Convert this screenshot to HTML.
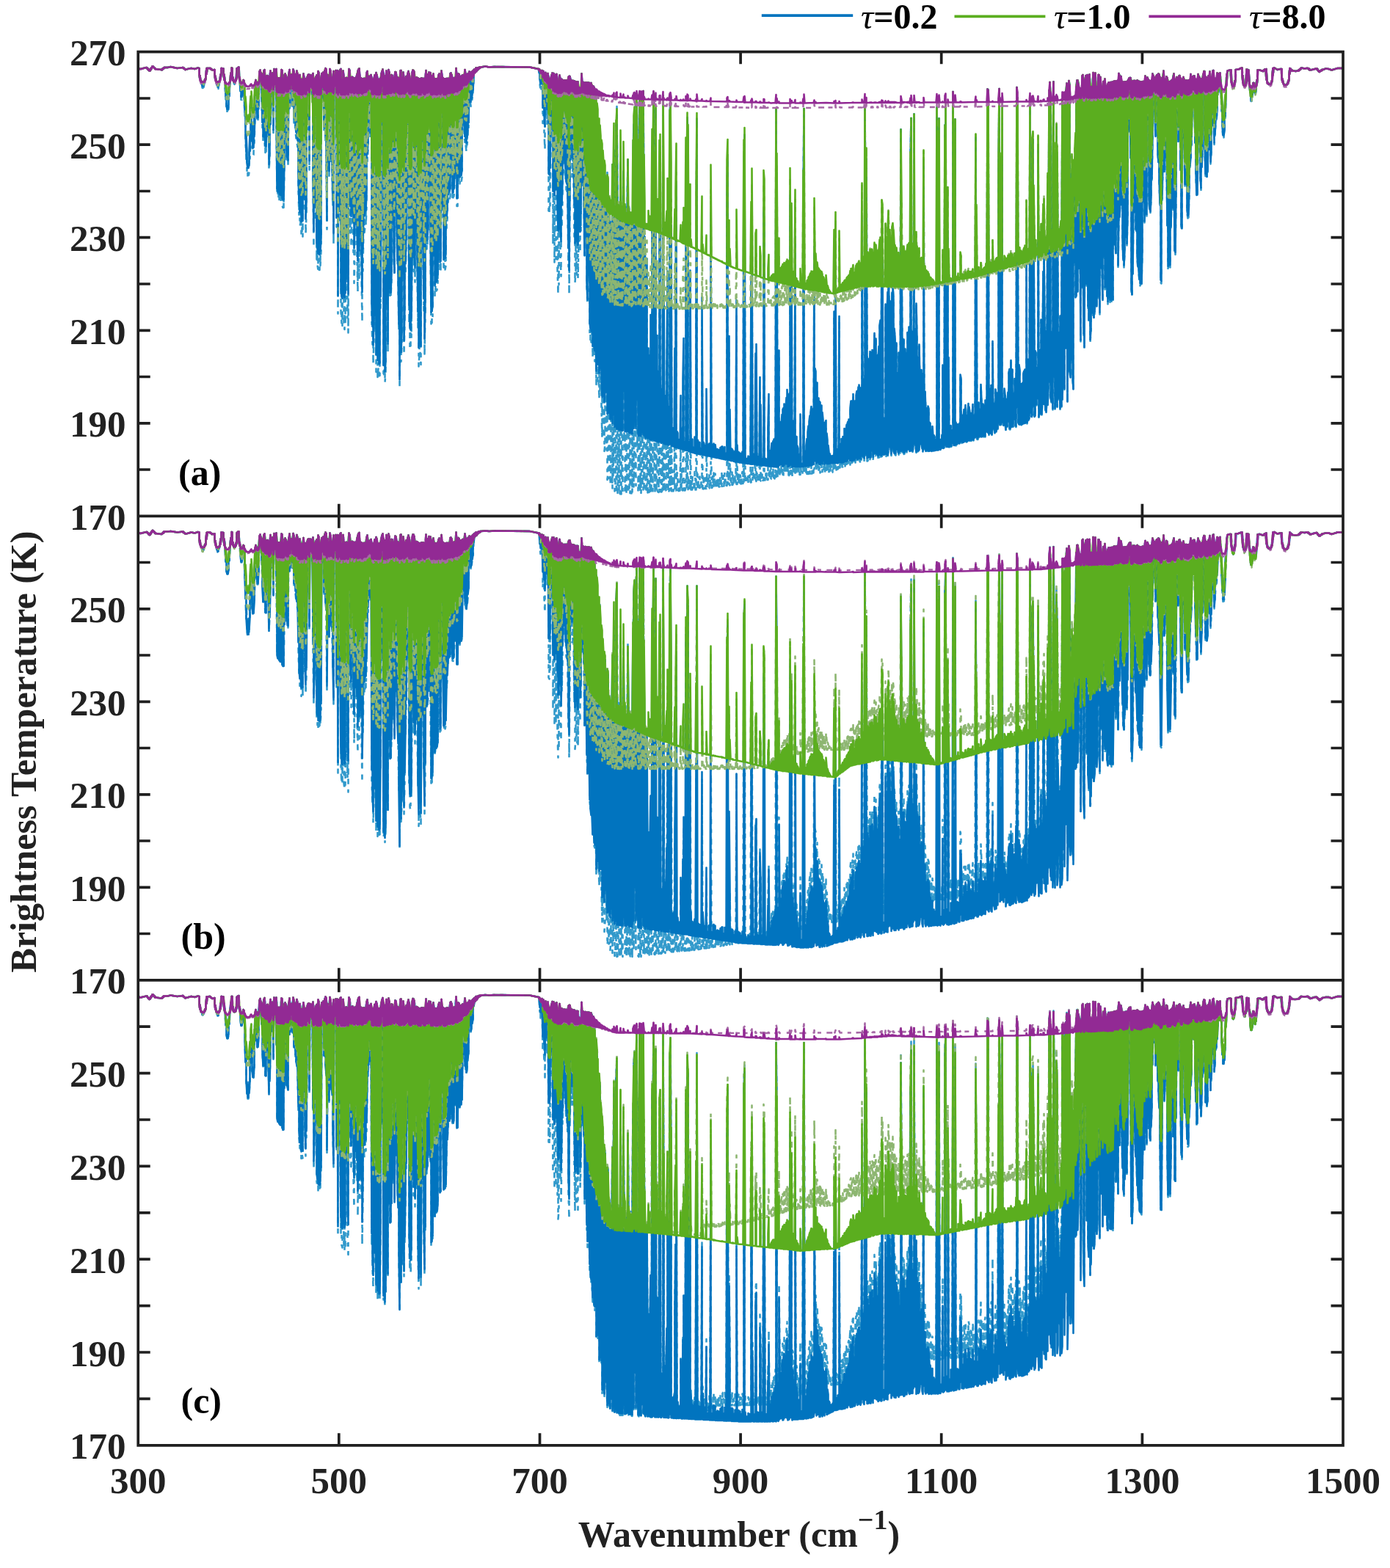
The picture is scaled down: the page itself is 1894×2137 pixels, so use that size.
<!DOCTYPE html><html><head><meta charset="utf-8"><title>Brightness temperature spectra</title><style>html,body{margin:0;padding:0;background:#fff;}svg{display:block}</style></head><body>
<svg xmlns="http://www.w3.org/2000/svg" width="1894" height="2137" viewBox="0 0 1894 2137">
<rect width="1894" height="2137" fill="#fff"/>
<clipPath id="c0"><rect x="188.2" y="70.7" width="1641.8" height="632.6"/></clipPath>
<clipPath id="c1"><rect x="188.2" y="703.3" width="1641.8" height="632.5"/></clipPath>
<clipPath id="c2"><rect x="188.2" y="1335.8" width="1641.8" height="634.0"/></clipPath>
<g clip-path="url(#c0)" fill="none" stroke-linejoin="round" stroke-linecap="butt">
<path d="M188.5 93.5l3 .5l8-2l1 .5v1l1 1v-1l1 1v1l1 1v-1l1-.5v1.5l1-1.5v-1.5l1-1.5v1.5l1-2v-1h1v1l1 .5v-.5l1 1v.5l1 1v-.5l1 .5l7 1l1-.5v1l1-1v-1l1-.5v.5l1-.5v-1h5l4-1l9 2l8-1v.5l1 1v-1l2 2.5v-.5h1l7-1.5l5 1l4-1.5l2 .5v9.5l1 6v-5.5l2 12v-4.5l1 5v4l1 .5l1-6v5l1-5.5v-3.5l1-2.5v2.5l1-2.5v-5.5l1-9v8l1-8h3l1 .5v-.5l2 2v-.5l1 1l3-.5v8l1 6v-5.5l2 14.5v-7l1 10h1v-4l1-6.5v6l2-15v6l1-7v-7.5l3 .5v6.5l1 9v-7.5l1 8v7.5l1 18.5v-17.5l1 18.5v12.5l1 5v-4.5l1-.5v5l1-6v-13l1-18.5v17.5l1-25.5l1-9v8.5l1-10v-5.5l1 .5v12l1 5v-4.5l1 4.5v3l1 2v-1.5l1-3v3.5l1-4l1-16.5v12.5l1-13l1-1l1 12.5v-13l2 35v-16l1 17v8.5h1l1-21v15l1-21l1 1v17.5l1 30.5v-29l1 31v29.5l1 27.5v-26l1 27.5v16.5l1 6.5v-6h1v6l1-7v-16.5l1-26.5v25l1-26.5v-29.5l1-14v24.5l1 30.5v-28.5l1 38.5l1-.5l1-51v35l1-37v-37.5l1-11.5l1 40.5v-36.5l1 54h1v-16l1-36.5v35l1-52l1-2v10.5l1 3.5v-10.5l1 1.5v32.5l1 41v-71.5h1v92l1-98l1-1.5v98.5l1 14.5v-104h1v104.5l1-38.5v-66.5l1-.5v43l1 41v-82.5l1 1v127l1-19v-108.5l1-8.5v77l1-31v-40l1-2.5v12l1 4.5v-17l1 4v77.5l1-87l1 2.5v18.5l1-2v-14.5l1-4.5v67l1 104v-159l1 .5v163h1v-163h1v166l1 2v-168l1-.5v169.5l1-180.5l1 1v184l1 3v-176h1v176l1-59v-121.5l1-2l1 82.5v-80.5l1 3.5v114l1 3v-116.5l1-.5v121.5l1-126.5l1-6v53l1-3.5v-41l1-1.5v13.5l1-1.5v-12.5l1 2.5v41l1-33v-17.5l1 3v70l1-66.5l1 4.5v73l1 10v-83l1-9v97.5l1 6.5v-100.5l1 7v147.5l1 39.5v-186.5l1-5.5v206.5l1-4.5v-196h1v214.5l1-5.5v-209h1v214.5l1-222l1 6.5v131.5l1 51.5v-182.5l1 .5v211l1-26.5v-185l1-2.5v71.5l1-47.5v-26.5l1-1l1 130v-126l1-3.5v16.5l1-3v-12.5h1v15l1 20v-35.5l1-2.5v157.5l1 78v-227l1-.5v192.5l1-68v-125.5l1-2.5v126.5l1 122.5v-251l1 6v252.5l1 7v-271l1 2.5v268l1 .5v-260h1v254l1-20v-235.5l1-6.5v35l1-16.5v-18l1-2l1 80.5v-78.5l1-4.5l1 97v-100l1 1.5v109.5l1 108.5v-205.5l1-5v80l1 47.5v-123.5l1 .5v134.5l1-147l1 3v126l1 .5v-118h1v125.5l1 51.5v-176l1-9.5v235l1-229.5h1v14.5l1-1v-20l1 7.5v206l1-147v-66.5l1 12v319.5l1-330.5l1 .5v145.5l1 61v-209l1-1v329.5l1 17v-332h1v335.5l1-172.5v-175l1 8.5v335.5l1 8.5v-341l1-1v336.5l1-127v-210.5h1v236.5l1 91v-326.5l1-.5v347l1-359.5l1 2v127.5l1 94v-212l1 .5v229.5l1-45.5v-185h1v151l1 88v-237.5h1v279.5l1-44.5v-235l1-.5v193.5l1 24v-217.5l1-5v251l1 46v-301l1-2.5v212l1 72.5v-285.5l1 13v243.5l1-65v-179l1 1v267l1 64v-330.5h1v262l1-66.5v-196h1v210l1-9v-201h1v201l1-27v-181.5l1-2.5v123l1-16.5v-98.5l1-1v63.5l1-.5v-63h1v84l1-33.5v-52.5l1 5.5v330l1 32v-361.5h1v388l1-34v-354l1-5.5v328.5l1 19.5v-346.5l1-5v408l1-122v-283l1 6v406l1-12v-394h1v408.5l1-1.5v-407l1-1.5v313.5l1-148.5v-170.5l1-4v15.5l1 12.5v-30.5l1 6.5v413.5l1-5.5v-403l1-2.5v418l1-14.5v-399l1-11.5v144l1 184v-323l1 3.5v375.5l1-385.5l1 4v281.5l1 26.5v-300h1v298.5l1-26v-277.5l1 1v147l1 57v-201l1 .5v243.5l1 26.5v-270l1-8.5v195l1-25v-169.5l1 7v204.5l1 49.5v-254l1 .5v279.5l1 65.5v-344.5l1 1v422.5l1-433.5l1-.5v397l1-24.5v-361l1-2.5v279.5l1-76.5v-209.5l1 9v375l1-48v-327.5l1-.5v267.5l1-42v-228h1v138.5l1 26v-168l1-3.5v151l1 191.5v-339l1 7v366l1 3.5v-369.5h1v353.5l1-114v-247.5l1-4v88l1 186.5v-274l1 2v212l1 75.5v-279l1-.5v225l1-38v-187.5l1 .5v258.5l1 82v-340l1 1v392l1-16.5v-375.5h1v371.5l1 18v-390l1-.5v221.5l1-7.5v-213.5h1v247l1 69.5v-316.5l1 .5v375l1-60.5v-314.5l1-11.5l1 243.5v-233.5l1-4.5v232l1-15v-212l1-8v95l1 62v-151l1-5.5v226l1 116.5v-338.5l1 5v332l1-8.5v-324.5l1-6.5v129.5l1 129.5v-252.5l1 .5v295.5l1-11v-284.5h1v289l1-1.5v-287.5l1-.5v280l1-119.5v-165l1-2l1 270.5v-265l1 1v262.5l1-273l1 8.5v125l1 66.5v-190.5l1 1.5v261.5l1-5v-256.5h1v260l1-5.5v-254.5l1-.5v204l1-13v-191h1v169l1-8.5v-160.5l1 .5v164l1-4v-167l1-1l1 129v-126.5l1 5v165.5l1 1v-166.5l1-.5v161l1-19.5v-142l1-.5v139.5l1-152l1 12v176h1v-175.5l1-5v88l1 61.5v-149l1 3.5v146l1-10.5v-135.5l1-.5v144.5l1-7v-138.5l1-.5v71.5l1-9v-63l1 .5v75.5l1 17.5v-100.5l1 7v95.5l1 9v-105l1-.5v96.5l1-12v-84.5l1-1v75.5l1-78l1 1.5v37.5l1 8.5v-46l1-1v42l1-6v-36.5l1-1v30l1-18.5v-12.5l1-1v4.5l1-.5v-4l1-2v5l1-1v-3.5l1-.5v3l1-1v-2l1-.5v1.5l1-.5v-1.5h1v.5l1-.5l6-1l5 1l7-.5l48 .5l12 2.5l1 5.5v-5.5l1 1v19l1 8.5v-26.5l1 1v24.5l1-25.5l1 1.5v70.5l1-14.5v-56.5l1 4v81l1 21v-103l1-1l1 57v-52.5l1-.5v66l1-69l1 7.5v183.5l1 1.5v-184.5l1-.5v173l1-83v-90.5l1-4.5v39.5l1 37.5v-80l1 1v232.5l1-143.5v-89.5l1 9.5v248l1-102v-147.5l1-6.5v251.5l1-252l1 7v258l1 34v-289l1-.5v277.5l1-285.5l1 5.5v236.5l1 32v-267.5l1-1v202.5l1-39.5v-161.5h1v125.5l1-14v-111.5h1v125.5l1 10v-135.5h1v153l1 2.5v-155.5h1v174.5l1 79.5v-258.5l1-1v297l1-126v-171l1 5v98.5l1 9.5v-107.5l1 .5v132.5l1-2v-130.5h1v128l1 84.5v-212l1 .5v274l1-14.5v-259h1v259l1 4.5v-263.5h1v268l1-48.5v-208.5l1 21v177l1 24.5v-173.5l1-47v190l1-214l1 15v137l1-64.5v-76l1 .5v155l1 81v-231l1-5v211l1-25v-186h1v276l1 26v-255l1-47v261.5l1 9v-270h1v340l1 10v-331l1-19v353.5l1-1v-349.5l1 1.5v370l1-32v-338l1 1.5v371l1 2.5v-354l1 67v239.5l1 79v-376l1 17v342.5l1 12v-327l1 98.5v218l1 35.5v-320.5l1-45.5v358.5l1-27v-250l1 48.5v245.5l1 43v-280l1-65v343.5l1-44.5v-291.5l1 101v254.5l1-9.5v-345l1-4v278.5l1 78.5v-270l1-108.5v419l1-10.5v-404l1 141.5v271l1-.5v-384.5l1 132v261.5l1-12.5v-166.5l1-141.5v286.5l1 39v-433.5l1 33.5v385.5l1-101v-326.5l1 54v392l1-4v-336.5l1-165v495.5l1 13v-527.5l1 136v391l1-27.5v-369.5l1 2v396.5h1v-135l1-293.5v395l1 33.5v-272l1-124.5v392.5l1 3.5v-307l1-119.5v360l1 2v-321l1 88v297.5l1-6.5v-364.5l1 16v354.5l1-26v-360l1-63.5v447.5l1 1v-393l1 6.5v388l1-1v-309.5l1-76.5v349.5l1 37v-384.5l1-1.5v386l1-215v-226.5l1-50v482.5l1-60v-439.5l1 126v324l1 48v-514.5l1-18.5v448.5l1 38v-325l1 128v252.5l1 1.5v-468.5l1-77.5v508l1 36.5v-261.5l1-280.5v543l1-46.5v-488l1 259.5v259l1 11.5v-543.5l1 186.5v357.5l1 .5v-312.5l1 62v254l1-3.5v-262l1-16.5v277.5l1 4v-123.5l1-18v138.5l1 2.5v-122l1-9v131l1 .5v-195l1 75.5v119.5h1v-444l1 63v379l1-140v-403l1 186v358l1 .5l1-517v506.5l1 10.5v-60l1-104.5v162l1 2l1-110v110.5l1-1.5v-405.5l1-21.5v314l1 114v-83l1 22v61l1-2l1-535.5v529.5l1 8v-272.5l1 267l1 5.5v-71.5l1-4v73.5l1 1.5v-121.5l1-145v189l1 77.5v-59l1 27.5v31l1-5v-497.5l1-29.5v523l1 8.5v-336.5l1 337l1-4v-24l1 19.5v8.5l1-3.5l1-147.5v151l1-1v-236.5l1-167v404h1v-25l1 2.5v21.5l1 1v-6l1-7.5v13.5l1-.5l1-80.5v76.5l1 4v-31.5l1 12v19l1 .5v-107.5l1-60.5v161l1 7l1-13.5v13.5l1-3.5v-426.5l1 108.5v321l1-.5v-501.5l1 31.5v469.5l1 1v-14.5l1 6v8.5l1-.5v-272l1 272h1v-8l1-12v20h1v-6.5l1-2v8.5h1v-24.5l1 11v13.5h1v-247.5l1-253v500h1v-21l1 2.5v18.5h1v-16l1-1.5v17.5h1v-6l1-4v9.5l1-4v-230l1 233.5l1 .5v-19.5l1 2.5v16.5h1v-14.5l1 8.5v6h1v-99l1 98.5h1v-9l1-8v17h1v-18.5h1v18l1-.5v-359l1 359.5l1-.5v-9l1-10v19l1-.5v-19.5l1 10.5v9.5l1-.5v-18.5l1 7v11.5h1v-10l1-3.5v13h1v-11.5l1-.5v12h1l1-16v15.5l1-.5v-16l1-1.5v18l1-.5v-18l1 8.5v9.5h1v-9l1-9.5v17.5l1 .5v-9.5l1 5v4l1 .5v-386l1-57.5v440l1 3l1-180.5v179l1 1.5v-73.5l1 72.5l1 .5v-17l1-.5v17.5l1-.5v-15.5l1 10v5.5h1v-10.5l1-5v15h1l1-233v233h1v-24.5l1 24.5l1-.5v-14.5l1 14.5h1v-13.5l1 7v6.5l1-.5v-10.5l1-5.5v16h1l1-441.5v441l1-.5v-470l1 470.5h1v-3l1-4v6.5h1l1-11v11l1-.5v-8.5l1-1.5v10h1l1-268v268l1-20.5v-345.5l1 365l1 .5v-15l1 5v9.5h1l1-158.5v155l1 3v-171l1 171h1v-7l1-5v12h1l1-125v122.5l1 2v-85.5l1 85l1-.5v-9l1 3.5v6l1-1v-363.5l1 24v340h1v-6l1-4.5v10.5l1-.5v-9l1 3.5v5.5h1v-54l1-48v100l1 1.5v-20.5l1-2v22.5l1-.5v-22.5l1-10v32.5l1-.5v-30l1-6v36l1-1.5v-37l1 6v32.5l1-5.5l1-499.5v504.5l1-9v-403.5l1 411l1 1v-51l1-113v162l1-2v-54.5l1-5.5v60.5l1-.5v-54l1-16v70l1 2v-79.5l1-2v81l1-2v-84.5l1 2v81l1-.5v-75l1-16.5v92l1-1.5v-102.5l1 17.5v90l1-.5v-87l1-14.5v100.5l1-2v-376.5l1 377l1-4v-275.5l1 282.5l1-1v-63.5l1 11v52l1 .5l1-320.5v320h1v-41l1-1v42h1v-29l1 3v25.5l1-1.5v-15.5l1 6v11h1v-73l1 73h1l1-4.5v4.5l1-.5v-371.5l1-127v498.5l1-1.5v-17l1-3v21l1 .5v-29.5l1-8.5v37.5h1v-47l1-8.5v55.5l1-.5v-61l1-8v69h1v-74l1-7.5v81.5h1v-77.5l1-.5v74l1 3l1-303.5v298.5l1-9v-119.5l1 4v124l1 4v-91l1-21.5v108l1 3v-84.5l1-4.5v89.5l1 2.5v-87.5l1 1.5v86l1-2v-76l1-4v79.5l1 2.5v-72l1 10.5v55.5l1 1.5v-53l1 7.5v50l1-4.5v-53.5l1-2.5v51.5l1 9v-42.5l1 9.5v33l1-.5v-25.5l1 9.5v16.5l1-1v-13.5l1 4v10.5l1-.5v-10l1 10l1-.5v-11.5l1 1v9.5l1-3.5v-208l1 210h1v-261l1 260.5l1-1v-10l1-9.5v19.5l1-1.5l1-202.5v199l1 3v-19l1-7.5v20.5l1 5v-32.5l1 3v29.5l1-.5v-35l1 2v33l1-1.5v-45l1 1.5v44.5l1-6v-35l1-10v50h1v-51.5l1-3v51.5l1-1.5v-53.5l1 3.5v51l1 2.5v-73l1-9.5v82.5l1-2v-53.5l1-27v82l1-.5v-91l1 27.5v59l1 4.5v-64.5l1-17.5v80l1-3v-84.5l1-6v89.5l1 4.5v-78.5l1-21v90l1 8v-101l1 9v91l1 2v-98l1 4.5v90l1-6v-319l1 207.5v113.5l1 4v-106.5l1 12.5v96l1-42v-443.5l1 176v304l1-37v-369l1 281.5v129.5l1-.5v-136.5l1 7v128.5l1-4.5v-107.5l1-33v145.5h1v-123l1-22v135l1-7v-130.5l1 8.5v138.5l1-8.5v-106.5l1-55.5v164.5l1-5v-114l1-38v157.5l1 .5v-117.5l1-18v136l1 2.5v-131.5l1-19v149l1-.5v-177.5l1-7v179l1 7v-123l1-157.5v279.5l1-4.5v-266.5l1 267l1 3.5l1-51v49.5l1-8v-197l1 37v168.5l1-17.5v-168.5l1-36.5v223l1-7v-256.5l1 57v196l1-3v-197.5l1 29v174l1 6.5v-184.5l1-36.5v213.5l1-5.5v-219.5l1 21.5v208l1 2v-171l1 11.5v159l1 1v-137.5l1-13.5v143l1 2.5v-105l1 1.5v107l1 1.5v-138l1 52v76l1 7.5l1-441v429.5l1 11v-278l1 145v132.5l1-1v-151.5h1v155l1-.5v-127l1-14.5v133.5l1 5.5v-129l1-4.5v134l1-8v-154.5l1 6.5v151.5l1 3v-168.5l1 21v149.5l1-3v-395l1-58v455l1-4v-116.5l1-42.5v163l1-6l1-454.5v443.5l1 7.5v-157l1 30.5v128.5l1 8.5v-202.5l1 49v144l1 8v-127.5l1 7v121l1-1.5v-144l1 59.5v77.5l1-7.5v-91.5l1-3v98.5l1 9v-102.5l1 31.5v75l1-11v-388l1 388l1 7v-78.5l1 28.5v53.5l1-9.5v-50l1 7.5v50.5l1-12.5v-47.5l1 3v58.5l1-5v-34.5l1 1.5v37.5l1-3v-26l1 4v25.5l1-1v-33l1 13.5v19.5h1v-21l1 2v17.5l1 1.5v-13l1-2v14.5l1-.5v-468l1 150.5v318h1v-434l1-19.5v438.5l1 13.5v-14l1 2.5v12.5l1-3.5l1-17v17.5h1v-113l1 113.5l1-1l1-440.5v435l1 2v-467.5l1 469.5l1 1l1-295.5v294.5l1 1v-122.5l1 121.5l1-2.5v-13.5l1-12.5v28l1-.5v-21l1 .5v15l1 1.5v-479.5l1 483.5l1-.5l1-445.5v431.5l1 13.5v-31l1 17.5v13l1-3v-25l1 1v17.5l1 8v-21l1-7v28l1-9.5v-84.5l1 5v76l1 11.5v-37l1 13v24h1v-31.5l1-13v44l1-2v-29l1-19v47l1 2v-35.5l1 1v34.5l1-4.5v-33l1-14v51l1-6v-40.5l1 9v36.5l1-5v-32l1 1v36l1-.5v-28.5l1-19.5v44l1 4v-30.5l1-3v24.5l1 6.5l1-410.5v408.5l1-3.5v-226l1 232.5h1v-23.5l1-25.5v46h1v-37.5l1 7.5v20.5l1 9.5v-71l1 25v47l1-1v-22.5l1-22v34l1 10v-39.5l1-2.5v40l1 2v-48.5l1 5.5v30.5l1 6.5l1-468v452l1 18v-469l1 470.5l1-9v-53.5l1 39.5v19.5l1 2.5v-66l1 46v21l1-7.5v-119.5l1 116.5l1 3v-29l1-6v40l1-7.5v-51.5l1 8.5v50l1-14.5v-39l1 11.5v37l1-39.5v-281l1-143.5v447l1 12.5v-346.5l1 343l1 2v-149.5l1-289v410.5l1 25.5v-20l1-12v37l1-13v-37.5l1 8.5v35.5l1 12.5v-34l1-8.5v31l1 6v-31.5l1-15v30l1 9.5v-65.5l1-5.5v81l1 .5v-37l1-56.5v84l1 7.5l1-79v77l1 1v-45.5l1 7.5v28.5l1-4v-52l1 15.5v48.5l1 1l1-463v381.5l1 55.5v-423l1 444.5l1 2.5v-82l1 7v73l1 1.5v-48.5l1-7v55l1 1v-47.5l1-10v53l1 3.5v-69l1-3.5v68.5l1 3v-73.5l1 26v46l1-19v-205.5l1 225.5l1-6v-42l1-39v82.5l1-1.5l1-432v415l1 9.5v-258l1 263l1-3v-368l1-8v364.5l1-2v-224.5l1 148v93.5l1-2v-88.5l1 2.5v62l1 9v-42.5l1-8v42l1-1.5v-345.5l1 372l1-4.5v-86l1-.5v53l1 34v-128.5l1 38.5v90.5l1-21v-71l1-103v157l1 24.5v-211.5l1 97v104.5l1 17.5v-102l1-5.5v111.5l1-21.5v-77l1-170v258l1-20.5v-133l1-276.5v398.5l1-15.5v-394l1 20v411.5l1 5v-95h1v73l1 32v-270.5l1-176.5v401l1 1.5v-304l1 348.5l1-30.5v-109l1-251v310.5l1 76.5v-342.5l1 183.5v149l1-35.5v-54.5l1-1v62.5l1 41.5v-127l1 2.5v114.5l1 6.5v-153.5l1-264.5v409.5l1-41.5v-362.5l1 366l1 23v-391l1 41v251l1 43.5v-350.5l1-11.5v175l1 260.5v-174l1-249v380.5l1-27.5v-369l1 6v388.5l1 11v-133.5l1-78.5v110l1 77.5v-258.5l1 62.5v221l1 15.5v-246l1-9v81.5l1-5v-106l1-44.5v204l1-1.5v-287l1-8.5v177.5l1 112v-289.5l1 4.5v253l1-131.5v-115.5h1v187l1 158.5v-343.5l1 29.5v242l1-158v-132l1-1.5v191.5l1 163.5v-338.5h1v357l1-226v-141.5l1-5v158.5l1 128v-262l1-25.5v114l1 204v-317l1 14.5v321l1-337l1 16.5v348l1-14v-333.5l1-.5v272.5l1 39v-306.5l1-24v263.5l1 73v-317.5l1-12v322l1-20v-308.5l1 18.5v297.5l1 4.5v-301.5l1 77.5v212l1-306h1v232.5l1 94v-312l1-11.5v91l1 171v-248.5l1 23v224l1 46.5v-294.5l1-6.5v149l1 91.5v-236l1-8v287l1-1.5v-274.5l1 .5v194l1 94v-290l1-2.5v300l1-25.5v-276.5h1v283.5l1 16v-299.5l1-.5v293l1 7v-300h1v297l1 2.5v-300l1-.5v225l1-16v-209.5h1v220l1 17v-237h1v200.5l1-36v-165l1 1v253l1-72v-192l1 3v194.5l1-24v-163.5l1-6v82l1 95v-170l1 .5v217.5l1 28.5v-245.5h1v252.5l1-20.5v-232.5h1v209.5l1 4.5v-214h1v223l1-39.5v-184.5l1-2v71.5l1-73.5l1-.5l1 110.5v-110.5l1 4.5v284.5l1 10v-293.5l1-1v265.5l1-99v-167h1v166.5l1 14.5v-181l1 .5v202.5l1 4v-206l1-1.5v243l1 13.5v-256l1 1v260l1 12.5v-272.5l1 .5v278l1-2v-276l1 .5v277.5l1-46.5v-231.5l1-.5v165.5l1-1.5v-164l1 .5v192l1-25v-175l1 3v137.5l1 50.5v-185l1-4l1 66v-63.5l1 1.5v164.5l1 13.5v-177h1v179.5l1-19v-161l1-1v136.5l1-59.5v-85.5l1 2.5v17.5l1-2.5v-13l1 1.5v49.5l1 31v-80.5l1-3v29l1 2v-32.5l1 1.5v105.5l1 13.5v-122l1 1v143.5l1 34.5v-174.5l1 5.5v274.5l1 1.5v-278l1-2.5v167l1-51v-117l1-8.5l1 139v-127h1v106.5l1-22v-85l1-3.5v102l1 103v-203.5l1 5.5v254.5l1-4.5v-250h1v251l1 2v-253.5l1-.5v201l1-48v-154l1-.5v137.5l1 39.5v-181l1-4.5v90l1 154.5v-234h1v236l1-86.5v-152.5l1-3v19l1 30v-47l1 2v85l1-63v-27.5l1-.5l1 131v-127.5l1 3.5v198.5l1 6v-204.5l1-2.5v82l1-36.5v-48l1 3.5v84l1 61v-143.5h1v138l1 5.5v-144l1 .5v180l1 7.5v-187.5l1-.5v187l1-38.5v-149h1v119l1-11.5v-115.5l1 7v90.5l1-54v-40l1 2v30.5l1 11v-44.5h1v33.5l1 59v-88h1v130l1 31v-160.5h1v160l1-85.5v-82l1 3.5v31.5l1 62v-92.5l1 2v137.5l1 14v-150.5l1-1v123l1-26v-98l1-5.5v16l1-1.5v-18.5l1 .5v100l1 42.5v-132l1-3v104.5l1 35v-136.5h1v128.5l1-54v-79l1 .5v101.5l1-108l1 9v117l1-16v-102l1-.5v65l1 3v-76.5l1-.5v59l1 42v-90h1v78l1-19.5v-58.5h1v56l1-10.5v-53l1 1v29.5l1-6v-18.5l1-5.5v16.5l1-2v-15l1 13l1 39.5v-28l1 29.5v21.5l1 12.5v-11.5l1 6.5v5l1-6v-19.5l1-28.5v27.5l1-29v-17l1-13.5v13.5l1-18.5l4-1l1 15v-15l1 20l1 3.5v-3l1 3v1.5l1-2v-3l1-5.5v5l1-6v-14l4-.5l5-2v9l1 11.5v-10l1 13l1 1v-1h1v1l1-1l1-21.5v18l1-17.5h1l1 15.5v-15l2 34.5v-13.5l1 14v7.5h1l1-21v15l1-19h1l1 14.5v-10.5l1 7.5v4l1-4.5v-8l1-7v6.5l1-7.5v-12.5h3l4 1.5l1-1v1l1-1v-.5l1-1v1l1-1l1 14v-14.5l1 18l1 2v-1.5l1 1.5v1h1h2l1-4.5v3l1-3.5v-7l1-10v9.5l1-9.5l1-.5l4 2.5l4-1h2v13l1 5v-4.5l1 4.5v2l1 1.5v-1l1 1.5h1h1l1-1.5v1l1-1v-1.5l1-3.5v3l1-3.5v-7.5l1-8.5v7.5l1-7l2 3v-1l1 1l4 .5l3-.5l1-1v1l1-1v-.5l1-1v1l1-1v-1l1-.5l4 1l3-.5h2v.5l1 1v-1l1 1v1h1l8-2l1 1v-1l1 1v1l1 1.5v-1l1 1v1l1-.5v-.5l2-.5v-1l1-.5v.5l1-.5l4-1.5l4 .5l4 1.5l8-2.5h7" stroke="#3199CB" stroke-width="2.6" stroke-dasharray="7 7 5 8 8 6 6 9"/>
<path d="M188.5 93.5l3 .5l8-2l1 .5v1l1 1v-1l1 1v1l1 1v-1l1-.5v1.5l1-1.5v-1.5l1-1.5v1.5l1-2v-1h1v1l1 .5v-.5l1 1v.5l1 1v-.5l1 .5l7 1l1-.5v1l1-1v-1l1-.5v.5l1-.5v-1h5l4-1l9 2l8-1v.5l1 1v-1l2 2.5v-.5h1l7-1.5l5 1l4-1.5l2 .5v9.5l1 6v-5.5l1 7.5l1 2.5v-2.5l1 3v3.5l1 .5l1-5.5v4.5l1-6.5l1-2.5v2.5l1-2.5v-5.5l1-9v8l1-8h3l1 .5v-.5l2 2v-.5l1 1l3-.5v8l1 6v-5.5l1 7.5l1 5v-5l1 5v2.5h1v-4l1-4v4l1-4l1-9v6l1-7v-7.5l3 .5v6.5l1 9v-7.5l1 8l1 22v-15.5l1 16.5v11.5l1 5v-4.5l1-.5v5l1-5.5v-12.5l1-17v16.5l1-22l1-9v8.5l1-10v-5.5l1 .5v12l1 5v-4.5l1 6l1 1.5v-1.5l1-1v1.5l1-2l1-16.5v12.5l1-13l1-1l1 12.5v-13l2 32v-13l1 14v7.5h1l1-19v14l1-18l1 1v14.5l1 28v-26.5l1 28.5v26.5l1 25.5v-24l1 25v15l1 6.5v-5.5h1v5.5l1-6.5v-15l1-24.5v23l1-24.5v-27l1-12.5v22.5l1 28v-26l1 35l1-.5l1-46.5v31.5l1-33.5v-34.5l1-9l1 35.5v-33l1 49h1v-14.5l1-33.5v32l1-47l1-2v10.5l1 3.5v-10.5l1 1.5v29l1 37.5v-64.5h1v83.5l1-89.5l1-1.5v90.5l1 13.5v-95h1v95.5l1-35v-61l1-.5v39l1 39v-76.5l1 1v118.5l1-17.5v-101.5l1-8.5v72.5l1-29v-37.5l1-2.5v12l1 4.5v-17l1 4v73.5l1-83l1 2.5v18.5l1-2v-14.5l1-4.5v64l1 99v-151l1 .5v155h1v-155h1v157.5l1 1.5v-159l1-.5v160l1-171l1 1v174l1 2.5v-165.5h1v165l1-55.5v-114l1-2l1 77v-75l1 3.5v106l1 3v-108.5l1-.5v112.5l1-117.5l1-6v49.5l1-3.5v-37.5l1-1.5v13.5l1-1.5v-12.5l1 2.5v37l1-29v-17.5l1 3v64l1-60.5l1 4.5v66l1 9v-75l1-9v89l1 6v-91.5l1 7v133.5l1 36v-169l1-5.5v187.5l1-4.5v-177h1v194l1-5.5v-188.5h1v193l1-200.5l1 6.5v118l1 46.5v-164l1 .5v190l1-23.5v-167l1-2.5v64l1-43v-23.5l1-1l1 117.5v-113.5l1-3.5v16.5l1-3v-12.5h1v15l1 16v-31.5l1-2.5v143.5l1 71.5v-206.5l1-.5v175l1-62v-114l1-2.5v115l1 112.5v-229.5l1 6v231l1 6.5v-249l1 2.5v246.5l1 1v-239h1v234l1-18v-217.5l1-6.5v32l1-14.5v-17l1-2l1 74.5v-72.5l1-4.5l1 91v-94l1 1.5v103l1 102.5v-193l1-5v75l1 45v-116l1 .5v126.5l1-139l1 3v119h1v-110.5h1v118l1 48.5v-165.5l1-9.5v221.5l1-216h1v14.5l1-1v-20l1 7.5v193l1-138.5v-62l1 12v295.5l1-306.5l1 .5v132.5l1 55v-190l1-1v297.5l1 13.5v-296.5h1v298l1-154.5v-155.5l1 8.5v295l1 5.5v-297.5l1-1v292.5l1-112.5v-181h1v202l1 76v-277l1-.5v294l1-306.5l1 2v106.5l1 78v-175l1 .5v189l1-39v-151h1v123l1 74.5v-196h1v232l1-36v-196l1-.5v161.5l1 21.5v-183l1-5v213l1 41.5v-258.5l1-2.5v182.5l1 64.5v-248l1 13v210.5l1-55.5v-155.5l1 1v234l1 57v-290.5h1v231.5l1-58v-174h1v187l1-7.5v-179.5h1v180l1-24v-163.5l1-2.5v112l1-15v-89l1-1v57.5l1-.5v-57h1v77l1-31v-48l1 5.5v306.5l1 31v-337h1v362l1-31v-331l1-5.5v308l1 19v-325.5l1-5v384.5l1-114.5v-267l1 6v383l1-10v-373h1v388l1-1.5v-386.5l1-1.5v298l1-141v-162.5l1-4v15.5l1 11v-29l1 6.5v397l1-5v-387l1-2.5v403l1-13.5v-385l1-11.5v139l1 178.5v-312.5l1 3.5v363.5l1-373.5l1 4v274l1 26v-292h1v291.5l1-25.5v-271l1 1v143.5l1 56.5v-197l1 .5v239l1 26v-265l1-8.5v192l1-24v-167.5l1 7v202l1 47.5v-249.5l1 .5v273l1 62.5v-335l1 1v410l1-421l1-.5v384l1-25v-347.5l1-2.5v268l1-74.5v-200l1 9v357.5l1-47v-311l1-.5v253l1-40v-215.5h1v129.5l1 24.5v-157.5l1-3.5v141l1 178v-315.5l1 7v339.5l1 2.5v-342h1v326l1-105.5v-228.5l1-4v81.5l1 173.5v-254.5l1 2v196.5l1 71v-259l1-.5v208.5l1-35v-174l1 .5v241l1 77v-317.5l1 1v366.5l1-15.5v-351h1v347.5l1 17.5v-365.5l1-.5v207.5l1-6.5v-200.5h1v232.5l1 66v-298.5l1 .5v354l1-57v-297l1-11.5l1 231.5v-221.5l1-4.5v220l1-14v-201l1-8v90l1 59v-143l1-5.5v215l1 111.5v-322.5l1 5v316l1-7.5v-309.5l1-6.5v123.5l1 124v-241l1 .5v282l1-10v-272h1v276.5l1-1.5v-275l1-.5v267.5l1-114.5v-157.5l1-2l1 257v-251.5l1 1v249l1-259.5l1 8.5v118l1 62.5v-179.5l1 1.5v246.5l1-5v-241.5h1v244.5l1-6v-238.5l1-.5v191l1-12.5v-178.5h1v158l1-8v-150l1 .5v153l1-3.5v-156.5l1-1l1 121v-118.5l1 5v155l1 .5v-155.5l1-.5v151l1-18.5v-133l1-.5v130.5l1-143l1 12v165.5l1-.5v-164.5l1-5v82.5l1 58v-140l1 3.5v137l1-9.5v-127.5l1-.5v134.5l1-6.5v-129l1-.5v65.5l1-9v-57l1 .5v68.5l1 15v-91l1 7v85.5l1 7.5v-93.5l1-.5v86l1-11.5v-74.5l1-1v66.5l1-69l1 1.5v32.5l1 7.5v-40l1-1v36.5l1-5.5v-31.5l1-1v26l1-16.5v-10.5l1-1v4.5l1-.5v-4l1-2v5l1-1v-3.5l1-.5v3l1-1v-2l1-.5v1.5l1-.5v-1.5h1v.5l1-.5l6-1l5 1l7-.5l48 .5l12 2.5l1 4v-4l1 1v13l1 6.5v-18.5l1 1v17l1-18l1 1.5v49.5l1-10.5v-39.5l1 4v56l1 15.5v-72.5l1-1l1 40.5v-36l1-.5v46l1-49l1 7.5v129l1 1.5v-130l1-.5v121.5l1-60v-62l1-4.5v27l1 25.5v-55.5l1 1v160l1-102v-58.5l1 9.5v157l1-67v-91.5l1-6.5v156.5l1-157l1 7v176.5l1 30v-203.5l1-.5v202l1-210l1 5.5v191.5l1 29.5v-220l1-1v171.5l1-31.5v-138.5h1v108l1-11.5v-96.5h1v110.5l1 10v-120.5h1v138l1 3.5v-141.5h1v159.5l1 68.5v-232.5l1-1v264.5l1-115.5v-149l1 5v82.5l1 5.5v-87.5l1 .5v105l1-4.5v-100.5h1v99l1 70v-168.5l1 .5v220.5l1-11v-209h1v211.5l1 6.5v-218h1v222.5l1-39v-176l1 18v152l1 27v-154l1-39.5v169.5l1-191.5l1 15v133l1-60.5v-76l1 .5v153l1 82.5v-230.5l1-5v210l1-25v-185h1v272.5l1 23.5v-245l1-51v254l1 8.5v-262h1v326.5l1 8v-315.5l1-19v338.5l1-1v-334.5l1 1.5v354.5l1-30.5v-324l1 1.5v356.5l1 2.5v-341l1 64.5v230.5l1 73.5v-359.5l1 16v323l1 11.5v-309.5l1 91.5v203l1 27v-294l1-42.5v329.5l1-29.5v-212l1 28v219.5l1 34v-247.5l1-59.5v305.5l1-44.5v-234l1 65.5v220.5l1-13v-295.5l1 21v213l1 61.5v-229l1-67v325.5l1-8v-312.5l1 92.5v227l1 .5v-292.5l1 80.5v220l1-10.5v-140l1-118.5v241.5l1 33v-353l1 45v296.5l1-84.5v-276.5l1 76.5v301l1-2.5v-285l1-126.5v406.5l1 10.5v-436.5l1 136v300l1-23.5v-282l1 1.5v305l1 .5v-114.5l1-248.5v335l1 28.5v-230.5l1-75v302.5l1 3.5v-260.5l1-93v297.5l1 2v-241.5l1 43.5v253l1-5v-290l1 1v294.5l1-22v-276.5l1-72.5v370l1 1v-306l1 6v301.5l1-.5v-264.5l1-35v269l1 31.5v-298.5l1-1.5v300.5l1-184v-190l1-47.5v414.5l1-51.5v-377.5l1 139v248l1 42v-433l1-22v382.5l1 33v-250l1 80.5v217.5l1 1.5v-404l1-63.5v435.5l1 31.5v-226l1-238.5v465.5l1-39v-422l1 224v224.5l1 10v-468l1 159v310l1 1v-271.5l1 54v220.5l1-2.5v-228l1-14v241.5l1 3.5v-107.5l1-15.5v121l1 2v-105.5l1-8v114.5l1 .5v-170l1 65.5v105h1v-388l1 55v332l1-122.5v-351l1 161.5v313.5l1 1l1-453.5v444.5l1 9.5v-53l1-91.5v143l1 2l1-96.5v97l1-1v-357l1-19v276.5l1 101.5v-73.5l1 20v53.5l1-1.5l1-472v467l1 7.5v-241l1 236.5l1 5.5v-63.5l1-3v65l1 1.5v-107.5l1-128.5v168l1 69v-52.5l1 25v27.5l1-4v-443l1-24.5v464.5l1 7.5v-300l1 301l1-3.5v-21.5l1 25.5l1-2.5l1-131.5v135l1-.5v-212l1-149v362h1v-22l1 2v20l1 1v-5.5l1-6.5v12h1l1-72v68.5l1 4.5v-28.5l1 11v17.5l1 .5v-96.5l1-55v146l1 6l1-11.5v12l1-2v-386l1 98.5v289.5l1 .5v-454l1 28.5v425.5l1 1v-13l1 5.5v7.5l1 .5v-247l1 247.5l1 .5v-7.5l1-10.5v18l1 .5v-6l1-1.5v7.5l1 .5v-22l1 10.5v12h1v-225.5l1-231v457h1v-19l1 2.5v16.5l1 .5v-15l1-1v16l1 .5v-5.5l1-3.5v8.5l1-3v-211l1 214.5l1 .5v-17.5l1 2.5v15l1 .5v-13.5l1 8.5v5l1 .5v-91l1 91l1 .5v-8.5l1-7.5v16h1v-17l1 .5v17h1v-332l1 332.5h1v-8.5l1-8.5v17.5h1v-18.5l1 10.5v8l1 .5v-17.5l1 7v10.5l1 .5v-9.5l1-2.5v12h1v-10.5l1-.5v11.5h1l1-14.5v15l1-.5v-14.5l1-1.5v17h1v-17l1 8v9l1 .5v-8.5l1-8.5v16.5l1 1v-9l1 4.5v4l1 .5v-361.5l1-54v413l1 3l1-169v168l1 1.5v-69.5l1 69l1 1v-16.5l1 .5v16h1v-14.5l1 10v5l1 .5v-10l1-4.5v14.5l1 .5l1-220.5v220.5h1v-23l1 23l1 .5v-14l1 14.5h1v-13l1 7v6h1v-9.5l1-5.5v15.5h1l1-419v419h1v-447.5l1 448h1v-2.5l1-4v6.5l1 .5l1-10.5v10.5h1v-8.5l1-1v9.5l1 .5l1-256v256l1-19.5v-330l1 349.5h1v-14l1 5v9l1 .5l1-151.5v148l1 3.5v-164l1 164.5h1v-6.5l1-5v11.5h1l1-119.5v117.5l1 2.5v-82.5l1 82.5h1v-9l1 3.5v6l1-1v-350l1 23.5v327.5h1v-5.5l1-4v10h1v-9l1 4v5h1v-52l1-46v97l1 1.5v-20l1-1.5v21.5h1v-21.5l1-10v31.5h1v-29l1-5.5v35l1-1.5v-36l1 6.5v31l1-4.5l1-484v489l1-8.5v-392.5l1 400l1 1v-49.5l1-109.5v157l1-1.5v-53l1-5v58.5l1-.5v-52l1-16v68.5l1 2v-77.5l1-2v79l1-1.5v-83l1 2.5v79l1-.5v-73l1-16.5v90.5l1-1.5v-100l1 17v88l1-.5v-84.5l1-14.5v98.5l1-2v-367.5l1 368l1-4v-269l1 276l1-.5v-62.5l1 11v51l1 .5l1-313.5v313.5h1v-40.5l1-.5v41h1v-28.5l1 3.5v25l1-1.5v-15.5l1 6.5v10.5h1v-71.5l1 71.5h1l1-4.5v4.5h1v-364.5l1-123.5v487.5l1-1v-17l1-3v20.5l1 .5v-29l1-8.5v37h1v-46l1-8.5v54.5l1-1v-59.5l1-8v67.5l1 .5v-72.5l1-8v80h1v-75.5l1-1v72.5l1 3l1-297v292l1-9v-117l1 4v121l1 4.5v-89.5l1-20.5v105l1 3.5v-83l1-4.5v87.5l1 2.5v-85.5l1 1.5v84.5l1-2.5v-74.5l1-3.5v77.5l1 2v-70l1 10v54.5l1 1.5v-52l1 7.5v49l1-4.5v-52.5l1-2.5v50.5l1 8.5v-41.5l1 9.5v32l1-.5v-24.5l1 9v16l1-1v-13l1 3.5v10h1v-10l1 10h1v-10.5l1 .5v9.5l1-3v-203.5l1 206.5h1v-256l1 256h1v-10l1-9v19l1-1l1-199v196.5l1 2.5v-18l1-7v20l1 5.5v-32.5l1 3v29.5l1-.5v-35l1 2.5v32.5l1-1.5v-44.5l1 1.5v44l1-5.5v-34.5l1-10.5v49.5h1v-51l1-3v51l1-1v-53l1 3.5v50.5l1 2.5v-72l1-9.5v81.5l1-2v-52.5l1-27.5v82l1-1v-90l1 27.5v58.5l1 4v-63.5l1-17.5v79l1-2.5v-84l1-5.5v88.5l1 4.5v-77.5l1-21v89l1 8v-100l1 9v90l1 2v-97l1 4.5v89.5l1-6v-316.5l1 206v112.5l1 4v-106l1 13v95l1-41.5v-439.5l1 174.5v301l1-36.5v-366l1 279v128.5h1v-135.5l1 6.5v128l1-4.5v-107l1-32.5v144.5h1v-122l1-21.5v134l1-7v-130l1 9v137l1-8.5v-105.5l1-55v163.5l1-5v-113l1-38v156.5l1 .5v-117l1-17.5v135l1 2.5v-131l1-18.5v148l1-.5v-176l1-7v177.5l1 7v-122l1-156.5v278l1-4.5v-265l1 265.5l1 3.5l1-50.5v49l1-7.5v-196.5l1 37v167.5l1-17.5v-167.5l1-36v222l1-7.5v-255l1 57v194.5l1-2.5v-196.5l1 28.5v173.5l1 6.5v-184l1-36v212l1-5v-218.5l1 21.5v207l1 2v-170l1 11.5v158l1 1v-136.5l1-14v142.5l1 2.5v-104.5l1 1.5v106.5l1 1.5v-137l1 51.5v76l1 7l1-438.5v427l1 11v-276.5l1 144.5v132l1-1v-151h1v154.5l1-.5v-126.5l1-14.5v133l1 5.5v-128.5l1-4.5v133.5l1-8v-153.5l1 6v151l1 3v-167.5l1 20.5v149l1-3v-393l1-58v453.5l1-4v-116.5l1-42v162.5l1-6l1-453v441.5l1 7.5v-156.5l1 31v127.5l1 9v-202l1 48.5v143.5l1 8.5v-127l1 6.5v121l1-1.5v-143.5l1 59v77l1-7v-91l1-3.5v98.5l1 9v-102.5l1 31.5v75l1-11v-387l1 387l1 7v-78l1 28.5v53l1-9.5v-49.5l1 7v50.5l1-12.5v-47.5l1 3.5v58l1-5v-34.5l1 1.5v37.5l1-2.5v-26.5l1 4.5v25l1-1v-33l1 14v19l1 .5v-21.5l1 2v17.5l1 1.5v-13l1-2v14.5h1v-467l1 150v317h1v-432.5l1-19.5v437l1 14v-14l1 2.5v12l1-3.5l1-17v18h1v-113l1 113.5l1-1l1-439.5v434l1 1.5v-466l1 468l1 1l1-294.5v293.5l1 1v-122l1 121.5l1-3v-13l1-12.5v27.5h1v-21.5l1 1v15l1 1.5v-478.5l1 482h1l1-444.5v430l1 13.5v-30.5l1 17.5v12.5l1-3v-24.5l1 1v17.5l1 8v-21.5l1-6.5v28l1-9.5v-84.5l1 5v76l1 11v-37l1 13v24l1 .5v-32l1-13v44.5l1-2v-29l1-19.5v47l1 2.5v-35.5l1 1v34.5l1-4.5v-33.5l1-13.5v50.5l1-5.5v-40.5l1 9v36.5l1-5v-32l1 1v35.5h1v-28.5l1-20v44.5l1 4v-30.5l1-3.5v24.5l1 6.5l1-409.5v407.5l1-3v-225.5l1 231.5h1v-23l1-26v46h1v-37l1 7.5v20.5l1 9.5v-71l1 24.5v47l1-1v-22.5l1-21.5v34l1 9.5v-39.5l1-2v39.5l1 2.5v-49l1 6v30.5l1 6.5l1-467v450.5l1 18v-467.5l1 469l1-9v-53l1 39.5v19l1 3v-66l1 46v21l1-8v-119l1 116l1 3v-28.5l1-6v40l1-8v-51l1 8.5v49.5l1-14v-39l1 11.5v37l1-40v-280l1-143v445.5l1 12.5v-345.5l1 342.5l1 1.5v-149l1-288v409.5l1 25.5v-20l1-12.5v37l1-12.5v-38l1 9v35l1 12.5v-33.5l1-8.5v31l1 6v-32l1-14.5v29.5l1 10v-66l1-5v80.5l1 .5v-36.5l1-56.5v84l1 7l1-78.5v77l1 1v-45.5l1 7.5v28l1-4v-51.5l1 15.5v48l1 1l1-461.5v380.5l1 55.5v-422l1 443.5l1 2v-81.5l1 7v73l1 1v-48l1-7v54.5l1 1v-47l1-10v53l1 3v-69l1-3v68l1 3.5v-73.5l1 26v46l1-19v-205l1 224.5l1-6v-41.5l1-39v82.5l1-1.5l1-430v413l1 9v-257l1 262.5l1-3v-367.5l1-8v363.5l1-1.5v-224l1 147.5v93l1-1.5v-88.5l1 2.5v61.5l1 9v-42.5l1-7.5v42l1-2v-344l1 371l1-5v-85.5l1-.5v53l1 33.5v-128l1 38.5v90.5l1-21.5v-70.5l1-102.5v156.5l1 24.5v-211.5l1 97v104.5l1 17.5v-102l1-5.5v111l1-21v-77l1-169.5v257.5l1-20.5v-133l1-275.5v397.5l1-16v-392.5l1 20v410.5l1 4.5v-94.5h1v72.5l1 32v-269.5l1-176v399.5l1 2v-303.5l1 348l1-31v-108.5l1-249v308.5l1 76.5v-341.5l1 182.5v148.5l1-35.5v-54l1-1v62.5l1 41v-126l1 2v114.5l1 6.5v-153.5l1-263.5v408l1-41v-361.5l1 365l1 22.5v-389.5l1 41v250l1 43.5v-349.5l1-11.5v174.5l1 259.5v-173l1-247.5v378.5l1-27.5v-368l1 6v387.5l1 11v-133.5l1-78v109.5l1 77.5v-258l1 62.5v220.5l1 15.5v-245.5l1-9.5v82l1-5.5v-105.5l1-44.5v203.5l1-2v-285.5l1-8.5v176.5l1 111.5v-288l1 4.5v252l1-131.5v-114.5h1v186l1 157.5v-341.5l1 29.5v240l1-157v-131l1-1.5v190l1 162.5v-336h1v354.5l1-225v-140l1-5v157l1 127v-259.5l1-25.5v113l1 202v-314l1 14.5v318.5l1-334.5l1 16.5v345l1-14v-330.5l1-.5v270l1 38.5v-303.5l1-24v261l1 73v-315l1-12v319l1-19.5v-306l1 18.5v294.5l1 5v-299l1 77v209.5l1-303h1v230.5l1 93v-309l1-11.5v90l1 169.5v-246l1 23v221.5l1 46v-291.5l1-6.5v147.5l1 90.5v-233.5l1-8v284l1-1.5v-271.5l1 .5v191.5l1 93.5v-287l1-2.5v296.5l1-25v-273.5h1v280.5l1 16v-296.5l1-.5v289.5l1 7.5v-297h1v294l1 2v-296.5l1-.5v222.5l1-16v-207h1v218l1 16.5v-234.5h1v198l1-35v-163.5l1 1v250.5l1-71.5v-190l1 3v192.5l1-24v-161.5l1-6v81.5l1 93.5v-168l1 .5v215l1 28v-242.5h1v249.5l1-20v-230h1v207.5l1 4v-211.5h1v220.5l1-39v-182.5l1-2v70.5l1-72.5l1-.5l1 109.5v-109.5l1 4.5v281.5l1 9.5v-290l1-1v263l1-98.5v-165h1v165l1 14v-179l1 .5v200.5l1 4v-204l1-1.5v240l1 14v-253.5l1 1v257l1 12.5v-269.5l1 .5v275l1-2v-273l1 .5v274.5l1-46v-229l1-.5v163.5l1-1.5v-162l1 .5v190l1-25v-173l1 3v136l1 49.5v-182.5l1-4l1 65v-62.5l1 1.5v162.5l1 13.5v-175h1v177.5l1-19v-159l1-1v134.5l1-58.5v-84.5l1 2.5v17.5l1-2.5v-13l1 1.5v49l1 30.5v-79.5l1-3v28.5l1 2v-32l1 1.5v104.5l1 13v-120.5l1 1v142l1 34v-172.5l1 5.5v271l1 1.5v-274.5l1-2.5v165l1-50.5v-115.5l1-8.5l1 137.5v-125.5h1v105.5l1-22.5v-83.5l1-3.5v100.5l1 102.5v-201.5l1 5.5v251.5l1-4.5v-247h1v248l1 2v-250.5l1-.5v198l1-47v-152l1-.5v136l1 38.5v-178.5l1-4.5v89l1 152.5v-231h1v233l1-85.5v-150.5l1-3v18.5l1 30v-46.5l1 2v84l1-62.5v-27l1-.5l1 129v-125.5l1 3.5v195.5l1 6v-201.5l1-2.5v80.5l1-36v-47l1 3.5v82.5l1 60v-141h1v135.5l1 5.5v-141.5l1 .5v177l1 7v-184l1-.5v183.5l1-37.5v-146.5h1v116.5l1-11v-113.5l1 7v89l1-52.5v-40l1 2v30.5l1 10v-43.5h1v33.5l1 57.5v-86.5h1v127.5l1 30.5v-157.5h1v157l1-84v-80.5l1 3.5v30.5l1 61v-90.5l1 2v134.5l1 14v-147.5l1-1v120.5l1-25.5v-96l1-5.5v16l1-1.5v-18.5l1 .5v98l1 41.5v-129l1-3v102l1 34v-133h1v125.5l1-53v-77l1 .5v99.5l1-106l1 9v114l1-15.5v-99.5l1-.5v63l1 3v-74.5l1-.5v57.5l1 41v-87.5h1v76l1-19v-57h1v54l1-10v-51.5l1 1v28.5l1-6v-17.5l1-5.5v16.5l1-2v-15l1 13l1 37.5v-27l1 28.5v20.5l1 12.5v-11.5l1 6.5v5l1-6v-18.5l1-27.5v26l1-27.5v-16l1-13.5v13.5l1-18.5l4-1l1 15v-15l1 20l1 2.5v-2l1 2v1.5l1-1.5v-2.5l1-5.5v5l1-6v-14l4-.5l5-2v9l1 11.5v-10l1 13l1 1v-1h1v1l1-1l1-21.5v18l1-17.5h1l1 15.5v-15l2 33.5v-12.5l1 13v7h1l1-19.5v13.5l1-17.5h1l1 13.5v-9.5l1 6.5v4l1-4.5v-7l1-7v6.5l1-7.5v-12.5h3l4 1.5l1-1v1l1-1v-.5l1-1v1l1-1l1 14v-14.5l1 18l1 2v-1.5l1 1.5v1h1h2l1-4.5v3l1-3.5v-7l1-10v9.5l1-9.5l1-.5l4 2.5l4-1h2v13l1 5v-4.5l1 4.5v2l1 1.5v-1l1 1.5h1h1l1-1.5v1l1-1v-1.5l1-3.5v3l1-3.5v-7.5l1-8.5v7.5l1-7l2 3v-1l1 1l4 .5l3-.5l1-1v1l1-1v-.5l1-1v1l1-1v-1l1-.5l4 1l3-.5h2v.5l1 1v-1l1 1v1h1l8-2l1 1v-1l1 1v1l1 1.5v-1l1 1v1l1-.5v-.5l2-.5v-1l1-.5v.5l1-.5l4-1.5l4 .5l4 1.5l8-2.5h7" stroke="#0174BF" stroke-width="2.6"/>
<path d="M188.5 93.5l3 .5l8-2l1 .5v1l1 1v-1l1 1v1l1 1v-1l1-.5v1.5l1-1.5v-1.5l1-1.5v1.5l1-2v-1h1v1l1 .5v-.5l1 1v.5l1 1v-.5l1 .5l7 1l1-.5v1l1-1v-1l1-.5v.5l1-.5v-1h5l4-1l9 2l8-1v.5l1 1v-1l2 2.5v-.5h1l7-1.5l5 1l4-1.5l2 .5v9.5l1 6v-5.5l1 7.5l1 2v-2l1 2.5v3h1l1-4.5v4l1-5.5l1-2.5v2.5l1-2.5v-5.5l1-9v8l1-8h3l1 .5v-.5l2 2v-.5l1 1l3-.5v8l1 6v-5.5l1 7.5l1 4v-4l1 6l1-.5v-3l1-3v3l1-3l1-9v6l1-7v-7.5l3 .5v6.5l1 9v-7.5l1 8l1 17v-11.5l1 12v7.5l1 3v-2.5l1-.5v3l1-3.5v-8l1-12.5v12l1-17l1-9v8.5l1-10v-5.5l1 .5v12l1 5v-4.5l1 6l1 1v-1l1-1v1.5l1-2l1-16.5v12.5l1-13l1-1l1 12.5v-13l1 18.5l1 10.5v-10l1 10.5v5.5h1l1-14v10.5l1-14l1 1v11.5l1 19v-18l1 19v16.5l1 14.5v-14l1 14.5v8l1 3.5v-3h1v3l1-3.5v-8.5l1-13.5v13l1-14v-16.5l1-8.5v14.5l1 16.5v-15.5l1 21l1-.5l1-27.5v19l1-20.5v-23.5l1-7.5l1 26v-23.5l1 34h1l1-33v22.5l1-23.5v-14l1-2v10.5l1 3.5v-10.5l1 1.5v24.5l1 24.5v-47h1v58l1-64l1-1.5v70l1 12v-73h1v75.5l1-21v-55l1-.5v38.5l1 27.5v-64.5l1 1v91.5l1-11.5v-80.5l1-8.5v63l1-21.5v-35.5l1-2.5v12l1 4.5v-17l1 4v60l1-69.5l1 2.5v18.5l1-2v-14.5l1-4.5v56.5l1 64v-108.5l1 .5v111l1 .5v-111.5h1v113.5l1 1.5v-115l1-.5v116.5l1-127.5l1 1v130l1 2v-121h1v121l1-34.5v-91l1-2v22l1 46v-66l1 3.5v86.5l1 2v-88l1-.5v91.5l1-96.5l1-6v50l1-3v-38.5l1-1.5v13.5l1-1.5v-12.5l1 2.5v39l1-31v-17.5l1 3v63l1-59.5l1 4.5v63.5l1 7.5v-71l1-9v84l1 5v-85.5l1 7v114.5l1 25v-139l1-5.5v154l1-2.5v-145.5h1v158l1-3.5v-154.5h1v158l1-165.5l1 6.5v107l1 33v-139.5l1 .5v157.5l1-16.5v-141.5l1-2.5v66l1-38v-30.5l1-1l1 108v-104l1-3.5v20.5l1-7v-12.5h1v17.5l1 20v-38l1-2.5v127.5l1 49v-168l1-.5v147l1-44v-104l1-2.5v105.5l1 78v-185.5l1 6v184.5l1 4v-200l1 2.5v198l1 1v-190.5h1v187.5l1-12v-177l1-6.5v39l1-14.5v-24l1-2l1 76.5v-74.5l1-4.5v30.5l1 60v-93.5l1 1.5v100.5l1 74v-162l1-5v76.5l1 35v-107.5l1 .5v114.5l1-127l1 3v110.5l1-.5v-101.5h1v106.5l1 33.5v-139l1-9.5v179.5l1-174h1v17.5l1-4v-20l1 7.5v156l1-99.5v-64l1 12v220.5l1-159v-72.5l1 .5v119l1 39v-160.5l1-1v231.5l1 9v-226h1v228l1-101.5v-138.5l1 8.5v229.5l1 4.5v-231l1-1v228.5l1-73.5v-156h1v171.5l1 52v-222.5l1-.5v234l1-246.5l1 2v106.5l1 59.5v-156.5l1 .5v166.5l1-27.5v-140h1v118.5l1 54v-171h1v195l1-26v-169l1-.5v144.5l1 14v-158.5l1-5v180.5l1 26v-210.5l1-2.5v159.5l1 42.5v-203l1 13v173.5l1-39v-135l1 1v186.5l1 35.5v-221.5h1v183.5l1-39.5v-144.5h1v153l1-5.5v-147.5h1v147.5l1-17v-138l1-2.5v101.5l1-11v-82.5l1-1v57.5h1v-57.5h1v72.5l1-24.5v-50l1 5.5v220l1 17v-236.5h1v251l1-18v-233l1-5.5v221.5l1 10.5v-230.5l1-5v265.5l1-66v-196.5l1 6v260.5l1-6.5v-254h1v262l1-1v-261l1-1.5v211.5l1-86.5v-130.5l1-4v15.5l1 15.5v-33.5l1 6.5v268l1-3v-260l1-2.5v269.5l1-7.5v-257.5l1-11.5v115.5l1 109v-219.5l1 3.5v246l1-256l1 4v197.5l1 14.5v-204h1v203.5l1-14.5v-194l1 1v115.5l1 35v-147.5l1 .5v172.5l1 15v-187.5l1-8.5v147l1-15.5v-131l1 7v150l1 29v-179l1 .5v193.5l1 37.5v-230.5l1 1v272.5l1-283.5l1-.5v264.5l1-13v-240l1-2.5v195.5l1-45v-157l1 9v247.5l1-26.5v-221.5l1-.5v188l1-24.5v-166h1v110.5l1 17v-131l1-3.5v121l1 113.5v-231l1 7v242.5l1 2v-244.5h1v236l1-64.5v-179.5l1-4v79l1 118v-196.5l1 2v159l1 44.5v-195l1-.5v163.5l1-23v-141l1 .5v183.5l1 46v-229l1 1v257l1-9v-248h1v246l1 9.5v-256l1-.5v161.5l1-4.5v-156.5h1v176.5l1 39.5v-216l1 .5v248l1-33v-215l1-11.5l1 179v-169l1-4.5v170.5l1-8v-157.5l1-8v84.5l1 43.5v-122l1-5.5v172.5l1 70.5v-239l1 5v234.5l1-2.5v-233l1-6.5v113.5l1 86v-193l1 .5v222l1-5.5v-216.5h1v221.5l1-.5v-221l1-.5v216l1-79v-141.5l1-2l1 211v-205.5l1 1v203.5l1-214l1 8.5v111.5l1 45.5v-156l1 1.5v201l1-3.5v-197.5h1v199.5l1-4v-195.5l1-.5v163l1-9v-154h1v138.5l1-6.5v-132l1 .5v134l1-3v-138l1-1l1 111.5v-109l1 5v132.5l1-.5v-132l1-.5v128.5l1-14v-115l1-.5v112l1-124.5l1 12v134l1-1v-132.5l1-5v76.5l1 39.5v-115.5l1 3.5v111.5l1-8v-103.5l1-.5v105.5l1-5.5v-101l1-.5v56l1-8.5v-48l1 .5v54l1 6.5v-68l1 7v61l1 1.5v-63l1-.5v58l1-7.5v-50.5l1-1v45l1-30.5v-17l1 1.5v22.5l1 4v-26.5l1-1v23.5l1-5v-19l1-1v15l1-9.5v-6.5l1-1v4.5l1-.5v-4l1-2v5l1-1v-3.5l1-.5v3l1-1v-2l1-.5v1.5l1-.5v-1.5h1v.5l1-.5l6-1l5 1l7-.5l48 .5l12 2.5l1 2.5v-2.5l1 1v7l1 5v-11l1 1v10.5l1-7.5v-4l1 1.5v31.5l1-5.5v-26.5l1 4v36l1 11v-48l1-1l1 32v-27.5l1-.5v35.5l1-38.5l1 7.5v85.5l1 1.5v-86.5l1-.5v84l1-35.5v-49l1-4.5v26l1 20.5v-49.5l1 1v117.5l1-62.5v-55.5l1 9.5v122l1-44v-79.5l1-6.5v129.5l1-130l1 7v130.5l1 15v-142.5l1-.5v138.5l1-146.5l1 5.5v123.5l1 13v-135.5l1-1v108l1-17.5v-89h1v72.5l1-6.5v-66h1v74l1 5.5v-79.5h1v89l1 2v-91h1v100.5l1 38.5v-143.5l1-1v162l1-58v-104l1 5v65l1 5.5v-70l1 .5v84h1v-84h1v83l1 45v-127.5l1 .5v158.5l1-6v-152h1v153.5l1 4v-157.5h1v160l1-23v-125.5l1 16v105.5l1 15.5v-101l1-33v119.5l1-145l1 15v103l1-21.5v-85l1 .5v121.5l1 50.5v-167l1-5v167.5l1-21.5v-146h1v204l1 18.5v-175.5l1-47v204l1-1v-202.5h1v237l1 4v-213.5l1-27.5v243.5l1-2.5v-238l1 1.5v247.5l1-15v-232.5l1 7.5v243l1 1.5v-228l1 51.5v155.5l1 34v-230.5l1 13.5v207l1 8v-197.5l1 64.5v128.5l1 13.5v-185l1-16v196l1-13v-127l1 10v132.5l1 15v-142.5l1-20.5v162l1-23v-118.5l1 37v106l1-6.5v-147l1 7.5v119.5l1 19v-91l1-69v173l1-4.5v-164l1 77.5v90.5l1 .5v-141l1 54v90.5l1-4v-54l1-49.5v96l1 13.5v-181l1 33v143l1-28.5v-171l1 68.5v138l1-1.5v-114l1-136v248l1 3.5v-270.5l1 136v134.5l1-7.5v-133l1 2v139h1l1-195v186l1 9.5v-87l1-52.5v138.5l1 1v-101l1-74v153l1 1v-108l1 32v97l1-1.5v-126l1 6.5v121.5l1-7.5v-123l1-63.5v193.5l1 .5v-138.5l1 6.5v132.5l1-.5v-102l1-29v121l1 10.5v-129.5l1-1.5v131l1-66.5v-123l1-45v231l1-19.5v-225.5l1 121v108.5l1 16.5v-267.5l1-18v257.5l1 10v-106.5l1 47v80.5l1 .5v-211l1-70v270.5l1 10.5v-84l1-195v279l1-15.5v-254.5l1 153.5v112.5l1 3v-282.5l1 126v156.5l1 .5v-104.5l1 24.5v81l1-1v-84.5l1-6v90.5l1 1v-36.5l1-11v47l1 .5v-36l1-4.5v40.5l1 .5v-60.5l1 25v35.5h1v-207l1 39v167.5l1-52.5v-229l1 122.5v159.5h1l1-257v253l1 4v-23.5l1-43.5v66.5l1 .5l1-40v40.5l1-.5v-186l1-12v154l1 44.5v-32.5l1 15v17.5l1-.5l1-276v274l1 2.5v-115l1 113.5l1 2v-21.5l1-7v28l1 .5v-49.5l1-64.5v84.5l1 29.5v-21l1 12v9l1-1.5v-247.5l1-23.5v270l1 2.5v-149l1 149l1-1v-7l1 8.5l1-1l1-60.5v61.5l1-.5v-99l1-86.5v186h1v-7l1 .5v6.5h1v-1.5l1-2v3.5h1l1-32.5v31l1 1.5v-9l1 3.5v5.5h1v-42.5l1-26.5v67l1 2l1-4v4l1-1v-200l1 59.5v141.5l1-.5v-248.5l1 22.5v226l1 .5v-4.5l1 2v2h1v-116.5l1 116.5h1v-2l1-3.5v5.5h1v-1.5l1-1v2.5h1v-7l1 3.5v3.5h1v-105l1-143.5v248.5h1v-6l1 .5v5.5h1v-4.5l1-.5v5h1v-1.5l1-1.5v3l1-1.5v-98.5l1 99.5l1 .5v-6l1 1v4.5h1v-4l1 2v2h1v-38l1 38h1v-2.5l1-2.5v5h1v-5h1v5h1v-161.5l1 161.5h1v-2.5l1-3v5.5h1v-6l1 3.5v2.5h1v-5.5l1 2v3.5h1v-3l1-1v4l1-.5v-3h1v3h1l1-4.5v4.5h1v-4.5l1-.5v5h1v-5l1 2.5v2.5h1v-2.5l1-2.5v5h1v-2.5l1 1v1.5h1v-177l1-34v210l1 1l1-76v75.5l1 .5v-29.5l1 29l1 .5v-5h1v5l1-.5v-4.5l1 3v1.5h1v-3l1-1.5v4.5h1l1-99v99h1v-9.5l1 9.5h1v-4.5l1 4l1-3.5v3.5h1v-1.5l1-1.5v3h1v-4.5l1 1.5v3h1v-211.5l1-20v231.5h1v-3.5l1 3.5h1v-2l1 1.5l1-3v3h1v-2.5l1-.5v3h1l1-116v116l1-8v-159.5l1 167.5h1v-4.5l1 1.5v2.5h1l1-66.5v65.5l1 1v-72l1 72h1v-2l1-1.5v3.5h1l1-50.5v50l1 .5v-34.5l1 34h1v-2.5l1 1v1.5h1v-167l1 13.5v153.5h1v-1.5l1-1.5v3h1v-2.5l1 1v1.5h1v-21l1-20v40.5h1v-6l1-1v7h1v-7l1-3.5v10.5h1v-10l1-2v12l1-.5v-12.5l1 2v11l1-1.5l1-262.5v264l1-2.5v-193l1 195l1 .5l1-67.5v67l1-1v-19l1-2v21h1v-19l1-5.5v24.5l1 1v-28.5l1-.5v28.5l1-.5v-30l1 .5v29h1v-27l1-6v33.5l1-1v-36.5l1 6.5v32l1-.5v-30.5l1-6v36.5l1-.5v-174l1 174l1-1.5v-120.5l1 123l1-.5v-22l1 4v18h1l1-143.5v143.5h1v-14h1v14h1v-10l1 1.5v8.5l1-.5v-5.5l1 2.5v3.5h1v-29l1 29h2l1-173.5v173.5h1v-263.5l1 263l1 .5v-7.5l1-2.5v10h1v-13.5l1-2.5v16h1v-19.5l1-2v21h1v-24l1-2v26.5h1v-29l1 1.5v27l1-1v-26.5h1v27.5l1-1.5v-132.5l1 82.5v46l1 3.5v-51.5l1 20v33l1-1.5v-39.5l1 10.5v30.5h1v-32.5l1 2v31l1 .5v-31l1 3v27h1v-28.5l1 3.5v25.5l1-1.5v-20l1 1.5v19l1 1.5v-18l1-2.5v19l1-2v-21.5l1 10v15h1v-11.5l1 2.5v9h1v-5.5l1 .5v4.5l1 .5v-3h1v3h2v-3h1v2.5l1-1v-91l1 91.5h1v-116l1 115.5l1-.5v-3.5l1-3.5v7l1-1l1-87.5v86l1 1v-6.5l1-3v7.5l1 1v-11l1 .5v10.5l1-.5v-12.5l1 1v11.5l1-1v-15.5h1v15.5l1-2v-12.5l1-3.5v17h1v-18.5l1-1v18l1-.5v-19l1 1v17.5l1 1v-26l1-3.5v29l1-1v-18.5l1-10.5v28.5l1-.5v-33.5l1 10.5v20.5l1 1v-22l1-7v28l1-1.5v-30.5l1-2.5v31.5l1 1v-27.5l1-7.5v31.5l1 1.5v-35.5l1 2.5v32.5l1-.5v-33.5l1 .5v32l1-2.5v-141l1 141h1v-37.5l1 4.5v33l1-14v-236l1 115v132l1-13v-176l1 189l1-.5v-47.5l1 2v44.5l1-1.5v-37l1-12v50.5h1v-42.5l1-8v48l1-2.5v-46l1 3.5v48l1-2.5v-37l1-20.5v58.5l1-2v-39.5l1-14v55.5l1 .5v-41l1-6.5v48l1 .5v-46l1-6v52h1v-63.5l1-3v64.5l1 2.5v-42.5l1-75v117.5l1-1v-110.5l1 111l1 1l1-19.5v19l1-2v-83l1 25.5v60.5l1-5.5v-62l1-15v83l1-2.5v-102.5l1 29v73l1-1v-73.5l1 12v63.5l1 2.5v-68l1-14.5v80l1-1v-83.5l1 9.5v77l1 1v-62l1 4.5v57.5l1 .5v-49l1-5.5v51.5l1 1.5v-37.5l1 .5v38l1 1v-49l1 19v27l1 2.5l1-215.5v211.5l1 4v-119.5l1 72v47.5h1v-55h1v56.5h1v-46l1-5v48.5l1 2v-46.5l1-1.5v48.5l1-2.5v-57l1 2.5v55.5l1 1.5v-62l1 8v54.5l1-1v-185.5l1-47v234l1-1.5v-42l1-17v60.5l1-1.5l1-237.5v232.5l1 4v-59l1 12.5v47l1 2.5v-76.5l1 20v53.5l1 2.5v-46.5l1 2.5v44l1-1v-52.5l1 22.5v28l1-2.5v-33.5l1-1.5v36l1 2.5v-36.5l1 11v26.5l1-3v-185.5l1 185l1 2v-27.5l1 10v18.5l1-3v-18l1 2.5v17.5l1-3.5v-17l1 1v20l1-2v-11.5h1v13l1-1v-9.5l1 1.5v8.5l1-.5v-10.5l1 4v6.5h1v-7l1 1v5l1 .5v-4l1-1v4.5h1v-244l1 101.5v142h1v-211l1-17v223.5l1 4v-4l1 .5v3.5l1-1l1-5v5h1v-46l1 46l1-.5l1-217v215l1 .5v-246.5l1 247l1 .5l1-131v130.5l1 .5v-49l1 48.5l1-1v-3.5l1-4.5v8.5h1v-6.5l1 .5v4l1 .5v-260.5l1 261.5h1l1-223.5v218.5l1 4v-9l1 5.5v3.5l1-1v-7l1-1.5v6.5l1 2.5v-6.5l1-2v8l1-3v-34.5l1 2.5v31l1 3.5v-11.5l1 3.5v7.5h1v-9.5l1-4v13.5l1-1v-8.5l1-6.5v15h1v-10.5h1v10.5l1-1.5v-10.5l1-4.5v16.5l1-2v-13l1 3v11l1-1.5v-10l1 1v10.5h1v-9l1-7v14.5l1 1v-9.5l1-1v7.5l1 2l1-196.5v195.5l1-1v-96.5l1 98.5h1v-7l1-8.5v14h1v-11l1 2v6l1 3v-23.5l1 9.5v14l1-.5v-6.5l1-7v10l1 3v-12l1-.5v12l1 .5v-14.5l1-.5v11l1 2l1-254v248l1 6.5v-253.5l1 253.5l1-3v-17l1 18.5l1 1v-21.5l1 21.5l1-2.5v-46l1 44.5l1 1v-10l1-2v13.5l1-2v-16.5l1 1v17l1-4.5v-14l1 5v12l1-12.5v-132.5l1-106v245l1 4v-159.5l1 158.5h1l1-227.5v217.5l1 9v-7l1-2v10.5l1-4v-13.5l1 3.5v11.5l1 4v-10l1-4.5v10.5l1 2v-9l1-7.5v11l1 3v-20.5l1-2v25.5h1v-12.5l1-18v27.5l1 2l1-25.5v24.5l1 .5v-14.5l1 2v9l1-1v-17.5l1 6.5v14.5h1l1-248v220.5l1 19v-224.5l1 231.5l1 .5v-27.5l1 2v24.5l1 .5v-15l1-4v18.5h1v-16l1-1.5v16l1 1v-22.5l1-1.5v22.5l1 1v-25l1 11.5v13l1-7v-84l1 91l1-2.5v-14l1-11.5v26.5l1-1l1-221.5v215.5l1 3v-110.5l1 112.5l1-1.5v-171l1-6.5v173.5l1-1v-97l1 66.5v36.5l1-.5v-28.5h1v20.5l1 2.5v-13l1-2v12l1-1.5v-163l1 172l1-1.5v-29.5l1-4.5v23l1 11v-49l1 19v30l1-6.5v-25.5l1-46.5v65.5l1 8v-86l1 48.5v34l1 6v-34l1-1.5v36l1-7l1-108v111.5l1-7.5l1-220.5v217l1-5v-223l1 21.5v214l1 1.5v-30.5l1-5.5v28l1 10.5v-114l1-126v224.5l1 .5v-142l1 156.5l1-10l1-173.5v156.5l1 25.5v-153l1 98v51.5l1-11v-18l1-1v21l1 13v-41l1 .5v37l1 2l1-210.5v207.5l1-12.5v-189.5l1 189.5l1 6.5v-199l1 35.5v133l1 12v-195.5l1-12v128l1 104l1-219.5v206l1-10v-212l1 6v215l1 2v-51l1-38.5v42l1 33.5v-108.5l1 23.5v97.5l1 6.5v-107l1-9.5v46.5l1-7.5v-54.5l1-21.5v110.5l1-5.5v-171.5l1-8.5v115l1 63.5v-178.5l1 4.5v162.5l1-80.5v-76h1v129l1 70v-197l1 25v144l1-89v-98.5l1-1.5v131.5l1 83v-198h1v207.5l1-103.5v-114.5l1-5v110.5l1 73v-158l1-26.5v85.5l1 110v-194.5l1 14.5v191l1-207l1 16.5v201.5l1-6.5v-194.5l1-.5v172l1 15.5v-181.5l1-25v170.5l1 36v-187.5l1-12v198.5l1-13v-192l1 18.5v178l1 4v-181.5l1 56.5v120.5l1-119.5v-74h1v157.5l1 43v-186l1-11.5v71l1 99.5v-157l1 20v138.5l1 19v-178.5l1-6.5v104l1 51.5v-151l1-8v181.5l1 .5v-171l1 .5v127.5l1 52v-181.5l1-2.5v188.5l1-13.5v-177h1v180.5l1 8v-188.5l1-.5v184.5l1 3.5v-188h1v185.5l1 1v-187l1-.5v147l1-9v-138.5h1v144l1 9.5v-153.5h1v133l1-20v-113.5l1 1v161l1-39v-133l1 3v133l1-14v-112l1-6v65.5l1 57v-115.5l1 .5v141l1 15v-155.5h1v159l1-10.5v-149h1v136.5l1 2v-138.5h1v143.5l1-21.5v-123l1-2v56.5l1-58.5l1-.5l1 82v-82l1 4.5v175l1 4.5v-178.5l1-1v165l1-53.5v-112h1v111.5l1 8v-119.5l1 .5v130.5l1 2v-132l1-1.5v151.5l1 7v-158l1 1v159l1 6.5v-165.5l1 .5v167l1-1v-166l1 .5v166.5l1-24v-143l1-.5v108l1-1v-107l1 .5v121.5l1-13.5v-116l1 3v93.5l1 27.5v-118l1-4v15.5l1 36.5v-49.5l1 1.5v109l1 7.5v-115.5h1v117l1-10v-107.5l1-1v94l1-35.5v-67l1 2.5v17.5l1-2.5v-13l1 1.5v42l1 21v-63l1-3v28l1 1.5v-31l1 1.5v81l1 8.5v-92.5l1 1v105.5l1 20.5v-122.5l1 5.5v175l1 1.5v-178.5l1-2.5v119l1-31v-89l1-8.5l1 107v-95h1v82l1-15.5v-67l1-3.5v78.5l1 60.5v-137.5l1 5.5v162l1-2.5v-159.5h1v160l1 .5v-161l1-.5v132.5l1-27v-106.5l1-.5v97l1 22v-123l1-4.5v71l1 88v-148.5h1v149.5l1-46.5v-106l1-3v20l1 23.5v-41.5l1 2v68l1-45.5v-28l1-.5l1 103.5v-100l1 3.5v143l1 5v-148l1-2.5v71.5l1-26v-48l1 3.5v75l1 44.5v-118h1v115l1 5.5v-121l1 .5v147.5l1 5v-152.5l1-.5v152l1-26.5v-126h1v104l1-9v-103l1 7v82.5l1-43v-43l1 2v33l1 10.5v-46.5h1v36.5l1 46.5v-78.5h1v106.5l1 19.5v-125.5h1v125l1-59v-73.5l1 3.5v33.5l1 46v-78.5l1 2v107.5l1 7.5v-114l1-1v96.5l1-17.5v-80l1-5.5v16l1-1.5v-18.5l1 .5v82.5l1 26v-98l1-3v81.5l1 21.5v-100h1v94.5l1-35v-64l1 .5v77.5l1-52.5v-31.5l1 9v86l1-10v-77l1-.5v53l1 2v-63.5l1-.5v51.5l1 28v-68.5h1v60.5l1-13v-47.5h1v46l1-7v-46.5l1 1v28.5l1-4.5v-19l1-5.5v16.5l1-2v-15l1 13v12l1 24v-22.5l1 23.5v16.5l1 7v-6.5l1 3v4l1-4.5v-13.5l1-21.5v20.5l1-22v-17.5l1-13.5v13.5l1-18.5l4-1l1 15v-15l1 20l1 6v-5.5l1 7l1-2v-5.5l1-5.5v5l1-6v-14l4-.5l5-2v9l1 11.5v-10l1 13l1 3.5v-3.5h1v3.5l1-3.5l1-21.5v18l1-17.5h1l1 15.5v-15l2 35.5v-14.5l1 20.5l1 .5l1-18v13l1-13.5v-6h1v6l1 10v-9l1 6v3.5l1-4v-9.5l1-7v6.5l1-7.5v-12.5h3l4 1.5l1-1v1l1-1v-.5l1-1v1l1-1l1 14v-14.5l1 18l1 2v-1.5l1 1.5v1h1h2l1-4.5v3l1-3.5v-7l1-10v9.5l1-9.5l1-.5l4 2.5l4-1h2v13l1 5v-4.5l1 4.5v2l1 1.5v-1l1 1.5h1h1l1-1.5v1l1-1v-1.5l1-3.5v3l1-3.5v-7.5l1-8.5v7.5l1-7l2 3v-1l1 1l4 .5l3-.5l1-1v1l1-1v-.5l1-1v1l1-1v-1l1-.5l4 1l3-.5h2v.5l1 1v-1l1 1v1h1l8-2l1 1v-1l1 1v1l1 1.5v-1l1 1v1l1-.5v-.5l2-.5v-1l1-.5v.5l1-.5l4-1.5l4 .5l4 1.5l8-2.5h7" stroke="#8DB671" stroke-width="2.6" stroke-dasharray="7 7 5 8 8 6 6 9"/>
<path d="M188.5 93.5l3 .5l8-2l1 .5v1l1 1v-1l1 1v1l1 1v-1l1-.5v1.5l1-1.5v-1.5l1-1.5v1.5l1-2v-1h1v1l1 .5v-.5l1 1v.5l1 1v-.5l1 .5l7 1l1-.5v1l1-1v-1l1-.5v.5l1-.5v-1h5l4-1l9 2l8-1v.5l1 1v-1l2 2.5v-.5h1l7-1.5l5 1l4-1.5l2 .5v9.5l1 6v-5.5l1 7.5l1 1.5v-1.5l1 1.5h1l1-.5v.5l1-.5v-1.5l1-2.5v2.5l1-2.5v-5.5l1-9v8l1-8h3l1 .5v-.5l1 .5v1l1 .5v-.5l1 1l3-.5v8l1 6v-5.5l1 7.5l1 1v-1l1 1h1l1-1.5v1l1-1l1-9v6l1-7v-7.5l3 .5v6.5l1 9v-7.5l2 17.5v-7l1 7.5v6.5l1 2v-2l1-.5v2.5l1-2.5v-6.5l1-7v6.5l2-19v8.5l1-10v-5.5l1 .5v12l1 5v-4.5l1 6h2l1-5v3.5l1-4v-12.5l1-.5v.5l1-.5v-1l1-.5v13l1 5.5v-5l2 14v-4.5l1 2.5v2.5l1-3v-5l1-2.5v2.5l1 4v-5.5l1 6.5v14l1 14v-13l1 13.5v11l1 7v-6.5l1 9h1l1-9.5v7l1-7.5v-10.5l1-14v13.5l1-8.5v-11.5l1 12.5v12.5l1 4v-3.5l1-3v6.5l1-7v-15.5l1-18.5v17.5l1-21l1 2.5v15l1 8v-7.5h1v7.5l1-8v-15l1-14v14l1-5.5v-10.5l1 3.5v10.5l1 8.5v-17.5l1 2v35l1 9v-44l1-6l1 53.5v-55l1 9v55.5l1 1.5v-57l1-.5v41l1-13.5v-28l1 1.5v48.5l1 21.5v-69l1-.5v59.5l1-20.5v-47.5l1 6v24.5l1-15v-12l1-.5v17l1 27v-40l1-9.5v19l1 2v-18.5l1 2v14.5l1 19.5v-38.5l1 12v69.5l1 1.5v-70.5h1v70l1 1v-71h1v70.5h1v-71l1-11l1 82v-81l1 11v70.5h1v-70.5l1-4.5v52.5l1-37v-17.5l1 2v35.5l1 14v-46l1 .5v47l1 1v-48.5l1-5v18.5l1 3.5v-28l1 8.5v18l1-6v-13.5l1-.5v12.5l1 7.5v-17.5l1-9.5v17.5l1 19.5v-34l1 3.5v16l1 19.5v-31h1v35l1 2.5v-46.5l1 3.5v46l1 20.5v-59.5l1 .5v73l1 5.5v-84l1 6v76.5l1 7v-83.5h1v81.5l1 2v-83.5l1-7.5v20.5l1 40.5v-54.5l1 .5v72.5l1 10v-82l1-.5v73l1-44v-31.5l1-2.5v17.5h1v-18.5l1 4v52.5l1-56l1 1v12.5l1 2.5v-15l1-.5l1 64v-66.5l1 8.5v85l1-12v-73.5l1-1v50l1-.5v-52l1-2v96l1 2.5v-92.5l1-11.5v106h1v-103.5l1 8.5v95.5l1-1v-94.5l1-1.5v89.5l1-96l1 .5v17l1-4v-15l1 2v37l1-19.5v-22l1-3v51l1 5v-54.5l1 12.5v83.5l1-50v-38.5l1 4v54l1 4.5v-58l1-12.5l1 63v-60l1 8.5v51.5l1 2.5v-54l1 1v72.5l1 17.5v-99.5l1 5.5v14.5h1v-14.5l1-6.5l1 90.5v-83l1-7.5l1 129v-117l1-11v38.5l1 26.5v-64.5l1-2.5v89l1 39v-129l1 14.5v119.5l1 1v-120.5l1-12v75.5l1 55.5v-122.5l1 3v122l1-2v-121l1-1v81l1 8.5v-89.5l1 1v117.5l1 6v-124l1-12.5v27.5l1 31.5v-57l1 9.5v80.5l1 6v-86l1-1v71.5l1-12v-59.5l1 1.5v88l1 13.5v-101.5h1v87l1-14v-73.5h1v81l1 9.5v-95.5l1-4v113.5l1-29.5v-86.5l1-1v111l1-9.5v-88.5l1-.5v67.5l1 29v-95.5l1 .5v114.5l1-21v-93.5l1-.5v72l1 4.5v-76.5h1v73.5h1v-73.5l1-7.5v72l1-21.5v-53l1 8v38.5l1-14v-25.5h1v25.5l1 8v-33.5l1-2l1 117v-111.5l1 .5v120l1 7.5v-127.5h1v117.5l1-9v-114l1 1.5v118l1 16v-139l1 3v100l1 37.5v-131.5h1v128l1 4v-132h1v131l1-27v-105.5l1-5.5v65l1-69l1-2.5l1 143.5v-137l1 5v130.5l1 3.5v-136.5l1 4.5v128.5l1-81v-59l1 5v111.5l1 16v-124l1-10v36.5l1 68.5v-101l1 8v101h1v-101l1-5v98l1-41v-56l1 3v72l1 13.5v-85h1v93l1-26.5v-75l1 .5v66.5l1 13.5v-73h1v89l1 7.5v-96l1 .5v116l1 23v-138l1-11l1 138.5v-139l1 11.5v121l1-25v-98.5l1-6.5v80.5l1 53.5v-125l1-.5v111.5l1-18.5v-93.5l1-2.5v83l1-29.5v-53.5l1-3.5v66l1-7.5v-62l1 3.5v119.5l1 10v-122.5h1v123.5l1-4.5v-119l1-8v92.5l1-56v-40.5l1 .5v103l1-19v-82l1 8.5v97.5l1-17.5v-80.5l1-.5v69l1 23v-91.5l1 .5v116l1 15.5v-130.5h1v125l1-2v-123l1-.5v128.5l1-51.5v-77.5l1 .5v74l1 9.5v-83.5h1v102.5l1 16.5v-118.5h1v100.5l1-112l1 10v76.5l1-2.5v-78.5l1 5v69.5l1-40v-37.5l1 6v52.5l1 21.5v-79.5l1 4v109l1-.5v-103.5l1-1v102.5l1-60v-49l1 6.5v82.5l1 14v-96h1v94l1 3v-97h1v97l1-2v-95.5l1-4.5v62.5l1-64.5l1 5.5v93.5l1-.5v-92l1-10.5v23.5l1 33.5v-48.5l1 1v71l1 23.5v-93h1v92l1 1.5v-93.5h1v92l1-16v-76.5h1v72l1-7v-65h1v62.5l1 2v-64l1-7v69.5l1-70.5l1 2.5v54.5l1 16.5v-66h1v66.5l1-2v-65l1-.5v58.5l1-2v-57l1-12.5l1 81v-69l1 .5v68l1-34.5v-38.5l1 .5v60.5l1-.5v-56.5h1v52l1 2.5v-55l1-1v53.5l1-25v-29l1-.5v26l1 5v-30.5l1-7.5v41l1-.5v-33.5l1-.5v33.5l1-4v-30h1v24l1-5v-20l1-2.5v11h1v-9.5h1v9.5l1-1.5v-9l1-.5v8.5l1-1.5v-8l1-1v6.5l1-3v-4.5h1v4l1-1v-5l1 .5v3.5l1-1v-3h1v2l1-1v-1.5l1-.5v1.5l1-1v-.5l7-1l5 1l7-.5l48 .5l13 2.5v2l1 1v-2l1 1v3l1 1v-3l1-1l1 14.5v-13l1-.5v11l1 6.5v-13.5l1-1v21l1-13v-9l1 4.5v11.5l1 5.5v-17.5l1-3l1 55v-47.5l1 .5v48.5l1-1.5v-47.5l1-.5v27.5l1-17.5v-14.5l1-3v31.5l1 45v-75.5l1-.5v35l1 48v-73.5l1-1.5v47l1 27v-80.5l1-.5l1 84.5v-77.5l1 3v83.5l1-3.5v-80.5l1-8l1 77v-71.5l1 1v79l1-18v-62l1 1.5v50l1-10v-40h1v36l1 5v-41h1v44.5l1 5.5v-50h1v51.5l1 6v-57.5l1-4.5v85.5l1 11v-97.5h1v62l1-21v-36l1 .5v38.5l1 9.5v-47.5h1v47.5l1-1v-46.5l1 .5v74l1 20v-93.5l1 .5v89l1 1v-90h1v92.5l1 1.5v-94l1 7v73l1-2.5v-65l1 12v62l1-9v-70l1-18.5l1 72v-57l1-3.5v76l1-.5v-75l1 5v92l1 13v-110h1v110.5l1 11v-121.5l1 37.5v91h1v-128.5l1 .5v118.5l1 20v-138.5l1 19v124.5l1 3v-146.5l1 3v140l1 5.5v-144h1v143l1 3v-144.5l1 6v139.5l1-1v-108l1-23v135.5l1-6.5v-121l1 8.5v120l1 .5v-83l1-25v110.5l1-5.5v-96l1 14.5v85l1 5v-84.5l1 5.5v82.5l1-.5v-73l1 16.5v53.5l1 7v-63.5l1 7v56.5h1v-41l1 11.5v31l1 4.5v-49.5l1 5v42.5l1 3.5v-21.5l1 2v20.5l1 1.5v-19.5l1 7.5v11.5l1-1.5l1-66v69.5l1-1.5v-56l1-68v124l1 3v-14l1 6v8.5h1v-127.5l1-19.5v148.5l1 .5v-13l1-5.5v18.5l1 1.5v-18.5l1 19l1-.5v-121.5l1 123l1 1v-20.5l1 13.5v7.5l1-7v-102l1 105.5l1 4.5v-25l1 15v10l1 .5v-9.5l1-4v13.5l1 .5v-87l1 87.5l1 .5v-16.5l1 9v7.5h1v-15l1 2v13.5l1 .5l1-115v110.5l1 2.5v-146.5l1-12v153.5l1 4.5l1-152.5v156l1-5v-173l1 176.5l1 3l1-118.5v118.5h1v-182l1 182.5l1 .5v-180.5l1 4.5v174l1 2.5v-76l1-110v186l1 .5v-100l1 63v37.5l1 .5v-6l1-.5v6.5l1 .5v-7l1 5v2l1 .5v-25.5l1 26l1 .5v-19l1 19l1 .5l1-138v138h1v-107.5l1-81.5v162l1 28v-107.5l1 108l1-2.5v-169l1 172h1v-45l1 45.5l1 .5l1-126v126l1-27v-107l1 135l1 .5v-1.5l1 .5v1.5l1-.5v-188.5l1 113.5v76.5l1-.5v-16.5l1 17.5l1 .5v-16.5l1-17v34l1-17.5v-61l1 79.5l1 .5l1-173v173h1v-188l1 86v103l1 .5v-1l1 1v.5l2 1l1-41v41.5l1 .5v-68.5l1-63v132l2 1v-1l1 1l2 .5l1-22.5v23l2 1.5l1-28.5v29l1 .5v-49l1 49l1 .5l1-145v145.5l1 .5v-102l1-78v180.5l1 .5v-164.5l1 165h1l1-84v84.5l1 1v-10.5l1 10.5l3 1.5h1v.5l2 1v-77.5l1-108v186l1 .5v-.5l1 .5v.5l2 1v-.5l2 1.5l1-75.5v75.5l1 1v-11l1 11.5l1 .5v-.5l1 .5v.5l1 .5l1-25.5v26l3 1.5v-.5l1 .5l1 .5v.5l1 .5v-125l1 125.5l2 .5v.5l1 .5v-.5l1 1h1v.5l1 .5v-.5l1 1h1v.5l2 1v-.5l1 1h1v.5h1l1 1v-1l1 1v.5l3 1.5v-.5l1 .5v.5l2 1v-143l1-27.5v171l1 .5l1-61.5v61.5l1 1v-23.5l1 24l1 .5v-.5l1 1h1v.5l5 1.5v-80.5l1 81l7 2.5v-.5l1 .5l1-178.5v179l1 .5v-196l1 196l7 2.5l1-97.5v98l1-5.5v-138l1 144.5l4 1v-57l1-5v62.5l5 1.5v-41l1 12.5v29.5l4 1v-147l1 12v135.5l5 1.5v-15.5l1-18.5v34.5l1 .5v-3.5h1v3.5l1 .5v-5l1-2v7l1 .5v-8l1-1.5v9.5h1v-9l1-.5v10h1l1-236v236.5l1-.5v-174.5l1 175.5l1 .5l1-60.5v60.5h1v-18l1-2v20.5h1v-18l1-5v23l1 .5v-26h1v26.5h1v-28.5l1 1v28h1v-26l1-5v31.5l1-1.5v-32.5l1 6v28.5h1v-28l1-5.5v33.5h1v-159l1 159.5l1-1.5v-110l1 112.5h1v-19.5l1 4v16h1l1-131.5v132h1v-11.5l1 .5v11.5h1v-8.5l1 1v8h1v-5.5l1 2.5v3.5h1v-26l1 26.5h2l1-160.5v161l1 .5v-245.5l1 245.5l1 .5v-7l1-1v8h1v-11.5l1-1v13h1v-16.5l1-1.5v18l1 .5v-21l1-2v23h1v-25.5l1 1v24.5l1 .5v-25l1-1v26h1v-125.5l1 77.5v44l1 4v-50l1 19.5v31h1v-38.5l1 10v29l1 .5v-31.5l1 2v29.5h1v-28.5l1 2.5v26l1 .5v-27.5l1 3.5v24.5l1-.5v-20.5l1 1.5v19.5h1v-16.5l1-.5v17l1-3v-20l1 11.5v12.5h1v-10l1 3v7l1 .5v-5l1 2v3h1v-2l1 2l2 .5h1l1-87v87l1-.5l1-110.5v110.5l1-.5v-3l1-.5v3.5l1-.5v-5l1-1v5.5l1-1v-82.5l1 83l1-.5v-8.5l1-.5v9h1v-10l1-2v11.5h1v-9.5l1-4.5v13.5h1v-14.5l1 1v13l1-.5v-16l1-1.5v17.5l1-.5v-17.5l1-2v19.5l1-1v-16.5l1-8v25h1v-28l1 10.5v17l1-.5v-26l1-6v32l1-1.5v-20l1 .5v20.5l1-1v-25l1-5v30.5l1-1.5v-31l1 5v27l1-2.5v-30.5l1-3v35.5l1-1v-31.5h1v31.5l1-.5l1-140v140.5l1-1v-39.5l1 3v37.5h1l1-246.5v236l1 10.5v-132.5l1-56v175.5l1 13.5v-45l1-2v46.5l1 .5v-45.5l1 8.5v36.5l1 .5v-50.5l1 8v42.5l1-2v-49l1 .5v46.5l1 4v-46.5l1 7v38.5l1 .5v-59.5l1 17.5v39l1 2v-55.5l1 14.5v42.5l1-.5v-48l1 2.5v46h1v-50l1-14v63.5l1-1.5v-64.5l1 25.5v41h1v-118l1 6v110.5l1 1.5v-2l1-1v3h1l1-86v84l1 2v-58.5l1-9v65.5l1 2.5v-81l1-22.5v101l1 2v-75.5l1-2v75.5l1 2v-65.5l1-1.5v67.5l1-2v-80l1-5v85.5l1 .5v-76.5l1 17.5v59.5l1 .5v-57l1 9.5v47.5l1-3v-50.5l1 15v38l1 .5v-38l1-9v47l1-2v-26l1-14.5v42.5l1-3.5v-211l1 95.5v118.5l1 .5v-47.5l1-7.5v55h1v-55.5l1 10.5v45l1-1.5v-47l1 4.5v43.5l1 .5v-48l1-9.5v56.5l1 .5v-56l1-3.5v59.5l1 .5l1-184v183l1 1v-230l1 229l1 1v-59.5l1 21.5v38l1-6.5v-229l1 234.5l1 1v-49l1-26v75l1-2v-53.5l1 10v45h1v-43l1-9.5v52h1v-30l1-8v37l1 .5v-38.5l1 3v35.5l1 .5l1-185.5v184.5l1-.5v-22.5l1-3.5v26.5l1 .5v-17.5l1-3.5v20.5l1-.5v-17.5l1-.5v18l1 .5v-16l1 5v10l1 .5v-10.5l1 .5v9.5h1v-7.5h1v7.5l1-.5v-6l1 2v4l1-.5v-2l1 1v1h1l1-240.5v240.5l1-.5v-140.5l1-67.5v208l1-1v-224l1 224l1-1v1.5l1-.5v-1h1v1h1v-45l1 44.5h1l1-214.5v213.5h1v-244l1 243.5l1 .5l1-129v129h1v-45l1 44.5l1-.5v-2.5l1-1.5v4h1v-1.5l1-1.5v2.5h1v-257.5l1 257.5h1l1-220v215l1 4.5v-5l1 2.5v2.5l1-.5l1-9v8.5h1v-2.5l1-.5v3l1-1.5v-36l1 5v30.5l1 1.5v-7l1 .5v6h1v-5.5h1v5.5l1-.5v-3.5l1-5.5v9l1-.5v-5.5l1 .5v5.5l1-.5v-9l1-1v10l1-1v-8l1 4.5v4l1-1.5v-7h1v8h1v-4.5l1-7v10l1 1v-4l1-1v4.5h1l1-194.5v194l1-2v-95.5l1 97.5h1v-5.5l1-7v11.5h1v-4.5l1-2v4.5l1 1.5v-17l1 12v5l1-.5v-4.5l1-3v4l1 3v-8.5l1-1v9h1v-6l1-8.5v10.5l1 3l1-251v244l1 6.5v-249.5l1 249.5l1-3v-12l1 9.5v4.5h1v-13l1 13l1-2v-41.5l1 42l1 .5v-12l1-2v13.5h1v-15l1-2.5v16.5l1-1v-16.5l1 6.5v11l1-4.5v-139.5l1-103.5v243l1 3v-158.5l1 158l1-1l1-225v214l1 11.5v-9.5l1 4v5.5l1-.5v-17l1 2v14l1 1v-4l1-9.5v11l1 2v-5.5l1-11.5v15.5l1-.5v-10l1-5.5v16.5h1v-10l1-9v18h1l1-16v16l1-.5v-7.5l1-4.5v10l1 1v-16.5l1 11v6l1-.5l1-242.5v225l1 12.5v-223.5l1 227.5h1v-23.5l1 .5v22.5l1-.5v-11l1-7v17.5h1v-15l1-.5v14.5l1 .5v-18l1-3v20l1 .5v-23.5l1 22.5l1-2.5v-81l1 83.5l1-1.5v-13.5l1-3v17l1-1.5l1-214v211h1v-103.5l1 105l1-1.5v-164l1-8.5v170l1-1.5v-95l1 64v35.5l1 .5v-16.5l1-9v18.5l1 2v-7.5l1-2v9l1-5v-157.5l1 166.5l1-2v-28.5l1-4.5v24.5l1 8.5v-44l1 14.5v30l1-2.5v-29l1-39.5v59.5l1 6v-73l1 69.5l1 7v-24.5l1 2v22.5l1-7.5l1-104v107.5l1-7.5l1-213v210l1 .5v-221.5l1 20v209.5l1 2.5v-26.5l1-4.5v21.5l1 8.5v-107.5l1-124v218.5l1 8v-143.5l1 148l1-9l1-164.5v150.5l1 21.5v-142l1 138l1-5.5v-19.5l1 5v15l1 8.5v-24l1-15.5v37l1 .5l1-202v199.5l1-4.5v-189.5l1 189l1-1.5v-189.5l1 39v139.5l1-1v-192.5l1-11.5v132.5l1 89l1-208v200.5l1-12v-205.5l1 6v211l1-1v-38l1-44.5v36l1 29v-98.5l1 23.5v88l1 8v-102.5l1-9.5v49.5l1-7.5v-58l1-20.5v110l1-4.5v-168.5l1-8.5v110l1 60.5v-170.5l1 4.5v159l1-81v-72h1v123l1 71v-192l1 23v147l1-93.5v-95l1-1.5v126l1 81v-190.5h1v202l1-88.5v-124l1-5v105.5l1 74v-155l1-25.5v82l1 105.5v-186.5l1 14.5v183l1-199l1 16.5v193l1-6.5v-186l1-.5v172.5l1 14v-181.5l1-24v165.5l1 33v-179.5l1-12v197l1-20v-183.5l1 18.5v171.5l1 9.5v-180.5l1 53v125.5l1-117v-78h1v158.5l1 35v-179l1-11.5v69.5l1 98.5v-154.5l1 18v140.5l1 10v-169.5l1-6.5v98.5l1 49.5v-143.5l1-8v173l1 .5v-162.5l1 .5v121l1 49.5v-172.5l1-2.5v179l1-12.5v-168.5h1v171.5l1 7.5v-179l1-.5v175l1 3.5v-178.5h1v176l1 1v-177.5l1-.5v139.5l1-8.5v-131.5h1v137l1 8.5v-145.5h1v126l1-19v-107.5l1 1v152.5l1-37v-126.5l1 3v126.5l1-13.5v-106l1-6v62l1 54v-109l1 .5v133.5l1 14.5v-147.5h1v151l1-10.5v-141h1v129l1 2.5v-131.5h1v136l1-20.5v-116.5l1-2v53l1-55l1-.5l1 77.5v-77.5l1 4.5v166l1 4v-169l1-1v156.5l1-51v-106h1v105.5l1 7.5v-113l1 .5v123.5l1 1.5v-124.5l1-1.5v143.5l1 6.5v-149.5l1 1v150.5l1 6v-156.5l1 .5v158l1-1v-157l1 .5v157l1-22.5v-135l1-.5v102l1-1.5v-100.5l1 .5v114.5l1-13v-109.5l1 3v88l1 26.5v-111.5l1-4v15.5l1 33v-46l1 1.5v102.5l1 7v-108.5h1v110.5l1-9.5v-101.5l1-1v88.5l1-33.5v-63.5l1 2.5v17.5l1-2.5v-13l1 1.5v39.5l1 20v-59.5l1-3v26l1 2v-29.5l1 1.5v76.5l1 8v-87.5l1 1v100l1 19.5v-116l1 5.5v165.5l1 1.5v-169l1-2.5v112.5l1-29.5v-84l1-8.5l1 101.5v-89.5h1v77l1-14.5v-63l1-3.5v74.5l1 57v-130l1 5.5v153l1-2.5v-150.5h1v150.5l1 .5v-151.5l1-.5v124.5l1-25.5v-100l1-.5v91l1 21v-116l1-4.5v66.5l1 83v-139h1v140l1-43.5v-99.5l1-3v18.5l1 22v-38.5l1 2v63.5l1-43v-26l1-.5l1 97.5v-94l1 3.5v134l1 4.5v-138.5l1-2.5v67l1-24.5v-45l1 3.5v70l1 42v-110.5h1v108l1 5v-113.5l1 .5v138.5l1 4.5v-143l1-.5v142.5l1-25.5v-117.5h1v97l1-8.5v-96.5l1 7v77l1-40.5v-40l1 2v30.5l1 9.5v-43h1v33.5l1 43.5v-72.5h1v98.5l1 18v-116h1v115.5l1-55v-68l1 3.5v30.5l1 42.5v-72l1 2v98.5l1 7v-104.5l1-1v88.5l1-16.5v-73l1-5.5v16l1-1.5v-18.5l1 .5v75.5l1 24v-89l1-3v73.5l1 20v-90.5h1v85.5l1-32.5v-57.5l1 .5v70l1-48.5v-28l1 9v77l1-9.5v-68.5l1-.5v47l1 1.5v-57l1-.5v46.5l1 25v-60.5h1v53.5l1-12v-41.5h1v40l1-6.5v-41l1 1v25l1-4v-16l1-5.5v16.5l1-2v-15l1 13l1 29.5v-19.5l1 21v14l1 6.5v-6l1 2.5v3.5l1-4v-12l1-19v18l1-19v-13l1-13.5v13.5l1-18.5l4-1l1 15v-15l1 20l1 2.5v-2l1 2v1.5l1-1.5v-2.5l1-5.5v5l1-6v-14l4-.5l5-2v9l1 11.5v-10l1 13l1 1v-1h1v1l1-1l1-21.5v18l1-17.5h1l1 15.5v-15l1 21l1 10v-10l1 10.5v5h1l1-15v11l1-15h1v4l1 8v-8l1 5.5v3l1-3.5v-6l1-7v6.5l1-7.5v-12.5h3l4 1.5l1-1v1l1-1v-.5l1-1v1l1-1l1 14v-14.5l1 18l1 2v-1.5l1 1.5v1h1h2l1-4.5v3l1-3.5v-7l1-10v9.5l1-9.5l1-.5l4 2.5l4-1h2v13l1 5v-4.5l1 4.5v2l1 1.5v-1l1 1.5h1h1l1-1.5v1l1-1v-1.5l1-3.5v3l1-3.5v-7.5l1-8.5v7.5l1-7l2 3v-1l1 1l4 .5l3-.5l1-1v1l1-1v-.5l1-1v1l1-1v-1l1-.5l4 1l3-.5h2v.5l1 1v-1l1 1v1h1l8-2l1 1v-1l1 1v1l1 1.5v-1l1 1v1l1-.5v-.5l2-.5v-1l1-.5v.5l1-.5l4-1.5l4 .5l4 1.5l8-2.5h7" stroke="#5BAE1F" stroke-width="2.6"/>
<path d="M188.5 93.5l3 1l8-2h1v1l1 1v-1l1 1v1l1 1v-.5l1-1v1.5l1-1.5v-1.5l1-1.5v1.5l1-1.5v-1.5h1v1l1 1v-1l1 1v1l1 1v-1l1 1l7 1l1-.5v.5l1-1v-.5l1-1v1l1-1v-1h5l4-.5l9 1.5l8-1v.5l1 1v-.5l2 2v-.5l1 .5l7-2l5 1l4-1.5l2 .5v11l1 6.5v-6l1 8.5l1 1v-1l1 1.5h1l1-.5v.5l1-.5v-1.5l1-3v3l1-3v-6.5l1-10v9l1-9h3l1 1v-1l2 2.5v-1l1 1l3-.5v9l1 6.5v-6l1 9l1 1v-1l1 1h1l1-2v1.5l1-1.5l1-10v7l1-8v-8.5l3 .5v7.5l1 10v-8.5l1 12l1 2v-2l1 2v1h1l2-.5v-1l1-2v2l1-2l1-13.5v9.5l1-11.5v-6l1 .5v13.5l1 5.5v-5l1 7h2l1-6v4.5l1-5v-13.5l1-1v1l1-1v-1h1v14.5l1 6v-5.5l1 5.5v3l1 .5v-.5l1 .5l1-2v2l1-2v-3l1 1v3.5l1 2.5v-2l1 2v1.5l1 1v-1l1 1.5h1h2l1-1.5v1l1-1v-1.5l1-1v1.5l1 1.5v-1.5l1 1.5h1l1-2v1.5l1-1.5v-3l1-4v3.5l1 3v-3.5l1 4.5h1l1-4.5v3.5l1-4v-15l1-2.5v11.5l1 4v-11.5l1 1.5v14.5l1 3v-15.5l1 .5v15.5l1-10.5v-12.5l1-1.5v26.5l1 2v-18h1v18.5l1-.5v-18.5l1-.5v17.5l1 4.5v-20l1 1v21.5l1-1v-21l1-10v29l1-2.5v-19.5l1-3v13.5l1 5.5v-19l1 4.5v21l1-10.5v-21.5l1 2.5v21l1-2.5v-16l1-5v30.5l1 5v-22.5l1 1v22h1v-22h1v22h1v-22l1-.5v22.5l1-9.5v-25.5l1 1v34.5h1v-22l1-.5v22.5l1-2v-25.5l1-2v20l1 5.5v-23.5l1 4.5v21h1v-20.5l1-1v22l1-6.5v-21l1-6.5v29.5l1-.5v-19.5l1-2v15l1-1v-14l1 2.5v19l1-10v-20l1 3.5v28.5l1-6.5v-18l1 5v20.5l1 .5v-20.5l1-10.5v31.5l1 .5v-28l1 7.5v23l1 1v-23l1-6.5v30h1v-23h1v23.5l1-.5v-23h1v23.5l1-9v-23l1 7.5v21.5l1 1.5v-22.5l1 .5v23l1-1v-22.5l1-2.5v20.5l1-4.5v-19.5l1-1v20.5l1 7v-23l1-4v18.5l1-3.5v-14l1 .5v16.5l1 3v-20.5l1-3v30l1 2.5v-23h1v22l1-2.5v-20.5l1-3v23.5l1 3.5v-29l1 6.5v22.5l1 .5v-36l1 2.5v33.5h1v-23.5h1v23l1-.5v-24.5l1-6.5v21.5l1-2v-19l1-2.5v16.5l1 10.5v-25l1-5v24.5l1 6v-34l1 1.5v33l1 4v-22.5l1-6v23.5l1 2.5v-21.5l1 .5v21l1-17v-18l1 4v30.5l1-.5v-20.5l1-.5v21.5l1 1.5v-21.5l1-11v34l1-12v-16h1v16.5l1-1.5v-22l1 8.5v25.5l1-6v-28l1 13.5v23l1-7.5v-28l1 1v30l1 2v-35l1-1v38.5l1 .5v-23l1-.5v23.5l1-4v-33l1 10v26.5l1 .5v-23.5l1-1v24l1-2.5v-22.5h1v23l1 2v-24l1-.5v25l1-11v-28.5l1 3v30l1 3.5v-23h1v23l1-1v-22.5h1v21.5l1 2.5v-23l1 .5v23.5l1-1v-23l1-.5v22l1 1v-22.5l1-6v29l1 1v-34l1-3v35l1 1.5v-37.5l1 14.5v22.5l1-2v-21.5l1 1v23l1 1v-23h1v21.5l1-1.5v-20.5h1v21l1-.5v-20.5l1-.5v21l1-.5v-28.5l1-3v29l1-.5v-19.5l1-1v18.5h1v-18.5h1v19.5l1-2v-20l1 6.5v22.5l1 .5v-22.5h1v23l1-.5v-23l1-5.5v28l1 .5v-27l1-5.5v33l1-2v-28l1 7v23.5l1-.5v-23h1v23.5h1v-23.5l1-2v23.5l1-3.5v-26l1-4.5v17.5l1 5v-25l1 7.5v30.5h1v-25.5l1-2.5v28h1v-23l1-13v30l1 4.5v-28.5l1 4v25.5l1-8.5v-28.5l1 4v31l1 .5v-22.5l1 .5v22l1-.5v-27l1 .5v23.5l1 1.5v-21l1 .5v21.5l1 .5v-22.5l1-9.5v30l1-1v-28l1 7.5v22l1 1v-22.5l1 .5v22.5l1 1.5v-23.5l1 1v23.5l1-13.5v-22.5l1-.5v36l1-.5v-22.5l1-3v24l1-1.5v-29.5l1 9.5v23.5l1-1v-23l1-.5v22.5l1-1v-24h1v21.5l1 1v-26.5l1-4v30l1 4.5v-30.5l1 8v23h1v-23l1-.5v23.5l1-2.5v-29.5l1-4.5v28.5l1 6.5v-34.5l1 2.5v30.5l1 1.5v-22.5l1-1v22.5l1-1v-22l1 .5v23.5l1 1.5v-24l1 .5v24.5l1-.5v-23.5h1v23.5l1 .5v-24.5l1-.5v21.5h1v-21.5h1v22.5l1 1v-23l1 .5v23.5l1-1v-23l1-12.5v25l1 9v-22.5l1-5v27.5l1-.5v-22l1-8.5v26.5l1 2.5v-22.5l1-6v30.5l1 2.5v-28.5l1 5.5v23.5h1v-24.5l1-7.5v26.5l1 4v-23l1 .5v23.5h1v-23.5h1v23.5l1 .5v-24l1-1v24.5l1-3v-26l1-2.5v17.5l1 14v-25.5l1 1.5v24l1-9.5v-26.5l1 9.5v22.5l1 2.5v-23.5l1 1v24h1v-23.5h1v24l1-.5v-23.5l1-.5v23l1-.5v-23l1 .5v22h1v-22l1 .5v21.5h1v-29.5l1-1v11l1 18v-26.5l1 6v22l1-.5v-22l1-.5v22l1-1v-21.5l1-.5v21.5l1-8v-27l1 13v22.5l1-.5v-21l1-6v23.5l1 2v-24.5l1 4v20l1-1v-19.5l1-.5v19.5l1-1v-19.5l1-1v17l1-1.5v-15.5h1v15.5h1v-23.5l1 7.5v15.5l1-.5v-15l1-1v15l1-1v-14l1-1v13.5l1-4v-12l1 1.5v10.5h1v-10.5l1-1v10l1-1.5v-9.5l1-1v9l1-3v-7l1-1v4.5h1v-5l1-1.5v5l1-.5v-4l1-.5v3l1-1.5v-2l1-.5v1.5l1-.5v-1l1-.5v1l1-1l6-1l5 1l7-.5l48 .5l12 2.5l1 2v-2l1 1v2l1 2.5v-3l1 .5v4l1-.5v-4.5l1 2v8.5h1v-9.5l1 4.5v7.5l1 2.5v-11l1-1v10.5l1 3.5v-9l1-1v12l1-5.5v-9.5l1 8.5v13l1 1v-14h1v14.5l1-1.5v-14l1-4.5v16l1 3v-22.5l1 1v26l1-3v-23.5l1 10.5v18l1-2v-17.5l1-7.5v28l1-28.5l1 8v21l1 1v-19h1v19l1-7v-21.5l1 6.5v21.5l1 .5v-21l1-1v20.5l1-1v-17.5h1v16.5l1-.5v-16.5h1v17l1 .5v-17h1v17.5h1v-17.5h1v18l1 2v-25l1-1.5v27l1-2.5v-24.5l1 6v16.5h1v-16.5l1 .5v17h1v-17h1v17l1 2.5v-19l1 1v19h1v-18.5h1v18.5h1v-18.5h1v18.5l1-1v-9l1 2v7l1 .5v-5.5l1-4v9l1-9v-21l1 17v11l1 1.5v-16.5l1 .5v15.5l1 1v-11l1-5.5v17.5h1v-17h1v17l1 .5v-6l1-11.5v17.5l1-.5v-17l1 .5v17.5h1v-8.5l1-9v18h1v-14.5l1 2v12.5l1 .5v-13l1 1v12l1 .5v-10.5l1 4v6.5l1 .5v-9.5l1 1v8l1 .5v-7.5l1 3.5v4.5h1v-6.5l1 1.5v5l1 .5v-4.5l1 .5v4l1 .5v-4l1 .5v3.5h1v-2.5h1v3h1v-2.5l1 1v1.5l1 .5v-1.5h1v1.5h1v-1l1 .5v1h1v-1l1 .5v.5l3 .5v-3l1 1v2l1 .5v-7l1 7h1l1-6v6.5h1v-8.5l1 8.5l3 .5l1-6v6l4 .5v-5l1 5.5h1v-1l1 1l2 .5l1-3.5v3.5l7 1v-6l1-2.5v8.5h1v-10l1 10.5h1v-9l1-4v13.5h1v-.5l1 .5l1-6v6.5h1v-14l1 14l1-13.5v13.5h1v-12.5l1 12.5h1v-14.5l1 10v4.5h1v-1.5l1 1.5l3 .5l1-1v1h2v-1l1 1h1l1-8v8h1v-5.5l1-9.5v14l1 1v-5.5l1 5.5l1-11.5v11.5h1v-.5l1-1.5v2h2l1-6.5v6.5l1-1v-6l1 7h3v-13.5l1 13.5h1v-.5l1 .5l1-.5v.5h1v-1l1-2.5v3l3 1v-11l1-2v13h1v-5l1 5h3l1-1.5v1.5h1v-3l1-3.5v6.5h6v-1l1 1h1l1-1v1h1v-2l1 2h1l1-7v7h1v-4.5l1-6v10.5h1v-8.5l1 9h1l1-4v4h8l1-11v11h7v-3l1 3h4l1-.5v.5l6 .5v-6l1 6h20l1-6v6h1v-8l1 8l1-2v2l1 .5v-1l1 1h7l1-3v3h10v-8.5l1-1.5v10l9 .5v-4l1-2.5v6l1 .5v-1l1 1h2l1-2v2h1v-2.5l1 2.5h3l1-1.5v1.5h1v-1l1 1h2l1-6v6h1v-5.5l1 5.5h3l2-1v1h3h7v-13l1 5.5v7.5h3v-1.5l1 1.5h13l1-6v6h1l1-3.5v3.5h5v-5l1 5h5l1-1v1h4v-6.5l1-7v13.5h14v-4.5l1 4.5h1v-1.5l1 1h12l1-.5v.5h11v-2.5l1 2.5l1-3.5v3.5h5v-2.5l1 2.5h16l2-1v1h12v-5l1 4.5h2l1-13.5v14h1v-5l1-3.5v8.5h1v-.5h1v.5h1v-.5h1l1-.5v1h2v-1h1v1h1v-1l1 .5l1-.5v1l1-.5l1 .5v-1l1 .5l1-.5v1h1v-1h1v1h1v-1h1v1h2v-4l1 .5v3.5h4v-3l1 3h1v-1l1-.5v1.5h1v-3l1 1.5v1.5h1v-1.5l1 .5v1h1v-1l1-.5v1.5h1v-1.5h1v1.5h1v-1h1v1h1v-1h1v.5h3v-.5l1 .5l1-.5v.5h1v-10l1 6.5v3.5h1v-.5h1v.5h1v-.5h1v.5h1v-.5h1v.5h1v-.5h1v.5h1v-.5h1v.5h1l1-7v7h1v-11l1 11l1-.5v.5h2v-11.5l1 11.5h1v-.5l1-.5v1h1v-.5h1v.5h1v-.5h1v.5h6v-7.5l1 7.5h16l1-13.5v13.5h1v-5.5l1-4.5v10h1v-11.5l1 11.5h3l1-1.5v1.5h3v-10.5l1-3.5v14h3v-5l1 5h6v-17.5l1 17h2v-11l1 11h5l1-1v1h1v-1l1 1h18l1-9.5v9.5h1v-3.5l1 3.5l13-.5l1-20v20h1v-19l1 19h4l1-1.5v1.5h8v-6.5l1-14v20.5h1v-7l1 7l1-2.5v2.5l1-.5v-13l1 13h17l1-1v1l1-.5v-22l1 8v14.5h12v-3l1 3l3-.5l1-13v13h1v-4l1 4l1-8v8h1v-9l1 5v4h1v-1l1 1h3l1-8v8h3v-1l1-.5v1.5l3-.5v-2.5h1v2.5h5v-5l1 2v2.5h1v-16l1-13v29h1v-13.5l1 13l1-1v1h1l1-29v29h1v-6.5l1 6.5l1-.5l1-9v9h1v-6.5l1 6.5h4v-1h1v.5h1v-12l1 .5v11.5h1l1-12v11.5h1v-7.5l1-7v14.5l1-3v-22.5l1 25.5h1v-14l1-15v28.5h1v-22l1 22l1-1.5v-1.5l1-.5v2.5l1 .5v-3.5h1v3.5l1-1.5v-3l1-1v2.5l1 2v-5.5l1-12.5v17.5l1-4v-23.5h1v27l1-.5v-21.5l1 6.5v9.5l1 4v-13.5l1 2v13.5l1-1l1-33v28.5l1 1.5v-31.5l1 18.5v16l1 .5v-17l1-11.5v25.5l1-2v-29l1 23v10l1-5.5v-28.5l1 1v33l1 .5v-17l1-17.5v24l1 11v-17h1v16.5h1v-16.5l1 3.5v13l1-1.5v-36l1 20.5v17h1v-30l1-7v36.5h1v-16.5l1 .5v16.5h1l1-34.5v28.5l1 4.5v-33l1 16v18.5l1-6.5v-24.5l1 14.5v15.5l1 .5v-10l1-7v17l1-3.5v-20.5l1 5v18l1 1v-28l1 12.5v15.5l1-2v-13l1-2.5v18h1v-21l1-2v22.5h1v-22.5h1v23h1v-23.5h1v23.5h1v-23.5l1-.5v24l1-2v-22.5l1-.5v22.5l1 .5v-23h1v23.5l1-1v-22.5l1-.5v22l1 2v-23l1-12v33.5h1v-30l1 7.5v22l1-4v-24.5l1 7.5v21l1 1.5v-22l1 .5v22h1v-22l1-.5v22l1-.5v-21.5h1v21.5l1 .5v-22l1-1v22l1-5v-19.5l1-2v16.5l1-3v-14h1v24l1 5v-24l1 1v23.5l1-1v-23.5l1-1v22h1v-21.5h1v22l1 .5v-22l1 .5v22l1 .5v-24l1 .5v24h1v-23h1v23.5h1v-23h1v23h1v-23h1v22l1-2v-20.5h1v20.5l1 1v-21.5l1-8v28.5l1-1v-24.5l1 3.5v22.5l1-10v-17l1 3v19l1 4.5v-22l1 1v21.5h1v-22l1-.5v21.5l1-.5v-22l1-9.5v28.5l1-6v-19l1 1.5v14.5l1 7v-19.5h1v21.5l1-4v-21l1-1.5v23l1 5v-26.5l1-3v30l1 .5v-29.5l1 4v27l1 2.5v-23.5l1-2.5v26l1-3v-25.5l1-1v24.5l1-15.5v-18l1 12.5v21.5l1-.5v-21h1v20l1 .5v-25l1 1.5v27l1 1.5v-22.5l1 .5v22h1v-22l1-.5v22.5l1-1v-22.5l1-1v22l1-.5v-21.5l1-5v27.5l1-3.5v-28.5l1 11v22.5h1v-22l1-3v22.5l1-8.5v-17.5l1 2.5v18l1 2.5v-19l1-5.5v20l1-6.5v-14l1 3.5v23.5l1 2v-22l1 .5v22l1-5v-20l1-3v21l1 2.5v-19l1 1.5v19.5h1v-20h1v20l1 1v-20.5h1v21l1-.5v-21l1-.5v20.5l1-1v-19.5l1-9v27.5l1-.5v-19l1-4v19.5l1-1v-16.5l1-3.5v21l1-1v-20l1 5v19l1 1.5v-20l1 .5v20.5h1v-20.5l1-8.5v25.5l1-4v-17.5l1 1v21l1 2v-20.5l1 .5v20l1-1v-19.5l1-1v19.5l1-8.5v-17.5l1-4v20.5l1 9v-29l1 11v19.5l1-1v-21l1 3v19h1v-19.5l1-4.5v21.5l1 1v-22l1-7v23.5l1 6v-20l1-.5v20l1-2v-18.5l1-9.5v28l1-1v-28l1 12.5v17.5l1-.5v-17h1v16h1v-16l1-8.5v23.5l1-2v-20.5l1 5.5v14.5l1-2v-18l1-1v17l1 3.5v-6l1 6.5v2.5l1 1.5v-1.5l1 2h2v-1l1-2.5v2l1-2l1-20v15l1-20.5l2-.5l2-.5l1 17v-17l1 22.5l1 2v-2l1 2l1-2.5v2.5l1-2.5l1-22.5v16l1-16l3-.5l4-1.5l1 9.5v-9.5l1 11v11l1 3.5v-3l1 4h1l1-5v4l1-4v-19.5l3 .5v17l1 6.5v-6l1 8.5l1 1v-1l1 .5l1-2v2l1-2.5v-4.5l1 .5v4l1 2v-1.5l1 1l1-3v3l1-3v-7.5l1-14.5v13.5l1-14h2l4 2l1-.5v-.5l1-1v1l1-1v-.5l2-1v16l1 4v-3.5l1 4v2l1 1v-1l1 1h1l1-2v1.5l1-1.5l1-11v7.5l1-8.5v-10.5l2-.5l4 2.5l5-1l1 14.5v-14.5l1 20l1 2.5v-2.5l1 2.5v1.5l1 .5v-.5l1 .5h1l1-1.5v1l1-1v-2l1-3.5v3.5l1-4v-8.5l1-9.5v8.5l1-7.5l2 2.5v-.5l1 1h4l3-.5l1-.5v.5l1-.5v-1l1-1v1l1-1v-1h1l4 .5l3-.5h2v1l1 .5v-.5l1 .5v1l1 .5l8-2.5l1 1v-.5l1 1v1l1 1v-1l1 1v1h1v-1l2-.5v-.5l1-1v1l1-1l4-1h4l4 1.5l8-2.5h7" stroke="#A668A6" stroke-width="2.6" stroke-dasharray="7 7 5 8 8 6 6 9"/>
<path d="M188.5 93.5l3 .5l8-2l1 .5v1l1 1v-1l1 1v1l1 1v-1l1-.5v1.5l1-1.5v-1.5l1-1.5v1.5l1-2v-1h1v1l1 .5v-.5l1 1v.5l1 1v-.5l1 .5l7 1l1-.5v1l1-1v-1l1-.5v.5l1-.5v-1h5l4-1l9 2l8-1v.5l1 1v-1l2 2.5v-.5h1l7-1.5l5 1l4-1.5l2 .5v9.5l1 6v-5.5l1 7.5l1 1.5v-1.5l1 1.5h1l1-.5v.5l1-.5v-1.5l1-2.5v2.5l1-2.5v-5.5l1-9v8l1-8h3l1 .5v-.5l1 .5v1l1 .5v-.5l1 1l3-.5v8l1 6v-5.5l1 7.5l1 1v-1l1 1h1l1-1.5v1l1-1l1-9v6l1-7v-7.5l3 .5v6.5l1 9v-7.5l1 10.5l1 1.5v-1.5l1 1.5v1h1h2v-1l1-1.5v1.5l1-2l1-12v8.5l1-10v-5.5l1 .5v12l1 5v-4.5l1 6h2l1-5v3.5l1-4v-12.5l1-.5v.5l1-.5v-1l1-.5v13l1 5.5v-5l1 5.5v2.5l1 .5v-.5l1 .5l1-2v1.5l1-1.5v-2.5l1 1v3l1 2.5v-2l1 2v1l1 1v-1l1 1l1 .5l2-.5l1-1v1l1-1v-1.5l1-.5v1l1 1.5v-1l1 1h1l1-2v1.5l1-1.5v-2.5l1-3.5v3l1 2.5v-3l1 4h1l1-4v3l1-3v-14l1-2v10.5l1 3.5v-10.5l1 1.5v13l1 2.5v-13.5h1v14l1-9.5v-10.5l1-1.5v23.5l1 1.5v-16h1v16.5l1-.5v-16.5l1-.5v15.5l1 4v-18l1 1v19l1-.5v-19l1-8.5v25.5l1-2v-17.5l1-2.5v12l1 4.5v-17l1 4v18.5l1-9v-19l1 2.5v18.5l1-2v-14.5l1-4.5v27.5l1 4v-19.5l1 .5v19.5h1v-19.5h1v19.5h1v-19.5l1-.5v20l1-8.5v-22.5l1 1v30.5h1v-19.5h1v19.5l1-1.5v-22.5l1-2v17.5l1 5v-20.5l1 3.5v19h1v-18.5l1-.5v19l1-5.5v-18.5l1-6v26h1v-17.5l1-1.5v13.5l1-1.5v-12.5l1 2.5v17l1-9v-17.5l1 3v25.5l1-6v-16l1 4.5v18l1 .5v-18.5l1-9v28l1 .5v-25l1 7v20l1 1.5v-21l1-5.5v26.5h1v-20.5h1v21l1-.5v-20.5h1v21l1-8v-20.5l1 6.5v19.5l1 1.5v-20.5l1 .5v20.5l1-.5v-20.5l1-2.5v18.5l1-3.5v-17.5l1-1v18.5l1 6v-20.5l1-3.5v16.5l1-3v-12.5h1v15l1 2.5v-18l1-2.5v26.5l1 2v-20l1-.5v19.5l1-2v-18.5l1-2.5v21l1 3v-26l1 6v20.5h1v-32l1 2.5v29.5h1v-21h1v20.5l1-.5v-21.5l1-6.5v19.5l1-2v-17l1-2v15l1 9v-22l1-4.5v22l1 5.5v-30.5l1 1.5v29.5l1 3.5v-20.5l1-5v21l1 2v-19l1 .5v18.5l1-15v-16l1 3v27.5h1v-19h1v19l1 1.5v-19.5l1-9.5v30.5l1-10.5v-14.5h1v14.5l1-1v-20l1 7.5v23l1-5.5v-25l1 12v21l1-7v-25l1 .5v27l1 2v-31.5l1-1v34.5l1 .5v-20.5h1v20.5l1-3.5v-29l1 8.5v24h1v-21l1-1v22l1-2.5v-20.5h1v21l1 1.5v-21.5l1-.5v22.5l1-9.5v-25.5l1 2v27.5l1 2.5v-20.5l1 .5v20.5l1-1v-20.5h1v19.5l1 2v-20h1v21l1-1v-20l1-.5v19.5l1 .5v-20l1-5v26l1 .5v-30.5l1-2.5v31l1 1.5v-33.5l1 13v20l1-1.5v-19l1 1v20l1 1v-20.5h1v19.5l1-1.5v-18.5h1v19l1-.5v-18.5h1v18.5l1-.5v-25.5l1-2.5v26l1-.5v-17.5l1-1v16.5h1v-16.5h1v17.5l1-1.5v-18l1 5.5v20.5l1 .5v-20.5h1v20.5l1-.5v-20l1-5.5v25.5h1v-24l1-5v30l1-2v-25l1 6v21l1-.5v-20.5h1v21h1v-21l1-1.5v21l1-3v-23.5l1-4v15.5l1 4.5v-22.5l1 6.5v27.5h1v-22.5l1-2.5v25.5l1-.5v-20.5l1-11.5v27l1 4v-26l1 3.5v23l1-7.5v-25.5l1 4v27.5l1 .5v-20h1v20l1-.5v-24.5l1 1v20.5l1 1.5v-19l1 .5v19.5l1 .5v-20l1-8.5v26.5l1-.5v-25.5l1 7v19.5l1 1v-20.5l1 .5v20.5l1 1v-21l1 1v21l1-12v-20l1-.5v32h1v-20.5l1-2.5v21.5l1-1.5v-26.5l1 9v20.5l1-.5v-20.5l1-.5v20l1-1v-21.5h1v19.5l1 .5v-23.5l1-3.5v26.5l1 4v-27l1 7v20.5l1 .5v-21h1v20.5l1-2v-26.5l1-4v25.5l1 5.5v-30.5l1 2v27.5l1 1.5v-20.5l1-.5v20l1-1v-19.5l1 .5v20.5l1 1.5v-21.5l1 1v21.5l1-.5v-21h1v21l1 .5v-22l1-.5v19.5h1v-19h1v19.5l1 1.5v-21l1 .5v21.5l1-1v-20.5l1-11.5v22.5l1 8v-20.5l1-4.5v25l1-.5v-19.5l1-8v24l1 2v-20l1-5.5v27.5l1 2.5v-26l1 5v21h1v-22l1-6.5v24l1 3.5v-21l1 .5v21h1v-21h1v21.5h1v-21.5l1-.5v21.5l1-2.5v-23.5l1-2v16l1 12v-22.5l1 1v21.5l1-8.5v-23.5l1 8.5v20l1 2v-21l1 1.5v21.5l1-.5v-21h1v21.5h1v-21.5l1-.5v20.5h1v-20.5h1v20l1-.5v-19.5l1 .5v19.5h1v-26.5l1-1v10l1 16v-23.5l1 5v19.5h1v-19.5l1-.5v19.5l1-1v-19l1-.5v19l1-7.5v-24l1 12v20h1v-19.5l1-5v21l1 1.5v-22l1 3.5v18.5l1-1.5v-17l1-.5v17.5l1-1v-17.5l1-.5v14.5l1-1v-14l1 .5v13.5h1v-21l1 7v13.5h1v-14l1-.5v13.5l1-1.5v-12l1-1v12l1-3.5v-11l1 1.5v9.5h1v-9.5l1-1v9l1-1v-8.5l1-1v8l1-2.5v-6.5l1-1v4.5l1-.5v-4l1-2v5l1-1v-3.5l1-.5v3l1-1v-2l1-.5v1.5l1-.5v-1.5h1v.5l1-.5l6-1l5 1l7-.5l48 .5l12 2.5l1 2v-2l1 1v2l1 2v-3l1 1v3h1v-4l1 1.5v8l1-.5v-8l1 4v6.5l1 2.5v-10l1-1v9l1 3.5v-8l1-.5v10.5l1-5v-8.5l1 7.5v11.5l1 1v-12l1-.5v12.5l1-1v-12l1-4.5v14l1 3v-20l1 1v23l1-2.5v-21l1 9.5v15.5l1-1.5v-15.5l1-6.5v24l1-24.5l1 7v18.5l1 .5v-16l1-.5v16.5l1-6v-18.5l1 5.5v18.5l1 .5v-18l1-1v18l1-1v-15.5h1v14.5h1v-14.5h1v14.5l1 .5v-15h1v15.5h1v-15.5h1v16l1 1.5v-22l1-1v23.5l1-2v-21.5l1 5v14.5l1 .5v-14.5l1 .5v14.5h1v-14.5h1v14.5l1 2v-16l1 .5v16.5h1v-16h1v16h1v-16h1v16l1-.5v-8.5l1 2v6l1 .5v-4.5l1-3.5v7.5l1-7.5v-18.5l1 15v9.5l1 1v-14l1 .5v13.5l1 .5v-9l1-5v15h1v-15h1v15l1 .5v-5l1-10.5v15.5l1-.5v-14.5h1v15l1 .5v-7.5l1-8v15.5h1v-12.5l1 1.5v11l1 .5v-11.5l1 1.5v10h1v-8.5l1 3v5.5l1 .5v-8l1 1v6.5l1 .5v-6l1 2.5v3.5l1 .5v-5.5l1 1v4l1 .5v-4l1 .5v3.5l1 .5v-3.5l1 .5v3h1v-2l1-.5v2.5h1v-1.5l1 .5v1.5h1v-1h1v1h1v-1l1 .5v.5l1 .5v-1l3 1l1-2v2l1 .5v-2l1-3.5v5.5h3v-5l1-1.5v7l5 .5v-5.5l1 5.5h2l1-4.5v4.5h1v-.5h1v1h4v-3l1 3l5 .5l1-4.5v5h1v-7.5l1-1v8.5h1l1-7.5v7.5l1 .5v-11l1 11h2v-5l1-6v11l2 .5v-11l1 .5v10.5h1l1-11.5v11.5h1v-4l1 2.5v1.5h5v-1l1 1h3l1-6v6h1v-4l1-7.5v11l1 1v-4.5l1 4.5l1-9.5v9l2 .5v-1.5l1 1.5l1-.5v.5h1v-5.5l1-.5v5l1 1v-.5l1 .5h1l1-11v11h1v-2.5l1 2.5h2l1-1v1.5l1-1v-2l1 2.5l1 .5l1-9v9h1v-10.5l1 6.5v4h5v-1.5l1-.5v2h1v-5.5l1 5.5l4 .5l1-1v1h3v-1l1-.5v1.5h3v-6l1 2.5v3.5h1v-8.5l1 1.5v7h3v-2.5l1 2.5l6 .5l1-2.5v2.5h1v-9l1 9h5l1-2.5v2.5l6 .5v-1l1 1h4l1-4.5v4.5l22 .5v-5l1-1.5v6.5h2v-1.5l1 1v.5l9 .5v-2.5l1 2.5h8l1-7v7l1 .5v-8.5l1 8.5h7l1-3v3h1v-5l1 5h4v-1.5h1v1.5l5 .5v-1.5l1 .5v1h4v-5l1 .5v4.5h6v-.5l1 .5l2 .5l6-.5l1-11v11.5h1v-6.5l1 6h1l1-1.5v2h15v-5.5l1 5.5l1-.5v-3l1 3h3l1-4v4.5h7v-1l1 1h2l1-6v6h1v-12l1 12l12-.5l1-3.5v4l1-.5v-.5l1-.5v1.5l14-.5l11 .5v-2.5l1 2.5l1-3.5v3.5h5v-2.5l1 2.5l16-.5l2-.5v.5h12v-4.5l1 4.5h2l1-12v12h1v-4l1-3v7h5v-.5l1 .5l1-.5v.5h1h3v-.5l1 .5l1-.5v.5h4v-.5l1-.5v1h1v-1l1 1l1-3.5v3.5h1v-3l1 3h2l1-2.5v2.5h1v-.5l1-.5v1h1v-1l1-1.5v2.5h1v-1h1v1h1v-1h1v1h1v-1h1v1h1v-1h1v1h1v-1l1 .5h1v.5h6v-9l1 5.5v3.5h1v-.5l1-.5v1h1v-1l3 .5l2-.5v1h1v-1h1v1h1l1-6.5v6.5h1v-10l1 9.5l1-.5v1l2-.5v-9.5l1 10h1v-1h1v1h1v-1l2 .5l1-.5v1h6v-7l1 6.5h16l1-11.5v11.5h1v-4.5l1-4v8.5h1v-10l1 10h3l1-1v1h3v-9l1-3v12h3v-4l1 4h6v-14.5l1 14.5h2v-10l1 10h5l1-1v1h1v-1l1 1l18-.5l1-7.5v7.5h1v-3l1 3h13l1-17.5v17.5h1v-16.5l1 16.5h4l1-1v1h8v-5.5l1-12.5v18h1v-6l1 6l1-2v2l1-.5v-11.5l1 12l17-.5l1-.5v.5h1v-19.5l1 7v12.5h12v-2.5l1 2.5h3l1-11.5v11.5h1v-4l1 4l1-7.5v7.5h1v-8l1 4.5v3.5h1v-1l1 1h3l1-7.5v7.5h3v-1l1-.5v1.5l3-.5v-2l1-.5v2.5h5v-4.5l1 2v2h1v-14.5l1-11v25.5h1v-12l1 11.5l1-.5v1l1-.5l1-25.5v25.5h1v-6l1 6h1l1-8v7.5l1 .5v-6l1 5.5h3l2-1v1h1v-11l1 .5v10h1l1-10.5v10.5h1v-7l1-6v13l1-3v-19.5l1 22.5l1-.5v-12.5l1-13v25.5h1v-19.5l1 19.5l1-1.5v-1l1-1v2.5l1 .5v-3h1v3l1-1.5v-2.5l1-.5v2l1 1.5v-4.5l1-11.5v15.5l1-3v-21h1v24h1v-19.5l1 6v8.5l1 3.5v-12l1 1.5v12.5l1-1l1-29.5v25.5l1 1.5v-28.5l1 16.5v15h1v-15l1-10.5v23l1-2v-26l1 20.5v9.5l1-5.5v-25.5l1 1v30l1 .5v-16l1-16v22.5l1 9.5v-15.5l1 .5v15l1-.5v-15l1 3.5v12l1-1.5v-33l1 19v15l1 .5v-27.5l1-6.5v33l1 .5v-15l1 .5v15h1l1-31.5v26l1 4v-30l1 14.5v17l1-6v-22.5l1 13.5v14h1v-8.5l1-6.5v15.5l1-3.5v-18.5l1 4.5v16.5l1 1v-25.5l1 11v14.5l1-2v-12l1-2v16l1 .5v-19l1-2v20.5h1v-20.5h1v21l1-.5v-21h1v21.5l1-.5v-21l1-.5v22l1-2v-20.5l1-.5v21h1v-21h1v21.5l1-1v-20.5l1-.5v20l1 2.5v-21.5l1-11v30.5h1v-27.5l1 7v20l1-3v-23l1 7v19.5l1 1v-20l1 .5v20h1v-20l1-.5v20.5l1-.5v-20h1v20h1v-20l1-1v20l1-4v-18l1-2v15l1-2.5v-13h1v22l1 4.5v-22l1 1v21.5l1-.5v-22l1-.5v20h1v-20h1v20.5l1 .5v-20.5l1 .5v20l1 1v-22.5l1 .5v22h1v-21h1v21.5h1v-21h1v21h1v-20.5l1-.5v20l1-1.5v-19h1v19l1 .5v-19l1-8v26.5l1-1v-22.5l1 3v21l1-9.5v-15.5l1 2.5v17.5l1 4.5v-20.5l1 1v19.5h1v-19.5l1-.5v19.5l1-.5v-20l1-8.5v26l1-6v-17.5l1 2v13l1 6.5v-18h1v20l1-4v-19l1-1.5v21l1 4.5v-24l1-3v27.5l1 .5v-27l1 3.5v25l1 2.5v-22l1-2v24l1-3v-23.5l1-1v22.5l1-14v-17l1 12v20l1-1v-19l1-.5v18.5l1 1v-23l1 1.5v24.5l1 1.5v-20.5h1v20.5h1v-20.5l1-.5v21l1-1v-20.5l1-1v20l1-.5v-20l1-4v25l1-3.5v-26l1 10.5v20.5h1v-20.5l1-3v21l1-7.5v-16.5l1 2v17l1 2.5v-17.5l1-5.5v18.5l1-6v-13l1 3.5v21.5l1 2v-20h1v20l1-4v-18.5l1-2.5v18.5l1 2.5v-17.5l1 1.5v18h1v-18l1-.5v18.5l1 1v-19h1v19h1v-19.5l1-.5v19l1-1v-18l1-8v25.5l1-1v-17.5l1-3.5v17.5l1-.5v-15l1-3v19l1-1.5v-17.5l1 4.5v17l1 1.5v-18.5l1 .5v19h1v-19l1-7.5v23l1-3.5v-16l1 1v19l1 1.5v-18.5l1 1v18l1-1v-18l1-1v18l1-7.5v-16l1-4v18.5l1 8.5v-26.5l1 10.5v17.5l1-1v-19.5l1 3v17.5l1-.5v-17l1-4.5v19.5l1 1v-20l1-6.5v21.5l1 5.5v-18l1-1v18.5l1-2v-17l1-8.5v25.5l1-1v-25l1 11v16l1-.5v-15.5h1v14.5h1v-14.5l1-7.5v21.5l1-2v-18.5l1 5v12.5l1-1.5v-16.5l1-.5v15l1 3.5v-5.5l1 5.5v2.5l1 1.5v-1.5l1 2h1l1-1v1l1-1.5v-2l1-4v4l1-4v-13.5l1-5l3-1h2v15l1 5v-4.5l1 6.5h2l1-7.5v5l1-6v-14l4-.5l4-2h1v9l1 11.5v-10l1 13l1 1v-1h1v1l1-1l1-21.5v18l1-17.5h1l1 15.5v-15l1 21l1 2.5v-2.5l1 3l2-.5l1-6v4h1v-4l1 5.5l2-.5l1-9v6.5l1-7.5v-12.5h3l4 1.5l1-1v1l1-1v-.5l1-1v1l1-1l1 14v-14.5l1 18l1 2v-1.5l1 1.5v1h1h2l1-4.5v3l1-3.5v-7l1-10v9.5l1-9.5l1-.5l4 2.5l4-1h2v13l1 5v-4.5l1 4.5v2l1 1.5v-1l1 1.5h1h1l1-1.5v1l1-1v-1.5l1-3.5v3l1-3.5v-7.5l1-8.5v7.5l1-7l2 3v-1l1 1l4 .5l3-.5l1-1v1l1-1v-.5l1-1v1l1-1v-1l1-.5l4 1l3-.5h2v.5l1 1v-1l1 1v1h1l8-2l1 1v-1l1 1v1l1 1.5v-1l1 1v1l1-.5v-.5l2-.5v-1l1-.5v.5l1-.5l4-1.5l4 .5l4 1.5l8-2.5h7" stroke="#922A94" stroke-width="2.6"/>
</g>
<g clip-path="url(#c1)" fill="none" stroke-linejoin="round" stroke-linecap="butt">
<path d="M188.5 726.0l3 1l8-2h1v1l1 1v-1l1 1v1l1 1v-.5l1-1v1.5l1-1.5v-1.5l1-1.5v1.5l1-1.5v-1.5h1v1l1 1v-1l1 1v1l1 1v-1l1 1l7 1l1-.5v.5l1-1v-.5l1-1v1l1-1v-1h5l4-.5l9 1.5l8-1v1l1 .5v-.5l2 2v-.5l1 .5l7-2l5 1l4-1.5l2 .5v10.5l1 6v-5.5l1 8l1 2v-2l1 2.5v4l1 .5l1-6v4.5l1-6l1-2.5v2.5l1-2.5v-6.5l1-9v8.5l1-9h3l1 1v-1l2 2.5v-1l1 1l3-.5v8.5l1 6.5v-5.5l1 8l1 4.5v-4.5l1 5v2.5h1v-4l1-4v3.5l1-3.5l1-10v7l1-8v-8l3 .5v7.5l1 9.5v-8.5l1 8.5l1 23v-16.5l1 17.5v12l1 5v-4.5l1-.5v5l1-5.5v-13l1-17.5v16.5l1-22.5l1-9v9l1-11v-6l1 .5v13l1 5v-4.5l1 6.5l1 1v-1l1-1.5v1.5l1-1.5l1-17.5v13l1-14l1-1l1 14v-14l2 33v-13l1 14v8h1l1-20v14.5l1-18l1 1v14.5l1 29.5v-28l1 29.5v28.5l1 26.5v-25l1 26v16l1 6v-5.5h1v6l1-6.5v-16.5l1-25v24l1-25.5v-28.5l1-13v23.5l1 29v-27l1 36.5l1-.5l1-48.5v33l1-35.5v-35.5l1-9l1 37v-34.5l1 51h1v-15l1-35.5v33.5l1-34v-15l1-2v11l1 4v-11.5l1 2v30l1 39v-67.5l1 .5v86.5l1-93.5l1-1.5v94.5l1 13v-98l1 .5v98l1-36.5v-62.5l1-.5v40l1 39v-77.5l1 1v120.5l1-18.5v-102l1-9.5v73.5l1-29.5v-37.5l1-2.5v12l1 5v-17.5l1 4v73.5l1-83l1 2.5v19l1-2.5v-14.5l1-5v64.5l1 100v-152l1 .5v156.5h1v-156.5h1v159.5l1 2v-161.5l1-.5v162.5l1-174l1 1v178l1 3v-169.5h1v169.5l1-57.5v-116.5l1-2l1 79.5v-77.5l1 3.5v109.5l1 3.5v-112.5l1-1v117l1-122l1-6v51.5l1-3.5v-39l1-2v14l1-1.5v-12.5l1 2.5v39l1-31v-18l1 3v67.5l1-63.5l1 4v70.5l1 10v-80l1-9.5v95l1 6v-97.5l1 7v143l1 38.5v-180.5l1-6v200.5l1-4.5v-189.5h1v208l1-6v-202h1v207.5l1-215.5l1 7v127.5l1 49.5v-176.5l1 .5v204.5l1-25.5v-179.5l1-2.5v69l1-46v-26l1-.5l1 126v-122.5l1-3.5v17l1-3v-13l1 .5v15l1 18.5v-34l1-3v153.5l1 76v-221h1v187l1-66.5v-121.5l1-2.5v122.5l1 120v-244.5l1 6v246l1 7v-265l1 2.5v262l1 .5v-253.5l1-.5v248l1-19.5v-230l1-6v33.5l1-16v-17l1-2l1 78v-76.5l1-4.5l1 95v-98l1 1.5v107l1 106v-200l1-5.5v78l1 47v-120.5h1v131.5l1-144l1 3.5v123h1v-114.5l1-.5v123l1 50v-171.5l1-10v230l1-224.5h1v15l1-1v-20l1 7.5v201.5l1-144.5v-64.5l1 12v312.5l1-324l1 1v142.5l1 59.5v-205l1-1v323.5l1 16.5v-325.5h1v329l1-169v-172l1 9v329l1 8.5v-334.5l1-1v330l1-125v-206h1v232l1 89.5v-320.5l1-.5v340l1-353l1 2.5v125l1 92v-207.5h1v225.5l1-44.5v-181.5h1v148l1 86.5v-233.5l1 .5v274l1-43.5v-231h1v190l1 23v-213l1-5.5v247l1 45v-295.5l1-3v208.5l1 71.5v-281l1 13.5v239l1-64v-175.5l1 .5v263l1 62.5v-324.5h1v257.5l1-65.5v-192.5h1v206l1-8.5v-197.5l1-.5v197.5l1-26.5v-178l1-3v121l1-16v-97l1-.5v62l1-.5v-61.5h1v82l1-32.5v-51.5l1 5.5v324l1 32v-355.5h1v381.5l1-33.5v-348.5l1-5v323l1 19v-340.5l1-5v401.5l1-120.5v-278.5l1 6.5v399l1-11.5v-387.5h1v402l1-2v-400.5l1-1v308l1-146v-168l1-4v16l1 11.5v-29.5l1 6.5v407l1-5.5v-397l1-2v411.5l1-14.5v-392.5l1-12v142l1 181.5v-318l1 3.5v369.5l1-380l1 4v277.5l1 26v-295.5l1 .5v294l1-26v-273l1 .5v144.5l1 56.5v-197.5l1 .5v239.5l1 26v-266l1-8.5v192.5l1-25v-166.5l1 6.5v201.5l1 49v-250l1 .5v275l1 64.5v-339l1 1v416l1-427.5l1-.5v391.5l1-24v-355.5l1-3v275.5l1-75.5v-206l1 8.5v369.5l1-47.5v-322.5h1v263l1-41.5v-224.5l1 .5v135.5l1 26v-165.5l1-3.5v148.5l1 189v-334l1 7v360l1 4v-363.5l1-.5v348l1-112v-243.5l1-4v86l1 184v-270l1 2.5v208l1 74.5v-274l1-1v221.5l1-37.5v-184.5l1 .5v254.5l1 80.5v-334l1 .5v386l1-17v-368.5h1v365l1 17.5v-383l1-.5v217.5l1-7.5v-210h1v243l1 68v-310.5l1 .5v368.5l1-60v-309l1-11.5l1 239.5v-229l1-4.5v227.5l1-14.5v-208.5l1-8v93l1 61v-147.5l1-6v222l1 114v-331.5l1 5v325.5l1-9v-317.5l1-6.5v126.5l1 127v-247h1v289.5l1-10.5v-278.5h1v282.5l1-1.5v-281l1-1v274l1-117v-161l1-2l1 264v-259l1 1.5v256l1-267l1 9v121.5l1 65v-185.5l1 1v255.5l1-5v-250h1v253l1-5v-248l1-.5v198.5l1-12.5v-186h1v164l1-8v-156l1 .5v159l1-3.5v-163l1-.5l1 125v-123l1 5.5v160.5l1 .5v-161.5l1-.5v157l1-19.5v-138h1v135l1-148l1 12.5v170.5h1v-170l1-5.5v85.5l1 60v-144.5l1 3.5v141.5l1-10.5v-131.5l1-.5v140l1-6.5v-134l1-1v69l1-8.5v-60.5h1v73l1 16.5v-97l1 7.5v91.5l1 8.5v-100.5l1-.5v92.5l1-12v-81l1-1v72.5l1-74.5l1 1.5v35l1 8v-43.5l1-.5v39.5l1-6.5v-34l1-1v28l1-17.5v-11.5l1-1v4.5l1-.5v-4l1-1.5v4.5l1-.5v-3.5l1-.5v2.5l1-1v-2l1-.5v1.5l1-.5v-1l1-.5v1l1-1l6-.5l5 .5l7-.5l48 .5l12 2.5l1 5.5v-5.5l1 1v19l1 8.5v-26l1 .5v24.5l1-25.5l1 2v70.5l1-15v-56.5l1 4.5v80.5l1 21v-103l1-.5l1 56.5v-52l1-1v66l1-69l1 7.5v183.5l1 2v-185l1-.5v173l1-83v-90.5l1-4v39l1 37.5v-79.5l1 .5v232.5l1-143.5v-89.5l1 9.5v248l1-102v-147.5l1-6.5v251.5l1-252l1 7v258l1 34v-289l1-.5v277.5l1-285.5l1 5.5v236.5l1 32v-267.5l1-1v202.5l1-39.5v-161l1-.5v125.5l1-14v-111.5h1v125.5l1 10v-135.5h1v153l1 2.5v-155.5h1v174.5l1 79.5v-258l1-1.5v297l1-126v-171l1 5v99l1 9v-107.5l1 .5v133l1-1.5v-131.5h1v129l1 85.5v-214l1 1v277l1-14.5v-262.5h1v263l1 5.5v-268.5h1v273l1-49v-211.5l1 20.5v181l1 25.5v-177.5l1-47v193.5l1-219l1 14.5v142l1-22v-123.5l1 .5v161l1 84.5v-240.5l1-5v219.5l1-26.5v-192.5h1v285l1 25.5v-237l1-73.5v267l1 9.5v-276.5l1 .5v346l1 12v-328.5l1-29.5v367l1-1v-362.5l1 1.5v389l1-28.5v-360.5l1 3.5v398l1 3v-381.5l1 74v259.5l1 87.5v-410l1 18.5v371l1 13v-355l1 106v235l1 35v-343l1-43.5v378l1-31v-234.5l1 19.5v259l1 43.5v-294.5l1-69.5v362l1-49v-264.5l1 64v265l1-14.5v-355.5l1 37.5v244l1 73v-275.5l1-70.5v380l1-10.5v-364l1 100.5v272l1-1v-337l1 84v262.5l1-13v-167l1-141.5v287l1 38.5v-410.5l1 58v338l1-101v-327l1 105.5v341l1-4v-330l1-153v476.5l1 11.5v-513l1 174.5v338l1-28v-318l1 2v344.5h1v-134l1-293v394l1 33v-270.5l1-75v341.5l1 4v-306l1-100v339.5l1 2.5v-269l1 36.5v296.5l1-6.5v-324.5l1 1.5v329l1-26v-307.5l1-93v425l1 1v-343l1 8v336l1-.5v-309l1-25v297.5l1 37v-332l1-2v334l1-214.5v-216.5l1-59.5v481.5l1-60v-438.5l1 178.5v270.5l1 48.5v-500l1-28.5v443.5l1 38.5v-272l1 75v252.5l1 1v-461.5l1-76v500l1 36.5v-261.5l1-272v534.5l1-46.5v-482l1 253.5v258.5l1 11.5v-536l1 180v356.5h1v-311.5l1 61.5v253.5l1-3v-262l1-16v276.5l1 4v-123.5l1-18v138.5l1 2v-121.5l1-9v130.5l1 .5v-194.5l1 75v119.5l1-.5v-442l1 63v377l1-139v-396l1 180v356l1 .5l1-512.5v502l1 10v-59.5l1-104v161l1 2l1-109.5v109.5l1-1v-403.5l1-21v311.5l1 114v-83l1 22v60.5l1-2.5l1-526.5v521l1 7.5v-270.5l1 265l1 5.5v-71l1-3.5v72.5l1 1.5v-121l1-143.5v187.5l1 76.5v-58l1 26.5v31l1-4.5v-494l1-23v513l1 8v-334l1 334.5l1-4v-24l1 19.5v8.5l1-3.5l1-146.5v150l1-1v-235l1-165.5v401h1v-25l1 2.5v21.5l1 1v-6l1-7.5v13l1-.5l1-80v76l1 4.5v-31.5l1 12v19l1 .5v-107l1-60v160l1 6.5l1-13.5v13.5l1-3v-423l1 107.5v318h1v-497l1 31v465l1 1v-14.5l1 6v8.5l1-.5v-269.5l1 269.5h1v-7.5l1-12.5v20h1v-6.5l1-2v8.5l1-.5v-23.5l1 10.5v13h1v-245l1-250.5v495h1v-20.5l1 2.5v18h1v-16l1-1.5v17h1v-5.5l1-4.5v9.5l1-4v-227.5l1 231l1 .5v-19l1 2v16.5h1v-14.5l1 8.5v6h1v-98l1 97.5h1v-9l1-8v17h1v-18.5h1v18l1-.5v-355l1 355h1v-9l1-9.5v18.5l1-.5v-19.5l1 10.5v9h1v-18.5l1 7v11.5l1-.5v-9.5l1-3.5v13h1v-11.5l1-1v12h1l1-16v16l1-.5v-16l1-1.5v17.5h1v-18l1 8.5v9.5l1-.5v-8.5l1-9.5v17.5l1 .5v-9.5l1 4.5v4l1 .5v-381.5l1-57v435.5l1 2.5l1-178v176.5l1 1.5v-73l1 72l1 .5v-17h1v17l1-.5v-15.5l1 10v5.5h1v-10l1-5.5v15h1l1-230.5v230.5h1v-24.5l1 24h1v-14.5l1 14.5l1-.5v-13l1 7v6h1v-10.5l1-5.5v15.5h1l1-435.5v435.5l1-1v-464l1 464.5h1v-3l1-4v6.5h1l1-11v11l1-.5v-8.5l1-2v10.5l1-.5l1-264v264l1-20.5v-340.5l1 360l1 .5v-14.5l1 4.5v9.5h1l1-156.5v153l1 3v-168.5l1 168.5l1-.5v-6.5l1-5v11.5h1l1-123v120.5l1 2v-84.5l1 84h1v-9.5l1 3.5v6l1-1v-358l1 23.5v335h1v-6l1-4.5v10h1v-8.5l1 3v5h1v-53l1-47v98.5l1 1v-20l1-2v22l1-.5v-21.5l1-10.5v32l1-.5v-29.5l1-6v36l1-2v-36.5l1 6v32l1-5l1-487v491.5l1-9v-397l1 404.5l1 .5v-49.5l1-111.5v159l1-2v-53.5l1-5.5v59l1-.5v-52.5l1-16.5v69l1 2v-78l1-2v79l1-1.5v-83.5l1 2v79.5l1-.5v-73.5l1-16.5v90.5l1-2v-100.5l1 17v88.5l1-.5v-85.5l1-14.5v99l1-2.5v-368.5l1 368.5l1-4v-269l1 276l1-1v-62.5l1 11v51h1l1-313.5v313h1v-40.5l1-1v41h1v-28.5l1 3v25l1-2v-15l1 6v10.5h1v-71l1 70.5h1l1-4.5v4.5l1-.5v-362.5l1-122.5v484.5l1-1.5v-17l1-3v20.5h1v-29l1-8v36.5l1-.5v-45.5l1-8.5v54l1-1v-59l1-8v67h1v-72l1-8v79.5l1-.5v-74.5l1-1.5v72l1 3l1-294.5v289.5l1-9v-116l1 3.5v120l1 4v-88l1-21v104l1 3v-81.5l1-4.5v86l1 2.5v-84.5l1 1.5v83l1-2.5v-73.5l1-3.5v76l1 2v-68.5l1 9.5v53.5l1 1.5v-51l1 7v48.5l1-4.5v-51.5l1-2.5v49.5l1 9v-41l1 9v32l1-.5v-24.5l1 9v16l1-1v-13l1 3.5v10.5h1v-10l1 10h1v-10.5l1 .5v9.5l1-3v-201l1 204h1v-252.5l1 252.5l1-.5v-9.5l1-9v18.5l1-.5l1-196.5v193.5l1 2.5v-18l1-7v20l1 5.5v-32l1 3v29l1-.5v-34.5l1 2.5v32l1-1.5v-43.5l1 1v43.5l1-5.5v-34l1-10v48.5l1 .5v-50.5l1-3v50.5l1-1.5v-52l1 3.5v49.5l1 2.5v-71l1-9v80.5l1-2v-52l1-27v80.5l1-.5v-89l1 27v58l1 4v-63l1-17v78l1-2.5v-82.5l1-6v87.5l1 4.5v-76.5l1-21v88l1 8v-98.5l1 9v88.5l1 2v-95.5l1 4v88.5l1-6v-312l1 203v111l1 4v-104l1 12.5v94l1-41v-435l1 173v297.5l1-36.5v-361l1 275.5v127l1-.5v-133.5l1 6.5v126.5l1-5v-105l1-32v142.5h1v-120.5l1-21.5v132.5l1-7v-128l1 8.5v135.5l1-8.5v-104l1-54v161l1-5v-111.5l1-37.5v154.5l1 1v-116l1-17v133l1 2.5v-129l1-18.5v146.5l1-.5v-174l1-7v175.5l1 7v-120.5l1-155v274.5l1-4.5v-261.5l1 262l1 3.5l1-50v48l1-7.5v-193.5l1 36.5v165l1-17.5v-165l1-36v219l1-7.5v-251l1 56v191.5l1-2.5v-193.5l1 28v171l1 6v-181l1-35.5v208.5l1-5v-215l1 21v203.5l1 2v-167l1 11v155.5l1 .5v-134l1-13.5v139.5l1 2.5v-102.5l1 1.5v104.5l1 1.5v-135l1 51v74l1 7.5l1-432v420.5l1 10.5v-271.5l1 142v129l1-1v-148h1v151l1-.5v-124l1-14v130.5l1 5v-126l1-4.5v131l1-8v-150.5l1 6v147.5l1 3v-164l1 20v146l1-3.5v-384.5l1-59v445.5l1-3.5v-114l1-41v158.5l1-6l1-444.5v433l1 7v-152.5l1 30v124.5l1 8.5v-197l1 47.5v139.5l1 8v-123.5l1 6v118l1-2v-139.5l1 57.5v74.5l1-7v-88.5l1-3.5v95.5l1 8.5v-99l1 30v73l1-11v-375l1 374.5l1 7v-76l1 27.5v51.5l1-9.5v-48l1 7v48.5l1-12v-46l1 3v56.5l1-5v-34l1 1.5v36.5l1-3v-25.5l1 4v24l1-1v-31.5l1 13v18.5l1 .5v-20.5l1 2v16.5l1 1.5v-12.5l1-2v14l1-.5v-451l1 145.5v306.5h1v-417.5l1-20v423l1 13.5v-13.5l1 2.5v12l1-3.5l1-16v17l1 .5v-109.5l1 110l1-.5l1-426.5v421l1 2v-452.5l1 454.5l1 1.5l1-286v285l1 1.5v-119l1 118l1-2.5v-12.5l1-12.5v27.5h1v-21l1 1v15l1 1v-462l1 466h1l1-434v420.5l1 13v-30l1 17.5v12.5l1-3v-24l1 1.5v16.5l1 8.5v-21l1-6.5v27.5l1-9.5v-82l1 5v74.5l1 11v-36.5l1 13v23.5l1 .5v-31l1-12.5v43l1-1.5v-28.5l1-18.5v45.5l1 2.5v-34.5l1 1v34l1-4.5v-32.5l1-13v49.5l1-5.5v-39.5l1 9v35.5l1-4.5v-31.5l1 1v35.5l1-.5v-27.5l1-19.5v43.5l1 4v-30l1-3v24l1 6.5l1-402.5v400.5l1-3v-221.5l1 228h1v-23l1-25v45l1 .5v-37l1 8v20l1 9v-69.5l1 24.5v46l1-.5v-22.5l1-21v33.5l1 9.5v-39l1-2v39.5l1 2v-48l1 5.5v30.5l1 6.5l1-459v443l1 18v-460l1 461.5l1-9v-52l1 39v18.5l1 3v-65l1 45.5v20.5l1-7.5v-117.5l1 115l1 3v-28.5l1-5.5v39l1-7v-51l1 9v49l1-14v-38.5l1 11.5v36.5l1-39v-278l1-140v440.5l1 12.5v-343l1 340l1 2v-148l1-288v408.5l1 25.5v-20l1-12v37l1-13v-37l1 8.5v35l1 12.5v-33.5l1-8v30.5l1 6.5v-31.5l1-14.5v29.5l1 10v-65.5l1-5.5v81l1 .5v-37l1-56v84l1 7.5l1-78.5v76.5l1 1.5v-45.5l1 7.5v28.5l1-4v-52l1 16v48l1 1l1-460v379l1 55.5v-423.5l1 445.5l1 2.5v-82l1 7.5v73l1 1v-48l1-7v55l1 1v-47l1-10v53l1 3.5v-69l1-3.5v69l1 3v-73.5l1 26.5v45.5l1-18.5v-206.5l1 226l1-5.5v-42l1-39v83l1-1.5l1-436.5v419.5l1 10v-259.5l1 265l1-3v-371l1-8v367.5l1-1.5v-226.5l1 149v94.5l1-1.5v-89l1 2v62.5l1 9.5v-43l1-7.5v42l1-1.5v-349l1 376.5l1-4.5v-87l1-.5v54l1 34.5v-130l1 39v92l1-21.5v-72l1-104v159l1 25v-214.5l1 98v107l1 17.5v-103.5l1-5.5v113l1-21.5v-78.5l1-172v262l1-21v-135.5l1-279v403.5l1-16v-399.5l1 19.5v418.5l1 5.5v-96.5h1v74l1 33v-275.5l1-179v407.5l1 2v-310l1 356l1-31.5v-111l1-255.5v316.5l1 78.5v-350l1 187.5v152l1-36v-55.5l1-1v63.5l1 43v-129.5l1 2.5v117l1 7v-157l1-270.5v419l1-42.5v-371l1 375l1 23.5v-401.5l1 43v257.5l1 44.5v-360l1-10.5v178.5l1 268v-179l1-256.5v392l1-28v-378.5l1 6v399l1 11.5v-137.5l1-80.5v113l1 80v-266.5l1 63v228l1 14v-252l1-9v83.5l1-5v-108.5l1-46v209l1-2v-291l1-10v180.5l1 114.5v-295l1 5.5v257l1-134.5v-116h1v189l1 161.5v-348.5l1 28.5v246.5l1-161.5v-134l1-1.5v194.5l1 167v-343h1v362l1-231v-143l1-5v160.5l1 130.5v-266.5l1-26v115.5l1 207v-321.5l1 16.5v324.5l1-342l1 18v348.5l1-13.5v-334.5l1-.5v271.5l1 38v-305.5l1-25v262.5l1 73v-315l1-13v319l1-21v-305l1 20.5v291l1 4.5v-295.5l1 74v208l1-299.5h1v226l1 92.5v-303l1-12.5v88l1 168.5v-242l1 20.5v219.5l1 46.5v-287l1-7.5v145.5l1 91v-231.5l1-9v283l1-.5v-270l1 .5v190l1 95v-287.5l1-2.5v297.5l1-25v-275h1v282l1 16v-298h1v291l1 7.5v-299h1v295.5l1 2.5v-298l1-1v223.5l1-16v-208l1 .5v218l1 17v-235l1-.5v199l1-35.5v-164l1 1v251.5l1-72v-191.5l1 3.5v193.5l1-24v-162l1-6.5v81.5l1 94.5v-168.5l1 .5v216l1 28.5v-244h1v251l1-20.5v-231h1v208l1 4.5v-212.5h1v221.5l1-39v-183.5l1-2v70l1-72l1-1l1 109.5v-109.5l1 5v283l1 10v-292l1-1v264.5l1-99.5v-166l1 .5v165l1 15v-180l1 .5v201l1 4v-204.5l1-2v242l1 14v-255l1 1v258.5l1 12.5v-271l1 .5v276.5l1-2v-274.5h1v276.5l1-46.5v-230.5l1-.5v164.5l1-1.5v-162.5h1v191l1-25v-174l1 3v136.5l1 50.5v-183.5l1-4.5l1 65v-62l1 1.5v163l1 13.5v-175.5l1-.5v179l1-19.5v-160l1-1v135.5l1-59.5v-85l1 3v18.5l1-3v-14l1 2v48.5l1 31.5v-80.5l1-3v28.5l1 2v-32l1 1.5v105l1 13.5v-121.5l1 1v143l1 34.5v-174l1 6v273.5l1 1.5v-277.5l1-2.5v166.5l1-51v-116l1-9l1 138.5v-126.5h1v106l1-22v-84.5l1-4v102l1 103.5v-204l1 6v254l1-4.5v-249.5l1-.5v251.5l1 1.5v-253.5l1-.5v201l1-48v-154l1-.5v138l1 39v-181l1-4v89.5l1 154.5v-234h1v236l1-86.5v-152l1-3v19.5l1 29.5v-47l1 1.5v85.5l1-62.5v-28.5l1-.5l1 131v-127.5l1 3.5v198.5l1 6v-204.5l1-2.5v82l1-36v-48.5l1 4v83.5l1 61v-143.5h1v138l1 5.5v-144l1 .5v180l1 7.5v-187.5h1v186.5l1-38.5v-148.5l1-.5v119l1-11v-116l1 7.5v90l1-51v-43l1 2v33.5l1 10v-46.5h1v36.5l1 56v-88l1 .5v129.5l1 31v-160.5h1v160l1-85.5v-82l1 3.5v33.5l1 60v-92.5l1 2.5v137l1 14v-150.5l1-1v123l1-26v-98l1-5.5v16l1-1.5v-18l1 .5v99.5l1 42.5v-132l1-2.5v104l1 35v-136.5h1v129l1-54.5v-79l1 1v101.5l1-108.5l1 9v117l1-16v-102h1v64.5l1 3v-76l1-1v59l1 42v-90h1v78l1-19.5v-58.5l1 .5v55.5l1-10v-53.5l1 1v29.5l1-5.5v-19l1-5v16l1-2v-15l1 13v12l1 27.5v-26l1 27.5v21.5l1 12.5v-11.5l1 6.5v5.5l1-6.5v-19l1-28.5v27l1-28.5v-17.5l1-13.5v13.5l1-18.5l4-1l1 15v-15l1 20.5l1 5.5v-5.5l1 7l1-2v-5.5l1-5.5v5.5l1-6v-14.5l4-.5l5-1.5v8.5l1 11.5v-10l1 13l1 3.5v-3l1-.5v3.5l1-3.5l1-21v17.5l1-17.5l1 .5l1 15v-15l2 35.5v-14.5l1 15v6.5h1l1-18v12.5l1-13.5v-6l1 .5v5.5l1 10v-9l1 6.5v3l1-3.5v-10l1-7v6.5l1-7.5v-12l3-.5l4 1.5l1-.5v.5l1-1v-.5l1-.5v.5l1-1l1 14v-14.5l1 18l1 2v-1.5l1 1.5v1l1 .5l2-.5l1-4.5v3l1-3v-7l1-10.5v9.5l1-9.5l1-.5l4 2.5l4-1h2v13l1 5v-4.5l1 4.5v2.5l1 1v-1l1 1.5l1 .5l1-.5l1-1v1l1-1.5v-1.5l1-3.5v3l1-3v-8l1-8.5v7.5l1-6.5l2 2.5v-1l1 1l4 .5l3-.5l1-.5v.5l1-.5v-1l1-1v1l1-1v-1h1l4 .5l3-.5h2v1l1 .5v-.5l1 .5v1l1 .5l8-2.5l1 1v-1l1 1.5v1l1 1v-1l1 1v1h1v-1l2-.5v-.5l1-1v1l1-1l4-1h4l4 1.5l8-2.5h7" stroke="#3199CB" stroke-width="2.6" stroke-dasharray="7 7 5 8 8 6 6 9"/>
<path d="M188.5 726.0l3 1l8-2h1v1l1 1v-1l1 1v1l1 1v-.5l1-1v1.5l1-1.5v-1.5l1-1.5v1.5l1-1.5v-1.5h1v1l1 1v-1l1 1v1l1 1v-1l1 1l7 1l1-.5v.5l1-1v-.5l1-1v1l1-1v-1h5l4-.5l9 1.5l8-1v1l1 .5v-.5l2 2v-.5l1 .5l7-2l5 1l4-1.5l2 .5v10.5l1 6v-5.5l1 8l1 1.5v-1.5l1 2v4l1 .5l1-5.5v4l1-5.5l1-2.5v2.5l1-2.5v-6.5l1-9v8.5l1-9h3l1 1v-1l2 2.5v-1l1 1l3-.5v8.5l1 6.5v-5.5l1 8l1 4v-4l1 4.5v2h1v-3.5l1-3.5v3l1-3l1-10v7l1-8v-8l3 .5v7.5l1 9.5v-8.5l1 8.5l1 22v-16l1 17v12l1 4.5v-4l1-1v5l1-5.5v-12.5l1-17v16.5l1-22l1-9v9l1-11v-6l1 .5v13l1 5v-4.5l1 6.5l1 .5l1-.5l1-5.5v4l1-4.5v-13l1-1v1l1-1v-1h1v14l1 5.5v-5l1 5.5v12.5l1 8.5v-8l1 3.5v4.5l1-5v-14.5l1-3l1 15v-14l1 15.5v27l1 29.5v-27.5l1 29v24l1 17v-15.5l1 21.5h1l1-22v15.5l1-16.5v-23.5l1-29.5v28l1-18v-23l1 25v27l1 9v-8l1-6v13.5l1-15v-32.5l1-37.5v35.5l1-43.5l1 2.5v33l1 16.5v-15h1v15l1-16.5v-33l1-15v15l1-6v-11l1 3.5v11.5l1 19.5v-29l1 1.5v66l1 19v-84.5l1-7l1 91.5v-93l1 9.5v97.5l1 .5v-97.5l1-1v62.5l1-23v-40l1 1.5v78l1 44.5v-121.5h1v103l1-38v-74.5l1 6.5v38l1-28.5v-12l1-.5l1 79v-75l1-9.5v19.5l1 2v-19l1 2l1 60.5v-65.5l1 12.5v154l1 4.5v-158h1v157.5l1 3v-160.5h1v162l1 .5v-163l1-11.5l1 178v-177l1 11.5v168h1v-168l1-4.5v115.5l1-117.5l1 2v76l1 35v-107.5l1 .5v110l1 3.5v-114.5l1-5v26l1 18.5v-50.5l1 9v37.5l1-25.5v-14h1v12.5l1 27v-37l1-10l1 68v-65l1 4l1 71.5v-67.5l1 .5v76l1 5.5v-91l1 3.5v93l1 50v-136l1 1v171.5l1 13v-190.5l1 6.5v179.5l1 17v-196.5h1v191l1 5v-196l1-8l1 126.5v-119.5l1 .5v166l1 27v-192.5l1-.5v169l1-106.5v-65l1-3v24l1 .5v-25l1 3.5v115.5l1-119l1 1v13l1 2.5v-15l1-.5l1 142.5v-145.5l1 8.5v209.5l1-32.5v-177l1-1v115l1-1.5v-116l1-2v232.5l1 7v-233.5l1-12v252.5h1v-250l1 9v242l1-5v-237.5l1-1.5v220l1-226l1 .5v17l1-4v-15l1 1.5v74l1-78.5l1-3v95l1 11v-104.5l1 13v195l1-124.5v-76l1 4.5v117l1 11.5v-128.5l1-12.5l1 123.5v-120l1 8.5v111.5l1 7.5v-119.5l1 1.5v167l1 47v-224l1 5.5v15h1v-15l1-6l1 202v-194.5l1-7.5l1 310v-298l1-11.5v73l1 61.5v-133.5l1-3v192l1 107.5v-300.5l1 14.5v299.5l1 1.5v-301l1-12v157l1 149.5v-297.5l1 3v300l1-6v-295l1-1v182.5l1 21.5v-204l1 1v279.5l1 17v-297l1-13v44.5l1 65.5v-107.5l1 9.5v176.5l1 14.5v-191l1-.5v152l1-28v-124l1 1v198l1 36.5v-234l1-.5v198l1-35v-163h1v184.5l1 25.5v-215.5l1-3.5v260.5l1-79v-184.5l1-1v250.5l1-25v-212l1-.5v156.5l1 80v-236l1 1v293l1-60v-233l1-.5v175l1 13.5v-188.5h1v180.5l1 1v-182l1-7v164.5l1-54.5v-113l1 8v90l1-33v-57.5h1v57.5l1 20v-77.5l1-2l1 314.5v-309l1 .5v339.5l1 25.5v-365l1-.5v334l1-29v-310l1 1.5v328l1 54v-387l1 2.5v269l1 123.5v-386h1v375.5l1 15v-390.5l1-.5v389.5l1-90.5v-300l1-6v163.5l1-167.5l1-2l1 406v-399.5l1 4.5v390l1 13.5v-405.5l1 4.5v387.5l1-259.5v-140l1 5.5v314.5l1 55v-366l1-10.5l1 280.5v-276.5l1 8v294.5l1-1v-293l1-5v272.5l1-127v-145l1 3.5v198l1 43v-240.5l1-.5v267.5l1-82.5v-193.5l1 1v168l1 42.5v-204l1 .5v251l1 24v-274.5l1 .5v337l1 76.5v-412.5l1-11.5l1 386.5v-387l1 12v350l1-83v-270l1-6v201l1 168v-360.5l1-.5v313.5l1-59v-254.5l1-3v217.5l1-87v-130l1-4v158.5l1-19.5v-142.5l1 3.5v318l1 31v-342l1 .5v344.5l1-16v-329l1-7.5v230l1-152.5v-81.5h1v256.5l1-56v-198l1 8.5v260.5l1-51v-210.5l1-.5v175.5l1 68v-243l1 1v319.5l1 51v-370l1 .5v354l1-3.5v-350.5l1-.5v368.5l1-160v-209h1v202l1 32.5v-234.5l1 .5v300.5l1 57v-357l1-.5v300l1-311.5l1 10.5v223l1-6v-221.5l1 4.5v203l1-120v-91l1 6.5v144l1 67.5v-217.5l1 4.5v325l1-1v-319l1-1v312l1-194v-124.5l1 6.5v243l1 42.5v-285.5l1 .5v274.5l1 4.5v-279h1v277.5l1-8v-270.5l1-4v159l1-161l1 5v255l1-2v-251.5l1-11v44l1 84v-119l1 1v181.5l1 69v-249.5l1 .5v244l1 3v-247h1v241.5l1-49v-193h1v180.5l1-21v-159.5h1v151.5l1 4v-155l1-7.5v159l1-159.5l1 2v120l1 42.5v-157l1-.5v158l1-5v-153.5l1-.5v135l1-3v-132l1-13l1 180v-167.5l1 .5v166.5l1-88.5v-83.5l1 1v142l1 .5v-139l1-.5v129.5l1 7v-137l1-.5v131l1-65v-67h1v58l1 12v-70l1-7.5v92.5l1 2v-87l1-.5v95l1-8.5v-87l1-.5v76.5l1-9v-68.5l1-2v20.5l1 14v-33l1-.5v41.5l1-4.5v-37.5l1-1v32.5l1-6.5v-27l1-1v11l1-7.5v-4.5h1v4l1-1v-4.5l1 .5v3.5l1-1.5v-2.5l1-.5v2l1-1v-1.5h1v1l1-.5v-1l7-.5l5 .5l7-.5l48 .5l13 2.5l1 14v-13l1 1.5v18l1-.5v-17l1-1l1 51v-49l1-1v39.5l1 21v-56l1-1.5v72.5l1-73l1 4.5v36l1 9.5v-46.5l1-3l1 137v-129.5l1 .5v130l1-9v-121.5l1-.5v62l1-39.5v-26.5l1-3v55l1 105.5v-160l1-.5v58.5l1 108v-157l1-1.5v91.5l1 58.5v-156.5l1-.5l1 183.5v-176.5l1 3v203.5l1-2v-202l1-8l1 197v-191.5l1 1v220l1-49.5v-171.5l1 2v138l1-30.5v-108h1v97l1 13.5v-110.5h1v120.5l1 17.5v-138h1v141.5l1 18v-159.5l1-4v232l1 31v-264.5h1v149l1-61.5v-82.5l1 .5v87.5l1 18v-105h1v101l1-1.5v-99.5l1 .5v168.5l1 52.5v-220h1v209.5l1 2v-211.5h1v218l1 5v-223l1 12.5v171l1-6v-147.5l1 21.5v155l1-24v-167.5l1-25.5l1 151v-136.5l1-3.5v127l1 31.5v-158l1 5v238.5l1-25v-218.5l1 .5v191.5l1 92v-283.5l1 73v235.5l1-43v-265.5h1v274.5l1 70v-344l1 30.5v326l1 8.5v-365l1 3.5v360.5l1 27.5v-386.5h1v357.5l1 40v-394l1 19v378l1-47.5v-258l1-62v400.5l1-23v-360l1 28v344.5l1-16.5v-226l1-71.5v327l1-8v-353l1 99.5v221l1 38.5v-243.5l1 6.5v275l1-2v-339l1 59.5v230.5l1 57v-244.5l1-85.5v314l1-68v-207l1 23.5v250.5l1 32v-332l1 6v316.5l1 8v-250.5l1-40v290l1 8.5v-242l1 76.5v153.5l1-19.5v-249l1-77.5v362.5l1-13.5v-291.5l1-103v301.5l1 110.5v-293l1 7v282.5l1-6v-429.5l1-25v465.5l1-.5v-291l1-7.5v273l1 26.5v-297.5l1 173.5v124l1-30.5v-364.5l1 145v250.5l1-3.5v-295.5l1 16v283l1-61.5v-303.5l1 78.5v227.5l1 59.5v-274.5l1-10.5v279l1 6v-283.5l1-5v264.5l1 22.5v-379.5l1 82.5v298l1 1.5v-291.5l1 11.5v279.5l1-33.5v-255.5l1 2.5v287l1 .5v-289.5l1-111v201l1 191v-447.5l1-15.5v407.5l1 10v-231l1-181v457l1-78.5v-406.5l1 209.5v233l1 51.5v-235l1-182v418l1-34.5v-463.5l1 254v243.5l1 1v-495.5l1 6v446.5l1 28.5v-241l1-246.5v498.5l1 .5v-333l1 61v272.5l1 3.5v-237l1-10.5v244.5l1-.5v-259l1 147.5v115l1-2.5v-129.5l1 18.5v113.5l1 .5v-123l1-59v182.5h1l1-415v415l1-1.5v-354.5l1-146.5v370l1 132.5v-335.5l1 336.5l1-10v-469.5l1 479.5l1-2v-152l1 154l1 .5l1-382v380.5l1-106v-294.5l1 402.5h1v-57.5l1 3v52.5l1-5.5v-491l1 242.5v256.5l1-5v-61l1-1v67.5l1-1.5v-69.5l1-43.5v114.5l1-72.5v-178.5l1 251.5l1-.5l1-474.5v470l1-3.5v-486l1 176v318.5l1 .5v-14.5l1-12v23l1 4l1-29v26l1 3v-142.5l1-82v224l1 1v-383l1 383l1-.5v-21l1 22h1v-12.5l1-4v16l1-3.5v-72.5l1 47v30l1-.5l1-101.5v102.5l1-6.5v-153.5l1 160h1l1-409v406.5l1 2.5v-305.5l1-169.5v475h1v-448l1 449h1l1-260v260l1 .5v-32.5l1 32.5h1v-19l1 13v6.5h1v-8l1-15v23l1 .5l1-236.5v236.5h1v-477.5l1 477.5h1v-17.5l1 2.5v15.5h1v-16.5l1 11.5v5.5l1-.5l1-224.5v221l1 4v-34l1 15.5v19h1v-16l1 2v14.5h1l1-95.5v95.5h1v-4l1-4.5v9h1v-16.5l1-1v17.5l1 .5l1-347.5v347l1 .5v-7l1-2v9l1 .5v-18.5l1-1v19.5h1v-8.5l1-9.5v18.5h1v-11.5l1 2v9.5l1 .5v-13l1 1.5v11.5h1v-12l1 8v4.5h1v-15.5l1-.5v15.5l1 1v-18h1v18h1v-9.5l1 1v8.5l1-.5v-17l1 8.5v9.5l1-.5l1-376.5v377.5l1-3v-431l1 434l1-1v-175.5l1 104.5v72.5l1-.5v-11.5l1-4.5v16.5l1 .5v-17l1 1.5v15l1 .5v-5.5l1-4v10h1v-15l1 2v13.5h1v-230l1 230h1v-6.5l1-8v14.5l1 .5l1-13.5v13.5h1v-6l1-4v10l1 .5v-16l1 4.5v11.5h1v-436.5l1-29.5v465.5l1 .5v-12l1 12h1v-6.5l1 7h1v-11l1 2v9h1v-10l1 2.5v7.5h1v-266l1-97.5v343.5l1 20v-85.5l1 86l1-.5v-9.5l1 .5v9.5l1-3.5v-154l1-13v170.5h1v-13l1 6v7h1v-11.5l1 4.5v7l1-2v-122l1 39v85.5h1v-12.5l1 3v9l1 .5l1-364v363.5l1 .5v-339.5l1 339.5l1 .5v-10.5l1 1.5v9h1l1-54v54l1-1.5v-100.5l1 102h1v-22.5h1v22.5h1v-32.5l1 2.5v30l1 .5v-36.5l1-2.5v37.5l1 1.5v-32.5l1-15.5v43l1 5v-502.5l1 87.5v406.5l1 7.5v-47l1-3v51l1-1.5v-163l1 106.5v55h1v-60.5l1 6.5v54l1 .5v-71l1-7v80.5l1-.5v-82l1-5.5v86l1-1.5v-82l1 5.5v76l1 1v-93.5l1-11.5v103.5l1 5.5v-91l1 3v87.5l1-.5l1-383.5v382l1 .5v-110.5l1-173v279.5l1 7.5v-67.5l1 2v65l1-.5v-52.5l1 2v51h1v-326l1 326.5l1 .5v-43.5l1 13.5v30h1v-26.5l1 8.5v16.5l1 1.5l1-74v74.5h1v-11l1 11h1l1-380v380h1v-506l1 504.5l1 1v-21.5l1-8.5v30.5l1-.5v-38.5l1-9.5v48l1 .5v-57l1-6v62h1v-70l1-5.5v76h1v-83.5l1 4.5v79l1-4v-76h1v79l1-5v-306l1 174.5v122.5l1 8.5v-127l1 38v93.5l1-5v-110.5l1 27.5v86.5l1 .5v-91.5l1 4.5v89.5l1 .5v-88.5l1 8v78l1-.5v-81l1 10v73.5l1-6v-57l1 4v54l1 4.5v-51l1-8.5v55l1-5v-53l1 18.5v43.5l1-.5v-33.5l1 7v25.5l1 .5v-17l1 2v13.5l1 .5v-11h1v10.5h1l1-12v11.5l1-1l1-215v211.5l1 3l1-266.5v266.5h1v-17l1 6v10.5h1v-20l1 .5v18.5l1-3v-204l1 207l1-5.5v-21l1-7v33.5h1v-31l1-6v36l1 .5v-34l1-14v46.5l1 .5v-45.5l1 4v36l1 4.5v-51l1-1.5v53l1-3.5v-52.5l1-3.5v55l1 1v-52l1-20v74.5h1v-84.5l1 28v54.5l1 2v-85l1-9.5v93.5l1-4.5v-60.5l1-1v66l1-2v-82.5l1-7v86.5l1-.5v-92l1 15.5v80.5l1-9.5v-92.5l1-3v103.5l1-1v-93l1-5.5v101l1-3.5l1-334.5v328.5l1 2v-116.5l1 11v109.5l1 2.5l1-498.5v455l1 37.5v-312.5l1-105v379.5l1 43v-133l1-7.5v140.5l1-1v-132.5l1 17v110.5l1 5.5v-149.5l1 23v126.5l1-10v-139l1-3v134.5l1 17v-142.5l1 24.5v109l1 3v-169.5l1 47v117l1 6v-162l1 41.5v121.5h1v-140l1 7v135.5l1-1v-153.5l1-30v182.5l1-5.5v-184l1 64.5v126.5l1-.5v-288l1 8.5v274.5l1 .5v-7.5l1-3v14.5l1-2l1-211v203l1 8.5v-173l1-18.5v173.5l1 18.5v-229.5l1-41.5v263.5l1-3.5v-201.5l1-4.5v203l1 6v-179.5l1-4v190l1-8v-219.5l1-12v226l1 10.5v-214l1 40v176l1-1v-163.5l1 23.5v141l1-8v-147.5l1 42v108l1 3.5v-110l1-30v141.5l1-10v-78.5l1-35v121l1-12v-440l1 165.5v286l1-.5v-136l1-21v156l1 3.5v-159.5l1 28v131l1-8.5v-137l1 10v133l1 .5v-138l1-29v158.5l1 3.5v-156l1-14v173l1 2v-154l1-255v405.5l1 2.5v-466.5l1 462l1 4v-167l1 56v105l1-12v-453.5l1 300v161l1 2.5v-132l1-67v207.5l1-10v-147.5l1 25.5v130.5l1 .5v-124l1-25v147.5l1-7.5v-79l1-22v93.5l1 4.5v-101.5l1 5v105.5l1 4l1-409v398l1-.5v-59l1-14v80.5l1 3.5v-54.5l1-6.5v51l1 8v-51.5l1-10v49l1 14.5v-60l1 19v36l1 4.5v-39l1 9v27l1 3v-25.5l1-9v33.5h1v-19.5l1-2v22l1-2v-17.5l1 6v13h1l1-478v477.5l1 1v-327l1-117v443.5l1-15v-447l1 461.5l1 1v-12.5l1 5.5v3.5l1 1l1-116v116.5l1 1l1-20.5v19.5l1-5.5v-445.5l1-33v481l1 2v-19.5l1 12v9l1-1v-304.5l1 179v127l1-.5v-13.5l1-3v13.5l1 2.5v-29l1 7v22l1-5.5l1-492.5v493.5l1 4v-145l1 145l1-14.5v-445l1 458.5l1-.5v-13l1-15.5v25.5l1-6.5v-18l1 4.5v22h1l1-97v87l1-3.5v-79l1 52.5v38.5h1v-25l1-8v33l1-.5v-46l1 14v30l1-1.5v-48.5l1 14.5v36.5h1v-36l1-3v34.5l1 4v-53l1 5v42l1 5v-38l1-.5v33.5l1 5v-37.5l1 7.5v29.5l1-4v-46l1 18v32l1-9.5v-25.5l1 14.5v17.5l1-2v-423l1 185.5v234l1 6.5v-33l1 9v24l1-3v-48l1 9.5v38.5l1-9.5v-21.5l1-42.5v73.5l1 1v-49l1 24.5v23.5l1-11v-35l1 4.5v40.5l1-2v-41l1-7v50.5l1-13v-32l1 .5v38l1-17v-465l1 1.5v482l1 1.5v-33.5l1-31v55l1 5.5v-19.5l1-46v68.5l1 1l1-131.5v123.5l1-3.5v-27l1 .5v29.5l1 5.5v-41l1-20v53l1 7v-51l1-3.5v40l1 9.5l1-331v290l1 23.5v-459l1 114v358l1-3.5l1-152.5v154l1-28.5v-422l1 448l1 5v-38l1-14v39l1 6.5v-36.5l1 14.5v34.5l1-11.5v-32l1 5.5v33l1-17.5v-30.5l1-27v68l1 10v-83.5l1 46v38l1-9.5v-86.5l1 94.5l1-2v-79.5l1 33.5v47l1-10v-29l1-28.5v53.5l1 12.5v-50l1-54.5v105.5l1-84v-392.5l1 14.5v435.5l1 22.5v-70l1-12.5v85l1-1.5v-76l1 27v50h1v-57l1 9v49l1-4.5v-55l1-13v71.5l1-4v-71l1-2v76l1-1l1-233v213.5l1 20v-48.5l1-.5v43.5l1 1.5v-85.5l1 28v56l1-17.5v-427.5l1 170v267.5l1 5.5l1-385.5v382.5l1-12v-379l1 143.5v233.5l1 18v-97.5l1 3.5v92l1-25v-64.5l1 29.5v44.5l1-8.5l1-361.5v360l1 28v-90l1-4.5v89.5l1-34.5v-55.5l1-43v134l1 .5v-94.5l1-1.5v74l1-17.5v-164l1-31v220.5l1-10.5v-109.5l1 21v106.5l1 4v-116l1 13v81l1 11v-268.5l1 108.5v138.5l1-11.5v-412.5l1-12.5v409l1 39v-426l1 431l1-23v-76l1-172.5v281.5l1-47.5v-416.5l1 101.5v316.5l1 46.5v-82.5l1-62.5v113l1-51v-317l1 40v356.5l1-11v-154.5l1 61.5v56.5l1 7v-65l1-23.5v132l1-10v-119.5l1-34v160l1-9v-423l1 6v374l1 3.5l1-379.5v403l1-102.5v-256.5l1-60.5v362l1-194.5v-181.5l1 271.5v181l1-44v-392.5l1-19.5v383.5l1 26.5v-404l1 276.5v139l1-106.5v-114l1-74.5v269.5l1 24.5v-230.5l1-10v254l1-179v-84.5l1-30.5v109.5l1 54.5v-210l1-85v293l1-121.5v-181.5h1v296.5l1-33v-258l1 6.5v116.5l1 72.5v-189l1 2v349l1-74v-246.5l1-49v134l1 59v-194.5l1 18.5v342.5l1 18v-360.5l1-12v142.5l1 12v-159.5l1 24.5v264.5l1-175.5v-115l1 1v319l1 19v-321.5l1-17.5l1 363.5v-345.5l1 .5v331.5l1-62.5v-269.5l1 4v303l1-68v-260l1 20.5v312l1-8.5v-316.5l1-7v302.5l1 6v-288h1v292.5l1-13.5v-206l1-90.5v84.5l1 139.5v-224l1 15.5v300l1-312.5l1 14.5v239.5l1-2v-217.5l1-20.5v284l1-147.5v-144l1 5v229l1 42v-280l1 12.5v267l1-78.5v-188l1-2.5v284l1 8v-294.5l1-2.5v272l1 7v-279h1v295l1-7v-288l1-.5v295.5l1-3v-292.5h1v295l1-75v-221l1-.5v206l1 10.5v-216h1v232.5l1-36.5v-196.5l1-.5v162l1 88v-249l1-12v189.5l1 5.5v-191.5l1 7.5v160l1-86v-80.5l1 7.5v167l1 47v-213.5l1 .5v241.5l1 7v-248.5l1-.5v228.5l1-22.5v-206h1v210l1 9v-219l1-1v181.5l1-114.5v-69l1-2v16l1-3v-14h1v108.5l1 176.5v-280l1 1v288.5l1-28v-261.5l1-1v164.5l1-.5v-163.5h1v178l1 21.5v-199l1 .5v202.5l1 34.5v-239l1 1v252l1 4.5v-255.5h1v268.5l1 5.5v-273.5h1v271.5l1 2v-273.5l1-.5v228l1-66v-162.5l1 .5v160.5l1 28.5v-189l1-8v172l1-34v-135l1 3.5v181.5l1-186l1 3v61l1 102v-161.5l1 1v173.5l1 2.5v-176.5l1-.5v158l1-25v-134l1-9v84l1-81l1 1.5l1 50v-48l1-.5v79.5l1-54.5v-28l1-1.5v31.5l1 74v-104l1-3v120.5l1 22v-141.5l1 3.5v172l1 104v-270l1-2.5v274.5l1-112.5v-164.5l1-.5v114.5l1-123.5l1 12v125l1-20v-105l1-.5v83.5l1 13v-100.5l1 1.5v201.5l1 55.5v-251h1v246.5l1 1v-248l1-.5v250.5l1-52.5v-198.5l1-1v152l1-16.5v-136l1-4v178.5l1-94v-88.5l1 10v231l1 2v-233l1-2.5v150l1-153l1 2v46l1 39.5v-84l1-5.5v28.5l1-16v-13l1 3.5v126l1 73v-195.5h1v201.5l1-123.5v-80.5l1-2.5v48.5l1 37.5v-82l1 1v141l1-5.5v-135.5l1-.5v141.5l1 36v-177h1v184l1-1v-183l1-.5v146l1-29.5v-117l1-8v114l1-18v-88.5l1-4v43l1-7.5v-33.5l1-3v46.5l1-10v-36.5l1 4.5v86.5l1 41v-127h1v157.5l1-.5v-157l1-7.5v80.5l1-43.5v-33.5l1 1v90.5l1 46v-134l1 .5v147.5l1-28v-120.5l1-1v96l1-101.5l1-3.5l1 98v-97.5l1 10v129l1-30v-101.5l1 2.5v133l1-7v-126l1-4.5v77l1 23v-99l1-7l1 123v-114l1-1v99.5l1-36.5v-63l1-8.5v74l1-17.5v-57.5l1 11v87.5l1-11.5v-76h1v57l1-3v-53.5l1-8v52l1-22v-29l1 5v19l1-8v-16l1-1v15l1 10v-12l1 13.5v24l1 22.5v-21l1 22v11h1l1-24.5v18.5l1-20v-24.5l1-19v17.5l1-17.5v-13.5l1-5l3-1h2v15l1 5.5v-5l1 5v5.5l1 1.5l1-7.5v5.5l1-5.5l1-20.5v14.5l1-14.5l3-.5l4-1.5l1 8.5v-8.5l1 10v10l1 3v-3l1 3.5v3h1v-3.5l1-3.5v3.5l1-3.5v-17.5l3 .5v15l1 6v-5.5l1 5.5v14.5l1 6.5v-6l1 1.5v4.5l1-5v-12.5l1-7v6h1v-5.5l1 6.5v9l1 .5l1-13.5v10l1-10.5v-6.5l1-13v12l1-12.5h2l4 1.5h1v-.5l1-1v.5l1-.5v-.5l2-1v14.5l1 3.5v-3.5l1 4v1.5l1 1v-1l1 1.5l1-.5l1-1.5v1.5l1-1.5l1-10v7l1-8v-9.5l2-.5l4 2.5l5-1l1 13v-13l1 18l1 2.5v-2.5l1 2.5v1l2 1l2-.5v-1l1-2v1.5l1-2l1-11v8l1-9v-7.5l1 1v.5l1 1v-.5l1 .5v1l4 .5l5-.5v-.5l1-1v1l1-1v-1l1-1v1l1-1l4 .5l4-.5l1 1v-1l1 1v.5l1 1v-1l1 1.5l5-2l4-.5v1l1 1.5v-1l2 3v-1h1v1l1-1v-.5l2-.5v-1l5-1h4l4 1.5l8-2.5h7" stroke="#0174BF" stroke-width="2.6"/>
<path d="M188.5 726.0l3 1l8-2h1v1l1 1v-1l1 1v1l1 1v-.5l1-1v1.5l1-1.5v-1.5l1-1.5v1.5l1-1.5v-1.5h1v1l1 1v-1l1 1v1l1 1v-1l1 1l7 1l1-.5v.5l1-1v-.5l1-1v1l1-1v-1h5l4-.5l9 1.5l8-1v1l1 .5v-.5l2 2v-.5l1 .5l7-2l5 1l4-1.5l2 .5v10.5l1 6v-5.5l1 8l1 3.5v-3.5l1 4v3l1 .5l1-5v4l1-4.5v-2.5l1-2.5v2.5l1-2.5v-6.5l1-9v8.5l1-9h3l1 1v-1l2 2.5v-1l1 1l3-.5v8.5l1 6.5v-5.5l2 13.5v-5.5l1 8h1v-3.5l1-5v4.5l1-4.5l1-10v7l1-8v-8l3 .5v7.5l1 9.5v-8.5l1 8.5v7l1 13.5v-13l1 14v8.5l1 3.5v-3l1-.5v3.5l1-4v-9.5l1-14v13.5l1-14v-6.5l1-9v9l1-11v-6l1 .5v13l1 5v-4.5l1 5v2.5l1 1.5v-1l1-3v3l1-3l1-17.5v13l1-14l1-1l1 14v-14l1 19.5l1 13v-12.5l1 13v6.5h1l1-16v12l1-17l1 1v14l1 21.5v-20.5l1 22v18.5l1 16.5v-15.5l1 16v9.5l1 4v-3.5h1v3.5l1-4v-9.5l1-16v15l1-16v-18.5l1-9.5v16l1 19v-17.5l1 23.5h1l1-32v22l1-23.5v-26.5l1-9.5l1 30.5v-27l1 39h1l1-38v26l1-27.5v-15.5l1-2v11l1 4v-11.5l1 2v28l1 27.5v-54l1 .5v66.5l1-73.5l1-1.5v80l1 13v-83.5l1 .5v85.5l1-23.5v-63l1-.5v44l1 31v-73.5l1 1v103.5l1-13.5v-90l1-9.5v70l1-24v-39.5l1-2.5v12l1 5.5v-18l1 4v64.5l1-74l1 2.5v19l1-2.5v-14.5l1-5v59l1 66v-112.5l1 .5v114.5l1-.5v-114h1v116l1 .5v-116.5l1-.5v117l1-128.5l1 1v130l1 1v-119.5h1v119.5l1-34.5v-89.5l1-2v21l1 44.5v-63.5l1 3.5v83l1 2v-84.5l1-1v88l1-93l1-6v47.5l1-2.5v-36l1-2v14l1-1.5v-12.5l1 2.5v36l1-28v-18l1 3v59l1-55l1 4v58.5l1 6.5v-64.5l1-9.5v78l1 4.5v-79l1 7v105l1 23v-127l1-6v141l1-2.5v-132h1v143l1-3.5v-139.5h1v143l1-151l1 7v96l1 29.5v-125l1 .5v140.5l1-14.5v-126.5l1-2.5v58l1-34.5v-26.5l1-.5l1 96v-92.5l1-3.5v17.5l1-3.5v-13l1 .5v15l1 17.5v-33l1-3v113.5l1 44.5v-149.5h1v130l1-39.5v-91.5l1-2.5v93l1 70v-165l1 6v163l1 4v-179l1 2.5v176.5l1 1v-168.5l1-.5v166l1-10.5v-157l1-6v33.5l1-13v-20l1-2l1 67.5v-66l1-4.5v26.5l1 54v-83.5l1 1.5v89.5l1 66v-142.5l1-5.5v67.5l1 31v-94h1v101l1-113.5l1 3.5v97.5h1v-89l1-.5v93.5l1 30v-122l1-10v159.5l1-154h1v15l1-1v-20l1 7.5v138.5l1-89.5v-56.5l1 12v197l1-143v-65.5l1 1v107l1 35.5v-145.5l1-1v210.5l1 8.5v-204.5h1v206.5l1-92.5v-126l1 9v208l1 4.5v-209.5l1-1v208l1-67.5v-141.5h1v156l1 48.5v-203.5l1-.5v214l1-227l1 2.5v97.5l1 55.5v-143.5h1v153.5l1-25.5v-128.5h1v108.5l1 50.5v-158l1 .5v180.5l1-24v-157h1v133.5l1 13.5v-147l1-5.5v168.5l1 25v-197l1-3v149.5l1 40.5v-191l1 13.5v162l1-36.5v-126l1 .5v175.5l1 33.5v-208h1v172l1-36.5v-136h1v144l1-5v-139l1-.5v139.5l1-16v-130.5l1-3v96.5l1-10.5v-78l1-.5v54h1v-54h1v68.5l1-23.5v-47l1 5.5v209.5l1 16.5v-225.5h1v239.5l1-17.5v-222.5l1-5v211.5l1 10.5v-220.5l1-5v254.5l1-63.5v-188.5l1 6.5v249.5l1-6v-243.5h1v251l1-.5v-251l1-1v203l1-83.5v-125.5l1-4v16l1 14v-32l1 6.5v258l1-2.5v-251l1-2v259.5l1-7v-248l1-12v111.5l1 106v-212l1 3.5v237.5l1-248l1 4v191.5l1 14.5v-198l1 .5v196.5l1-14v-187.5l1 .5v112l1 34.5v-143l1 .5v167l1 14.5v-182l1-8.5v143l1-15v-127l1 6.5v146l1 27.5v-173l1 .5v186l1 35v-220.5l1 1v260.5l1-272l1-.5v253.5l1-13v-228.5l1-3v186.5l1-43v-149.5l1 8.5v236l1-25.5v-211h1v178.5l1-23.5v-158l1 .5v104.5l1 16v-124.5l1-3.5v115l1 108v-219.5l1 7v230l1 2v-231.5l1-.5v223.5l1-61v-170l1-4v74l1 112.5v-186.5l1 2.5v150l1 42v-183.5l1-1v154l1-21.5v-133l1 .5v173l1 43.5v-215.5l1 .5v242l1-8.5v-233h1v231l1 9v-240.5l1-.5v151l1-4.5v-146.5h1v165.5l1 37v-202l1 .5v232l1-31.5v-201l1-11.5l1 168v-157.5l1-4.5v159.5l1-7.5v-147.5l1-8v80l1 40.5v-114l1-6v162.5l1 66.5v-224.5l1 5v219.5l1-3v-217.5l1-6.5v105l1 80.5v-179h1v206l1-5.5v-200h1v204l1-1v-203l1-1v198.5l1-73v-129.5l1-2l1 192v-187l1 1.5v184.5l1-195.5l1 9v99.5l1 41.5v-140l1 1v180l1-3v-176.5h1v177.5l1-4v-173.5l1-.5v144l1-8v-136h1v122l1-6v-116l1 .5v117.5l1-3.5v-121.5l1-.5l1 96v-94l1 5.5v113l1-1v-112.5l1-.5v108.5l1-13v-96h1v92l1-105l1 12.5v108.5l1-1v-107l1-5.5v61.5l1 31v-91.5l1 3.5v87.5l1-7.5v-80.5l1-.5v83.5l1-3.5v-80.5l1-1v45l1-6v-39h1v45.5l1 4.5v-57.5l1 7.5v49l1-.5v-49l1-.5v44l1-8v-36.5l1-1v31l1-22v-11l1 1.5v11.5l1 2v-14l1-.5v10.5l1-3v-8.5l1-1v8l1-2.5v-6.5l1-1v4.5l1-.5v-4l1-1.5v4.5l1-.5v-3.5l1-.5v2.5l1-1v-2l1-.5v1.5l1-.5v-1l1-.5v1l1-1l6-.5l5 .5l7-.5l48 .5l12 2.5l1 3v-3l1 1v7l1 5v-10.5l1 .5v10.5l1-7v-4.5l1 2v31.5l1-5.5v-27l1 4.5v35.5l1 11v-48l1-.5l1 31.5v-27l1-1v35.5l1-38.5l1 7.5v85.5l1 1.5v-86.5l1-.5v84l1-35v-49.5l1-4v25.5l1 20.5v-49l1 .5v117.5l1-62.5v-55.5l1 9.5v122l1-44v-79.5l1-6.5v129.5l1-130l1 7v130.5l1 15v-142.5l1-.5v138.5l1-146.5l1 5.5v124.5l1 14.5v-138l1-1v110.5l1-17v-91.5l1-.5v75.5l1-6v-69.5h1v79l1 6v-85h1v97l1 2.5v-99.5h1v110.5l1 43.5v-158l1-1.5v179.5l1-63v-116.5l1 5v74l1 7v-80.5l1 .5v97l1 1v-98h1v97l1 53.5v-150l1 1v187.5l1-6.5v-181h1v184l1 6v-190h1v194l1-27v-150.5l1 19.5v128.5l1 17.5v-121.5l1-41v144l1-174l1 14.5v122l1-2v-123.5l1 .5v140.5l1 54.5v-188l1-7v186.5l1-22.5v-163.5h1v223.5l1 17.5v-166.5l1-74.5v219l1-1.5v-217.5l1 .5v252.5l1 3v-226l1-29.5v256.5l1-2.5v-250.5l1 1.5v259.5l1-17.5v-242l1 7.5v252l1 1.5v-236.5l1 53v160.5l1 33.5v-236.5l1 13.5v211.5l1 8.5v-202.5l1 66v130.5l1 12v-187l1-16.5v198.5l1-14v-128l1 10v134l1 14.5v-143.5l1-21v163.5l1-23.5v-75l1-7v106.5l1-7v-137l1 41.5v75.5l1 19v-73.5l1-47v133.5l1-4.5v-123.5l1 39v88.5l1-.5v-92.5l1 5.5v90.5l1-3.5v-54.5l1-28.5v75l1 13v-157.5l1 58v94.5l1-28.5v-171l1 120.5v85.5l1-1v-77.5l1-153v228.5l1 3.5v-257l1 174.5v82.5l1-8v-82.5l1 2v88.5h1l1-194.5v185.5l1 9v-72.5l1-17v88.5l1 1v-73l1-101v152l1 1v-56l1 6v71l1-2v-73l1 1.5v73.5l1-7.5v-70.5l1-93v170l1 .5v-87.5l1 8v80h1v-69l1-9.5v68l1 10.5v-76l1-2v78l1-64v-124l1-45v229.5l1-20v-223.5l1 228l1 16v-251l1-28.5v251.5l1 10v-51.5l1 10v62l1 .5v-205.5l1-72.5v267.5l1 10l1-275.5v276l1-15.5v-252l1 152v111l1 3v-279.5l1 125v155h1v-60.5l1 3v58.5l1-1v-57.5l1-.5v58l1 1v-36l1-11v46l1 .5v-35.5l1-4v40h1v-53.5l1 18.5v35h1v-204.5l1 38.5v165.5l1-51.5v-226.5l1 121v157.5h1l1-253.5v249.5l1 4v-23.5l1-43v65.5l1 1l1-39.5v39.5l1-.5v-183l1-12.5v152l1 44v-32l1 14.5v17.5l1-.5l1-272v270l1 2.5v-113.5l1 112l1 1.5v-21l1-6.5v27l1 .5v-49l1-63.5v83.5l1 29v-20.5l1 11.5v9l1-1.5v-243.5l1-23v265l1 3v-146.5l1 146.5l1-1v-7l1 8l1-1l1-59v60l1-.5v-97.5l1-85v183h1v-7l1 .5v6.5h1v-1.5l1-2v3.5h1l1-32v30.5l1 1.5v-9l1 3.5v5.5h1v-42l1-26v66l1 2l1-3.5v3.5l1-1v-196.5l1 58.5v139h1v-245l1 22.5v222l1 .5v-4l1 1.5v2.5h1v-115l1 115h1v-2l1-3.5v5.5h1v-2l1-.5v2.5h1v-7l1 3.5v3.5h1v-103.5l1-141v244.5h1v-6l1 1v5h1v-4.5l1-.5v5h1v-1.5l1-1.5v3l1-1.5v-96.5l1 98h1v-5.5l1 1v4.5h1v-4l1 2v2h1v-37.5l1 37.5h1v-2.5l1-2.5v5h1v-5h1v5h1v-159.5l1 159.5h1v-2.5l1-3v5.5h1v-5.5l1 3v2.5h1v-5.5l1 2v3.5h1v-3l1-.5v3.5h1v-3.5h1v3.5h1l1-4.5v4.5h1v-4.5l1-.5v5h1v-5l1 2.5v2.5h1v-2.5l1-2.5v5h1v-2.5l1 1v1.5h1v-174.5l1-34v207.5l1 1l1-75v74.5l1 .5v-29l1 29h1v-5h1v5h1v-4.5l1 3v1.5h1v-3l1-1.5v4.5h1l1-98v98h1v-9.5l1 9.5h1v-4l1 4l1-4v4h1v-2l1-1v3h1v-4.5l1 1v3.5l1-.5v-209l1-19.5v228.5h1v-3.5l1 3.5h1v-2l1 1.5l1-2.5v3h1v-2.5l1-.5v3l1-.5l1-115v115l1-7.5v-158l1 165.5h1v-4.5l1 1.5v3h1l1-66v65l1 .5v-71l1 71h1v-2l1-1.5v3.5h1l1-50v49.5l1 .5v-34l1 33.5h1v-2.5l1 1v1.5h1v-165l1 13v152h1v-2l1-1v3h1v-2.5l1 .5v1.5h1v-20l1-20v39.5l1 .5v-6.5l1-.5v7h1v-7l1-4v11l1-.5v-10l1-2v12l1-.5v-12l1 1.5v11l1-1.5l1-259v260.5l1-3v-190l1 192.5h1l1-67v66l1-1.5v-19l1-2.5v21l1-1v-18.5l1-6v24.5h1v-27.5l1-1v27.5l1-1v-29.5l1 .5v28l1-.5v-26l1-6.5v32l1-1.5v-35.5l1 6v31l1-1v-30l1-5.5v35l1-1.5v-166.5l1 166.5l1-2.5v-114.5l1 116.5l1-.5v-21.5l1 3.5v17l1-.5l1-136.5v135.5h1v-13.5l1-.5v13.5l1-.5v-10l1 1v8l1-1.5v-4.5l1 1.5v3l1-.5v-27l1 27l2-.5l1-161.5v161.5h1v-245l1 244.5h1v-7l1-2.5v9.5l1-.5v-12l1-3v15h1v-18l1-2v19.5h1v-22.5l1-1.5v24h1v-27l1 1.5v25l1-1v-24.5l1-.5v26l1-1.5v-122.5l1 76v42.5l1 3.5v-48l1 18.5v30.5l1-1.5v-36.5l1 9.5v28h1v-30l1 1.5v29h1v-28.5l1 2.5v25h1v-26.5l1 3.5v23.5l1-2v-18l1 1v17.5l1 1.5v-16.5l1-2v17.5l1-2v-20l1 9.5v13.5h1v-10.5l1 2.5v8h1v-5l1 .5v4.5h1v-3l1 .5v2.5h2v-3l1 .5v2.5l1-1v-83.5l1 84.5h1v-106.5l1 106.5h1v-3l1-3v6h1l1-81v80l1 1v-6l1-2.5v7l1 1.5v-10.5l1 1v9.5h1v-11.5l1 1v10.5h1v-15l1 .5v14.5l1-1.5v-11.5l1-3.5v16h1v-17l1-1v17l1-.5v-18l1 1v17l1 .5v-24.5l1-3v27.5l1-1v-17.5l1-9.5v27h1v-31.5l1 10v20l1 1v-21l1-6v26l1-.5v-29l1-2v30l1 1.5v-26.5l1-7v30l1 2.5v-34l1 3v30.5l1 .5v-32.5l1 1v30l1-1.5v-135l1 135l1 1v-36l1 4.5v32l1-13v-228l1 111v128l1-12.5v-170l1 183.5h1v-46.5l1 2.5v43.5l1-1.5v-36l1-12v49h1v-41.5l1-8v46.5l1-2.5v-44.5l1 3v46.5l1-2.5v-36l1-20v56.5l1-1.5v-38.5l1-14v54l1 .5v-40l1-6v46l1 .5v-44.5l1-6v50h1v-61.5l1-2.5v62l1 2v-40.5l1-72.5v113l1-1.5v-106l1 106l1 1l1-19v18.5l1-2.5v-79.5l1 24.5v57.5l1-5v-59.5l1-14.5v79l1-2.5v-97.5l1 27.5v69.5l1-1v-70.5l1 11v61l1 2v-64.5l1-14v76l1-1.5v-79l1 8.5v73l1 1v-58.5l1 4v54h1v-46l1-5v48.5l1 1v-35.5l1 .5v36l1 .5v-46l1 18v25l1 2l1-203v199.5l1 3v-112l1 67v45l1-.5v-51.5h1v52.5h1v-43l1-5v45.5l1 1.5v-43l1-2v45l1-2v-53.5l1 2v52l1 1v-57.5l1 7.5v50.5l1-1v-172.5l1-44v217l1-1.5v-38.5l1-16v56l1-2l1-220v215.5l1 3v-54l1 11v44l1 2v-70.5l1 18.5v49l1 2.5v-42.5l1 2v40.5l1-.5v-48.5l1 20.5v26l1-2v-31.5l1-1v33.5l1 2v-34l1 10.5v24.5l1-3v-171.5l1 171.5l1 2v-26l1 9.5v17l1-2.5v-16.5l1 2v16.5l1-3.5v-15.5l1 1v18.5l1-1.5v-11h1v12l1-1v-8.5l1 1.5v8l1-.5v-10l1 4v6h1v-6l1 1v4.5l1 .5v-3.5l1-.5v4l1-.5v-226.5l1 94v133h1v-196.5l1-16v208l1 4v-3.5l1 .5v3.5l1-1l1-4.5v4.5l1 .5v-43.5l1 43.5l1-.5l1-203v201.5l1 .5v-231l1 232l1 .5l1-123v122.5l1 .5v-46l1 45.5l1-.5v-3.5l1-4v8h1v-6l1 .5v4l1 .5v-241.5l1 242.5h1l1-210.5v206l1 4.5v-9l1 5.5v3.5l1-1v-6.5l1-1v6l1 2.5v-6l1-2v8l1-3v-33l1 2.5v29.5l1 3.5v-11l1 3.5v7.5h1v-9l1-4v13l1-.5v-8.5l1-6v14l1 1v-10.5l1 .5v10l1-1v-10.5l1-4v15.5l1-2v-12l1 3.5v10l1-1.5v-9.5l1 1v10.5l1-.5v-8l1-6.5v13.5l1 1.5v-9l1-1v7l1 1.5l1-188.5v188l1-1.5v-92.5l1 94h1v-6.5l1-8v13h1v-10.5l1 1.5v6l1 3v-22.5l1 9v13.5l1-.5v-6.5l1-7v9.5l1 3v-11.5l1-.5v11l1 1v-14l1-.5v10l1 2l1-238.5v233l1 5.5v-237.5l1 238l1-3.5v-15.5l1 17l1 1v-20l1 20l1-2.5v-43.5l1 42.5l1 1v-10l1-2v13l1-2v-15.5l1 1v16l1-4.5v-13l1 5v11l1-11.5v-126l1-97.5v229.5l1 3.5v-151l1 150h1l1-216v207l1 8.5v-6.5l1-2v10l1-3.5v-13l1 3v11l1 3.5v-9l1-4.5v10.5l1 1.5v-8.5l1-7v10.5l1 2.5v-19.5l1-2v24.5h1v-11.5l1-17.5v26l1 2l1-24v23.5h1v-13.5l1 2v8.5l1-1v-16.5l1 6v13.5h1l1-232.5v206.5l1 18v-213.5l1 220l1 .5v-26l1 2v23.5h1v-14l1-3.5v17.5h1v-15l1-1.5v15l1 1v-21.5l1-1.5v22l1 .5v-23.5l1 10.5v12.5l1-6.5v-80l1 86.5l1-2v-13.5l1-11v25l1-1l1-210.5v205l1 3v-105l1 106.5l1-1v-163l1-6v165.5l1-1v-92.5l1 63v35l1-1v-26.5l1-.5v19.5l1 2.5v-12l1-2v11l1-1v-155l1 164l1-1.5v-28.5l1-4v22l1 10.5v-46.5l1 18v28.5l1-6v-24.5l1-44v62.5l1 8v-82l1 46.5v32.5l1 6v-32l1-1.5v35l1-7l1-103.5v107l1-6l1-210.5v207l1-4.5v-214.5l1 19.5v207.5l1 1.5v-29.5l1-5v27.5l1 10.5v-111l1-121.5v217.5l1 1v-138.5l1 153l1-9.5l1-169.5v153l1 26v-150.5l1 96v51l1-11v-17.5h1v20l1 13.5v-40.5l1 .5v37l1 2.5l1-208.5v205.5l1-12v-188l1 188l1 7v-198l1 35.5v132.5l1 12.5v-195.5l1-10.5v127l1 104l1-220v207l1-10v-211.5l1 6v215l1 3v-52l1-38.5v42.5l1 34v-110l1 24.5v98.5l1 7v-108.5l1-9v47l1-7v-56l1-21.5v112.5l1-5v-173.5l1-10v117l1 65v-182l1 5.5v165l1-83v-75.5h1v130.5l1 71.5v-200l1 24v147.5l1-91.5v-100.5l1-1.5v134.5l1 85v-201h1v211l1-106v-117l1-5v112.5l1 75v-162l1-27v87.5l1 113v-199.5l1 16.5v194.5l1-212l1 18v205l1-6.5v-198l1-.5v174.5l1 16v-186l1-25.5v175l1 36.5v-191l1-13v203.5l1-13.5v-197l1 20.5v181.5l1 4v-185.5l1 57v124l1-123.5v-75h1v161l1 44.5v-190l1-12.5v72.5l1 102.5v-160.5l1 19.5v142.5l1 19.5v-182l1-7.5v106l1 53v-154l1-9v186.5l1 .5v-174.5l1 .5v130l1 53.5v-186l1-2.5v192.5l1-13.5v-181.5h1v185l1 8v-193h1v188.5l1 4v-193h1v190.5l1 .5v-191l1-1v150.5l1-9v-142l1 .5v147.5l1 9v-156.5l1-.5v136.5l1-21v-116l1 1v165l1-40v-137l1 3.5v136.5l1-14v-115l1-6.5v67l1 58.5v-118l1 .5v144.5l1 15.5v-159.5h1v163.5l1-11v-153h1v140l1 2v-142h1v147l1-22v-126l1-2v57l1-59l1-1l1 84v-84l1 5v180l1 4.5v-183.5l1-1v169.5l1-55v-115.5l1 .5v114.5l1 8v-122.5l1 .5v134l1 2v-135.5l1-2v156.5l1 7v-162.5l1 1v163.5l1 6.5v-170l1 .5v172l1-1v-171h1v171.5l1-24.5v-147.5l1-.5v111.5l1-1.5v-109.5h1v125.5l1-14.5v-119l1 3v96l1 29v-121.5l1-4.5v17l1 36v-50l1 1.5v111.5l1 8v-118.5l1-.5v120.5l1-10v-111l1-1v97l1-37v-69l1 3v18.5l1-3v-14l1 2v43l1 21.5v-65l1-3v29l1 1.5v-32l1 1.5v83.5l1 9v-95.5l1 1v109l1 21v-126.5l1 6v180.5l1 1.5v-184.5l1-2.5v122.5l1-31.5v-91.5l1-9l1 110v-98h1v84.5l1-16v-69l1-4v81.5l1 62.5v-142.5l1 6v167.5l1-2.5v-165l1-.5v166l1 1v-167.5l1-.5v138l1-28v-111l1-.5v101l1 23v-128l1-4v73.5l1 91.5v-155h1v156l1-48v-110.5l1-3v21l1 24v-43l1 1.5v71.5l1-47.5v-29.5l1-.5l1 108v-104.5l1 3.5v149.5l1 4.5v-154l1-2.5v75l1-27v-50.5l1 4v78l1 46v-123h1v120l1 5.5v-126l1 .5v154l1 5v-159h1v158l1-28v-130.5l1-.5v108.5l1-9v-107.5l1 7.5v86l1-44.5v-45.5l1 2v35l1 11v-49h1v38.5l1 48.5v-82.5l1 .5v111.5l1 20.5v-132h1v131l1-61v-77.5l1 3.5v35.5l1 48.5v-83l1 2.5v112.5l1 8.5v-120.5l1-1v102l1-18v-85l1-5.5v16l1-1.5v-18l1 .5v86.5l1 28v-104.5l1-2.5v86l1 22.5v-106h1v100.5l1-36.5v-68.5l1 1v82.5l1-56v-33.5l1 9v92l1-10.5v-82.5h1v56.5l1 2v-67l1-1v55l1 29.5v-73.5h1v65.5l1-13.5v-52l1 .5v49.5l1-7.5v-50l1 1v31l1-5v-21l1-5v16l1-2v-15l1 13v14.5l1 25.5v-24l1 25.5v17.5l1 8v-7l1 3v4l1-4.5v-14.5l1-23.5v22.5l1-24v-20.5l1-13.5v13.5l1-18.5l4-1l1 15v-15l1 20.5l1 8v-8l1 9l1-1.5v-8l1-5.5v5.5l1-6v-14.5l4-.5l5-1.5v8.5l1 11.5v-10l1 13.5l1 5v-4.5l1-1v5.5l1-5.5l1-21v17.5l1-17.5l1 .5l1 15v-15l2 38.5v-16.5l1 23l1 .5l1-19v13.5l1-14.5v-8l1 .5v7.5l1 10.5v-9.5l1 7v3.5l1-4v-12.5l1-7v6.5l1-7.5v-12l3-.5l4 1.5l1-.5v.5l1-1v-.5l1-.5v.5l1-1l1 14v-14.5l1 18l1 2v-1.5l1 1.5v1l1 .5l2-.5l1-4.5v3l1-3v-7l1-10.5v9.5l1-9.5l1-.5l4 2.5l4-1h2v13l1 5v-4.5l1 4.5v2.5l1 1v-1l1 1v1l1 1v-1l1-.5v1l1-1v-1l1-2v1.5l1-2l1-11v8l1-9v-7.5l1 1v.5l1 1v-.5l1 .5v1l4 .5l5-.5v-.5l1-1v1l1-1v-1l1-1v1l1-1l4 .5l4-.5l1 1v-1l1 1v.5l1 1v-1l1 1.5l5-2l4-.5v1l1 1.5v-1l2 3v-1h1v1l1-1v-.5l2-.5v-1l5-1h4l4 1.5l8-2.5h7" stroke="#8DB671" stroke-width="2.6" stroke-dasharray="7 7 5 8 8 6 6 9"/>
<path d="M188.5 726.0l3 1l8-2h1v1l1 1v-1l1 1v1l1 1v-.5l1-1v1.5l1-1.5v-1.5l1-1.5v1.5l1-1.5v-1.5h1v1l1 1v-1l1 1v1l1 1v-1l1 1l7 1l1-.5v.5l1-1v-.5l1-1v1l1-1v-1h5l4-.5l9 1.5l8-1v1l1 .5v-.5l2 2v-.5l1 .5l7-2l5 1l4-1.5l2 .5v10.5l1 6v-5.5l1 8l1 1.5v-1.5l1 1.5l1 .5l1-1v.5l1-.5v-1.5l1-2.5v2.5l1-2.5v-6.5l1-9v8.5l1-9h3l1 1v-1l2 2.5v-1l1 1l3-.5v8.5l1 6.5v-5.5l1 8l1 1v-1l1 1v1h1v-1l1-1.5v1l1-1l1-10v7l1-8v-8l3 .5v7.5l1 9.5v-8.5l2 21v-9.5l1 10v7l1 3v-2.5l1-.5v3l1-3.5v-7.5l1-9v8.5l2-21.5v9l1-11v-6l1 .5v13l1 5v-4.5l1 6.5h2l1-5.5v4l1-4.5v-13l1-1v1l1-1v-1h1v14l1 5.5v-5l1 5.5v5.5l1 5.5v-5l1 2.5v2.5l1-3v-7l1-2.5v2.5l1 6v-7.5l1 8v16.5l1 15.5v-14.5l1 15.5v12l1 8.5v-7.5l1 10.5h1l1-11v7.5l1-8v-12l1-16v15l1-9v-13l1 14v14l1 4.5v-4l1-3v7l1-8v-17.5l1-22.5v21.5l1-25l1 2.5v18l1 9.5v-8.5h1v8.5l1-9.5v-18l1-15v15l1-6v-11l1 3.5v11.5l1 11v-20.5l1 1.5v41l1 10v-50.5l1-7l1 63.5v-65l1 9.5v68l1 2v-69.5l1-1v50l1-16v-34.5l1 1.5v58l1 25.5v-82.5h1v71.5l1-24v-57l1 6.5v31l1-21.5v-12l1-.5v17.5l1 38.5v-52l1-9.5v19.5l1 2v-19l1 2v14.5l1 30v-49.5l1 12.5v93l1 2v-94.5h1v94.5l1 1.5v-96h1v97l1 .5v-98l1-11.5l1 112v-111l1 11.5v101l1-.5v-100.5l1-4.5v75.5l1-77.5l1 2v53l1 20v-69.5l1 .5v70.5l1 2v-73.5l1-5v22l1 12.5v-40.5l1 9v29l1-17v-14h1v12.5l1 19v-29l1-10v18l1 34.5v-49.5l1 4v16l1 36.5v-48.5l1 .5v53.5l1 3v-66l1 3.5v66.5l1 28.5v-88l1 1v106.5l1 7v-119.5l1 6.5v111l1 9v-120h1v117.5l1 3v-120.5l1-8v30l1 57v-80l1 .5v105.5l1 14v-119l1-.5v106.5l1-61v-48l1-3v21.5l1 .5v-22.5l1 3.5v78l1-81.5l1 1v13l1 2.5v-15l1-.5l1 93.5v-96.5l1 8.5v126l1-16.5v-109.5l1-1v76.5l1-1v-78l1-2v139.5l1 3.5v-137l1-12v152l1 .5v-150l1 9v141.5l1-2.5v-139.5l1-1.5v131.5l1-137.5l1 .5v17l1-4v-15l1 1.5v54.5l1-36.5v-22.5l1-3v70.5l1 6.5v-75.5l1 13v118.5l1-68.5v-55.5l1 4.5v76.5l1 6v-82.5l1-12.5l1 83.5v-80l1 8.5v71.5l1 3v-75l1 1.5v97.5l1 22.5v-130l1 5.5v15h1v-15l1-6l1 117.5v-110l1-7.5l1 167v-155l1-11.5v51.5l1 34v-84.5l1-3v115.5l1 51v-167.5l1 14.5v159.5l1 1v-160.5l1-12v99l1 72v-162l1 3v162l1-2v-161l1-1v108.5l1 11v-119.5l1 1v156l1 8v-164.5l1-13v37l1 40.5v-75l1 9.5v108.5l1 8v-116.5l1-.5v96.5l1-15.5v-81l1 1v119l1 17.5v-136l1-.5v118l1-18.5v-99.5h1v110l1 12v-127.5l1-3.5v149.5l1-38.5v-114l1-1v145.5l1-12v-120l1-.5v92.5l1 38v-130l1 1v154.5l1-27.5v-127l1-.5v99.5l1 5.5v-105h1v101.5h1v-102l1-7v97l1-28.5v-71.5l1 8v55.5l1-18.5v-37.5h1v37.5l1 11v-48.5l1-2l1 159.5v-154l1 .5v166l1 10v-176l1-.5v163.5l1-12v-156.5l1 1.5v163l1 21.5v-189.5l1 2.5v139.5l1 50.5v-183.5h1v179l1 5.5v-184.5l1-.5v184.5l1-37v-148.5l1-6v92l1-96l1-2l1 198v-191.5l1 4.5v185l1 5v-192l1 4.5v182l1-111.5v-82.5l1 5.5v156.5l1 22v-175l1-10.5v51l1 94.5v-141.5l1 8v144.5l1-.5v-143.5l1-5v138l1-56.5v-81l1 3.5v103.5l1 18.5v-121.5l1-.5v132.5l1-35.5v-105.5l1 1v93l1 19v-105.5l1 .5v126l1 10v-135.5l1 .5v162l1 31v-192l1-11.5l1 189.5v-190l1 12v168.5l1-33.5v-138l1-6v111.5l1 72v-175l1-.5v156.5l1-24.5v-132l1-3v117.5l1-40.5v-76.5l1-4v93l1-9.5v-87l1 3.5v166.5l1 13.5v-173l1 .5v174.5l1-6.5v-168.5l1-7.5v129l1-76.5v-56.5h1v143.5l1-26.5v-114.5l1 8.5v139l1-23.5v-116.5l1-.5v100.5l1 32v-132l1 1v165l1 22v-186.5l1 .5v179.5l1-1.5v-178l1-.5v186l1-70.5v-116h1v112.5l1 15v-127.5l1 .5v157l1 24.5v-181l1-.5v156.5l1-168l1 10.5v122.5l1-1.5v-125.5l1 4.5v115l1-60v-63l1 6.5v90l1 34.5v-130.5l1 4.5v181.5l1 1.5v-178l1-1v178l1-98v-86.5l1 6.5v147.5l1 22.5v-170l1 .5v165l1 4v-169h1v168l1-4v-165l1-4v107.5l1-109.5l1 5v156l1-1v-153.5l1-11v38.5l1 53v-82.5l1 1v116.5l1 35.5v-151l1 .5v148l1 1v-149h1v146l1-25.5v-121h1v114l1-11.5v-102.5h1v97.5l1 1.5v-98.5l1-7.5v103.5l1-104l1 2v80l1 21v-95.5l1-.5v95l1-3.5v-92l1-.5v81.5l1-3.5v-78l1-13l1 105v-92.5l1 .5v91l1-44.5v-52l1 1v78.5l1-.5v-74.5l1-.5v68.5l1 1v-70l1-.5v66l1-32.5v-34.5h1v28.5l1 4v-32.5l1-7.5v43.5h1v-36l1-.5v36.5l1-3.5v-33.5l1-.5v28l1-4.5v-24.5l1-2v11l1 1.5v-11l1-.5v14l1-2v-12.5l1-1v11.5l1-2.5v-10l1-1v6.5l1-3v-4.5h1v4l1-1v-4.5l1 .5v3.5l1-1.5v-2.5l1-.5v2l1-1v-1.5h1v1l1-.5v-1l7-.5l5 .5l7-.5l48 .5l13 2.5v2l1 1v-2l1 1.5v2.5l1 1.5v-3.5l1-1l1 16v-14l1-1v12.5l1 8v-16l1-1.5v24.5l1-16v-9l1 4.5v14l1 6v-21l1-3l1 63v-55.5l1 .5v56.5l1-2v-55l1-.5v31.5l1-19v-16.5l1-3v34l1 49v-82.5l1-.5v39l1 55.5v-85l1-1.5v54.5l1 32v-93l1-.5l1 101v-94l1 3v102l1-2.5v-100l1-8l1 97v-91.5l1 1v101l1-21v-81l1 2v66.5l1-12.5v-54.5h1v50l1 7.5v-57.5h1v62.5l1 9.5v-72h1v74l1 8.5v-82.5l1-4v121l1 15v-137.5h1v89l1-27.5v-56.5l1 .5v61.5l1 14.5v-75.5h1v77h1v-77l1 .5v122l1 33.5v-154.5h1v149.5l1 4.5v-154h1v160.5l1 4v-164.5l1 12.5v130.5l1-1v-112l1 21.5v106l1-17v-125.5l1-25.5l1 117v-102.5l1-3.5v127l1-1v-125.5l1 5v151l1 15v-171l1 .5v167l1 15.5v-182.5l1 58v130.5l1-4.5v-184h1v169.5l1 24.5v-193.5l1 30.5v166l1 2v-198.5l1 3.5v191l1 7.5v-197h1v195.5l1 4v-196l1 11.5v185.5l1-1v-144l1-30v179l1-9v-160l1 11v159l1 .5v-109.5l1-34v146.5l1-7.5v-126.5l1 18v112.5l1 6.5v-111l1 7v108.5l1-1v-96l1 21v70.5l1 9v-83l1 8.5v73.5h1v-54l1 14.5v40.5l1 4.5v-63.5l1 6v54l1 4.5v-28l1 3v25.5l1 2.5v-25l1 9.5v14.5l1-2l1-84v89l1-1.5v-72.5l1-87v159l1 4.5v-18l1 7v11.5l1-.5v-164l1-25v190.5h1v-16.5l1-7.5v23.5l1 1.5v-23l1 23.5l1-.5v-156l1 157l1 .5v-25.5l1 16v10l1-9v-129l1 133.5l1 5.5v-32l1 19.5v13l1 .5v-12l1-5v17l1 .5v-110l1 110.5l1 .5v-20.5l1 11.5v9.5h1v-19l1 2.5v17l1 .5l1-145v139.5l1 3.5v-186l1-15v194.5l1 5.5l1-193v198l1-6.5v-219.5l1 224l1 3.5l1-150.5v151l1-.5v-230.5l1 231.5l1 .5v-229l1 6v220.5l1 3.5v-97l1-139.5v236.5l1 .5v-127l1 79.5v48.5h1v-7.5h1v8l1 .5v-9l1 6v3l1 .5v-32l1 32.5l1 .5v-23.5l1 24l1 .5l1-175v175l1 .5v-137l1-103.5v205.5l1 36v-136.5l1 136.5l1-2.5v-215l1 218h1v-57l1 58l1 .5l1-160v160l1-34v-136.5l1 171.5l1 .5v-2l1 .5v1.5h1v-239l1 143.5v96.5h1v-21.5l1 22h1v-20.5l1-21.5v42.5l1-22.5v-76.5l1 100h1l1-217v217h1v-236.5l1 108v129.5l1 .5v-1.5l1 1v1l2 .5l1-51.5v52l1 .5v-85l1-79v164l1 .5l1 .5v-1l1 1l2 .5l1-28v28l1 1v-.5l1 .5v.5l1 .5v-35.5l1-24.5v60l3 1.5v-180l1 53.5v126.5h1v-222.5l1 20.5v203l3 .5v-104.5l1 105.5h2l3 1.5v-1l1 1l1-94v94.5h1v-227l1 227.5l6 .5v-91l1 92h1v-.5l2 .5l1-1v1.5l1 .5v-31.5l1 31.5l2-.5v1l1-.5l1 .5l1-148.5v149l3 .5v-.5h1v.5l2 .5v-.5l1 .5l5 1h3v1h1v-.5l1 .5l4 1l1-165v165h1v-197.5l1 198l1-71v71l1 .5v-26.5l1 26.5h3v1l5 .5v-92l1 92.5l7 1.5v-.5l1 .5l1-202.5v203h1v-222l1 222l7 2l1-110.5v111l1-6.5v-156l1 163l4 .5v-64.5l1-5.5v70.5l5 1v-46.5l1 14.5v32.5l4 1v-164.5l1 13v152l5 1v-17.5l1-20.5v38l1 .5v-3.5h1v4h1v-5l1-2.5v8h1v-9l1-1.5v11h1v-10l1-1v11.5l1-.5l1-263v263.5h1v-195l1 195.5l1 .5l1-67.5v67.5h1v-20l1-2v22l1 .5v-20l1-6v25.5l1 1v-29l1-.5v29.5h1v-31.5l1 1v30.5h1v-28.5l1-6v35l1-2v-36l1 6.5v31.5l1 .5v-31.5l1-5.5v36.5h1v-176.5l1 177l1-2v-122l1 124.5h1v-21.5l1 4.5v17.5h1l1-145.5v145.5l1 .5v-13l1 .5v12.5h1v-9.5l1 1.5v8.5h1v-6.5l1 3v3.5l1 .5v-29l1 28.5l2 .5l1-177v177l1 .5v-269.5l1 269.5h1v-7.5l1-1.5v9h1v-13l1-1v14l1 .5v-18l1-2v20h1v-23l1-2v25l1 .5v-28.5l1 1.5v27h1v-27.5l1-1v28.5h1v-137.5l1 85v48l1 4.5v-55l1 21v34.5h1v-42.5l1 11v31.5l1 .5v-34.5l1 2v32.5h1v-31.5l1 3v28.5h1v-29.5l1 3.5v26.5l1-.5v-22l1 1.5v21h1v-18l1-.5v18.5l1-3v-22l1 12v13.5l1 .5v-11l1 3.5v7l1 .5v-5.5l1 2v3.5h1v-2l1 2l3 .5l1-94.5v94.5l1 .5l1-121v120.5l1-.5v-4l1-.5v3.5l1-.5v-5.5l1-2v6.5l1-2.5v-88.5l1 89.5l1-1v-9.5l1-1v9.5h1v-11l1-2.5v12.5l1-.5v-10.5l1-5v14h1v-15.5l1 1v13.5l1-1v-17l1-2v18.5l1-1v-18.5l1-2.5v20.5l1-1v-18l1-8.5v26l1-.5v-29.5l1 11v18.5l1-.5v-27.5l1-6.5v34l1-1.5v-21l1 .5v21.5l1-.5v-27l1-5v32l1-1.5v-32.5l1 5.5v28l1-2v-32.5l1-3v37.5l1-1v-33h1v33.5l1-1l1-148.5v149l1-1v-42l1 3v39.5h1l1-261.5v250l1 11v-140.5l1-59.5v186l1 13.5v-47l1-2.5v49.5l1-.5v-47.5l1 9v38.5h1v-53l1 8.5v44l1-2v-51.5l1 .5v48.5l1 4v-49l1 7.5v40.5h1v-62l1 18v41l1 2v-58.5l1 15.5v44l1-.5v-50l1 2v48l1-.5v-52l1-15v66.5l1-1.5v-67.5l1 26.5v43h1v-123l1 6v115.5l1 1.5v-2l1-1v3h1l1-89.5v87.5l1 2v-61l1-9v68l1 2.5v-84l1-23.5v105l1 2.5v-79l1-1.5v78.5l1 2v-68.5l1-1.5v70.5l1-1.5v-84l1-5v89.5l1 .5v-80l1 18.5v62l1 .5v-59.5l1 10v49.5l1-2.5v-53.5l1 16v40h1v-39.5l1-9v49l1-2v-27l1-15.5v44.5l1-3.5v-221l1 100v124.5h1v-49.5l1-7.5v57.5h1v-58.5l1 11v47.5l1-1.5v-49.5l1 5v46l1 .5v-50.5l1-10v59l1 1v-59l1-3.5v62.5l1 1l1-193.5v192l1 1v-242l1 241l1 1.5v-62.5l1 22.5v40l1-7v-241l1 247l1 1v-51.5l1-27v79l1-2v-56.5l1 10.5v48h1v-45.5l1-9.5v54.5l1 .5v-31.5l1-8v39l1 1v-41.5l1 3.5v38l1 .5l1-197v196.5l1-.5v-24l1-3.5v28.5l1 .5v-18.5l1-3.5v21.5l1 .5v-19h1v18.5l1 .5v-16.5l1 5.5v11l1 .5v-11.5l1 1v10.5h1v-8h1v8h1v-6.5l1 2.5v4.5l1-.5v-2l1 1v1.5h1l1-259v259h1v-151.5l1-73v224.5l1-1v-242l1 242l1-1.5v1.5l1-.5v-1h1v1l1-.5v-48.5l1 48.5l1-.5l1-231v230h1v-263l1 262.5l1 .5l1-139v139l1-.5v-48.5l1 48l1-.5v-2.5l1-1.5v4h1v-2l1-1.5v2.5h1v-274.5l1 274.5h1l1-236.5v231l1 4.5v-5l1 2.5v2.5l1-.5l1-9.5v9h1v-3l1-.5v3.5l1-2v-38.5l1 5v32.5l1 1.5v-7h1v7h1v-6h1v5.5l1-.5v-4l1-5.5v9.5l1-.5v-6l1 .5v5.5l1-.5v-9l1-1.5v10.5l1-1v-8.5l1 4.5v4.5l1-2v-7h1v8.5l1-.5v-4.5l1-7.5v10.5l1 1v-4.5l1-.5v4.5h1l1-207.5v207l1-2.5v-101.5l1 103.5h1v-5.5l1-7.5v12.5l1-.5v-4.5l1-2.5v5l1 1.5v-18l1 12.5v5.5l1-.5v-5l1-2.5v4l1 3v-8.5l1-1v9.5h1v-6.5l1-9v11.5l1 3l1-266v258.5l1 7.5v-264.5l1 264l1-2.5v-13l1 10.5v4.5h1v-14l1 14l1-2v-44.5l1 45l1 .5v-12.5l1-2v14.5h1v-16l1-2.5v18l1-1.5v-18l1 7.5v11.5l1-4.5v-149.5l1-109.5v259l1 3.5v-170l1 169.5l1-1l1-241.5v230l1 12v-10l1 4.5v6l1-.5v-18.5l1 2.5v15l1 1.5v-4.5l1-10.5v12l1 2v-5.5l1-12.5v17l1-1v-10.5l1-5.5v18h1v-11l1-10v20h1l1-17v17l1-.5v-8l1-5v11l1 1v-17.5l1 12v6h1l1-261.5v243l1 13.5v-242l1 246.5h1v-25.5l1 .5v24.5h1v-12l1-7.5v19h1v-16.5h1v15.5l1 .5v-19l1-3.5v22l1 .5v-25.5l1 24.5l1-2.5v-88.5l1 91.5l1-1.5v-15l1-2.5v18l1-1.5l1-234v231l1 .5v-113.5l1 115l1-1.5v-179.5l1-9.5v186.5l1-1.5v-104.5l1 71v39h1v-17.5l1-10v20.5l1 2v-8.5l1-1.5v10l1-6v-173l1 183.5l1-2v-31.5l1-4.5v26.5l1 9.5v-48.5l1 16.5v32.5l1-2v-32.5l1-43.5v66l1 6.5v-80.5l1 77l1 7.5v-27l1 2.5v25l1-8.5l1-115v119l1-8l1-235.5v232l1 1v-245.5l1 22v232.5l1 3v-29l1-5v24l1 9.5v-120l1-138v243.5l1 9.5v-160.5l1 165.5l1-10l1-183.5v167.5l1 24.5v-158.5l1 154.5l1-6v-21.5l1 5.5v16.5l1 10v-27l1-17v41l1 1l1-226.5v224l1-4.5v-213.5l1 212.5l1-1v-213.5l1 44v157l1-1v-216.5l1-14v150l1 100.5l1-234.5v226.5l1-13.5v-232.5l1 6v239.5l1-.5v-43.5l1-50v41l1 33v-112l1 26.5v100l1 9v-116l1-11v56l1-8v-65.5l1-24v125.5l1-6v-191l1-10v123.5l1 67v-190.5l1 5.5v175.5l1-90v-79h1v133l1 76v-207l1 24v157l1-100v-101.5l1-1.5v132.5l1 84v-198h1v208.5l1-91.5v-129l1-5v109.5l1 76.5v-161.5l1-26v85l1 110v-194l1 16.5v189.5l1-207l1 18v199.5l1-6.5v-192.5l1-.5v178.5l1 14.5v-189l1-25v172.5l1 34v-186l1-13v205.5l1-21v-191.5l1 20.5v177.5l1 10.5v-188l1 54.5v131l1-122v-81h1v165l1 36.5v-186l1-12.5v72l1 103v-160.5l1 18v147l1 10.5v-176l1-7.5v102.5l1 51.5v-149l1-9v180.5l1 .5v-168.5l1 .5v125.5l1 51.5v-179.5l1-2.5v186.5l1-13.5v-175.5h1v179l1 8v-187h1v182.5l1 3.5v-186.5h1v184l1 1v-185l1-1v145.5l1-9v-137l1 .5v142.5l1 9v-151.5l1-.5v131.5l1-20v-112l1 1v159.5l1-39v-132.5l1 3.5v132l1-13.5v-111l1-6.5v64.5l1 57v-114l1 .5v139.5l1 15v-154h1v158l1-11v-147.5h1v135l1 2v-137h1v142l1-21.5v-121.5l1-2v55l1-57l1-1l1 81v-81l1 5v173.5l1 5v-177.5l1-1v163.5l1-53v-111.5l1 .5v110.5l1 7.5v-118l1 .5v129l1 2v-130.5l1-2v151l1 6.5v-156.5l1 1v157.5l1 6.5v-164l1 .5v166l1-1.5v-164.5h1v165.5l1-24v-142l1-.5v107l1-1v-105.5h1v120.5l1-13.5v-115l1 3v92.5l1 27.5v-116.5l1-4.5v17l1 34v-48l1 1.5v107.5l1 7.5v-114l1-.5v116l1-10v-106.5l1-1v93.5l1-36v-66.5l1 3v18.5l1-3v-14l1 2v41l1 21v-62.5l1-3v27.5l1 2v-31l1 1.5v80.5l1 8.5v-92l1 1v105l1 20.5v-122l1 6v174l1 1.5v-178l1-2.5v118.5l1-31v-88l1-9l1 106.5v-94.5h1v81.5l1-15.5v-66.5l1-4v79l1 60v-137.5l1 6v161.5l1-2.5v-159l1-.5v160l1 .5v-161l1-.5v132.5l1-27v-106.5l1-.5v97l1 22v-123l1-4v70.5l1 88v-148.5h1v149.5l1-46.5v-105.5l1-3v19.5l1 23.5v-41l1 1.5v68l1-45v-28.5l1-.5l1 103.5v-100l1 3.5v143.5l1 4.5v-148l1-2.5v72l1-26v-48.5l1 4v74.5l1 44.5v-118h1v115.5l1 5v-121l1 .5v148l1 4.5v-152.5h1v151.5l1-26.5v-125.5l1-.5v104l1-9v-103l1 7.5v82l1-43v-43l1 2v33.5l1 10v-46.5h1v36.5l1 46.5v-78.5l1 .5v106l1 19.5v-125.5h1v125l1-59v-73.5l1 3.5v33.5l1 46v-78.5l1 2.5v107l1 7.5v-114l1-1v96.5l1-17.5v-80l1-5.5v16l1-1.5v-18l1 .5v82l1 26.5v-98.5l1-2.5v81l1 21.5v-100h1v94.5l1-35v-64l1 1v77.5l1-53v-31.5l1 9v86l1-10v-77h1v52.5l1 2v-63l1-1v51.5l1 28v-68.5h1v61l1-13v-48l1 .5v45.5l1-7v-46.5l1 1v29l1-5v-19l1-5v16l1-2v-15l1 13v12l1 24v-22.5l1 23.5v16.5l1 7.5v-7l1 3v4l1-4.5v-13.5l1-21.5v20.5l1-22v-17.5l1-13.5v13.5l1-18.5l4-1l1 15v-15l1 20.5l1 5.5v-5.5l1 7l1-2v-5.5l1-5.5v5.5l1-6v-14.5l4-.5l5-1.5v8.5l1 11.5v-10l1 13l1 3.5v-3l1-.5v3.5l1-3.5l1-21v17.5l1-17.5l1 .5l1 15v-15l2 35.5v-14.5l1 21h1l1-17.5v12.5l1-13.5v-6l1 .5v5.5l1 10v-9l1 6.5v3l1-3.5v-10l1-7v6.5l1-7.5v-12l3-.5l4 1.5l1-.5v.5l1-1v-.5l1-.5v.5l1-1l1 14v-14.5l1 18l1 2v-1.5l1 1.5v1l1 .5l2-.5l1-4.5v3l1-3v-7l1-10.5v9.5l1-9.5l1-.5l4 2.5l4-1h2v13l1 5v-4.5l1 4.5v2.5l1 1v-1l1 1.5l1 .5l1-.5l1-1v1l1-1.5v-1.5l1-3.5v3l1-3v-8l1-8.5v7.5l1-6.5l2 2.5v-1l1 1l4 .5l3-.5l1-.5v.5l1-.5v-1l1-1v1l1-1v-1h1l4 .5l3-.5h2v1l1 .5v-.5l1 .5v1l1 .5l8-2.5l1 1v-1l1 1.5v1l1 1v-1l1 1v1h1v-1l2-.5v-.5l1-1v1l1-1l4-1h4l4 1.5l8-2.5h7" stroke="#5BAE1F" stroke-width="2.6"/>
<path d="M188.5 726.0l3 1l8-2h1v1l1 1v-1l1 1.5v1l1 1v-1l1-1v1.5l1-1.5v-1.5l1-1.5v1.5l1-1.5v-1.5h1v1l1 1v-1l1 1v1l1 1v-1l1 1l7 1l1-.5v.5l1-.5v-1l1-1v1l1-1v-1l5 .5l4-1l9 1.5l8-1v1l1 .5v-.5l2 2v-.5l1 .5l7-2l5 1l4-1.5l2 .5v11l1 6.5v-6l1 8.5l1 1v-1l1 1.5h1l1-.5v.5l1-.5v-1.5l1-2.5v2.5l1-3v-6.5l1-9.5v9l1-9l3-.5l1 1v-1l2 2.5v-1l1 1l3-.5v9l1 7v-6l1 8.5l1 1v-1l1 1.5l1-.5l1-1.5v1l1-1.5l1-10v7l1-8v-8.5l3 .5v8l1 9.5v-8.5l1 12l1 2v-2l1 2v1h1h2v-1l1-2v1.5l1-2l1-13.5v9.5l1-11v-6h1v13.5l1 5.5v-5l1 7h2l1-6v4.5l1-5v-13.5l1-1v1l1-1v-.5l1-.5v14.5l1 6v-5.5l1 6v2.5l1 1v-1l1 .5l1-2v2l1-2v-3l1 1.5v3.5l1 2v-2l1 2.5v1l1 1v-1l1 1.5l1 .5l2-.5l1-1.5v1l1-1v-1.5l1-1v1.5l1 1.5v-1l1 1.5l1-.5l1-2v2l1-2v-3l1-4v3.5l1 3v-3.5l1 4.5h1l1-4.5v3.5l1-3.5v-15.5l1-2.5v12l1 4v-12l1 2v14l1 3v-15.5l1 .5v16l1-11v-12l1-2v26.5l1 2v-18h1v19l1-1v-18.5l1-.5v18l1 4v-20l1 1v21.5l1-1v-21l1-10v29l1-2.5v-19.5l1-3v13.5l1 5.5v-19l1 4.5v21l1-10.5v-21.5l1 3v21l1-2.5v-16.5l1-5v31l1 5v-22.5l1 1v22h1v-22.5h1v22.5h1v-22.5h1v22.5l1-9.5v-26l1 1v35h1v-22.5h1v22.5l1-2v-25.5l1-2v20l1 6v-24l1 4v21.5l1 .5v-21.5l1-.5v22l1-6.5v-21l1-7v30h1v-20.5l1-1.5v15.5l1-1.5v-14.5l1 3v19.5l1-10.5v-20l1 3.5v29l1-6.5v-18.5l1 5v21l1 .5v-21l1-10.5v32l1 .5v-28.5l1 7.5v23.5l1 1.5v-24l1-6.5v31l1-.5v-23.5h1v24h1v-24h1v24l1-9v-23.5l1 7.5v22.5l1 1.5v-23.5l1 .5v24l1-1v-23.5l1-2.5v21l1-4.5v-20l1-1v21.5l1 6.5v-23.5l1-4.5v19.5l1-3.5v-14.5l1 .5v17l1 3v-21l1-3v31l1 2v-23l1-.5v22.5l1-2v-21.5l1-3v24l1 4v-30l1 6.5v23.5h1v-37l1 3v34h1v-24h1v24l1-.5v-25.5l1-7v22.5l1-2v-20l1-2v17l1 10.5v-25.5l1-5v25l1 6.5v-35l1 1.5v34l1 4v-23.5l1-6v24l1 2.5v-21.5h1v22l1-18v-18l1 3.5v31.5h1v-21.5l1-.5v22l1 2v-22.5l1-11.5v35.5l1-12.5v-16.5h1v16.5l1-1v-23l1 9v26.5l1-6v-29l1 13.5v24l1-8v-29l1 1v31l1 2v-36l1-1v40h1v-23.5h1v23.5l1-4v-33.5l1 10v27.5h1v-24l1-1v25l1-3v-23h1v24l1 2v-25l1-.5v25.5l1-11v-29l1 2.5v31.5l1 3v-23.5h1v24l1-1.5v-23h1v22l1 2.5v-23.5l1 .5v24l1-1v-23l1-.5v22.5l1 .5v-23l1-6v29.5l1 1v-35l1-3v36l1 2v-39l1 15v23l1-1.5v-22.5l1 1v23.5l1 1.5v-24h1v22.5l1-1.5v-21.5h1v21.5h1v-21.5l1-.5v22l1-1v-29l1-3.5v30.5l1-1v-20l1-1v19h1v-19l1 .5v20l1-2.5v-20.5l1 6.5v23.5l1 .5v-23.5h1v24l1-.5v-23.5l1-6v29h1v-27.5l1-5.5v34l1-2v-29l1 7v24h1v-24h1v24h1v-24l1-1.5v24l1-3.5v-27l1-4.5v18l1 5v-26l1 8v31.5h1v-26.5l1-2.5v29h1v-24l1-13.5v31.5l1 4.5v-30l1 4.5v26.5l1-9v-29.5l1 4.5v32l1 .5v-23h1v23l1-.5v-28.5l1 1v24l1 1.5v-21.5l1 .5v22l1 1v-23.5l1-9.5v30.5l1-.5v-29l1 7.5v22.5l1 1.5v-23.5l1 .5v23.5l1 1v-24l1 1v24.5l1-14v-23l1-.5v37l1-.5v-23.5l1-3v25l1-2v-30.5l1 10.5v24l1-1v-23.5l1-.5v23l1-1v-25h1v22.5l1 .5v-27.5l1-3.5v30.5l1 5v-32l1 8.5v24h1v-24h1v23.5l1-2v-30.5l1-4.5v29.5l1 6v-35.5l1 3v31l1 2v-23.5l1-1v23l1-1v-22.5l1 .5v24l1 1.5v-24.5l1 1v24.5h1v-24.5h1v24.5h1v-25l1-.5v22.5l1-.5v-22h1v23l1 1.5v-24l1 .5v24.5l1-1v-23.5l1-13v25.5l1 9.5v-23.5l1-5v28h1v-23l1-9v27.5l1 3v-23.5l1-6.5v32l1 2.5v-29.5l1 5.5v24h1v-25l1-7.5v27.5l1 4v-24l1 .5v24.5h1v-24.5h1v24.5h1v-24.5l1-.5v25l1-3v-27l1-2.5v18l1 14.5v-26l1 1v25l1-10v-27l1 10v22.5l1 2.5v-24l1 1.5v24.5h1v-24.5h1v24.5h1v-24.5l1-.5v24l1-.5v-23.5h1v23l1-.5v-22.5l1 .5v22.5l1-.5v-30l1-1v11.5l1 18.5v-27.5l1 6v22.5h1v-23l1-.5v23l1-1v-22.5h1v21.5l1-8v-28l1 14v22.5h1v-22l1-6v24l1 2v-25l1 4v21l1-1.5v-20l1-.5v20l1-1v-20l1-1v17.5l1-1.5v-16h1v16l1-.5v-24l1 8v16l1-.5v-15.5l1-1v15.5l1-1.5v-14l1-1.5v14l1-4v-12.5l1 2v10.5h1v-11l1-.5v10l1-1.5v-9.5l1-1v9l1-3v-7.5l1-1v5l1-.5v-4.5l1-2v5.5l1-1v-4l1-.5v3.5l1-1.5v-2.5l1-.5v2l1-1v-1l1-.5v1l1-1h1l5-.5l5 .5l7-.5l48 .5l12 2.5l1 2v-2l1 1v2.5l1 2v-3l1 1v3.5h1v-5l1 2v9l1-.5v-9l1 4.5v7l1 2.5v-11l1-1v10.5l1 3.5v-9l1-1v12l1-5v-10l1 8.5v13l1 1v-13.5l1-.5v14.5l1-1.5v-14l1-4.5v16l1 3v-22.5l1 1v26l1-3v-23.5l1 11v18l1-2.5v-17.5l1-7.5v28l1-28.5l1 8v21.5l1 .5v-18.5l1-.5v19l1-7v-21.5l1 6.5v21.5l1 .5v-20.5l1-1.5v20.5l1-1v-17.5h1v16.5l1-.5v-16.5h1v17l1 .5v-17h1v17.5h1v-17.5h1v18l1 2v-25l1-1.5v27l1-2.5v-24.5l1 6v16.5l1 .5v-17l1 .5v17h1v-17l1 .5v16.5l1 2.5v-19l1 1v19h1v-18.5h1v18.5h1v-18.5h1v18.5l1-1v-9l1 2v7l1 .5v-5.5l1-4v9l1-9v-21l1 17v11.5l1 1v-16.5l1 .5v15.5l1 1v-11l1-5.5v17.5h1v-17h1v17.5h1v-6l1-11.5v18l1-.5v-17.5l1 .5v17.5l1 .5v-8.5l1-9.5v18h1v-14.5l1 2v13h1v-13l1 1.5v12h1v-10.5l1 4v6.5l1 .5v-9.5l1 1v8.5h1v-7l1 3v4.5h1v-6l1 1v5l1 .5v-4.5l1 .5v4l1 .5v-4l1 1v3h1v-2.5h1v3h1v-2l1 .5v2h1v-1l1-.5v2h1v-1l1 .5v.5l1 .5v-1l1 .5v1l1-.5l2 1v-3l1 .5v2.5l1 .5v-7.5l1 7.5h1l1-6.5v7h1v-8.5l1 8.5h3l1-6.5v6.5h4v-5.5l1 5.5h1v-1l1 1h2l1-3.5v3.5h7v-5.5l1-3v8.5h1v-10l1 10h1v-8.5l1-3.5v12h1v-.5l1 1l1-6v6h1v-13l1 13l1-12.5v12.5h1v-12l1 12h1v-13.5l1 9v4.5h1v-1.5l1 1.5h3l1-1v1h2v-.5l1 .5h1l1-7v7h1v-5l1-8.5v12.5l1 1v-5l1 5l1-10.5v10.5h2v-1.5l1 1.5l1-.5v.5h1v-6l1-.5v5.5l1 1v-.5l1 .5h1l1-12.5v12.5h1v-3l1 3h3v-1l1-2v2.5l3 1v-10l1-2v12h1v-4.5l1 4.5h3l1-1.5v1.5h1v-2.5l1-3.5v6h6v-1l1 1h1l1-1v1h1v-1.5l1 1.5h1l1-6.5v6.5h1v-4l1-5.5v9.5h1v-8l1 8h1l1-3v3l8 .5l1-10v10h7v-3l1 3h4l1-1v1h6v-5l1 5l20 .5l1-5.5v5.5h1v-7.5l1 7.5l1-2v2h1v-.5l1 .5l7 .5l1-3v3h10v-8l1-1v9h9v-3l1-2.5v5.5h1v-.5l1 .5l2 .5l1-2v2h1v-2l1 2h3l1-1.5v1.5h1v-1l1 1h2l1-5.5v5.5h1v-5l1 5h3l2-1v1l10 .5v-12.5l1 5.5v7h3v-2l1 2h13l1-5.5v5.5h1l1-3.5v3.5h5v-4.5l1 4.5h5l1-.5v.5h4v-6l1-6.5v13h14v-4l1 4h1v-1.5l1 1l12 .5l1-.5v.5h11v-2.5l1 2.5l1-3.5v3.5l5 .5v-3l1 3l16-.5l2-.5v.5h12v-5l1 5h2l1-13v13h1v-4.5l1-3.5v8h1v-.5h1v.5h1v-.5l1 .5l1-.5v.5h2v-.5h1v.5h1v-.5l1 .5l1-.5v.5h2v-.5l1 .5l1-.5v.5h1v-.5h1v.5h1v-1h1v1h2v-3.5l1 .5v3h4v-2.5l1 2.5h1v-1l1-.5v1.5h1v-2.5l1 1.5v1h1v-1h1v1h1v-1h1v1h1v-1.5l1 .5v1h1v-1h1v1h1v-.5l1-.5v1h3v-.5h2l1-9v9.5h1v-4l1 4h1v-1h1v1h1v-.5l1-.5v1h2v-1h1v1h1v-1h1v1h1l1-7v7h1v-11l1 10.5l1-.5v1l2-.5v-11l1 11.5h1v-1l1-.5v1.5h1v-1h1v1h1v-1h1v1h6v-7.5l1 7h16l1-12.5v12.5h1v-5l1-4.5v9.5h1v-11l1 11h3l1-1.5v1.5h3v-10l1-3.5v13.5h3v-4.5l1 4.5h6v-16.5l1 16.5l2-.5v-10.5l1 10.5h5l1-1v1h1v-1l1 1l18-.5l1-8.5v8.5h1v-3l1 3l13-.5l1-19v19h1v-18l1 18h4l1-1v1h8v-6l1-13.5v19.5h1v-7l1 6.5l1-2v2.5l1-.5v-12.5l1 12.5h17l1-1v1l1-.5v-20.5l1 7v13.5h12v-2.5l1 2.5h3l1-12.5v12.5h1v-4.5l1 4l1-7.5v8l1-.5v-8l1 4.5v3.5h1v-1l1 1h3l1-7.5v7.5h3v-1l1-.5v1.5l3-.5v-2l1-.5v2.5h5v-4.5l1 2v2.5l1-.5v-15l1-12v27h1v-12.5l1 12.5l1-1v1h1l1-27.5v27.5h1v-6.5l1 6.5l1-.5l1-8.5v8.5l1 .5v-6.5l1 6h4v-.5l1-.5v1h1v-11.5l1 .5v10.5h1l1-11v11h1v-7.5l1-6.5v14l1-3v-21l1 24h1v-13.5l1-14v27h1v-21l1 21l1-1.5v-1l1-1v3l1 .5v-3.5h1v3.5l1-2v-2.5l1-1v3l1 1.5v-5l1-12v16.5l1-3.5v-23h1v26.5h1v-21l1 6.5v9.5l1 4v-13.5l1 2v13.5l1-.5l1-33.5v28.5l1 2v-32l1 18.5v16.5l1 .5v-17l1-11.5v25.5l1-2v-29l1 23v10l1-5.5v-29l1 1v33.5l1 .5v-17.5l1-17.5v24.5l1 11v-17.5l1 .5v16.5h1v-17l1 4v13l1-1.5v-36.5l1 21v17h1v-30.5l1-7v37h1v-16.5l1 .5v16.5h1l1-34.5v28.5l1 4.5v-33l1 16v18.5l1-6.5v-25l1 15v15.5l1 .5v-10l1-7v17.5l1-4v-20.5l1 5v18l1 1v-28.5l1 12.5v16l1-2v-13l1-2.5v18h1v-21l1-2.5v23l1 .5v-23.5l1 .5v23h1v-23.5h1v23.5h1v-23.5l1-.5v24l1-1.5v-23l1-.5v23h1v-23h1v23.5l1-1v-23h1v22l1 2.5v-24l1-11.5v33.5h1v-30.5l1 8v22l1-3.5v-25.5l1 8v21l1 1.5v-22h1v22.5l1 .5v-22.5l1-.5v22.5l1-.5v-22h1v22h1v-22.5l1-.5v22l1-4.5v-20l1-2v16.5l1-3v-14h1v24l1 5.5v-24.5l1 1v23.5l1-.5v-24l1-1v22.5h1v-22h1v22.5l1 .5v-22.5h1v22.5l1 1v-25l1 .5v24.5l1 .5v-23.5h1v23.5h1v-23h1v23h1v-23l1-.5v22.5l1-1.5v-21.5l1 .5v21l1 .5v-21.5l1-8.5v29.5l1-1.5v-24.5l1 3.5v23l1-10.5v-17l1 2.5v19.5l1 4.5v-22l1 1v21.5h1v-22l1-.5v22l1-1v-22l1-9.5v29l1-6.5v-19.5l1 2v14.5l1 7.5v-20l1-.5v22.5l1-4.5v-21l1-2v23.5l1 5v-27l1-3v30.5l1 .5v-29.5l1 3.5v27l1 2.5v-23.5l1-2.5v26l1-3v-25.5l1-1v24.5l1-15.5v-18l1 12.5v21.5l1-1v-20.5l1-.5v20l1 .5v-24.5l1 1.5v26.5l1 1.5v-22h1v21.5h1v-21.5l1-.5v22l1-1v-22l1-1v21.5l1-1v-20.5l1-4.5v26.5l1-4v-27l1 10.5v22h1v-21.5l1-3v22l1-8.5v-16.5l1 2v18l1 2v-18.5l1-5.5v19.5l1-6v-14l1 3.5v23l1 2v-21.5l1 .5v21l1-4.5v-19l1-3v20l1 2.5v-18.5l1 1.5v19.5l1-.5v-19.5h1v19.5l1 1v-20h1v20.5h1v-21l1-.5v20l1-1v-19l1-8.5v27l1-1v-18.5l1-4v19l1-1v-15.5l1-3.5v20.5l1-1.5v-19l1 5v18l1 2v-19.5h1v20.5h1v-20l1-8.5v25l1-3.5v-17.5l1 1v20.5l1 2v-20l1 .5v19.5l1-1v-19l1-1.5v19.5l1-8v-17.5l1-4v20l1 9v-28.5l1 11v19l1-1v-21l1 3v19.5l1-.5v-19l1-4.5v21l1 1v-21.5l1-7v23.5l1 6v-20l1-.5v19.5l1-2v-18l1-9.5v28l1-1.5v-27.5l1 12.5v17.5l1-.5v-17h1v16l1-.5v-15.5l1-8.5v23.5l1-2v-20.5l1 5.5v14.5l1-2v-18l1-1v17l1 3.5v-6l1 6.5v2.5l1 1.5v-1.5l1 2.5l2-.5v-1l1-2.5v2.5l1-2.5l1-19.5v14.5l1-20.5l2-.5h2l1 16.5v-16.5l1 22l1 2v-1.5l1 1.5l1-2v2l1-2.5l1-22.5v16l1-16l3-.5l4-1.5l1 9.5v-9.5l1 11.5v10.5l1 3.5v-3l1 4h1l1-4.5v3.5l1-4v-19.5l3 .5v17l1 6.5v-6l1 8.5l1 1v-.5h1l1-2v2l1-2.5v-4.5l1 .5v4l1 2v-1.5l1 1l1-2.5v2.5l1-3v-7.5l1-14.5v13.5l1-13.5l2-.5l4 2l1-.5v-.5l1-1v1l1-1v-.5l2-.5v15.5l1 4.5v-4l1 4v2l1 1v-1l1 1h1l1-2v1.5l1-1.5l1-11v7.5l1-8.5v-10.5h2l4 2l5-1l1 14.5v-14.5l1 20l1 2.5v-2.5l1 2.5v1.5l1 .5v-.5l1 1l1-.5l1-1.5v1.5l1-1.5v-2l1-3.5v3.5l1-4v-8l1-10v8.5l1-7.5l2 2.5v-.5l1 1l4 .5l3-.5l1-1v.5l1-.5v-1l1-1v1l1-1v-1h1l4 .5l3-.5h2v1l1 1v-1l1 1v.5l1 .5l8-2.5l1 1.5v-1l1 1v1l1 1v-1l1 1v1h1v-.5l2-1v-.5l1-.5v.5l1-1l4-1h4l4 2l8-3h7" stroke="#A668A6" stroke-width="2.6" stroke-dasharray="7 7 5 8 8 6 6 9"/>
<path d="M188.5 726.0l3 1l8-2h1v1l1 1v-1l1 1v1l1 1v-.5l1-1v1.5l1-1.5v-1.5l1-1.5v1.5l1-1.5v-1.5h1v1l1 1v-1l1 1v1l1 1v-1l1 1l7 1l1-.5v.5l1-1v-.5l1-1v1l1-1v-1h5l4-.5l9 1.5l8-1v1l1 .5v-.5l2 2v-.5l1 .5l7-2l5 1l4-1.5l2 .5v10.5l1 6v-5.5l1 8l1 1.5v-1.5l1 1.5l1 .5l1-1v.5l1-.5v-1.5l1-2.5v2.5l1-2.5v-6.5l1-9v8.5l1-9h3l1 1v-1l2 2.5v-1l1 1l3-.5v8.5l1 6.5v-5.5l1 8l1 1v-1l1 1.5l1-.5l1-1.5v1l1-1l1-10v7l1-8v-8l3 .5v7.5l1 9.5v-8.5l1 11.5l1 2v-2l1 2v1h1l2-.5v-1l1-1.5v1.5l1-2l1-12.5v9l1-11v-6l1 .5v13l1 5v-4.5l1 6.5h2l1-5.5v4l1-4.5v-13l1-1v1l1-1v-1h1v14l1 5.5v-5l1 5.5v2.5l1 1v-1l1 .5l1-2v2l1-2v-2.5l1 1v3.5l1 2v-2l1 2v1.5l1 1v-1l1 1l1 .5l2-.5l1-1v1l1-1v-1.5l1-1v1.5l1 1.5v-1.5l1 1.5h1l1-2v1.5l1-1.5v-3l1-3.5v3l1 3v-3.5l1 4.5h1l1-4.5v3.5l1-3.5v-15l1-2v11l1 4v-11.5l1 2v13.5l1 2.5v-14.5l1 .5v15l1-10v-12l1-1.5v25l1 1.5v-17l1 .5v17l1-.5v-17.5l1-.5v16.5l1 3.5v-18.5l1 1v20l1-1v-19l1-9.5v26.5l1-2v-18l1-2.5v12l1 5v-17.5l1 4v19.5l1-9.5v-19.5l1 2.5v19l1-2.5v-14.5l1-5v28.5l1 4.5v-20.5l1 .5v20h1v-20h1v20h1v-20l1-.5v21l1-9v-23.5l1 1v31.5h1v-20h1v20l1-2v-22.5l1-2v18l1 5v-21l1 3.5v19l1 .5v-19l1-1v20l1-6v-19l1-6v27l1-.5v-17.5l1-2v14l1-1.5v-12.5l1 2.5v17.5l1-9.5v-18l1 3v26l1-6v-16l1 4v19l1 .5v-19l1-9.5v28.5l1 .5v-25.5l1 7v21l1 1v-21l1-6v27.5l1-.5v-20.5h1v21h1v-21h1v21l1-8v-21l1 7v19.5l1 1.5v-20.5l1 .5v21l1-1v-20.5l1-2.5v18.5l1-3.5v-18l1-.5v18.5l1 6v-21l1-3.5v17l1-3v-13l1 .5v15l1 3v-18.5l1-3v27l1 2v-20.5h1v20l1-2.5v-18.5l1-2.5v21l1 3.5v-26.5l1 6v20.5h1v-32.5l1 2.5v30h1v-21l1-.5v21.5l1-.5v-22.5l1-6v19.5l1-2v-17l1-2v15l1 9.5v-23l1-4.5v22.5l1 5.5v-31l1 1.5v30l1 3.5v-20.5l1-5.5v21.5l1 2v-19h1v19.5l1-16v-16l1 3.5v27.5h1v-19l1-.5v19.5l1 1.5v-19.5l1-10v31l1-10.5v-15h1v15l1-1v-20l1 7.5v23l1-5v-25.5l1 12v21l1-7v-25.5l1 1v27l1 2v-32l1-1v35.5h1v-21h1v21l1-3.5v-29.5l1 9v24h1v-21l1-1v22l1-2.5v-20.5h1v21l1 2v-22l1-.5v22.5l1-9.5v-26l1 2.5v27.5l1 3v-21h1v21l1-1v-20.5h1v19.5l1 2.5v-21l1 .5v21l1-.5v-21h1v20l1 .5v-20.5l1-5.5v26.5l1 1v-31l1-3v32l1 1.5v-34.5l1 13.5v20.5l1-1.5v-19.5l1 .5v21l1 1v-21h1v19.5l1-1v-19h1v19h1v-19l1-.5v19.5l1-1v-25.5l1-3v26.5l1-.5v-18l1-.5v16.5h1v-16.5h1v17.5l1-1.5v-18l1 5.5v20.5l1 .5v-20.5h1v21l1-.5v-21l1-5v25.5h1v-24l1-5v30l1-2v-25.5l1 6.5v21h1v-21h1v21h1v-21.5l1-1v21l1-3v-24l1-4v16l1 4.5v-22.5l1 6.5v28h1v-23.5l1-2v25.5h1v-21l1-12v27.5l1 4v-26l1 3.5v23.5l1-8v-26l1 4v28l1 .5v-20.5l1 .5v20l1-.5v-24.5l1 .5v21l1 1.5v-19l1 .5v19.5l1 .5v-20.5l1-8.5v27l1-.5v-25.5l1 6.5v20l1 1v-20.5l1 .5v20.5l1 1v-21l1 1v21.5l1-12.5v-20.5l1-.5v33l1-.5v-20.5l1-3v22.5l1-2v-26.5l1 8.5v21.5l1-1v-21h1v20l1-.5v-22.5l1 .5v19.5l1 1v-24.5l1-3.5v27l1 4.5v-28l1 7v21.5h1v-21l1-.5v21.5l1-2v-27l1-4v26l1 5.5v-31.5l1 2.5v27.5l1 1.5v-20.5l1-1v20.5l1-1v-20l1 .5v21.5l1 1.5v-22l1 .5v22h1v-21.5h1v21.5h1v-22l1-.5v19.5h1v-19.5h1v20.5l1 1v-21l1 .5v21.5l1-1v-21l1-11.5v23l1 8v-20.5l1-4.5v25l1-.5v-20l1-8v24.5l1 2.5v-20.5l1-6v28l1 2.5v-26l1 5v21h1v-22l1-6.5v24l1 3.5v-21h1v22h1v-21.5h1v21.5h1v-21.5l1-1v22.5l1-3v-23.5l1-2v16l1 12.5v-23.5l1 1.5v22l1-9v-24l1 9v20l1 2.5v-21.5l1 1v22h1v-21.5h1v21.5h1v-21.5l1-.5v21l1-.5v-20.5h1v20h1v-20l1 .5v19.5h1v-27l1-.5v10l1 16v-24l1 5.5v20l1-.5v-20l1-.5v20l1-1v-19.5h1v19l1-7v-25l1 12.5v20h1v-19.5l1-5.5v21.5l1 2v-22.5l1 3.5v18.5l1-1v-18l1-.5v18l1-1v-17.5l1-1v15.5l1-1.5v-14h1v14h1v-21.5l1 7.5v13.5h1v-14l1-.5v13.5l1-1.5v-12.5l1-1v12.5l1-3.5v-11l1 1.5v9l1 .5v-10l1-.5v9l1-1.5v-8.5l1-1v8l1-2.5v-6.5l1-1v4.5l1-.5v-4l1-1.5v4.5l1-.5v-3.5l1-.5v2.5l1-1v-2l1-.5v1.5l1-.5v-1l1-.5v1l1-1l6-.5l5 .5l7-.5l48 .5l12 2.5l1 2v-2l1 1v2l1 2v-2.5l1 .5v3.5h1v-4.5l1 2v7.5h1v-8.5l1 4.5v6.5l1 2v-10l1-.5v9l1 3v-7.5l1-1v10.5l1-4.5v-9l1 7.5v12l1 .5v-12l1-.5v13l1-1.5v-12l1-4v14l1 2.5v-19.5l1 .5v23l1-2.5v-21l1 9.5v16l1-2v-15.5l1-6.5v24.5l1-25l1 7v18.5l1 1v-16.5l1-.5v16.5l1-6v-18.5l1 5.5v18.5l1 .5v-18l1-1v18l1-1v-15l1-.5v14.5h1v-14.5h1v15h1v-15h1v15.5h1v-15.5h1v16l1 1.5v-21.5l1-1.5v23.5l1-2v-21.5l1 5v14.5l1 .5v-14.5l1 .5v14.5h1v-14.5h1v14.5l1 2v-16l1 1v16h1v-16h1v16h1v-16h1v16l1-.5v-8l1 2v6h1v-4.5l1-3.5v7.5l1-7.5v-18l1 14.5v9.5l1 1v-14l1 .5v13.5l1 1v-9.5l1-5v15l1 .5v-15h1v15l1 .5v-5.5l1-10v15.5h1v-15.5l1 .5v15.5l1 .5v-7.5l1-8.5v16h1v-12.5l1 1.5v11.5h1v-11.5l1 1.5v10.5h1v-9l1 3.5v6h1v-8.5l1 1.5v7l1 .5v-6.5l1 3v4h1v-5.5l1 1v4.5l1 .5v-4l1 .5v4h1v-3.5l1 1v2.5l1 .5v-2.5h1v3h1v-2l1 .5v1.5l1 .5v-1h1v1.5h1v-1l1 1v.5l1 .5v-1l1 .5v1l3 .5v-3l1 1v2.5h1v-6.5l1 7h1l1-6v6.5h1v-8l1 8h3l1-6v6l4 .5v-5.5l1 5.5h1v-1l1 1h2l1-3.5v3.5l7 .5v-5.5l1-3v8.5l1-.5v-9.5l1 10h1v-8.5l1-3.5v12h1v-.5l1 .5l1-5.5v5.5h1v-12.5l1 12.5l1-12v12l1 .5v-11.5l1 11.5h1v-13l1 8.5v4.5h1v-1.5l1 1.5h3l1-1v1h2v-.5l1 .5l1 .5l1-7v7h1v-5l1-8.5v12.5l1 1v-5l1 5l1-10.5v10.5h1v-.5l1-1v1.5h2l1-6v6l1-1v-5.5l1 7h3v-12.5l1 12.5l1-.5l3 .5v-1l1-2v2.5l3 .5v-9.5l1-2v11.5l1 .5v-4.5l1 4.5h3l1-1.5v1.5h1v-2.5l1-3.5v6l6 .5v-1l1 1h1l1-1v1h1v-2l1 2h1l1-7v7h1v-4l1-5.5v9.5h1v-8l1 8h1l1-3v3l8 .5l1-10v10l7 .5v-3l1 2.5l4 .5l1-1v1h6v-5l1 5.5l20 .5l1-6v6h1v-8l1 8l1-2v2h1v-.5l1 .5l7 .5l1-3v3l10 .5v-8.5l1-1.5v10h9v-3.5l1-2v5.5h1v-1l1 1l2 .5l1-2v2h1v-2.5l1 2.5h3l1-1.5v1.5h1v-1l1 1h2l1-5.5v5.5l1 .5v-5.5l1 5.5h3l2-1v1l10 .5v-13l1 5.5v7.5h3v-2l1 2h13l1-6v6h1l1-3.5v3.5h5v-4.5l1 4.5h5l1-.5v.5l4 .5v-7l1-6.5v13.5h14v-4l1 4h1v-1.5l1 1l12 .5l1-.5v.5h11v-2.5l1 2.5l1-3.5v3.5l5 .5v-3l1 3l16-.5l2-.5v1l12-.5v-5l1 5h2l1-14v14h1v-5l1-3v8h1v-.5h1v.5h1v-.5l1 .5l1-.5v.5h1v-.5h1v.5h1v-.5h1v.5h2v-1l1 1l1-.5v.5h1v-.5h1v.5h1v-.5h1v.5h1v-1h1v1h2v-4l1 .5v3.5h4v-3l1 3h1v-1l1-.5v1.5h1v-2.5l1 1.5v1h1v-1h1v1h1v-1l1-.5v1.5h1v-1.5l1 .5v1h1v-1h1v1h1v-.5l1-.5v1h3v-.5l1 .5l1-.5v.5h1v-10l1 6v4h1v-1h1v1h1v-1l1 .5v.5h1v-1l1 .5v.5h1v-1h1v1h1v-1h1v1h1l1-7.5v7.5h1v-11.5l1 11l1-.5v1l2-.5v-11.5l1 12h1v-1l1-.5v1.5h1v-1h1v1h1v-1h1v1h6v-8l1 7.5h16l1-13v13h1v-5.5l1-4.5v10h1v-11.5l1 11.5h3l1-1.5v1.5h3v-10.5l1-3.5v14h3v-5l1 5h6v-17.5l1 17.5l2-.5v-11l1 11h5l1-1v1h1v-1l1 1l18-.5l1-9v9h1v-3.5l1 3.5l13-.5l1-20v20h1v-18.5l1 18.5h4l1-1v1h8v-6.5l1-14v20.5h1v-7l1 7l1-2.5v2.5l1-.5v-13l1 13h17l1-1v1l1-.5v-22l1 8v14h12v-3l1 3h3l1-13.5v13.5h1v-4.5l1 4l1-8v8.5l1-.5v-8.5l1 4.5v4h1v-1l1 1h3l1-8v8h3v-1l1-.5v1.5l3-.5v-2.5h1v2.5l5-.5v-4.5l1 2v2.5l1-.5v-15.5l1-12.5v28h1v-13.5l1 13.5l1-1v1l1-.5l1-28.5v28.5h1v-6.5l1 6.5l1-.5l1-8.5v8.5h1v-6.5l1 6.5l4-.5v-.5l1-.5v1h1v-12l1 .5v11h1l1-11.5v11.5l1-.5v-7.5l1-6.5v14l1-3v-21.5l1 24.5h1v-14l1-14v27.5h1v-21.5l1 21.5l1-2v-1l1-1v3l1 .5v-3.5h1v3.5l1-2v-2.5l1-1v2.5l1 2v-5l1-12v16.5l1-3.5v-23h1v26.5h1v-21l1 6.5v9.5l1 4v-13.5l1 2v13.5l1-1l1-33v28.5l1 1.5v-31.5l1 18.5v16.5l1 .5v-17l1-12v26l1-2v-29l1 22.5v10.5l1-6v-28.5l1 1v33l1 1v-17.5l1-17.5v24.5l1 10.5v-17l1 .5v16.5l1-.5v-16.5l1 4v13l1-1.5v-36.5l1 20.5v17l1 .5v-30.5l1-7v36.5l1 .5v-16.5h1v17h1l1-34.5v28l1 5v-33l1 15.5v18.5l1-6.5v-24.5l1 14.5v16h1v-10l1-6.5v17l1-4v-20.5l1 5v18l1 1v-28l1 12.5v15.5l1-1.5v-13.5l1-2.5v18h1v-20.5l1-2.5v22.5h1v-22.5h1v23h1v-23l1-.5v23.5h1v-23.5h1v23.5l1-2v-22.5l1-.5v23h1v-22.5h1v23l1-1v-22.5l1-.5v22l1 2v-23l1-12v33.5h1v-30l1 7.5v22l1-4v-24.5l1 7.5v21l1 1.5v-22l1 .5v22h1v-22l1-.5v22l1-.5v-21.5h1v21.5l1 .5v-22l1-1v22l1-5v-19l1-2v16l1-3v-14h1v24l1 5v-24l1 1v23l1-.5v-23.5l1-1v22h1v-21.5h1v22l1 .5v-22l1 .5v21.5l1 1v-24.5l1 1v23.5l1 .5v-23h1v23h1v-22.5h1v22.5h1v-22.5l1-.5v22l1-1.5v-21l1 .5v20.5l1 .5v-21l1-8v28.5l1-1.5v-24l1 3.5v22.5l1-10v-17l1 3v18.5l1 4.5v-21.5l1 1v21h1v-21.5l1-.5v21.5l1-1v-21.5l1-9v28l1-6.5v-18.5l1 1.5v14l1 7.5v-19.5l1-.5v22l1-4.5v-20.5l1-1.5v22.5l1 5v-26l1-3v29l1 .5v-28.5l1 3.5v26l1 3v-23l1-2.5v25l1-3v-24.5l1-.5v23l1-14.5v-17.5l1 12v20.5l1-1v-19.5l1-.5v19l1 1v-24l1 1.5v25.5l1 1v-20.5h1v20.5h1v-21l1-.5v21.5l1-1.5v-20.5l1-1v20.5l1-1v-20l1-4v25.5l1-4v-25.5l1 10v20.5h1v-20.5l1-2.5v21l1-8v-16l1 2v16.5l1 2.5v-17.5l1-5.5v18.5l1-6v-13l1 3.5v21.5l1 2v-20h1v20l1-4v-18.5l1-2.5v19l1 2v-17l1 1v18h1v-18l1-.5v18.5l1 1v-19h1v19h1v-19l1-.5v18.5l1-1v-18l1-8v25.5l1-1v-17l1-4v17.5l1-.5v-15l1-3v19l1-1v-18l1 4.5v17l1 1.5v-18h1v19h1v-19l1-7.5v23l1-3v-16.5l1 1v19l1 2v-18.5l1 .5v18l1-1v-18l1-1v18l1-7.5v-16l1-3.5v18l1 8.5v-26l1 10v17.5l1-1v-19l1 2.5v17.5h1v-17.5l1-4.5v19.5l1 1v-19.5l1-7v21.5l1 5.5v-18l1-1v18.5l1-2v-16.5l1-8.5v25l1-1v-25l1 11v16l1-.5v-15.5h1v14.5h1v-14l1-8v21.5l1-2v-18.5l1 5v13l1-2v-16l1-1v15l1 3.5v-5.5l1 5.5v2.5l1 1.5v-1l1 1.5h1l1-1v1l1-1v-2l1-4.5v4l1-4v-13.5l1-5l3-1h2v15l1 5.5v-5l1 6.5h2l1-7.5v5.5l1-6v-14.5l4-.5l4-1.5h1v8.5l1 11.5v-10l1 13l1 1v-.5l1-.5v1l1-1l1-21v17.5l1-17.5l1 .5l1 15v-15l1 21l1 2.5v-2.5l1 3l2-.5l1-6v4h1v-3.5l1 5l2-.5l1-9v6.5l1-7.5v-12l3-.5l4 1.5l1-.5v.5l1-1v-.5l1-.5v.5l1-1l1 14v-14.5l1 18l1 2v-1.5l1 1.5v1l1 .5l2-.5l1-4.5v3l1-3v-7l1-10.5v9.5l1-9.5l1-.5l4 2.5l4-1h2v13l1 5v-4.5l1 4.5v2.5l1 1v-1l1 1.5l1 .5l1-.5l1-1v1l1-1.5v-1.5l1-3.5v3l1-3v-8l1-8.5v7.5l1-6.5l2 2.5v-1l1 1l4 .5l3-.5l1-.5v.5l1-.5v-1l1-1v1l1-1v-1h1l4 .5l3-.5h2v1l1 .5v-.5l1 .5v1l1 .5l8-2.5l1 1v-1l1 1.5v1l1 1v-1l1 1v1h1v-1l2-.5v-.5l1-1v1l1-1l4-1h4l4 1.5l8-2.5h7" stroke="#922A94" stroke-width="2.6"/>
</g>
<g clip-path="url(#c2)" fill="none" stroke-linejoin="round" stroke-linecap="butt">
<path d="M188.5 1358.5l3 1l8-2h1v1l1 1.5v-1l1 1v1l1 1v-1l1-1v1.5l1-1.5v-1.5l1-1.5v1.5l1-1.5v-1.5h1v1l1 1v-1l1 1v1l1 1v-1l1 1l7 1l1-.5v.5l1-.5v-1l1-1v1l1-1v-.5h5l4-1l9 1.5l8-1v1l1 .5v-.5l2 2.5v-1l1 .5l7-2l5 1l4-1.5l2 .5v11l1 6.5v-6l1 8.5l1 1.5v-1.5l1 1.5v3.5l1 .5l1-4.5v3.5l2-7.5v2.5l1-3v-6.5l1-9.5v9l1-9l3-.5l1 1v-1l2 2.5v-.5l1 1l3-1v9l1 7v-6l1 8.5l1 3v-3l1 3.5v2.5l1-.5v-3.5l1-2.5v2l1-2l1-10.5v7.5l1-8.5v-8.5l3 .5v8l1 10v-9l1 9l1 21.5v-16.5l1 17v12l1 5v-4.5l1-.5v5l1-5.5v-12.5l1-17.5v16.5l1-21l1-9.5v9.5l1-11.5v-6h1v13.5l1 5.5v-5l1 7h2l1-6v4.5l1-5v-13.5l1-1v1l1-1v-.5l1-.5v14.5l1 6v-5.5l1 6v11.5l1 8.5v-7.5l1 3v5l1-5.5v-13.5l1-3.5l1 14.5v-13l1 14.5v27.5l1 29v-27.5l1 29v24.5l1 16.5v-15.5l1 22h1l1-22v15.5l1-17v-23.5l1-29v27.5l1-17.5v-23l1 25v26.5l1 9.5v-8.5l1-6v14l1-15v-33l1-37v35l1-43l1 3v32l1 16.5v-14.5l1-.5v15l1-16.5v-32l1-15.5v15.5l1-6v-12l1 4v12l1 19v-29l1 2v65l1 19.5v-84.5l1-7l1 90.5v-92.5l1 10.5v95h1v-95l1-.5v59.5l1-22v-38.5l1 2v75l1 42.5v-116.5l1-.5v99.5l1-37.5v-71.5l1 7v35.5l1-25.5v-13h1l1 75v-71l1-10.5v20.5l1 2.5v-20.5l1 2.5l1 58v-63l1 13v148.5l1 4.5v-152.5h1v152.5l1 3v-155.5h1v158l1 .5v-159l1-12l1 176v-175l1 12v166l1-.5v-165.5l1-5v114.5l1-116.5l1 2v75.5l1 35.5v-107l1 .5v109.5l1 4v-114l1-5.5v25.5l1 18.5v-50.5l1 9v38l1-24.5v-15h1v13.5l1 26v-37l1-11l1 70v-66.5l1 4l1 73v-68l1 .5v77l1 5.5v-93l1 4v95.5l1 51.5v-139.5l1 1v176.5l1 14v-197l1 7v186l1 18v-204h1v198l1 5.5v-203.5l1-8.5l1 132v-124.5l1 .5v173l1 28v-200.5l1-.5v176l1-111.5v-67.5l1-3v24.5l1 .5v-26l1 4.5v119.5l1-123.5l1 1v14l1 3v-16.5l1-.5l1 148v-151.5l1 9.5v217.5l1-34v-183.5l1-1.5v119.5l1-1.5v-120.5l1-2v241l1 7.5v-242l1-13v262l1-.5v-258.5l1 9.5v249.5l1-6v-244l1-1.5v226l1-232.5l1 .5v18.5l1-4.5v-16.5l1 2v74.5l1-54.5v-25l1-3v96.5l1 11v-106l1 14v197l1-126.5v-76.5l1 4.5v118l1 11.5v-129l1-14l1 125.5v-121.5l1 9.5v112l1 8v-120.5l1 1.5v169l1 48v-228l1 6v16h1v-16l1-7l1 207.5v-199l1-8.5l1 322.5v-309l1-12.5v76l1 66v-141l1-3v203l1 117v-321l1 15.5v322l1 3.5v-325.5l1-13v170.5l1 164.5v-325.5l1 3.5v330.5l1-5.5v-326l1-1.5v203.5l1 26v-229l1 1v316.5l1 19.5v-336.5l1-14v50.5l1 75.5v-123.5l1 10.5v205l1 17.5v-222.5l1-.5v178.5l1-33v-146l1 1.5v230.5l1 41v-271l1-.5v228l1-41v-187.5l1 .5v210l1 28.5v-244.5l1-4v293l1-89.5v-206.5l1-1v279l1-28.5v-236.5l1-.5v173.5l1 87v-259.5l1 1v321l1-66.5v-255l1-.5v190l1 14v-203.5h1v194.5h1v-195l1-8v176.5l1-59.5v-120l1 9v95l1-35.5v-60.5h1v60l1 20.5v-80.5l1-2.5l1 327.5v-321h1v352.5l1 26v-378l1-.5v345l1-30.5v-320l1 1.5v337.5l1 55.5v-398.5l1 3v276l1 126.5v-396h1v384l1 14.5v-398.5h1v397l1-93v-305.5l1-6v166l1-170.5l1-2.5l1 411.5v-404l1 5v393.5l1 12.5v-408.5l1 5v389l1-261.5v-140.5l1 6v315.5l1 54.5v-366l1-11.5l1 280v-275.5l1 8.5v292.5l1-1v-291l1-5.5v271l1-127.5v-143l1 4v195l1 42.5v-237.5h1v263l1-81.5v-191l1 1v165.5l1 41v-199h1v248l1 25v-272.5l1 1v336l1 77.5v-412.5l1-12.5l1 388.5v-389l1 13v352l1-82.5v-272.5l1-7v204.5l1 171.5v-366.5l1-.5v319.5l1-59.5v-260.5l1-2.5v222l1-88v-134l1-4v164l1-20.5v-147.5l1 4v331l1 33.5v-357l1 .5v360l1-15.5v-345l1-8.5v241.5l1-160v-86l1 .5v268l1-59v-206.5l1 9v271.5l1-53.5v-218.5l1-.5v182l1 70v-251.5l1 1v331l1 52v-382.5l1 .5v365l1-3.5v-361.5l1-.5v379.5l1-165.5v-214.5h1v207l1 33v-240l1 .5v307l1 58v-364.5l1-.5v306l1-318.5l1 11v227l1-6.5v-225l1 5v205.5l1-122.5v-91.5l1 6.5v145.5l1 68v-219.5l1 4.5v328.5l1-1.5v-321.5l1-1v314l1-196.5v-125l1 7.5v243.5l1 42v-285.5l1 .5v274.5l1 4v-278.5h1v277l1-8v-270l1-4.5v158.5l1-161l1 6v255.5l1-1.5v-252.5l1-12v44l1 85v-119.5l1 1.5v182.5l1 70v-251.5l1 .5v246l1 3.5v-249.5l1-.5v244.5l1-49.5v-195l1-.5v183l1-21.5v-161h1v152.5l1 4v-156.5l1-7.5v160l1-161l1 2.5v121l1 42v-157l1-.5v158.5l1-5.5v-153.5l1-.5v135l1-3v-132.5l1-13.5l1 180.5v-167.5l1 1v166l1-89v-83l1 1v141.5l1 .5v-138.5h1v128.5l1 7.5v-136.5l1-1v131l1-65v-67h1v58.5l1 12.5v-71l1-8v95l1 2v-89.5h1v98l1-8.5v-90.5h1v78.5l1-9.5v-70l1-2.5v21l1 14v-33.5h1v41.5l1-5v-37.5l1-1v32.5l1-7v-26.5l1-1v10.5l1-6.5v-5h1v4.5l1-1.5v-5l1 .5v4l1-1.5v-3l1-.5v2l1-1v-1.5h1v1l1-.5v-1l7-.5l5 .5l7-.5l47 .5l14 2.5l1 20v-19l1 1.5v26l1-.5v-24.5l1-1.5l1 72.5v-70.5l1-.5v56l1 29v-80.5l1-1.5v103l1-104l1 5v52l1 13v-66l1-3l1 191v-183l1 .5v184.5l1-12.5v-172.5l1-.5v89.5l1-55.5v-38.5l1-3.5v79.5l1 153.5v-232l1-.5v89l1 167v-245.5l1-2v146l1 96.5v-249.5l1-.5l1 262v-254.5l1 3.5v284l1-12v-272.5l1-9l1 238v-231.5l1 1v261.5l1-65v-197.5l1 1.5v157l1-35.5v-121.5l1-.5v108.5l1 13.5v-121.5h1v131.5l1 17v-148.5h1v151l1 19v-170l1-5v253l1 36.5v-290.5h1v167l1-66v-95.5h1v105l1 25.5v-130l1 .5v128.5l1-2.5v-126h1v211l1 64v-273.5h1v259l1 1v-260h1v266l1 5v-271l1 12v210.5l1-9.5v-181.5l1 29.5v180l1-28.5v-198.5l1-26l1 167.5v-151l1-4v124.5l1 47.5v-171.5l1 5.5v256l1-30.5v-231l1 .5v203l1 94v-297l1 74.5v246l1-48.5v-272l1 .5v281l1 70v-351l1 30v332.5l1 7v-369l1 3v365l1 26v-389h1v358.5l1 39v-394l1 17.5v379.5l1-49v-257.5l1-62.5v408.5l1-15v-374l1 30.5v357l1-8.5v-240.5l1-73v356.5l1-8.5v-374.5l1 100.5v241l1 41.5v-265l1 6.5v299l1-2.5v-359l1 84.5v219.5l1 61.5v-264.5l1-70.5v318.5l1-74v-192.5l1 27v237.5l1 33.5v-331l1 6.5v313.5l1 8.5v-269.5l1-10v278l1 8.5v-260l1 81.5v165.5l1-22v-241l1-86.5v365.5l1-15v-278.5l1-144.5v323l1 117.5v-277.5l1 8.5v264.5l1-6.5v-448l1-30.5v490l1-.5v-275l1-10.5v258l1 28.5v-283.5l1 151v132.5l1-32.5v-389l1 156v265.5l1-4v-283l1 19.5v267.5l1-65.5v-323l1 116v209.5l1 63.5v-267l1-4.5v265l1 6v-269.5l1-6.5v250.5l1 24v-387l1 99.5v288.5l1 1.5v-280l1 12.5v266.5l1-35.5v-242.5l1 2.5v276l1 .5v-279.5l1-139v206.5l1 203v-472.5l1-16v429.5l1 10.5v-218l1-216v482l1-84v-431.5l1 249v220.5l1 55v-249.5l1-183.5v434l1-37v-491.5l1 269v258.5l1 1v-525.5l1 7.5v472.5l1 30.5v-256.5l1-260v527.5l1 1v-354l1 90v264.5l1 3.5v-251.5l1-11.5v259.5l1-.5v-262l1 143.5v122.5l1-3v-137.5l1 19.5v120.5l1 .5v-130.5l1-62.5v193h1l1-440v440l1-2v-375.5l1-152.5v389.5l1 140v-355l1 355.5l1-10.5v-495l1 505l1-2.5v-160.5l1 163h1l1-403.5v402l1-112v-311l1 424.5l1-.5v-60l1 3v55l1-5.5v-515.5l1 253.5v269.5l1-5v-64.5l1-1v70.5l1-1.5v-73l1-46v120.5l1-76.5v-188l1 264.5l1-.5l1-495.5v491l1-4v-509.5l1 183.5v334.5h1v-15l1-13v24l1 4l1-30.5v27.5l1 3v-149.5l1-86v234.5l1 1v-401l1 401l1-1v-21.5l1 22.5l1-.5v-13l1-4.5v17l1-4v-76l1 49v31.5l1-.5l1-106v106.5l1-7v-160l1 167h1l1-426.5v423l1 3v-318.5l1-176v494.5l1-1v-466l1 467h1l1-270.5v270l1 .5v-34l1 34h1v-20.5l1 13.5v6.5h1v-8.5l1-15.5v24h1l1-245.5v245.5l1-1v-492.5l1 492h1v-18.5l1 2v16l1-.5v-17l1 11v6l1-.5l1-232v227.5l1 3v-34.5l1 15.5v19l1-.5v-16.5l1 2v14h1l1-98v97.5l1-.5v-4l1-5.5v9h1v-17l1-2v18.5l1-.5l1-353.5v352.5h1v-7l1-2.5v9.5l1-.5v-18.5l1-1.5v19h1v-9l1-9.5v18l1-.5v-11l1 1v9.5h1v-13l1 1v11.5l1-.5v-11.5l1 7.5v4.5h1v-15.5l1-.5v15.5l1 .5v-17.5l1-.5v18l1-.5v-9l1 .5v8.5l1-.5v-17l1 8.5v9l1-.5l1-377.5v378l1-3v-431.5l1 434.5l1-1.5v-175l1 104.5v72l1-.5v-11.5l1-5v17h1v-17l1 1.5v15l1 .5v-5.5l1-4.5v10h1v-15.5l1 2.5v13h1v-229.5l1 229h1v-6.5l1-8v15l1-.5l1-13v13h1v-6l1-4v10h1v-15.5l1 4.5v11h1v-434l1-29.5v463l1 .5v-12l1 12h1v-7l1 7h1v-11l1 2v9h1v-10l1 2.5v7.5h1v-264l1-97v340.5l1 20v-84.5l1 84.5h1v-9.5l1 .5v9l1-3.5v-152.5l1-13v169h1v-12.5l1 6v6.5h1v-11.5l1 4v7.5l1-2v-121l1 38.5v84.5h1v-12.5l1 3v9l1 .5l1-360.5v359.5l1 1v-336.5l1 336.5h1v-10.5l1 1.5v9l1-.5l1-53v53l1-1v-99.5l1 100.5h1v-22h1v22h1v-32.5l1 2.5v29.5l1 .5v-36l1-2.5v37l1 1.5v-32l1-15.5v42.5l1 5v-500.5l1 90.5v401l1 7.5v-46.5l1-3v50.5l1-2v-161l1 104.5v54h1v-60l1 6v53h1v-69.5l1-7.5v79l1-1v-80l1-6v84l1-2v-80l1 5v74.5l1 .5v-91.5l1-12v101l1 5v-89l1 2.5v86l1-1.5l1-373.5v371.5h1v-107.5l1-168v271l1 7v-66l1 2v62.5l1-.5v-51l1 1.5v49.5l1-1v-314.5l1 314.5h1v-41.5l1 12.5v28.5l1-.5v-25.5l1 8v15l1 1.5l1-71.5v71.5l1-.5v-10l1 9.5h1l1-364v363.5l1-1v-487l1 485.5l1 .5v-20.5l1-8.5v29l1-1v-36l1-9.5v45.5l1-.5v-54l1-6v59h1v-67l1-5v71.5l1-.5v-79l1 4v74.5l1-4v-72l1-.5v75l1-5v-289l1 164.5v115.5l1 7.5v-120l1 35.5v88.5l1-5v-104l1 25v81.5h1v-86l1 4v84h1v-83l1 7.5v72.5l1-.5v-76l1 9.5v68.5l1-6v-53l1 3.5v51l1 4.5v-48l1-8v52l1-4.5v-49.5l1 17v41h1v-31.5l1 7v24.5h1v-15.5l1 2v12.5l1 1v-10h1v10h1l1-10.5v10.5h1l1-203.5v200l1 3l1-251.5v252h1v-16l1 6v9.5h1v-18.5l1 .5v17l1-3v-192.5l1 195.5l1-5.5v-20l1-6.5v31.5h1v-29l1-5.5v34h1v-32l1-13v43.5l1 1v-43.5l1 4v33.5l1 4.5v-48.5l1-1.5v50l1-3v-49.5l1-3.5v52l1 .5v-49l1-19v70.5l1 .5v-80l1 26v52l1 1v-79.5l1-9.5v88.5l1-4v-57.5l1-1v62.5l1-2v-77.5l1-7.5v82l1-1v-86.5l1 15v75.5l1-9v-87l1-3v97.5l1-1v-87.5l1-5v94.5l1-3l1-315v309l1 2v-110l1 10.5v103.5l1 1.5l1-472.5v432l1 35v-293.5l1-99v356.5l1 41v-125.5l1-7v132l1-1v-124.5l1 16v104l1 5v-141l1 22v118.5l1-9.5v-130.5l1-2.5v126.5l1 15.5v-133.5l1 22.5v102.5l1 3v-159l1 44v110l1 5v-152l1 39v114h1v-131.5l1 6.5v127.5l1-1.5v-144l1-28v171.5l1-5.5v-172.5l1 60.5v118.5l1-.5v-270.5l1 8.5v257.5h1v-7l1-2.5v13l1-1.5l1-198v190.5l1 8v-162.5l1-17.5v163l1 17v-215l1-39v247l1-3.5v-188.5l1-4.5v190.5l1 5v-168l1-4v178l1-7.5v-205l1-11.5v211.5l1 9.5v-200l1 37.5v164.5l1-1v-152.5l1 21.5v132l1-8v-137.5l1 39v101l1 3v-102.5l1-28.5v132.5l1-9.5v-73l1-33v113l1-11v-413.5l1 156.5v267.5l1-.5v-127.5l1-19.5v146l1 3v-148.5l1 26v122l1-7.5v-128.5l1 9.5v124l1 .5v-129l1-27v148l1 3v-145.5l1-13v161.5l1 1.5v-143l1-238v378l1 2v-440l1 436l1 3.5v-156l1 52.5v98l1-11.5v-427.5l1 284.5v150l1 2v-122.5l1-63v193.5l1-9.5v-137.5l1 23.5v121.5l1 .5v-115.5l1-23.5v137.5l1-7.5v-73.5l1-20.5v87l1 3.5v-93.5l1 4.5v97.5l1 3.5l1-379.5v369l1-.5v-55l1-13v75l1 2.5v-50.5l1-5.5v47l1 7.5v-48l1-9.5v45.5l1 13v-55.5l1 17.5v33l1 4.5v-36l1 8v25l1 2.5v-24l1-8.5v31.5h1v-18.5l1-1.5v20l1-1.5v-16.5l1 5.5v12.5l1-.5l1-445.5v445l1 1v-301.5l1-109.5v410.5l1-13.5v-418l1 431l1 1v-11.5l1 5v3.5l1 1l1-107.5v107.5l1 .5l1-18.5v18l1-5v-414.5l1-30v446.5l1 2v-18l1 11v8.5l1-1v-280.5l1 164.5v117l1-.5v-12l1-3v12.5l1 2.5v-27l1 6.5v20.5l1-5l1-455v456l1 4v-134l1 134l1-13.5v-416l1 429.5l1-.5v-12l1-14.5v24l1-6v-16.5l1 4v20.5l1 .5l1-90v80.5l1-2.5v-73.5l1 48.5v36h1v-23l1-7v30.5l1-.5v-42.5l1 13v28l1-1v-45.5l1 13.5v34l1 .5v-33.5l1-3v32.5l1 3.5v-49l1 4.5v39l1 5v-35h1v30.5l1 5v-34.5l1 7v27.5l1-4v-42.5l1 17v29.5l1-9v-23.5l1 13.5v16.5l1-2v-395l1 173.5v218l1 6v-31l1 8.5v22.5l1-3.5v-44l1 8v36.5l1-9.5v-19.5l1-40v68.5l1 1v-45.5l1 22.5v22l1-10.5v-32.5l1 4v38l1-2v-38.5l1-6.5v47l1-12v-29.5h1v35.5l1-16v-433l1 1v449l1 1.5v-31l1-28.5v51l1 5l1-61v63.5l1 1l1-122.5v115l1-3v-25.5l1 .5v28l1 4.5v-38l1-18.5v49l1 7v-48l1-3v37l1 9l1-307.5v269.5l1 21.5v-427l1 106.5v332.5l1-3l1-142v143.5l1-27v-395l1 419.5l1 4.5v-35.5l1-13v36l1 6v-33.5l1 13.5v32l1-10.5v-30l1 5v30.5l1-16v-28.5l1-25.5v63.5l1 9v-77.5l1 43v35l1-9v-80l1 87l1-1.5v-73.5l1 30.5v44l1-9.5v-27l1-26.5v49.5l1 12v-46.5l1-51v98l1-78v-363.5l1 11v406l1 20.5v-64.5l1-12v79l1-2v-70l1 25v46.5l1-.5v-52.5l1 8v45.5l1-4.5v-50.5l1-12.5v66.5l1-4v-65.5l1-2v70.5l1-1.5l1-215v197l1 18.5v-45l1-.5v40l1 2v-79.5l1 26v52l1-16.5v-399.5l1 161.5v247l1 5l1-356v353l1-11v-349.5l1 132.5v215.5l1 16v-89.5l1 3v85l1-23.5v-59.5l1 27.5v41l1-8l1-333v331.5l1 25.5v-82.5l1-4.5v82.5l1-32v-51l1-40v123.5l1 .5v-86.5l1-1.5v68l1-16.5v-150.5l1-29v203.5l1-9.5v-101l1 19.5v98l1 3.5v-106.5l1 12v74.5l1 10.5v-247.5l1 100v127.5l1-10.5v-380l1-11.5v376.5l1 36v-394.5l1 399.5l1-21v-70l1-159v259.5l1-44v-383.5l1 93v292l1 43.5v-76.5l1-58v105l1-47.5v-298.5l1 43v329l1-10v-143l1 57v52l1 7v-60l1-22v122l1-9v-110.5l1-31.5v148l1-8v-393l1 5v348l1 3.5l1-354.5v376.5l1-95v-242l1-52.5v336l1-180v-166.5l1 250v167l1-41v-365.5l1-14v352.5l1 23.5v-369.5l1 251v128l1-98v-105l1-68v246.5l1 23.5v-211l1-9v235l1-165v-77.5l1-27.5v102l1 52v-196.5l1-77.5v273.5l1-113v-170.5h1v279.5l1-30v-244.5l1 7v109.5l1 71.5v-181l1 2v336l1-70v-239.5l1-47v130l1 59v-190.5l1 18.5v336l1 21v-357l1-12v141.5l1 13.5v-160.5l1 24v267l1-176v-116l1 1v324.5l1 19.5v-327.5l1-18l1 370.5v-352l1 .5v337.5l1-64v-274l1 4v308l1-69v-264l1 21v317l1-9v-321.5l1-7v307l1 6v-292.5l1 .5v297l1-14v-209.5l1-92v86l1 141.5v-227.5l1 16v304l1-316.5l1 15v242.5l1-2v-220.5l1-21v288l1-150v-145.5l1 5.5v231.5l1 42.5v-283.5l1 12.5v270.5l1-79.5v-190l1-2.5v287l1 8v-298l1-2.5v275.5l1 7v-282.5h1v298.5l1-7.5v-291h1v298.5l1-3v-296h1v298l1-75.5v-223.5h1v207.5l1 11v-218.5h1v235.5l1-37v-199h1v163.5l1 89v-252l1-12v191.5l1 5.5v-194l1 8v162l1-87.5v-81l1 7.5v168.5l1 48v-215.5h1v244l1 7v-250.5l1-.5v231l1-23v-208.5h1v212.5l1 9v-221.5l1-1v183.5l1-115.5v-70l1-2v16.5l1-3v-14.5h1v109.5l1 179v-283l1 1v291.5l1-28.5v-264.5l1-.5v165.5l1-.5v-165l1 .5v179.5l1 22v-201.5l1 .5v205l1 35v-241.5l1 .5v255l1 4.5v-258h1v271l1 5.5v-276.5l1 .5v274.5l1 2v-276.5l1-.5v230.5l1-67v-164h1v162.5l1 29v-191l1-9v174.5l1-34.5v-136l1 3v183.5l1-188l1 3v61.5l1 103v-163l1 1.5v175l1 3v-178.5l1-.5v159.5l1-25.5v-135l1-10v85.5l1-82l1 2l1 50v-48l1-.5v79.5l1-55v-28l1-1.5l1 106.5v-105.5l1-3v122l1 22.5v-143l1 3.5v174l1 105.5v-273l1-2.5v277l1-113.5v-166.5l1-.5v115.5l1-125l1 12.5v126.5l1-20.5v-106h1v83.5l1 13.5v-101.5l1 1.5v204l1 56v-254h1v249.5l1 1.5v-251l1-.5v253.5l1-53.5v-201l1-1v154l1-17v-137l1-4.5v181l1-95.5v-90l1 10.5v234l1 2.5v-236l1-3v152l1-155.5l1 2.5v46.5l1 40v-85l1-5.5v27l1-14v-13.5l1 3.5v127.5l1 74.5v-198.5l1 .5v204l1-125v-82l1-2.5v48l1 39v-83l1 1v143.5l1-5.5v-138h1v143.5l1 36.5v-180h1v187.5l1-1v-186.5l1-.5v148.5l1-30v-119l1-8.5v116l1-18v-90l1-4v40.5l1-7.5v-31l1-3v44l1-9.5v-35l1 5v88l1 42v-130l1 .5v160.5l1-.5v-160l1-7.5v82l1-47.5v-31l1 .5v93l1 47v-137.5l1 .5v151l1-28.5v-123l1-1v98l1-104l1-3.5l1 100.5v-100l1 10.5v132l1-31v-104l1 3v136.5l1-8v-129l1-4v79l1 23v-101.5l1-6.5l1 126v-117.5l1-.5v102l1-37.5v-65l1-8.5v76l1-18v-59l1 11v90.5l1-12v-78h1v58.5l1-3v-55.5l1-8v53.5l1-23v-29.5l1 5.5v18l1-7.5v-16l1-1v15.5l1 7.5v-9.5l1 11.5v27.5l1 23v-21.5l1 23v11.5h1l1-25.5v19.5l1-21v-27l1-18.5v17l1-17.5v-13.5l1-5l3-1l2 .5v14.5l1 5.5v-5l1 5v3.5l1 1l1-5v3.5l1-3.5l1-20.5v14.5l1-14.5l3-.5l4-1.5l1 8.5v-8.5l1 10v10l1 3.5v-3l1 4h1l1-4.5v3l1-3.5v-17.5l3 .5v15l1 6v-5.5l1 5.5v13.5l1 8v-7l1 2v5l1-6v-14l1-5v4.5h1v-4l1 4.5v10l1 .5v-4l1-8.5v8l1-8v-7l1-13v12.5l1-13h2l4 2l1-.5v-.5l1-1v1l1-1v-.5l2-1v14.5l1 4v-3.5l1 3.5v2l1 1v-1l1 1h1l1-2v1.5l1-1.5l1-10v7l1-8v-9.5l2-.5l4 2.5l5-1l1 13v-13l1 18l1 2.5v-2.5l1 2.5v1l2 1l2-.5v-1l1-2v2l1-2l1-11v7.5l1-8.5v-8l1 1v1l1 .5v-.5l1 1v.5l4 .5l5-.5v-.5l1-1v1l1-1v-1l1-1v1l1-1l4 .5l4-.5l1 1v-1l1 1v.5l1 1v-1l1 1.5l5-2h4v1l1 1v-1l2 3v-1h1v1l1-1v-.5l2-.5v-1l5-1h4l4 1.5l8-2.5h7" stroke="#3199CB" stroke-width="2.6" stroke-dasharray="7 7 5 8 8 6 6 9"/>
<path d="M188.5 1358.5l3 1l8-2h1v1l1 1.5v-1l1 1v1l1 1v-1l1-1v1.5l1-1.5v-1.5l1-1.5v1.5l1-1.5v-1.5h1v1l1 1v-1l1 1v1l1 1v-1l1 1l7 1l1-.5v.5l1-.5v-1l1-1v1l1-1v-.5h5l4-1l9 1.5l8-1v1l1 .5v-.5l2 2.5v-1l1 .5l7-2l5 1l4-1.5l2 .5v11l1 6.5v-6l1 8.5l1 1.5v-1.5l1 1.5v3l1 .5l1-4v3l2-7v2.5l1-3v-6.5l1-9.5v9l1-9l3-.5l1 1v-1l2 2.5v-.5l1 1l3-1v9l1 7v-6l1 8.5l1 3v-3l1 3.5v2h1v-4l1-2v2l1-2l1-10.5v7.5l1-8.5v-8.5l3 .5v8l1 10v-9l1 9l1 21v-16l1 17v11.5l1 5v-4.5l1-.5v5l1-5.5v-12.5l1-17v16l1-20.5l1-9.5v9.5l1-11.5v-6h1v13.5l1 5.5v-5l1 7h2l1-6v4.5l1-5v-13.5l1-1v1l1-1v-.5l1-.5v14.5l1 6v-5.5l1 6v11l1 9v-8l1 3.5v4.5l1-5.5v-13l1-3.5l1 14v-12.5l1 14v27.5l1 28.5v-27l1 28.5v24.5l1 16.5v-15.5l1 21.5h1l1-21.5v15.5l1-17v-23l1-29.5v28l1-18v-22.5l1 24.5v26.5l1 9v-7.5l1-6v13.5l1-15v-32.5l1-37v35l1-42.5l1 3v31.5l1 16.5v-14.5l1-.5v15l1-16.5v-31.5l1-15.5v15.5l1-6v-12l1 4v12l1 18.5v-28.5l1 2v64.5l1 19v-83.5l1-7l1 90.5v-92.5l1 10.5v95.5l1 .5v-96l1-.5v61l1-22.5v-39.5l1 2v76.5l1 44v-119.5l1-.5v102l1-38v-73.5l1 7v37l1-27v-13h1l1 77.5v-73.5l1-10.5v20.5l1 2.5v-20.5l1 2.5l1 59.5v-64.5l1 13v152l1 4.5v-156h1v155.5l1 3v-158.5h1v160l1 .5v-161l1-12l1 177v-176l1 12v166.5l1-.5v-166l1-5v114.5l1-116.5l1 2v75.5l1 35v-106.5l1 .5v108.5l1 4v-113l1-5.5v25l1 18v-49.5l1 9v37l1-23.5v-15h1v13.5l1 25v-36l1-11l1 68v-64.5l1 4l1 70.5v-65.5l1 .5v74.5l1 5v-90l1 4v92l1 49.5v-134l1 1v169l1 13.5v-189l1 7v177.5l1 17v-194.5h1v188.5l1 5v-193.5l1-8.5l1 125v-117.5l1 .5v164l1 27v-190.5l1-.5v167l1-106.5v-63.5l1-3v23.5l1 .5v-25l1 4.5v113.5l1-117.5l1 1v14l1 3v-16.5l1-.5l1 141v-144.5l1 9.5v207.5l1-32.5v-175l1-1.5v114l1-1.5v-115l1-2v230.5l1 7.5v-231.5l1-13v251l1 .5v-248.5l1 9.5v240l1-5.5v-235l1-1.5v218l1-224.5l1 .5v18.5l1-4.5v-16.5l1 2v72.5l1-52.5v-25l1-3v94.5l1 10.5v-103.5l1 14v193l1-124v-75l1 4.5v116l1 11v-126.5l1-14l1 123v-119l1 9.5v110l1 7v-117.5l1 1.5v165l1 47v-223l1 6v16h1v-16l1-7l1 201.5v-193l1-8.5l1 310v-296.5l1-12.5v72.5l1 61.5v-133l1-3v191.5l1 107v-299.5l1 15.5v297.5l1 1.5v-299l1-13v156.5l1 149v-296l1 3.5v298l1-6v-293l1-1.5v181l1 21.5v-202l1 1v277.5l1 17v-295l1-14v44.5l1 64.5v-106.5l1 10.5v174.5l1 14.5v-189l1-.5v150.5l1-28v-123l1 1.5v196.5l1 36v-232l1-.5v196.5l1-35.5v-161.5l1 .5v182.5l1 25.5v-214l1-4v260l1-79.5v-183.5l1-1v249.5l1-24.5v-211l1-.5v155.5l1 80v-234.5l1 1v291l1-59.5v-232l1-.5v174l1 13v-186.5h1v179l1 .5v-180l1-8v164l1-54.5v-112.5l1 9v88.5l1-33v-56.5h1v56.5l1 20v-76.5l1-2.5l1 313.5v-307h1v338l1 25.5v-363l1-.5v332.5l1-29.5v-308.5l1 1.5v326.5l1 54v-386l1 3v268l1 123v-384.5h1v374.5l1 14.5v-389h1v388l1-90.5v-299l1-6v162.5l1-167l1-2.5l1 406v-398.5l1 5v388.5l1 13.5v-404.5l1 5v385.5l1-259v-139.5l1 6v313.5l1 54.5v-364l1-11.5l1 279.5v-275l1 8.5v293l1-1v-291.5l1-5.5v271.5l1-127v-144l1 4v196.5l1 43v-239.5h1v265.5l1-82v-193l1 1v167.5l1 42.5v-202.5h1v250l1 24v-273.5l1 1v335.5l1 76v-410.5l1-12.5l1 385.5v-386l1 13v348l1-82.5v-268.5l1-7v200.5l1 167.5v-358.5l1-.5v312l1-59v-253.5l1-2.5v215.5l1-86.5v-129l1-4v157.5l1-19.5v-142l1 4v317l1 31v-340.5l1 .5v343l1-16.5v-327l1-8.5v229.5l1-152.5v-81.5l1 .5v256l1-56.5v-197l1 9v259.5l1-51.5v-208.5l1-.5v174l1 68v-241.5l1 1v318l1 50.5v-368l1 .5v352l1-3.5v-348.5l1-.5v366.5l1-159.5v-207.5h1v200.5l1 32.5v-233l1 .5v298.5l1 57v-355l1-.5v298l1-310.5l1 11v221.5l1-5.5v-220.5l1 5v201.5l1-120v-90l1 6.5v143l1 67v-216l1 4.5v323.5l1-1v-317l1-1v310l1-194v-123.5l1 7.5v241l1 42.5v-283.5l1 .5v272.5l1 4.5v-277h1v275.5l1-8v-268.5l1-4.5v157.5l1-160l1 6v253l1-2v-249.5l1-12v43.5l1 83.5v-117.5l1 1.5v179.5l1 69v-247.5l1 .5v242l1 3v-245l1-.5v240l1-49v-191l1-.5v179.5l1-21v-158h1v150l1 3.5v-153.5l1-7.5v157.5l1-158.5l1 2.5v119l1 42v-155l1-.5v156l1-5v-151.5l1-.5v133l1-3v-130.5l1-13.5l1 179v-166l1 1v164.5l1-88v-82.5l1 1v140.5l1 .5v-137.5h1v127.5l1 7v-135l1-1v129.5l1-65v-65.5h1v56.5l1 12v-68.5l1-8v92l1 1.5v-86h1v93.5l1-8.5v-86h1v75l1-9v-67l1-2.5v20l1 14v-32.5h1v40l1-4.5v-36.5l1-1v32l1-6.5v-26.5l1-1v10.5l1-6.5v-5h1v4.5l1-1.5v-5l1 .5v4l1-1.5v-3l1-.5v2l1-1v-1.5h1v1l1-.5v-1l7-.5l5 .5l7-.5l48 .5l13 2.5l1 14v-13l1 1.5v18l1-.5v-16.5l1-1.5l1 51.5v-49.5l1-.5v39.5l1 20.5v-55.5l1-1.5v72l1-73l1 5v35.5l1 9.5v-46l1-3l1 136.5v-128.5l1 .5v129.5l1-9v-121l1-.5v61.5l1-40v-26l1-3.5v55l1 106v-160l1-.5v58.5l1 108v-156l1-2v91l1 58.5v-156.5l1-.5l1 183.5v-176l1 3.5v203l1-2v-201.5l1-9l1 197v-190.5l1 1v219l1-49.5v-170.5l1 1.5v137.5l1-30.5v-107l1-.5v96l1 14v-109.5h1v119.5l1 17.5v-137h1v140.5l1 18v-158.5l1-5v232.5l1 30.5v-264h1v148.5l1-61.5v-81.5h1v87l1 18v-104.5l1 .5v99.5l1-1.5v-98h1v168l1 52.5v-219h1v208.5l1 2.5v-211h1v217l1 5v-222l1 12v170.5l1-6v-147l1 21.5v161l1-24.5v-173.5l1-26l1 164v-147.5l1-4v128.5l1 39.5v-167.5l1 5.5v250l1-29.5v-226l1 .5v198l1 92v-290l1 72.5v240l1-47v-265.5l1 .5v274l1 69v-343l1 33.5v321.5l1 8v-362.5l1 3v358l1 26.5v-382.5h1v353l1 39.5v-387.5l1 15.5v375l1-48v-255l1-61v404.5l1-15.5v-370.5l1 30.5v353.5l1-8.5v-238l1-72v352l1-8v-366l1 94.5v239l1 41.5v-262.5l1 6.5v296.5l1-2v-351.5l1 85v212.5l1 61v-263l1-64.5v311.5l1-73.5v-186l1 27v230.5l1 33.5v-324l1 6.5v306.5l1 8.5v-265l1-7.5v271l1 8.5v-258.5l1 81v164.5l1-22v-234l1-86.5v358.5l1-15v-272l1-148.5v321l1 116.5v-270l1 8v258l1-6.5v-441l1-31v483.5l1-.5v-268.5l1-10v251l1 28.5v-277l1 145v132l1-32.5v-386.5l1 160.5v259l1-4v-276.5l1 19.5v261l1-65.5v-321.5l1 121v203l1 63.5v-260.5l1-4.5v258.5l1 6v-263.5l1-6v244l1 24v-380.5l1 99.5v282l1 1.5v-274l1 12.5v261l1-35.5v-236.5l1 2v270.5l1 .5v-273.5l1-139.5v201.5l1 202.5v-466.5l1-18.5v426.5l1 10.5v-212.5l1-216v476l1-83v-426.5l1 249v215l1 55v-249l1-179v429l1-36.5v-487.5l1 265.5v257.5l1 1.5v-520.5l1 6.5v468.5l1 30v-255.5l1-258v525l1 1v-353l1 93.5v260l1 3.5v-251l1-9.5v257.5l1-1v-257l1 139v122l1-3v-137l1 19.5v120l1 .5v-130l1-62.5v193h1l1-439.5v439.5l1-1.5v-375.5l1-152v389l1 139.5v-354.5l1 355.5l1-10.5v-491.5l1 502l1-2.5v-160.5l1 163h1l1-403.5v402.5l1-112.5v-311.5l1 425.5l1-.5v-60l1 3v55l1-5.5v-516l1 253.5v270.5l1-5.5v-64l1-1v70.5l1-1.5v-73l1-46.5v121l1-76.5v-188.5l1 265.5l1-.5l1-495.5v491l1-4v-509l1 182v335.5l1 .5v-15l1-13v24l1 4.5l1-30.5v27l1 3.5v-150.5l1-86.5v236l1 1v-403l1 403l1-1v-21.5l1 22.5h1v-13l1-4.5v17l1-4v-76l1 49v32l1-.5l1-107v107.5l1-7v-161l1 168h1l1-429.5v426.5l1 3v-321l1-174.5v495.5l1-.5v-470l1 471l1-.5l1-272.5v272.5l1 .5v-34l1 34h1v-20l1 13.5v6.5h1v-8.5l1-15.5v24l1 .5l1-248v248h1v-497l1 497h1v-18.5l1 2.5v16h1v-17.5l1 12v5.5h1l1-235v231l1 4v-35.5l1 16.5v19.5l1-.5v-16.5l1 2v15h1l1-99.5v99.5h1v-4l1-5v9h1v-17l1-1.5v18.5l1 .5l1-363v362.5l1 .5v-7.5l1-2v9.5h1v-19l1-1.5v20.5h1v-9l1-10v19l1 .5v-12l1 1.5v10l1 .5v-13.5l1 1.5v12h1v-12.5l1 8v4.5h1v-16l1-.5v16l1 .5v-18l1-.5v18.5h1v-9.5l1 .5v9.5l1-1v-17.5l1 8.5v10l1-.5l1-392v392.5l1-3v-448l1 451l1-1.5v-182l1 108.5v75l1-.5v-11.5l1-5.5v17.5l1 .5v-18l1 1.5v16l1 .5v-5.5l1-5v10.5h1v-15.5l1 2v13.5h1v-238l1 238h1v-6.5l1-8.5v15.5h1l1-14v14h1v-6.5l1-4v10.5h1v-16.5l1 5v11.5h1v-452l1-29.5v481l1 .5v-13l1 13h1v-7l1 7h1v-11.5l1 2.5v9h1v-10.5l1 3v7.5h1v-275l1-101v355l1 20.5v-88l1 88.5l1-.5v-9.5h1v10l1-3.5v-159.5l1-13v176h1v-13.5l1 6.5v7h1v-12.5l1 4.5v8l1-2.5v-126l1 40v88.5h1v-13l1 3v9.5l1 .5l1-376v375l1 1v-351l1 351h1v-10.5l1 1v9.5h1l1-55.5v55.5l1-1.5v-103.5l1 105h1v-23.5h1v23h1v-33.5l1 2.5v31l1 .5v-37.5l1-2.5v38l1 1.5v-33l1-16v44l1 5.5v-516.5l1 88.5v418.5l1 8v-48.5l1-3v52.5l1-2v-167.5l1 109.5v56l1 .5v-62.5l1 6.5v55.5h1v-72.5l1-7.5v82.5l1-.5v-84l1-6v88l1-2v-83.5l1 5.5v78l1 1v-96l1-12v106l1 5.5v-93.5l1 2.5v90.5l1-1l1-393v391h1v-113l1-176.5v285.5l1 7.5v-69l1 2v66h1v-54l1 1.5v52.5h1v-333l1 333h1v-44l1 13.5v30.5h1v-27l1 8.5v16.5l1 1.5l1-75.5v75.5h1v-11l1 11h1l1-387v387l1-.5v-512.5l1 511l1 1v-22l1-8.5v31l1-.5v-39l1-10v49h1v-58l1-6v63h1v-71.5l1-5v77l1-.5v-85l1 5v80l1-4v-77l1-.5v80.5l1-5v-310.5l1 176.5v124.5l1 8.5v-129l1 38.5v95l1-5v-112l1 27.5v87.5l1 .5v-93l1 5v91h1v-89.5l1 8v79l1-.5v-82.5l1 10.5v74.5l1-7v-57l1 4v54.5l1 4.5v-52l1-8.5v55.5l1-5.5v-53l1 18v44l1-.5v-34l1 7v26h1v-17l1 2v13.5l1 .5v-11h1v10h1l1-12v11.5l1-1l1-217v213.5l1 2.5l1-268.5v268.5h1v-17l1 6v10.5h1v-20l1 .5v18.5l1-3v-205.5l1 208.5l1-5.5v-21.5l1-7v34h1v-31l1-6v36.5h1v-34l1-14v46.5l1 1v-46.5l1 4v36.5l1 4.5v-51.5l1-1.5v53.5l1-3.5v-53l1-3.5v55.5l1 1v-52.5l1-20.5v75.5l1 .5v-85.5l1 28v55l1 2v-85.5l1-10v94.5l1-4.5v-61l1-1v66.5l1-2v-83l1-7.5v87.5l1-.5v-93l1 16v81l1-9.5v-93.5l1-3v104.5l1-1v-94l1-5v101.5l1-3.5l1-337v330.5l1 2v-117l1 11v110.5l1 2.5l1-500.5v457l1 37.5v-315l1-106v382.5l1 43.5v-134l1-8v142l1-1v-133.5l1 17v111.5l1 5.5v-151l1 23.5v127.5l1-10v-140.5l1-3v136l1 17v-143.5l1 24.5v110l1 3v-170.5l1 47v118l1 6v-163.5l1 42v122.5h1v-141l1 7v136.5l1-1v-155l1-30v184l1-5.5v-185.5l1 65v127.5l1-.5v-290.5l1 9v276.5l1 .5v-7.5l1-3v14.5l1-2l1-213v205l1 8.5v-174.5l1-18.5v175l1 18.5v-231.5l1-42v266l1-3.5v-203l1-5v205l1 5.5v-180.5l1-4.5v191.5l1-8v-221l1-12v227.5l1 10.5v-215.5l1 40.5v177l1-.5v-165l1 23.5v142.5l1-8.5v-148.5l1 42.5v108.5l1 3.5v-110.5l1-30.5v142.5l1-10v-79l1-35.5v122l1-12v-441l1 164v288.5l1-.5v-137l1-21v157l1 3.5v-160.5l1 28.5v131.5l1-8.5v-138l1 10v134l1 .5v-139l1-29.5v159.5l1 4v-157l1-14.5v174.5l1 1.5v-154.5l1-257v408.5l1 2v-467.5l1 463.5l1 4v-168.5l1 56.5v105.5l1-11.5v-455.5l1 301v162l1 2v-132.5l1-67.5v209.5l1-10.5v-148.5l1 25.5v132l1 .5v-125.5l1-25v149l1-7.5v-80l1-22v94.5l1 4v-102l1 5.5v106l1 4l1-412.5v401.5l1-.5v-59.5l1-14v81.5l1 3v-55l1-6v51.5l1 8v-52l1-10v49.5l1 14.5v-60.5l1 19.5v36l1 4.5v-39l1 9v27.5l1 3v-26l1-9v34h1v-19.5l1-2v22l1-2v-18l1 6.5v13.5l1-.5l1-482v481.5l1 1v-330l1-117v447l1-15.5v-450.5l1 465l1 .5v-12.5l1 5.5v4l1 .5l1-117v117.5l1 .5l1-20.5v19.5l1-5.5v-447.5l1-34v483.5l1 2v-19.5l1 12v9l1-1v-307l1 180.5v127.5l1-.5v-13.5l1-3v13.5l1 2.5v-29l1 6.5v22.5l1-5.5l1-494.5v495.5l1 4.5v-146.5l1 146l1-14.5v-446l1 460l1-.5v-13l1-15.5v26l1-6.5v-18.5l1 4.5v22.5h1l1-98v88l1-3.5v-79.5l1 52.5v39h1v-25l1-7.5v33l1-.5v-46l1 14v30l1-1v-49.5l1 15v37h1v-36l1-3.5v35l1 4v-53l1 4.5v42.5l1 5.5v-38.5l1-.5v33.5l1 5.5v-38l1 8v29.5l1-4v-46.5l1 18.5v32l1-9v-26l1 15v17.5l1-2v-428.5l1 188v237.5l1 6.5v-33.5l1 9v24.5l1-3v-48.5l1 9.5v39l1-9.5v-21.5l1-43v74.5l1 1v-49.5l1 25v23.5l1-10.5v-36l1 4.5v41.5l1-2v-42l1-6.5v51l1-13v-32.5l1 .5v39l1-17v-472.5l1 1.5v489.5l1 2v-34.5l1-31v56l1 6v-20.5l1-46.5v70l1 1l1-134v126l1-3v-28l1 1v30l1 5.5v-42l1-20v54.5l1 7v-52l1-3.5v41l1 10l1-338v296l1 24v-468.5l1 116v366l1-3.5l1-155.5v157.5l1-29.5v-430l1 457.5l1 5v-39l1-14.5v40l1 7v-37.5l1 15v35.5l1-11.5v-33l1 6v33.5l1-17.5v-31.5l1-28v70l1 10.5v-86l1 47.5v39l1-10v-89l1 97l1-2v-81.5l1 34.5v48.5l1-10.5v-29.5l1-29.5v55l1 13v-51.5l1-56v108.5l1-86.5v-402l1 15.5v446l1 23v-72l1-12.5v87l1-1.5v-78l1 28v51h1v-58.5l1 9.5v50l1-4.5v-56l1-14v74l1-4.5v-72.5l1-2v78l1-1.5l1-239v219l1 21v-50l1-.5v44.5l1 2v-88l1 29v57.5l1-18v-437.5l1 172.5v275l1 6l1-396.5v393l1-12v-389.5l1 148v239.5l1 18.5v-100l1 3.5v94.5l1-26v-66l1 30.5v45.5l1-9l1-371v369.5l1 29v-92l1-5v92l1-35.5v-57l1-44v137.5l1 1v-97l1-2.5v75l1-18.5v-168l1-32.5v224.5l1-12v-110.5l1 20v108.5l1 1.5v-116.5l1 12.5v81l1 11.5v-271l1 109.5v139.5l1-11.5v-415l1-13v412l1 39.5v-428.5l1 433.5l1-23v-77l1-173.5v284l1-48v-420l1 102v319.5l1 47.5v-84l1-63v114.5l1-52v-317.5l1 38v360.5l1-11v-156.5l1 62v57l1 7.5v-65.5l1-24v133.5l1-10v-121l1-34v162l1-9.5v-426.5l1 6v377.5l1 3.5l1-383v407l1-104v-257.5l1-63v366l1-197v-182.5l1 274v183.5l1-44.5v-397l1-19.5v387.5l1 27v-408l1 278.5v141l1-107.5v-116l1-75v273l1 25v-234l1-10v257.5l1-181.5v-86l1-30.5v111l1 55.5v-213.5l1-84.5v296l1-123.5v-183h1v299.5l1-33v-261l1 7.5v116l1 74v-190l1 2v353l1-75.5v-250.5l1-49v135.5l1 60v-197l1 20v346l1 18.5v-365l1-12.5v144l1 12v-162l1 25v269l1-179v-116.5l1 1.5v324l1 19.5v-326l1-19l1 369.5v-350l1 .5v335.5l1-64v-272l1 4.5v305.5l1-69v-263.5l1 22.5v314.5l1-9v-320l1-7.5v306l1 6v-290h1v294.5l1-14v-208.5l1-91v85l1 140.5v-225.5l1 17v301l1-314.5l1 16v239l1-1.5v-219.5l1-19.5v285l1-149v-143.5l1 5.5v228.5l1 42.5v-281l1 13.5v266.5l1-79v-187l1-2.5v283l1 8v-294l1-2.5v271.5l1 7v-278.5h1v294.5l1-7.5v-287.5h1v295l1-3v-292l1-.5v294.5l1-75v-220l1-.5v205l1 10.5v-215.5h1v232.5l1-36.5v-196.5h1v161l1 88v-248.5l1-12.5v190l1 5v-191.5l1 8.5v159l1-86.5v-80l1 8.5v166l1 47v-212.5h1v241l1 7v-247.5l1-.5v228l1-23v-205.5h1v210l1 9v-219l1-1v181l1-114.5v-69l1-2v17.5l1-3.5v-14.5h1v107.5l1 177.5v-280l1 1.5v288l1-28.5v-261l1-.5v163.5l1-.5v-163h1v177.5l1 21.5v-198.5l1 .5v202l1 35v-239l1 1v251.5l1 4.5v-255h1v268l1 5.5v-273h1v271.5l1 2v-273.5l1-.5v228l1-66.5v-162l1 .5v160l1 28.5v-188.5l1-8.5v172l1-34v-134.5l1 3.5v181l1-186l1 3v61l1 102v-161.5l1 1.5v173l1 2.5v-176l1-.5v157.5l1-25.5v-133l1-10v84.5l1-81l1 2l1 49.5v-47.5l1-.5v78.5l1-54v-28l1-1.5l1 105.5v-104.5l1-3v120.5l1 22.5v-141.5l1 3.5v172l1 104.5v-270l1-2.5v274l1-112.5v-164.5l1-.5v114.5l1-124l1 12.5v125l1-20.5v-104.5h1v82.5l1 13.5v-100.5l1 1.5v201.5l1 55.5v-251h1v246.5l1 1.5v-248l1-.5v250l1-52.5v-198.5l1-1v152l1-16.5v-135.5l1-4.5v178.5l1-94.5v-88.5l1 10.5v231l1 2v-232.5l1-3v150l1-153.5l1 2.5v45.5l1 40v-84l1-5.5v28.5l1-15.5v-13.5l1 3.5v125.5l1 73.5v-195.5l1 .5v201l1-123.5v-80.5l1-2.5v49l1 37v-82l1 1v141l1-5.5v-135.5h1v141l1 36v-177h1v184l1-1v-183l1-.5v146l1-30v-116.5l1-8.5v114l1-17.5v-88.5l1-4v44l1-8v-34l1-3v47.5l1-10.5v-37.5l1 5v86.5l1 41v-127.5l1 .5v157.5l1-.5v-157l1-7.5v80l1-42.5v-34l1 .5v91l1 46v-134.5l1 .5v148l1-28v-120.5l1-1v96l1-102l1-3.5l1 98.5v-98l1 10.5v129l1-30v-102l1 3v133l1-7.5v-126l1-4v77l1 22.5v-99l1-6.5l1 123v-114.5l1-.5v99.5l1-37v-63l1-8.5v74.5l1-18v-57.5l1 11v88l1-12v-75.5h1v56.5l1-2.5v-54l1-8v52l1-21v-30l1 5.5v20l1-9.5v-16l1-1v15.5l1 11v-13l1 14.5v23.5l1 21.5v-20.5l1 21.5v11l1 .5l1-25v19l1-20v-23.5l1-20v19l1-19.5v-13.5l1-5l3-1l2 .5v14.5l1 5.5v-5l1 5v7l1 1l1-8.5v7l1-7l1-20.5v14.5l1-14.5l3-.5l4-1.5l1 8.5v-8.5l1 10v10l1 3.5v-3l1 3v4h1v-4.5l1-3v3l1-3.5v-17.5l3 .5v15l1 6v-5.5l1 6v15.5l1 6.5v-6l1 2v4l1-5v-13l1-8v7h1v-6.5l1 7.5v9.5l1 .5l1-15v11l2-31v12.5l1-13h2l4 2l1-.5v-.5l1-1v1l1-1v-.5l2-1v14.5l1 4v-3.5l1 3.5v2l1 1v-1l1 1h1l1-2v1.5l1-1.5l1-10v7l1-8v-9.5l2-.5l4 2.5l5-1l1 13v-13l1 18l1 2.5v-2.5l1 2.5v1l2 1l2-.5v-1l1-2v2l1-2l1-11v7.5l1-8.5v-8l1 1v1l1 .5v-.5l1 1v.5l4 .5l5-.5v-.5l1-1v1l1-1v-1l1-1v1l1-1l4 .5l4-.5l1 1v-1l1 1v.5l1 1v-1l1 1.5l5-2h4v1l1 1v-1l2 3v-1h1v1l1-1v-.5l2-.5v-1l5-1h4l4 1.5l8-2.5h7" stroke="#0174BF" stroke-width="2.6"/>
<path d="M188.5 1358.5l3 1l8-2h1v1l1 1.5v-1l1 1v1l1 1v-1l1-1v1.5l1-1.5v-1.5l1-1.5v1.5l1-1.5v-1.5h1v1l1 1v-1l1 1v1l1 1v-1l1 1l7 1l1-.5v.5l1-.5v-1l1-1v1l1-1v-.5h5l4-1l9 1.5l8-1v1l1 .5v-.5l2 2.5v-1l1 .5l7-2l5 1l4-1.5l2 .5v11l1 6.5v-6l1 8.5l1 1.5v-1.5l1 1.5v3l1 .5l1-4v3l2-7v2.5l1-3v-6.5l1-9.5v9l1-9l3-.5l1 1v-1l2 2.5v-.5l1 1l3-1v9l1 7v-6l1 8.5l1 3v-3l1 3.5v1.5h1v-3l1-2.5v2l1-2l1-10.5v7.5l1-8.5v-8.5l3 .5v8l1 10v-9l1 9l1 17.5v-12.5l1 13v8.5l1 3v-3l1-.5v3.5l1-3.5v-9l1-13.5v13l2-27v9.5l1-11.5v-6h1v13.5l1 5.5v-5l1 7h2l1-6v4.5l1-5v-13.5l1-1v1l1-1v-.5l1-.5v14.5l1 6v-5.5l1 6v9.5l1 6.5v-6l1 3v3l1-3.5v-11l1-3.5l1 12.5v-11l1 12v19.5l1 18.5v-17.5l1 18.5v14.5l1 9.5v-8.5l1 12l1 .5l1-13v9l1-9.5v-14.5l1-18.5v18l1-11.5v-15l1 16.5v16.5l1 5.5v-5l1-3.5v8l1-9v-20.5l1-26.5v25l1-32.5l1 3v24.5l1 11v-10h1v10l1-11v-24.5l1-15.5v15.5l1-6v-12l1 4v12l1 15.5v-25.5l1 2v49.5l1 12v-61.5l1-7l1 68v-70l1 10.5v68l1 1.5v-69.5l1-.5v49.5l1-16.5v-34l1 2v57.5l1 25.5v-82l1-.5v71.5l1-24v-57l1 7v30l1-20v-13h1v18l1 37v-51l1-10.5v20.5l1 2.5v-20.5l1 2.5v15.5l1 29v-49.5l1 13v92l1 2.5v-94h1v94l1 1.5v-95.5h1v96.5l1 .5v-97.5l1-12l1 111.5v-110.5l1 12v100h1v-100l1-5v75.5l1-77.5l1 2v54l1 21v-71l1 .5v72l1 3v-75.5l1-5.5v22.5l1 13.5v-42.5l1 9v31l1-17.5v-15h1v13.5l1 20v-31l1-11v20l1 37.5v-54l1 4v18l1 40v-53l1 .5v59l1 3.5v-73l1 4v74l1 32.5v-99l1 1v120.5l1 8.5v-135.5l1 7v126.5l1 11.5v-138h1v135.5l1 3.5v-139l1-8.5v35l1 66.5v-94l1 .5v124l1 17v-140.5l1-.5v126.5l1-71.5v-58l1-3v26l1 1v-28l1 4.5v94l1-98l1 1v14l1 3v-16.5l1-.5l1 114v-117.5l1 9.5v153.5l1-20v-133.5l1-1.5v94l1-1v-95.5l1-2v169.5l1 4.5v-167.5l1-13v184l1 .5v-181.5l1 9.5v172.5l1-2.5v-170.5l1-1.5v160.5l1-167l1 .5v20l1-6v-16.5l1 2v67l1-45v-27l1-3v85.5l1 7.5v-91.5l1 14v146l1-83v-69l1 4.5v96l1 7.5v-103l1-14l1 104v-100l1 9.5v90l1 4.5v-95l1 1.5v124.5l1 28v-163.5l1 6v16h1v-16l1-7l1 149.5v-141l1-8.5l1 212.5v-199l1-12.5v66l1 43v-108l1-3v146.5l1 64v-211.5l1 15.5v204.5l1 1.5v-206l1-13v126l1 91v-207.5l1 3.5v208l1-3v-206l1-1.5v140l1 14v-153.5l1 1v200l1 10v-210.5l1-14v47l1 51.5v-96l1 10.5v139.5l1 10v-149.5l1-.5v124.5l1-19.5v-105.5l1 1.5v153l1 22v-174.5l1-.5v151.5l1-23v-129l1 .5v141.5l1 15v-162.5l1-4v190.5l1-49v-144.5l1-1v184l1-15v-155l1-.5v120l1 48v-167l1 1v198l1-34.5v-164l1-.5v128.5l1 7.5v-135.5h1v130.5h1v-131l1-8v124l1-35.5v-91.5l1 9v72.5l1-23.5v-50h1v49.5l1 14v-63.5l1-2.5l1 203.5v-197h1v213l1 13v-225.5l1-.5v209.5l1-15.5v-199.5l1 1.5v208l1 27.5v-241l1 3v177.5l1 64v-235h1v229.5l1 7.5v-237h1v236l1-46.5v-191l1-6v118l1-122.5l1-2.5l1 251v-243.5l1 5v236l1 6v-244.5l1 5v233l1-141v-105l1 6v199.5l1 27.5v-223l1-11.5v65l1 121v-181.5l1 8.5v187.5l1-.5v-186.5l1-5.5v179l1-71.5v-107l1 4v136.5l1 24.5v-161h1v175.5l1-46v-139l1 1v124l1 25.5v-142h1v171l1 14.5v-185l1 1v221.5l1 41.5v-262l1-12.5l1 255.5v-256l1 13v230l1-45.5v-187.5l1-7v151l1 96v-237.5l1-.5v212.5l1-33v-180l1-2.5v159l1-54v-105l1-4v125l1-12.5v-116.5l1 4v221.5l1 18v-232l1 .5v233.5l1-8.5v-225.5l1-8.5v171.5l1-100.5v-75.5l1 .5v188.5l1-34.5v-151.5l1 9v185l1-30.5v-155l1-.5v133.5l1 41v-174l1 1v217l1 27.5v-244l1 .5v235l1-2v-233l1-.5v242.5l1-91v-152h1v147.5l1 17v-164.5l1 .5v199.5l1 29.5v-228.5l1-.5v196l1-208.5l1 11v151l1-4v-151.5l1 5v138.5l1-73v-74l1 6.5v105.5l1 39.5v-151l1 4.5v207.5l1-.5v-201.5l1-1v199l1-110.5v-96l1 7.5v162l1 24.5v-186.5l1 .5v181l1 3.5v-184.5h1v183.5l1-5v-179.5l1-4.5v117l1-119.5l1 6v169l1-1.5v-166l1-12v41.5l1 57v-89l1 1.5v125l1 38v-162l1 .5v158.5l1 1v-159.5l1-.5v156l1-27.5v-128.5l1-.5v121.5l1-13v-108h1v102.5l1 2v-104.5l1-7.5v109.5l1-110.5l1 2.5v85l1 22.5v-101.5l1-.5v101.5l1-3.5v-98.5l1-.5v87.5l1-3v-85l1-13.5l1 115v-102l1 1v100.5l1-48.5v-58l1 1v88.5h1v-85h1v78.5l1 4v-83l1-1v80.5l1-36v-45.5h1v40.5l1 7v-47.5l1-8v61.5l1-1v-53h1v53.5l1-5.5v-49h1v41l1-6.5v-35.5l1-2.5v12l1 5v-15.5h1v18.5l1-3.5v-16l1-1v13.5l1-3v-11.5l1-1v7l1-3v-5h1v4.5l1-1.5v-5l1 .5v4l1-1.5v-3l1-.5v2l1-1v-1.5h1v1l1-.5v-1l7-.5l5 .5l7-.5l48 .5l13 2.5v2l1 1.5v-2.5l1 1.5v3l1 1.5v-3.5l1-1.5l1 18v-16l1-.5v13.5l1 9v-18l1-1.5v27.5l1-18.5v-10l1 5v16l1 7v-24l1-3l1 74v-66l1 .5v68l1-.5v-68l1-.5v40.5l1-23v-22l1-3.5v44l1 62.5v-105.5l1-.5v49.5l1 69v-108l1-2v70l1 39.5v-116.5l1-.5l1 124.5v-117l1 3.5v127l1-4v-123.5l1-9l1 117.5v-111l1 1v123l1-26v-98l1 1.5v81l1-15v-66l1-.5v61l1 8.5v-69h1v74.5l1 10.5v-85h1v87l1 10.5v-97.5l1-5v141.5l1 17.5v-160h1v103.5l1-33.5v-64.5h1v70.5l1 16v-86l1 .5v86l1-.5v-85.5h1v134.5l1 35v-168h1v162l1 3.5v-165.5h1v171l1 4v-175l1 12.5v138l1-2v-118l1 22.5v110.5l1-18v-130.5l1-27l1 119.5v-103l1-4v124.5l1-1v-123l1 5.5v161l1 8.5v-175l1 .5v173.5l1 17v-190.5l1 62.5v143l1-8.5v-197l1 .5v186.5l1 33.5v-220l1 30v194l1 3v-226.5l1 3v221.5l1 11v-230.5h1v219.5l1 14.5v-230.5l1 15.5v216.5l1-6v-161l1-39.5v220l1-9v-198l1 17v189l1-2v-125l1-41.5v178l1-4.5v-163l1 30v131l1 9.5v-131l1 6v140.5l1-.5v-128l1 34v81.5l1 18.5v-106.5l1 7.5v93.5l1-1v-63.5l1 13v51l1 11.5v-85.5l1 6.5v74l1 4v-40l1 3.5v35.5l1 3.5v-35.5l1 11.5v20l1-4.5l1-105.5v114.5l1-5.5v-87l1-109.5v195.5l1 7v-24.5l1 8.5v14.5l1-1v-203.5l1-30.5v236.5h1v-22l1-10.5v30l1 2.5v-29.5l1 29.5l1-2.5v-188.5l1 191l1-1v-32l1 19.5v13.5l1-12.5v-157l1 162l1 7.5v-40l1 23v16l1 1v-15.5l1-6.5v20.5l1 .5v-133.5l1 134l1 .5v-25l1 12.5v12.5l1-1.5v-22.5l1 2.5v21.5h1l1-175v167.5l1 4v-223l1-16v230.5l1 6l1-230.5v236l1-8v-261.5l1 266l1 4l1-178.5v178.5l1-1v-272l1 273.5h1v-270.5l1 7.5v259.5l1 3v-113.5l1-162.5v276.5l1-.5v-149l1 93.5v56l1 .5v-9.5l1-.5v10h1v-10.5l1 6.5v4h1v-38l1 38h1v-27.5l1 28h1l1-202.5v202.5h1v-158.5l1-116.5v234.5l1 41v-156.5l1 156.5l1-3.5v-247.5l1 251l1-.5v-65.5l1 66.5h1l1-183v183l1-39.5v-155.5l1 195.5h1v-2l1 .5v1.5l1-.5v-270l1 161v109.5h1v-24.5l1 25h1v-23.5l1-25.5v49l1-26v-86.5l1 113h1l1-244.5v244h1v-266.5l1 120.5v146.5l1 .5v-1.5l1 .5v1h2l1-58.5v58.5l1 .5v-95.5l1-89v184.5h1v-.5h1v.5h4v-32l1 32.5l2 .5v-40l1-27v67h2l1-199.5v199.5l1 .5v-140.5l1-106.5v247h1v-224.5l1 224.5h1l1-115.5v116h1v-13.5l1 13.5l3 .5l1-.5v.5h2v-103.5l1-144v248h1v-.5l1 .5h2v.5h1v-11l1-1v2.5l1-1.5v-94.5l1 95.5h1v-5l1 .5v4.5h1v-4l1 1.5v2.5h1v-37l1 36.5h1v-2.5l1-2v4.5h1v-5l1-.5v5h1v-155.5l1 155.5h1v-2.5l1-3v5.5l1-.5v-5.5l1 3v2.5h1v-5l1 1.5v3.5l1-.5v-2.5l1-1v3.5h1v-3.5h1v3.5h1l1-4.5v4h1v-4.5l1-.5v5h1v-5l1 2v2.5h1v-2.5l1-2.5v5h1v-2.5l1 1v1h1v-169l1-32.5v200.5l1 1l1-72.5v72h1v-28l1 28h1v-5h1v5l1-.5v-4l1 2.5v1.5h1v-3l1-1.5v4.5h1l1-94.5v94h1v-9l1 9h1v-4.5l1 4l1-3.5v3.5h1v-2l1-1v2.5h1v-4.5l1 1v3.5l1-.5v-200.5l1-19v219h1v-3.5l1 3.5l1-.5v-2l1 1.5l1-3v3l1-.5v-2l1-1v3h1l1-110v109.5l1-7.5v-150.5l1 157h1v-4l1 1.5v2.5l1-.5l1-62.5v61.5l1 .5v-67.5l1 67.5l1-.5v-1.5l1-1.5v3h1l1-47.5v46.5h1v-32l1 32l1-.5v-2.5l1 .5v2l1-.5v-155l1 12v143l1-.5v-1.5l1-1.5v3l1-.5v-2l1 .5v1.5l1-.5v-19l1-19v37.5h1v-6l1-.5v6.5l1-.5v-6.5l1-3.5v10l1-.5v-9.5l1-2v11.5l1-1v-11.5l1 1.5v10.5l1-1.5l1-241.5v242.5l1-3v-176.5l1 178.5h1l1-61.5v61l1-1v-17.5l1-2v19.5l1-.5v-17.5l1-5.5v23h1v-25.5l1-1v26l1-.5v-27.5l1 .5v26h1v-24.5l1-6v30.5l1-1v-33.5l1 5.5v29.5l1-.5v-28.5l1-5v33l1-1v-157l1 157l1-2v-108.5l1 111l1-.5v-20.5l1 3.5v16.5h1l1-129.5v129l1-.5v-12.5l1-.5v13h1v-9.5l1 1v8l1-1v-4.5l1 1.5v3.5l1-.5v-26l1 26h2l1-155v154.5h1v-234.5l1 234l1 .5v-6.5l1-2.5v9l1-.5v-11.5l1-2.5v14h1v-17l1-2v19l1-.5v-21l1-2v23h1v-25.5l1 1.5v24l1-1v-23.5l1-.5v24.5l1-1v-118l1 73.5v40.5l1 3.5v-46l1 18v29l1-1.5v-35l1 9v27h1v-28.5l1 1.5v27.5h1v-27l1 2.5v24h1v-25.5l1 3v23l1-2v-17.5l1 1v17l1 1v-15.5l1-2.5v17l1-2v-19l1 9v13h1v-10l1 2v8h1v-5l1 .5v4h1v-2.5h1v2.5h2v-3l1 .5v2.5l1-1v-80l1 80.5h1v-102.5l1 102l1-1v-3l1-3v6l1-1l1-77.5v75.5l1 1v-5.5l1-3.5v7l1 .5v-9.5h1v9.5l1-1v-10.5l1 .5v10l1-1.5v-13.5h1v13.5l1-2v-11l1-3v14.5h1v-16.5l1-.5v15.5l1-1v-16.5l1 1v15l1 .5v-22.5l1-3v25l1-.5v-16l1-8.5v25h1v-29l1 9.5v18l1 1.5v-19.5l1-5.5v24l1-.5v-26.5l1-1.5v27.5l1 1.5v-24.5l1-6.5v28l1 2.5v-31.5l1 3v28l1 1v-30.5l1 1v28.5l1-1.5v-126l1 126.5l1 1v-33.5l1 4v30l1-12v-213l1 104v119.5l1-11.5v-159l1 172h1v-43.5l1 2v41l1-1v-34l1-11v46h1v-38.5l1-7.5v43.5l1-2v-42l1 3v43.5l1-2v-34l1-19v53.5l1-2v-36l1-13v51l1 .5v-37.5l1-6v43.5l1 .5v-42l1-5.5v47h1v-58l1-2v58.5l1 2v-38.5l1-68.5v107l1-1.5v-100.5l1 100.5l1 1l1-17.5v17l1-2.5v-74.5l1 23v54l1-4.5v-56.5l1-13v74.5l1-2.5v-92.5l1 26.5v65.5l1-1v-66.5l1 10.5v57.5l1 2v-61l1-13v71.5l1-1v-75l1 8.5v69l1 .5v-55.5l1 4v51.5h1v-43.5l1-5v46l1 1v-33.5l1 .5v34l1 .5v-43.5l1 17v24l1 2l1-192.5v189l1 3v-106l1 63.5v42.5l1-.5v-49h1v50h1v-40.5l1-4.5v43l1 1.5v-41l1-2v43l1-2v-50.5l1 1.5v49.5l1 1v-55l1 7.5v48l1-1v-164l1-41.5v206l1-1v-37l1-15v53l1-1.5l1-209.5v205l1 3.5v-52l1 11v41.5l1 2v-67l1 17.5v47l1 2v-40.5l1 2v39l1-.5v-46.5l1 19.5v25l1-2v-30l1-1v32l1 2.5v-32.5l1 10v23.5l1-3v-164l1 163.5l1 2v-24.5l1 9v16.5l1-2.5v-16l1 2.5v15.5l1-3.5v-14.5l1 1v17.5l1-1.5v-10h1v11l1-.5v-8.5l1 1.5v7.5h1v-9.5l1 3.5v6h1v-6l1 1v4.5h1v-3l1-1v4h1v-217l1 90v127h1v-188l1-15v199l1 3.5v-3.5l1 .5v3.5l1-1l1-4.5v4.5h1v-41l1 41h1l1-194v192l1 .5v-220l1 221h1l1-117v117h1v-43.5l1 43.5l1-1v-3.5l1-3.5v7.5h1v-5.5h1v4l1 .5v-230l1 231h1l1-200.5v196l1 4v-8.5l1 5v3.5l1-1v-6.5l1-1v6l1 2v-5.5l1-2v7.5l1-3v-31l1 2.5v27.5l1 3.5v-10.5l1 3.5v7h1v-8.5l1-4v12.5l1-1v-7.5l1-6v13.5l1 .5v-10l1 .5v9.5l1-1v-10l1-4v14.5l1-1.5v-11.5l1 3v10l1-1.5v-9l1 .5v10l1-.5v-7.5l1-6.5v13l1 1v-8l1-1v6.5l1 2l1-178v177.5l1-1.5v-87l1 89h1v-6l1-7.5v12.5h1v-10l1 2v5.5l1 2.5v-21l1 8.5v13l1-.5v-6l1-6.5v9.5l1 2.5v-11l1-.5v11l1 .5v-13l1-.5v9.5l1 2l1-227.5v222.5l1 5.5v-227l1 227.5l1-3v-15.5l1 17l1 .5v-19l1 19.5l1-2.5v-41.5l1 40.5l1 1v-9.5l1-1.5v12l1-2v-14.5l1 .5v16l1-4.5v-12.5l1 4.5v11l1-11.5v-120.5l1-93.5v220l1 3.5v-145l1 144l1 .5l1-207.5v198.5l1 8.5v-6.5l1-2v9.5l1-3.5v-12l1 3v10.5l1 3.5v-9l1-4v9.5l1 2v-8.5l1-6.5v10l1 2.5v-18.5l1-2v23l1 .5v-11.5l1-16.5v25l1 2l1-23v22.5h1v-13l1 2v8l1-1v-15.5l1 6v13h1l1-224v199l1 17.5v-205.5l1 211.5l1 .5v-25l1 2v22.5l1 .5v-14l1-3.5v17l1 .5v-15l1-1.5v15l1 1v-21l1-1.5v21l1 1v-23l1 10.5v12l1-6v-77.5l1 83.5l1-2v-13l1-10.5v24l1-.5l1-203.5v198l1 3v-101.5l1 103l1-1v-157.5l1-5.5v159.5l1-1v-89l1 60.5v33.5l1-.5v-25.5l1-.5v19l1 2.5v-12l1-1.5v10.5l1-1v-149.5l1 158l1-1.5v-27.5l1-3.5v21l1 10v-45l1 17.5v28l1-6v-23.5l1-42.5v60l1 8v-79.5l1 45v31.5l1 5.5v-31l1-1.5v33.5l1-6.5l1-100v103.5l1-6l1-202.5v199l1-4.5v-206l1 18v200l1 1.5v-28.5l1-5v26.5l1 10v-107l1-116v209l1 .5v-133l1 147l1-9.5l1-163v147.5l1 24.5v-144.5l1 92.5v48.5l1-10v-17l1-.5v19.5l1 12.5v-38.5l1 .5v35l1 2.5l1-199.5v196.5l1-11.5v-180l1 180l1 7v-190l1 34v127l1 12v-186l1-10.5v120.5l1 99.5l1-209.5v197l1-9.5v-201.5l1 6.5v204l1 2.5v-49.5l1-37v40.5l1 32.5v-104.5l1 23v94l1 7v-104l1-8.5v44.5l1-6.5v-53l1-20.5v107l1-5v-163.5l1-10v110.5l1 61.5v-172l1 5v156l1-78.5v-70.5h1v122.5l1 68v-188.5l1 21v140.5l1-87v-95l1-1.5v127.5l1 80.5v-189.5h1v199l1-101v-110l1-5.5v106.5l1 71.5v-154l1-25v82.5l1 107v-188.5l1 16.5v183l1-201l1 18.5v193l1-6v-186.5l1-.5v164l1 15v-175l1-25v165l1 35v-179l1-13.5v191.5l1-12.5v-186l1 20.5v170l1 4v-173.5l1 51.5v117.5l1-116.5v-71h1v152l1 42v-178l1-12.5v67.5l1 97v-149.5l1 16v134.5l1 18.5v-170l1-7.5v98.5l1 50.5v-143.5l1-9.5v175l1 .5v-163l1 1v120l1 50.5v-173l1-3v180l1-12.5v-170h1v173l1 7.5v-180.5h1v176.5l1 3v-179.5l1-.5v178l1 .5v-178.5l1-1v140.5l1-9v-131.5h1v137l1 9v-146l1-.5v127l1-19.5v-107.5l1 .5v154l1-38v-128l1 3v128l1-13.5v-106.5l1-6.5v62l1 55v-109.5l1 1v134l1 14.5v-148.5l1 .5v151.5l1-10.5v-141.5l1-.5v130l1 2v-132h1v137l1-21v-117l1-2v52.5l1-38v-16.5l1-1l1 77.5v-77.5l1 5.5v167l1 4.5v-170.5l1-1.5v157.5l1-51.5v-106.5h1v106l1 7.5v-113h1v124.5l1 1.5v-125.5l1-1.5v144.5l1 7v-151l1 1.5v151.5l1 6v-157.5h1v159.5l1-1v-158h1v159l1-23v-136.5l1-.5v102.5l1-1.5v-101l1 .5v115.5l1-13.5v-111l1 4v88.5l1 26.5v-112l1-4.5v17.5l1 31v-45.5l1 1.5v103l1 7.5v-109l1-.5v111l1-9.5v-102l1-1v89l1-34.5v-64.5l1 3.5v19.5l1-3v-14.5l1 2v38.5l1 20.5v-59.5l1-3.5v26l1 1.5v-29l1 1v78l1 8v-89l1 1.5v101.5l1 19.5v-117.5l1 6.5v167.5l1 1v-171l1-3v114l1-30v-84.5l1-9.5l1 103.5v-91h1v78l1-15v-63l1-4.5v75.5l1 58.5v-132.5l1 6v155.5l1-2.5v-153h1v153.5l1 .5v-154.5l1-1v127.5l1-26.5v-102h1v92.5l1 21v-118l1-4.5v68l1 85v-142.5l1 .5v142.5l1-44.5v-101l1-3.5v18.5l1 23v-39l1 1.5v65l1-44v-26.5l1-.5l1 99.5v-96l1 3.5v137l1 4.5v-141l1-3v68.5l1-25v-46l1 4v71l1 42.5v-112.5h1v110l1 5.5v-115.5h1v141.5l1 4.5v-146h1v145l1-25.5v-120l1-.5v99.5l1-9v-99l1 8v78l1-41.5v-40.5l1 2v31l1 10v-44l1-.5v35l1 44v-74h1v101l1 18.5v-119h1v118.5l1-56.5v-69.5l1 3.5v31l1 44v-74.5l1 2.5v101.5l1 7v-108l1-.5v91l1-16.5v-75.5l1-6v16.5l1-1.5v-18.5l1 .5v78l1 24.5v-92l1-3v76l1 20.5v-93.5l1-.5v88.5l1-33v-59.5l1 .5v72.5l1-50v-29l1 8.5v80l1-9v-71.5l1-.5v48.5l1 2v-59l1-1v48.5l1 26v-63.5l1 .5v55.5l1-12v-43.5h1v41.5l1-6.5v-43l1 1v26.5l1-4v-17l1-5.5v16l1-1.5v-15.5l1 13.5v9.5l1 22v-20.5l1 21.5v15l1 6.5v-5.5l1 2.5v3.5l1-4v-12.5l1-20v19l1-20.5v-14l1-14v13.5l1-18.5l4-1l1 15v-14.5l1 20l1 3.5v-3.5l1 4.5l1-1.5v-3.5l1-5.5v5.5l1-6v-14.5l4-.5l5-1.5v8.5l1 11.5v-10l1 13.5l1 1v-1l1-.5v1.5l1-1.5l1-21v17.5l1-17.5l1 .5l1 15v-15l2 32.5v-11.5l1 12.5v5h1l1-16v11.5l1-16.5l1 .5v4l1 9v-8.5l1 6v3l1-3.5v-7.5l1-7v7l1-7.5v-12.5l3-.5l4 2l1-1v.5l1-.5v-1l1-.5v.5l1-1l1 14v-14.5l1 18.5l1 2v-2l1 2v1h1l2-.5l1-4.5v3l1-3v-7l1-10.5v9.5l1-9.5l1-.5l4 2.5l4-1h2v13l1 5v-4.5l1 4.5v2.5l1 1v-1l1 1.5l1 .5l1-.5l1-1v1l1-1v-2l1-3.5v3.5l1-3.5v-7.5l1-9v8l1-7l2 2.5v-.5l1 1h4l3-.5l1-.5v.5l1-.5v-1l1-1v1l1-1v-1h1l4 .5l3-.5h2v1l1 .5v-.5l1 .5v1l1 .5l8-2.5l1 1.5v-1l1 1v1l1 1v-1l1 1v1h1v-1l1-.5v.5l2-2v1l1-1l4-1h4l4 1.5l8-2.5h7" stroke="#8DB671" stroke-width="2.6" stroke-dasharray="7 7 5 8 8 6 6 9"/>
<path d="M188.5 1358.5l3 1l8-2h1v1l1 1.5v-1l1 1v1l1 1v-1l1-1v1.5l1-1.5v-1.5l1-1.5v1.5l1-1.5v-1.5h1v1l1 1v-1l1 1v1l1 1v-1l1 1l7 1l1-.5v.5l1-.5v-1l1-1v1l1-1v-.5h5l4-1l9 1.5l8-1v1l1 .5v-.5l2 2.5v-1l1 .5l7-2l5 1l4-1.5l2 .5v11l1 6.5v-6l1 8.5l1 1.5v-1.5l1 1.5l1 .5l1-1v.5l1-.5v-1.5l1-2.5v2.5l1-3v-6.5l1-9.5v9l1-9l3-.5l1 1v-1l2 2.5v-.5l1 1l3-1v9l1 7v-6l1 8.5l1 1v-1l1 1.5l1-.5v.5l1-.5v-1.5l1-3v3l1-3v-7.5l1-9.5v8.5l1-8h1l1 8v-8l1 9v9l1 3v-3l1 3.5v9l1 8v-7.5l1 10.5l1-.5l1-10.5v7.5l1-8.5v-8.5l1-4v4l1-4v-9.5l1-8v6l1 7.5v-13.5l1 19l1 2v-1.5l1 2l1-2v1.5l1-1.5l1-18.5v13.5l1-14.5l1-.5l1 14v-14.5l1 20.5l1 6v-5.5l1 6v5l1 .5l1-10v6.5l1-10l1 1.5l1 25v-17l1 18v15l1 13.5v-12.5l1 13v8l1 3v-2.5l1-.5v3l1-3v-8l1-13v12.5l1-13.5v-15.5l1-7.5v13.5l1 15.5v-14.5l1 19.5l1-.5l1-26v18l1-19v-22l1-4l1 21.5v-18.5l1 19.5v8.5h1v-8.5l1-19.5v18.5l1-18.5v-15.5l1-2.5v12l1 4v-12l1 2v21l1 22.5v-41.5h1v52l1-59l1-2v60.5l1 7v-57h1v58l1-17.5v-41l1-1v28l1 22v-48l1 1v69.5l1-10v-60l1-9.5v49l1-17.5v-24.5l1-3v13l1 5v-18l1 4v43l1-33v-20.5l1 2.5v20.5l1-2.5v-15.5l1-5v43l1 49.5v-79.5l1 .5v81.5h1v-81.5h1v83l1 1v-84l1-.5v85l1-97l1 1v98l1 1.5v-87.5h1v87.5l1-26.5v-66l1-2v19.5l1 30v-47.5l1 4v62l1 2v-63.5l1-.5v66.5l1-72l1-6.5v38l1-2v-27l1-1.5v15l1-1.5v-13.5l1 2.5v27l1-18v-20l1 3.5v48.5l1-26.5v-18l1 5v47l1 6v-52.5l1-10.5v66.5l1 4.5v-67l1 7.5v89l1 21v-109l1-6.5v123.5l1-2v-114.5h1v125l1-2v-123h1v126.5l1-135l1 7.5v85l1 28.5v-113l1 .5v128.5l1-13.5v-115.5l1-3v52.5l1-32v-23.5l1-1l1 90.5v-86l1-4v18l1-3v-14l1 .5v16.5l1 13v-30l1-3.5v108.5l1 42.5v-141.5h1v123l1-38v-86.5l1-2.5v88l1 67v-157l1 6.5v155l1 3.5v-171.5l1 3v169l1 .5v-160l1-.5v158l1-10.5v-149l1-6.5v31l1-12v-18.5l1-2.5l1 64v-62l1-5v25l1 52v-80l1 1.5v86l1 63.5v-135.5l1-6v64l1 30v-89.5l1 .5v95.5l1-109.5l1 4v93.5h1v-84l1-.5v88.5l1 29v-116l1-11v153.5l1-147.5h1v16l1-1v-22l1 8.5v132l1-86v-54.5l1 13.5v186.5l1-137v-62l1 1v101.5l1 33.5v-138l1-1v199.5l1 8v-192h1v193.5l1-88v-118.5l1 9.5v195l1 4v-195.5l1-1v193.5l1-63.5v-131.5l1 .5v144.5l1 44.5v-188l1-.5v198l1-212l1 2.5v90l1 51.5v-131h1v140.5l1-24v-117l1-.5v99l1 46.5v-144l1 .5v164l1-22v-142.5l1-.5v121l1 12v-132.5l1-6v153.5l1 22v-179.5l1-3v136.5l1 37v-174.5l1 14v146l1-34v-112.5l1 1v157l1 31v-187l1-.5v154l1-33.5v-121l1 .5v127.5l1-4.5v-123l1-.5v123.5l1-14.5v-117l1-3v86.5l1-9.5v-68l1-1v46.5h1v-46.5h1v59.5l1-21v-41l1 6.5v186l1 15.5v-201.5l1 .5v213l1-15.5v-198l1-5.5v189l1 9.5v-197l1-5.5v228.5l1-57.5v-168l1 6.5v222.5l1-5v-217.5h1v224l1-.5v-223.5l1-1.5v181l1-75.5v-111.5l1-4.5v17.5l1 8.5v-28.5l1 7.5v231l1-2.5v-223.5l1-2.5v232l1-6.5v-220.5l1-13v100l1 95v-189l1 4v211.5l1-223l1 4.5v172.5l1 13.5v-177.5l1 .5v177l1-12.5v-170l1 .5v101.5l1 32v-129.5h1v153l1 14v-167l1-9.5v132.5l1-13.5v-118l1 7.5v135l1 27.5v-162.5l1 .5v176l1 36v-211l1 1v250l1-262.5l1-.5v244.5l1-12.5v-219l1-3v178.5l1-41.5v-144l1 9.5v226l1-24.5v-202l1-.5v171l1-22.5v-151h1v99.5l1 15.5v-119l1-4v110.5l1 104.5v-211l1 7.5v220.5l1 1.5v-221.5l1-.5v214l1-59v-163.5l1-4.5v71.5l1 108.5v-179.5l1 2.5v144l1 40.5v-175.5l1-.5v147l1-21v-126.5l1 .5v165l1 42v-206l1 .5v231.5l1-8.5v-222.5h1v220.5l1 9v-230l1-.5v143.5l1-4v-139.5h1v155.5l1 33.5v-188.5l1 .5v216l1-31v-185.5l1-12.5l1 153.5v-142.5l1-4.5v142.5l1-7.5v-130l1-8.5v69.5l1 35.5v-98.5l1-6v142l1 57.5v-195l1 5.5v189l1-3.5v-186.5l1-7.5v89.5l1 69.5v-151.5h1v174l1-4.5v-169h1v172.5l1-1v-171.5l1-1v167.5l1-63v-109l1-2.5l1 163.5v-157.5l1 1.5v155l1-167l1 9.5v82.5l1 35.5v-116.5l1 1v150.5l1-2.5v-147.5h1v148l1-3.5v-145h1v119.5l1-7v-113l1 .5v100l1-5v-95h1v96.5l1-2.5v-101.5l1-1l1 81v-78.5l1 6v94l1-.5v-94l1-.5v91l1-11v-80.5l1-.5v78.5l1-92l1 13v94.5l1-.5v-93l1-6v53.5l1 30v-82.5l1 3.5v79l1-6v-73l1-.5v77.5l1-3.5v-75l1-1v42.5l1-5v-37.5h1v44.5l1 5.5v-58l1 7.5v50l1 .5v-50.5l1-1v46.5l1-7v-39.5l1-1v34.5l1-25v-12l1 1.5v15.5l1 2.5v-18l1-1v16l1-3.5v-13.5l1-1v11.5l1-5.5v-7l1-1v5l1-.5v-4.5l1-2v5l1-.5v-4l1-.5v3l1-1.5v-2l1-.5v1.5l1-.5v-1l1-.5v1l1-1l6-.5l5 .5l7-.5l48 .5l12 2.5l1 2v-2l1 1v2.5l1 2v-3l1 1v3.5h1v-5l1 2v16l1-3v-13.5l1 4.5v18l1 8v-27.5l1-1v10l1 11v-16l1-1v24l1-17.5v-9.5l1 8v66l1 2.5v-68l1-.5v68l1-28v-40.5l1-4.5v22l1 18.5v-44l1 1v105l1-56v-49.5l1 10.5v107.5l1-39.5v-70l1-7v116l1-116.5l1 7.5v116l1 13v-125.5l1-.5v122l1-131l1 6.5v109.5l1 12.5v-121l1-1v96.5l1-15.5v-79.5h1v65l1-5.5v-60l1 .5v67.5l1 5.5v-73h1v83l1 2v-85h1v95l1 38.5v-138.5l1-1v156.5l1-55.5v-101l1 5.5v63l1 5.5v-68.5l1 .5v83.5l1 .5v-83.5h1v83l1 47.5v-130.5l1 1.5v163l1-5.5v-157.5h1v160.5l1 5v-165.5h1v169.5l1-24v-133.5l1 17.5v114l1 14.5v-107l1-37v126.5l1-152.5l1 16.5v101l1 23.5v-128.5l1 .5v127l1 33.5v-155l1-5.5v179l1-1.5v-177h1v194l1 9v-140.5l1-62.5v201l1-16v-184.5h1v213.5l1 5v-185l1-33v222l1-4.5v-214.5l1 2v222.5l1 1v-223.5l1 5v225.5l1 1.5v-213.5l1 48v167l1 9v-211.5l1 13v190.5l1 12v-189l1 60v132.5l1 6.5v-179l1 16v154l1 7v-137.5l1 9.5v137.5l1 7.5v-135.5l1 15.5v119l1-4v-87.5l1-4.5v105l1-.5v-92.5l1 24v68.5l1 .5v-51l1-23v79l1-4.5v-68l1 37.5v35.5l1 .5v-32l1 3.5v30.5l1-1v-18l1-3.5v19l1 5v-110.5l1 18.5v90l1-1v-197.5l1 202.5h1l1-203.5v203l1 1v-235l1 235l1-.5v-30l1 2.5v28h1l1-192v191.5l1 1v-10l1-21.5v31.5h1l1-168.5v157l1 5v-43l1 11v38.5h1v-15.5l1 1v15l1-1l1-132.5v133.5h1v-34l1 9.5v24.5h1v-12l1-11v22l1 1.5v-21.5l1-2.5v24l1-7.5v-167l1-51.5v222.5l1-8.5v-232.5l1 238.5l1 5.5v-235.5l1-33.5v261l1 5v-22.5l1 17.5v9h1v-179l1-95v273l1 1l1-270v270l1-3v-260.5l1 150v113.5h1v-278.5l1 129.5v149l1 .5v-56l1 56h1v-9.5l1-.5v10l1 .5l1-38v38h1l1-27.5v27.5h1v-6.5l1 3v4h1v-203l1 44.5v158l1-40v-238l1 121.5v157l1 .5l1-251.5v248l1 3.5v-23.5l1-42.5v65.5l1 .5v-11.5l1-19.5v31.5h1v-184l1-12v156l1 40v-30.5l1 30.5h1l1-273.5v273.5l1 .5v-109.5l1 109.5h1l1-23v23l1 .5v-49l1-64v87l1 26v-15l1 15h1v-246l1-22v267.5l1 1v-146.5l1 146.5h1v-.5l1 .5l1-.5v1h1v-58.5l1-37v95.5h1v-184.5l1 185h1v-1l1 1h2l1-32v32l1 .5v-1l1 1l1-39.5v39.5h1v-67l1 67.5l1-.5v.5h1v-199.5l1 59v140.5h1v-247l1 22.5v225h3v-115.5l1 116l2-.5l3 1v-1l1 .5l1-103.5v104l1 .5v-249.5l1 249.5l3 .5v-.5l2 .5l1-100v100l1 .5v-14.5l1 14.5l3 .5l1-33.5v34h3v-.5l1 .5h1v.5h1v-162.5l1 162.5h2v.5l1 .5v-1l1 1l1-.5v.5l9 1.5v-.5h1v.5l3 .5l3 .5v-180l1-35v215l2 .5v-78l1 49.5v28.5l4 1v-1l1 1h3l1-99.5v100h1v-9l1 9.5l7 .5l1-219.5v220h1v-240.5l1 240.5l7 1l1-119.5v119.5l1-7v-168l1 175.5h4v-69.5l1-6v76l5 .5v-50l1 15.5v34.5l4 .5v-176l1 14v162l5 .5v-19l1-22v41l1 .5v-4l1-.5v4.5h1v-5.5l1-2.5v8h1v-9.5l1-1.5v11.5h1v-11l1-.5v11.5h1l1-280v280.5l1-1v-206.5l1 207.5h1l1-71v71h1v-21l1-2.5v23.5l1 .5v-21.5l1-6v27l1 .5v-30.5l1-.5v31.5l1-.5v-33l1 1v32.5h1v-30.5l1-6v36.5l1-1.5v-38.5l1 7v33.5h1v-33l1-6.5v39h1v-186.5l1 187l1-2v-129l1 131.5h1v-22.5l1 4.5v18l1 .5l1-154v154h1v-13.5l1 .5v13l1 .5v-10.5l1 1.5v9h1v-6.5l1 2.5v4l1 .5v-30.5l1 30h1l1-.5v.5h1v-186.5l1-97v283.5h1v-6.5l1-1.5v7.5h1v-9l1-4.5v13.5h1v-14.5l1-4v18.5l1-.5v-20.5l1-3.5v24.5l1-.5v-26l1-3.5v29.5h1v-28.5h1v28.5l1-.5l1-143.5v144l1-5.5v-50l1-2.5v57.5h1v-36l1-8.5v44.5h1v-33l1-2.5v35.5h1v-34l1 1v33l1-.5v-29.5l1-1.5v31h1v-27.5l1 4v23.5h1v-22l1 3v19l1-.5v-19l1-7.5v23l1 4v-14l1 2.5v11.5l1-.5v-7.5l1 2v5.5h1v-3.5l1 1.5v2l5-.5v-97.5l1 97.5h1v-124l1 123.5l1-.5v-3.5l1-2.5v6l1-1l1-93.5v92l1 1v-6l1-4.5v9.5h1v-10.5l1-1v11.5l1-1v-13l1 2v11l1-1v-15l1-1v16l1-.5v-14.5l1-4v18h1v-20l1-.5v19.5h1v-22l1 2v18.5l1 .5v-27.5l1-4v31h1v-19l1-10.5v29h1v-36l1 12v22.5l1 1v-22.5l1-6.5v28h1v-33.5l1-2.5v34.5l1 1v-29.5l1-6.5v33.5l1 2v-39l1 3.5v34.5l1 .5v-35.5h1v34.5l1 .5v-156.5l1 155l1 1v-42l1 6v35.5l1-12v-262l1 126v147.5l1-15v-194.5l1 209l1-.5v-52l1 2v50l1-.5v-40l1-15.5v55.5l1-.5v-46l1-10v54l1-2.5v-51l1 3.5v51.5l1-1.5v-42.5l1-22.5v65.5l1-3.5v-43l1-16.5v61l1 1.5v-46l1-7v52l1 .5v-50.5l1-5v55l1-.5v-69.5l1-3v70l1 2.5v-44.5l1-84v128.5l1-2v-120l1 121.5l1 .5l1-21.5v21.5l1-2.5v-91l1 29.5v63.5l1-2v-71l1-14.5v88l1-2.5v-110l1 30v82l1-1.5v-82.5l1 13v71l1 .5v-73.5l1-15.5v87.5l1 .5v-93.5l1 10.5v83l1 1v-65l1 3.5v61.5h1v-51.5l1-6.5v55.5l1 2.5v-42l1 1v41l1 .5v-51l1 20.5v28.5l1 2l1-233.5v229.5l1 3.5v-129l1 77.5v52h1v-60l1-.5v60.5h1v-49l1-4v51.5l1 1v-47.5l1-4v52l1-1.5v-61.5l1 1v61.5l1-.5v-64l1 9v56l1-1v-199l1-50.5v250.5l1-1v-43.5l1-20v64.5h1l1-256.5v249l1 6.5v-65l1 13v53l1 .5v-82l1 21.5v58l1 2.5v-49.5l1 2v47.5l1-1v-56l1 24v32.5l1-.5v-40.5l1-1.5v42.5h1v-39l1 11v28.5l1-.5v-202.5l1 202l1 1v-29.5l1 10.5v19h1v-22l1 2.5v19.5h1v-19.5l1 2.5v17.5l1-.5v-11h1v11.5h1v-11l1 2.5v8.5h1v-8l1 1v7h1v-4.5l1 2v2l1 .5v-1.5h1v1.5h1v-266l1 110.5v155.5h1v-230.5l1-19v248.5l2 .5v-1.5l1-.5v1.5h1l1-50v49.5h1v-2h1v1.5l1-1v-236.5l1-34v271l1-.5l1-2.5v3h1v-143l1 92.5v50h1v-4l1 .5v3h1v-4.5l1 2.5v2l1-1l1-283v283.5l1-.5v-61.5l1 61.5l1-5.5v-238.5l1 243.5h1v-2.5l1 .5v1.5h1v-9.5l1 6.5v2.5l1 .5l1-42v40l1-1v-33.5l1 35.5h1v-7.5l1 1v6h1v-6l1 1.5v4h1v-9.5l1 3v6l1 .5v-6l1-4.5v10h1v-11l1 1v9l1 .5v-4.5l1-5v7.5l1 1.5v-8.5l1 3.5v5l1-1.5v-11l1 7.5v4.5l1-.5v-5h1v5l1-.5v-215.5l1 107.5v105.5l1 2.5v-3.5l1-2v5.5l1-.5v-13l1 8v5l1-2.5l1-17v18.5l1 .5v-6l1 .5v5l1-3.5v-4.5l1-1.5v9h1v-10l1 3.5v6.5l1-4v-12.5l1 10v5.5l1-7.5v-271l1 1.5v277h1l1-16.5v13.5l1 2.5v-5l1-9.5v14.5h1l1-48.5v46.5l1 .5v-10.5l1-2v13h1v-15l1-1.5v16.5l1-.5v-19l1-1v19l1 1l1-161.5v156.5h1v-272l1 97.5v178.5l1-.5l1-72v70.5l1-12v-241l1 254l1 .5v-6l1-13.5v19l1-1v-15.5l1 17l1-3v-12.5l1 9v6l1-1.5v-17.5l1 5.5v11.5l1 1.5v-18.5l1 7.5v11l1-1v-20.5l1 21h1v-18l1 9v8.5l1-2v-11.5l1-5.5v18l1 1l1-32v31.5l1-19v-256.5l1 15.5v255l1 5v-18.5l1-8.5v26.5h1v-25.5l1 12.5v13l1-.5v-20l1 3v17l1-1v-16.5l1-3v20.5l1-.5v-23.5l1-3v26.5l1-.5l1-96v93l1 3v-10l1-7v16l1 .5v-19.5l1 3v15l1-3.5v-243.5l1 124v120l1 2l1-191.5v190l1-3v-196.5l1 85v110l1 6v-41.5l1 23v18.5l1-7.5v-21l1 14.5v9h1l1-189.5v183.5l1 10.5v-19l1-16v33.5l1-10v-28.5l1-13v51.5l1 .5v-34.5l1-2v34l1-11v-69.5l1-8.5v85l1-4v-20l1-.5v28.5h1v-26l1 11v6l1 4.5v-126l1 53.5v63.5l1-3.5v-244.5l1-13v258l1 9v-244l1 247l1-10.5l1-115.5v125.5l1-15.5v-255l1 97v167.5l1 5v-28l1-6.5v24.5l1-17v-175.5l1 35v166l1-5v-48l1 19.5v22.5l1 .5v-17.5l1-.5v28l1-3.5v-42.5l1-15v58.5l1-3v-232.5l1 6v221.5l1-1l1-222.5v221l1-13v-162.5l1-63v224.5l1-83.5v-154.5l1 258.5l1-8.5v-234l1-19.5v239l1 13.5v-246l1 245.5l1-54.5v-42l1-39.5v115.5l1 15v-103l1-8v120l1-73.5v-57.5l1-18.5v67.5l1 36.5v-128l1-72.5v194.5l1-79.5v-125.5h1v194l1-10v-178.5l1 7.5v79l1 55v-134l1 2v209.5l1-27v-160l1-44.5v102.5l1 29.5v-133.5l1 20v199.5l1 10v-210l1-12.5v129.5l1-24.5v-111l1 25v163.5l1-104v-86l1 1.5v196.5l1 11.5v-190.5l1-19l1 220.5v-201l1 .5v194l1-14.5v-180l1 4.5v190.5l1-42.5v-175l1 22.5v187l1 6.5v-208l1-7.5v194l1 7v-179h1v189.5l1-2v-133.5l1-73v82l1 85.5v-167.5l1 17v188l1-129v-72.5l1 16v161.5l1 4.5v-149.5l1-18v178l1-82.5v-103l1 5.5v150l1 23v-183l1 13.5v170l1-43.5v-126l1-2.5v181.5l1 4v-188.5l1-2.5v177.5l1 3.5v-181h1v189l1-4.5v-185h1v188.5l1-2v-186.5l1-.5v187.5l1-41v-147l1-.5v138.5l1 5.5v-144h1v153.5l1-20.5v-133.5h1v113l1 49.5v-162l1-12.5v134.5l1 3v-134l1 8.5v111.5l1-53.5v-65.5l1 8.5v115l1 26.5v-141h1v156.5l1 3.5v-159.5l1-.5v149l1-12.5v-137h1v139l1 5v-144l1-1v123.5l1-70v-56l1-2v17.5l1-3.5v-14.5h1v81.5l1 100v-176.5l1 1.5v179.5l1-15v-166l1-.5v112.5l1-1v-111.5h1v119.5l1 12v-131l1 .5v132.5l1 18.5v-153l1 1v159l1 2v-160h1v166.5l1 2.5v-168.5h1v167.5l1 .5v-168l1-.5v144.5l1-36.5v-108.5l1 .5v107l1 15.5v-122.5l1-8.5v117l1-19.5v-94l1 3.5v118.5l1-123.5l1 3v48.5l1 62.5v-109.5l1 1.5v115.5l1 2v-118l1-.5v108l1-14.5v-94.5l1-10v68l1-45v-19.5l1 2v14.5l1 28.5v-41l1-.5v63l1-38.5v-28l1-1.5v31l1 52.5v-82.5l1-3v94l1 14.5v-107l1 3.5v124l1 59.5v-177l1-2.5v180.5l1-63v-120.5l1-.5v89.5l1-99l1 12.5v96l1-13.5v-82.5h1v67l1 8.5v-80l1 1.5v140l1 30.5v-164.5h1v162l1 .5v-162.5l1-.5v163.5l1-29.5v-135l1-1v108.5l1-10v-98.5l1-4.5v125.5l1-58v-72l1 10.5v151.5l1 1v-152l1-3v108l1-111.5l1 2.5v42l1 29v-69.5l1-5.5v28.5l1-15.5v-13.5l1 3.5v102l1 47.5v-146l1 .5v150.5l1-80.5v-73l1-2.5v49l1 31v-76l1 1v120l1-2.5v-117.5h1v123l1 28v-151h1v155.5l1-1v-154.5l1-.5v128l1-22.5v-106l1-8.5v105.5l1-13.5v-84l1-4v44l1-8v-34l1-3v47.5l1-10.5v-37.5l1 5v80l1 29v-109l1 .5v128.5l1-.5v-128l1-7.5v75l1-37.5v-34l1 .5v81l1 31.5v-110l1 .5v117.5l1-19v-99l1-1v82.5l1-88.5l1-3.5l1 85v-84.5l1 10.5v101l1-20.5v-83.5l1 3v103l1-5.5v-98l1-4v66l1 14.5v-80l1-6.5v32l1 65.5v-89l1-.5v79.5l1-25.5v-54.5l1-8.5v65l1-12.5v-53.5l1 11v71.5l1-8v-63h1v49.5l1-2v-47.5l1-8v48.5l1-17.5v-30l1 5.5v20l1-9.5v-16l1-1v15.5l1 11v-13l1 14.5v23.5l1 18v-17l1 24.5l1 .5l1-19v14.5l1-15.5v-21.5l1-20v19l1-19.5v-13.5l1-5l3-1l2 .5v14.5l1 5.5v-5l1 5v7l1 1l1-8.5v7l1-7l1-20.5v14.5l1-14.5l3-.5l4-1.5l1 8.5v-8.5l1 10v10l1 3.5v-3l1 3v4h1v-4.5l1-3v3l1-3.5v-17.5l3 .5v15l1 6v-5.5l1 6v15.5l1 6.5v-6l1 2v4l1-5v-13l1-8v7h1v-6.5l1 7.5v9.5l1 .5l1-15v11l2-31v12.5l1-13h2l4 2l1-.5v-.5l1-1v1l1-1v-.5l2-1v14.5l1 4v-3.5l1 3.5v2l1 1v-1l1 1h1l1-2v1.5l1-1.5l1-10v7l1-8v-9.5l2-.5l4 2.5l5-1l1 13v-13l1 18l1 2.5v-2.5l1 2.5v1l2 1l2-.5v-1l1-2v2l1-2l1-11v7.5l1-8.5v-8l1 1v1l1 .5v-.5l1 1v.5l4 .5l5-.5v-.5l1-1v1l1-1v-1l1-1v1l1-1l4 .5l4-.5l1 1v-1l1 1v.5l1 1v-1l1 1.5l5-2h4v1l1 1v-1l2 3v-1h1v1l1-1v-.5l2-.5v-1l5-1h4l4 1.5l8-2.5h7" stroke="#5BAE1F" stroke-width="2.6"/>
<path d="M188.5 1359.0l3 .5l8-2l1 .5v1l1 1v-1l1 1v1l1 1v-1l1-1v1.5l1-1.5v-1.5l1-1.5v1.5l1-1.5v-1.5h1v1l1 1v-1l1 1v1l1 1v-1l1 1l7 1l1-.5v.5l1-.5v-1l1-1v1l1-1v-.5h5l4-1l9 1.5l8-1v1l1 1v-1l2 2.5v-1l1 .5l7-2l5 1.5l4-2l2 1v11l1 6.5v-6l1 9l1 1.5v-1.5l1 1.5l1 .5l1-1v.5l1-.5v-1.5l1-3v3l1-3v-7l1-10v9.5l1-9.5l3-.5l1 1v-.5l2 2v-.5l1 1l3-.5v9l1 7v-6l1 9l1 1v-1l1 1.5l1-.5v.5l1-.5v-1.5l1-3v2.5l1-3v-7.5l1-10v9l1-8.5h1l1 8.5v-8.5l1 9.5v9l1 3.5v-3l1 3v2l1 1v-1l1 1.5l1-.5l1-1v1l1-1v-2l1-4v3.5l1-4v-10l1-8v6l1 8.5v-14.5l1 20l1 2v-2l1 2l1-1.5v1.5l1-1.5l1-19.5v14.5l1-15l1-1l1 14.5v-15l1 21.5l1 3v-2.5l1 3.5l2-.5v-2l1-3v3l1 2v-3.5l1 3.5v2.5l1 1.5v-1.5l1 1.5v1l2 .5l3-.5v-1l1-1.5v1.5l1-1v-1.5l1 1.5v1.5h1l2-.5v-1.5l1-3.5v3l1-3.5v-3.5l1 3v3.5l1 1.5v-1h1v1l1-1.5l1-19.5v16l1-6.5v-12l1 4v12.5l1 4.5v-15l1 2v15.5l1 1v-16.5l1-7.5v13l1 12.5v-27l1 10.5v18.5l1 .5v-19l1-.5v18.5l1-1v-18.5l1 2v20.5l1 2v-21.5l1-.5v21.5l1-2.5v-29l1 7.5v19.5l1-9.5v-13.5h1v19l1 6.5v-21l1-11v21.5l1 2.5v-21l1 2.5v16l1 9.5v-31l1 13.5v22.5h1v-21.5l1-.5v22l1 .5v-22.5h1v22.5h1v-22.5l1-13v26l1 10v-34.5l1 12v22.5h1v-22.5l1-5v25.5l1-7.5v-20l1 2v23.5l1 2v-21.5l1 .5v21l1 .5v-22l1-5.5v21l1 2v-30l1 9.5v20l1-6.5v-15l1-.5v14.5l1 8v-19.5l1-11v20l1 12.5v-29l1 4v18.5l1 7v-20.5l1 .5v21h1v-31.5l1 4v28l1 2.5v-23l1 1v23.5l1 .5v-30.5l1 7v23l1 .5v-23.5h1v23.5h1v-23.5l1-9v23.5l1 6.5v-22l1 .5v23l1 1v-23.5l1-.5v23l1-5v-21l1-3v20h1v-21l1 4v23.5l1-8.5v-19l1 1.5v14l1 3v-17l1-.5v21l1 6.5v-30.5l1 9.5v23l1-1v-22l1-1.5v21.5l1-.5v-23.5l1-2v29.5h1v-23l1-13.5v36.5h1v-33.5l1 10v23.5h1v-24l1-1.5v25l1-10v-22l1 .5v19.5l1-5v-16.5l1 1.5v25.5l1-5.5v-24.5l1-3.5v34.5l1 .5v-33.5l1 14.5v23l1-5v-24l1 4.5v21.5l1 .5v-21.5l1-14v18l1 16.5v-31l1 10v21h1v-21.5l1 1.5v22l1 1.5v-35l1 6.5v16.5h1v-16.5l1-7.5v23l1 12v-26l1-8.5v28.5l1 8.5v-23.5l1-13v28.5l1 3.5v-31l1-3v35.5l1 3v-39.5l1 16.5v23h1v-23.5l1-13.5v33l1 4v-27l1 3.5v23.5h1v-24.5l1-1.5v23.5l1 .5v-23.5l1 1v24.5h1v-25l1-14.5v29l1 4.5v-31l1 11v23l1 .5v-23.5l1-.5v23l1-1.5v-22l1 1.5v23l1 1v-23.5l1-.5v23l1-1v-22.5l1 .5v22.5l1 1v-29.5l1-4.5v34.5l1-2v-35.5l1-1v38.5l1-1v-23l1-.5v22l1 2v-23l1 1v23.5l1-1.5v-22l1-1v21.5l1 .5v-21.5h1v21h1v-21.5l1-8v28.5l1-2v-30l1 9.5v19.5l1-2v-18.5h1v18.5l1 1.5v-20l1-2.5v20.5l1 9v-23l1 .5v23l1 .5v-23.5l1-.5v23.5l1-.5v-29l1 2v27l1 1v-33.5l1 3v28.5l1 2v-23.5h1v23.5h1v-23.5h1v23.5l1-1.5v-24l1-6v26.5l1-13.5v-17.5l1-3v25.5l1 13.5v-31.5l1 5.5v26h1v-28.5l1 5v23.5l1-6v-31l1 6v29.5l1 1v-26l1-12v29.5l1 6.5v-31.5l1 9v23h1v-22.5l1-6v28l1-3.5v-23.5l1 4v21.5l1 1v-22.5h1v23l1-2v-30.5l1 1v28.5l1 1v-22h1v23.5l1 .5v-23.5l1 1v23.5l1 1.5v-24l1-13v23l1 13.5v-36.5l1 13v23l1-1.5v-24.5l1-7.5v30.5l1 3.5v-24l1-.5v23.5l1-1v-23l1-2.5v24.5l1-2.5v-22l1-4.5v27.5l1-1v-30l1 3.5v31.5l1 .5v-24l1 .5v23.5h1v-24l1-8.5v30l1-5.5v-29h1v35l1-1.5v-30.5l1 9v23.5l1-1.5v-22.5l1-.5v22l1 2v-23.5l1 1v24l1 1v-24.5l1 .5v24h1v-24l1-.5v24.5l1-3v-22h1v22l1 .5v-22.5l1 .5v23.5l1 1v-24l1-.5v23.5l1-10.5v-25.5l1 11v23.5h1v-28.5l1 5.5v22.5l1-4.5v-27l1 7v23l1 2v-31.5l1 5v29h1v-23.5l1-1v24.5l1-5v-27l1 7.5v23.5l1 1v-24.5l1 .5v24h1v-24h1v24h1v-25l1-4.5v26.5l1-11v-18l1 6v26h1v-24.5l1-12.5v27l1 5.5v-22.5l1 1.5v23.5l1 2v-24.5l1 .5v24h1v-24h1v24l1-1v-23.5l1-.5v23.5l1-.5v-22.5h1v22l1 .5v-22l1-8.5v30.5l1-20v-11.5l1 3v27l1 1v-22l1-.5v22.5l1-.5v-22.5l1-.5v22l1-1v-21.5l1-14v27.5l1 9v-23l1 1v21.5l1-4v-23.5l1 .5v25h1v-21l1-.5v20h1v-20l1-1v20l1-4v-17l1-.5v16l1 .5v-16l1-8.5v24l1-.5v-15.5l1-.5v15.5l1-.5v-15.5h1v14l1-1.5v-14l1-2.5v12.5h1v-10.5l1-.5v11l1-1.5v-10.5l1-.5v9.5l1-2v-8.5l1-1.5v7.5l1-3.5v-5h1v4.5l1-1v-5.5l1 .5v4l1-1v-3.5l1-.5v2.5l1-1v-1.5l1-.5v1l1-.5v-1l7-.5l5 .5l7-.5l48 .5l13 2.5v2l1 1.5v-2l1 1v3l1 1.5v-3.5l1-1.5v5l1 6v-9l1-.5v9.5l1 2.5v-7.5l1-1.5v11.5l1-2v-10.5l1 5v9l1 2.5v-12l1-3.5v10l1 12v-13.5l1 .5v14l1 .5v-15l1-.5v14l1-2.5v-16.5l1-3.5v23l1 4.5v-26.5l1-.5v24l1 5v-18l1-2v18l1 2.5v-28l1-.5l1 29.5v-21.5l1 3.5v18.5h1v-19l1-9v21l1 6.5v-21l1 1v20.5l1-1v-21l1 2v18l1-1v-17l1-.5v17l1 .5v-17h1v17l1 .5v-17.5h1v18l1 .5v-18.5l1-5v25l1 1v-27.5h1v24.5l1-2v-16.5h1v17l1 1v-17.5l1 .5v17h1v-17h1v19l1 1.5v-19h1v18.5h1v-18.5h1v18.5l1 .5v-19l1 8.5v9.5l1-.5v-6.5l1 2v5l1-.5l1-30v21.5l1 7v-11.5l1-4v16.5h1v-16l1 6v11l1 .5v-17.5l1 .5v17.5h1v-17.5l1 12v6h1v-18l1 .5v17l1 1v-18l1 9.5v9h1v-18l1 3.5v14.5l1 .5v-13h1v13.5h1v-12l1 1.5v10.5l1 .5v-6.5l1-3v9.5h1v-8l1 1v7.5l1 .5v-4.5l1-2v6.5h1v-5l1 1v4.5l1 .5v-4.5l1 .5v4h1v-3l1 1v2.5l1 .5v-3l1 .5v2.5h1v-1.5l1 1v1l1 .5v-2l1 1v1l1 .5v-1l1 .5v.5l1 .5v-1l2 1.5l1-3v3.5h1v-2.5l1-4.5v7.5l3 .5v-7l1-2v9h5v-6.5l1 6.5h2l1-5.5v5.5h1v-1h1v1h4v-4l1 4h5l1-6v6h1v-9l1-1.5v10.5h1l1-9v9h1v-12.5l1 12.5h2v-6l1-7.5v13.5h2v-13l1 1v12h1l1-14v14h1v-4.5l1 3v1.5h5v-1l1 1l1-.5v.5h3v-7l1 2v5l1-1v-13l1 9v5.5l2-.5v-10.5l1 11h1v-2l1 1.5l1-.5v1h1v-6.5l1-.5v6l1 1v-1l1 1h1l1-13.5v13.5h1v-3.5l1 3.5h3v-1.5l1-2v2.5l3 1v-10.5l1-2v12.5h1v-4.5l1 4.5h3l1-1.5v1.5h1v-3l1-3.5v6.5h6v-1l1 1h1l1-1v1h1v-2l1 2h1l1-7v7h1v-4l1-6v10h1v-8.5l1 8.5h1l1-3.5v3.5h8l1-10v10h7v-3l1 3h4l1-1v1h6v-5l1 5h20l1-5.5v5.5h1v-7.5l1 7.5l1-2v2h1v-.5l1 .5h7l1-2.5v2.5h10v-8l1-1v9h9v-3.5l1-2v5.5h1v-1l1 1h2l1-2v2h1v-2l1 2h3l1-1v1h1v-1l1 1h2l1-5.5v5.5h1v-5l1 5h3l2-1v1h10v-12l1 5v7h3v-1.5l1 1.5l13-.5l1-5v5.5h1l1-3.5v3.5h5v-4.5l1 4.5h5l1-1v1h4v-6l1-6.5v12.5l14-.5v-3.5l1 3.5h1v-1l1 1h12l1-.5v.5h11v-2.5l1 2.5l1-3.5v3.5h5v-2.5l1 2.5h16l2-1v1l12-.5v-4.5l1 4.5h2l1-12.5v12.5h1v-4.5l1-3v7.5h2v-.5l2 .5l1-.5v.5h2v-.5h1v.5h1v-.5l1 .5l1-.5v.5h2v-.5l1 .5l1-.5v.5h1v-.5h1v.5h1v-1h1v1h2v-3.5l1 .5v3h4v-2.5l1 2.5h1v-1l1-.5v1.5h1v-2.5l1 1.5v1h1v-1h1v1h1v-1l1-.5v1.5h1v-1.5h1v1.5h1v-1h1v1h1v-1h1v.5h3v-.5l2 .5l1-9v9h1v-3.5l1 3.5h1v-.5h1v.5h2v-.5l1 .5l1-.5v.5h1v-.5h1v.5h1v-.5h1v.5h1v-6.5l1-3.5v10h2v-1l1 1l1-10.5v10.5h1v-1l1 .5v.5h1v-1l1 .5v.5h3v-.5l1 .5h4l1-7v7l18-.5v-11.5l1 7v4.5h1v-8.5l1-1.5v10h5v-1l1 1h1l1-9.5v9.5h1v-12.5l1 12.5h1l1-4v4h1v-1l1 1h4l1-15v15h1v-1.5l1 1.5l1-10v10h7v-1h1v1l20-.5v-8l1 5v3h15v-18l1 1v17h6v-1l1 1h6l1-5.5v5.5h1v-18.5l1 12v6.5h2l1-12.5v12h19l1-20v20h1v-13l1 13h10l1-2.5v2.5h5v-12l1 8v4h2v-7.5l1-.5v8h1v-3.5l1 3.5h5v-7.5l1 7h1l1-.5v1h1v-1.5l1 1h1l1-2v2l1 .5v-3l1 2.5h3l1-4v4h1l1-15v15h1v-26.5l1 14v12.5h2l1-4v4h1v-27l1 27h3v-8.5l1 2.5v6h1v-.5l3 .5l1-.5v.5h1l1-11.5v11.5h1v-11l1 11h1v-11.5l1 3.5v7.5h1v-13.5l1-10.5v21.5l1 3l1-14v14l1-.5v-27.5l1 6.5v21h1v-1l1-1.5v1l1 1v-3h1v3.5h1v-3.5l1-1v3l1-1v-2.5l1-1v5.5l1-.5v-17l1-10v23.5l1 3.5v-27l1 5v22l1-5.5v-9.5h1v13.5l1 2v-13.5l1 3.5v9.5l1-4.5v-29l1-1.5v32l1 3.5v-17h1v17l1-2.5v-26.5l1-5.5v29.5l1 4.5l1-35v29l1 5.5v-33.5l1 16.5v18l1-11v-25l1 18.5v17.5h1v-17l1-.5v17l1 .5v-13.5l1-25v37l1 1v-17l1-13.5v31l1-1v-37l1 20.5v17l1 .5v-17l1 10v7l1-6.5v-29h1v34l1 1.5v-19.5l1-12.5v25l1 6v-16l1 6v10l1 .5v-17.5l1-7.5v21.5l1 2.5v-18.5l1-9.5v29h1v-16.5l1 1v13.5l1 2.5v-18.5l1-3v21.5l1-.5v-23.5h1v23.5l1 .5v-24h1v23.5l1 .5v-24l1-.5v24.5h1v-24.5l1-1v23.5l1-.5v-23h1v23.5l1 .5v-24l1-.5v23.5l1-1.5v-22l1 .5v24l1-2v-34l1 3v31.5l1-1v-22.5l1-6.5v25.5l1 4v-22l1 1v22.5l1 .5v-23l1 .5v22.5l1-.5v-22.5l1-.5v22.5h1v-22.5h1v23l1-1v-23l1-2v20l1-5.5v-16.5l1-1v14.5l1 10.5v-25l1 5.5v24.5l1 .5v-24l1-1.5v25l1-3v-22.5h1v22.5l1 .5v-22.5h1v23l1 .5v-23l1-1.5v25l1 .5v-25l1 1.5v23.5l1 .5v-24h1v24h1v-23.5h1v23.5l1-1v-23l1-.5v21.5h1v-21.5l1 .5v22l1-1v-30l1 4v25l1 1.5v-23.5l1-4.5v17.5l1 5.5v-20l1 1.5v23l1 .5v-22l1-.5v22.5l1-1v-22l1-1v22.5l1-3v-29.5l1 3.5v19.5l1-3v-14.5l1 2v20l1 2v-22.5l1-3.5v21.5l1 .5v-23.5l1 1v27.5l1 .5v-31l1 1.5v30l1 1v-27.5l1 6.5v24h1v-26.5l1-2.5v25.5l1-2v-24.5l1-9.5v18.5l1 16v-21.5l1-.5v21l1-1v-20l1-4.5v25l1 3.5v-26.5l1 6v22h1v-22l1-.5v22.5h1v-23l1-.5v22l1-1.5v-21.5l1-.5v21.5l1 1v-27l1-4v27.5l1 5v-22h1v22l1-2.5v-22.5l1-3v17l1 3.5v-18.5l1 2v18.5l1-4.5v-20h1v14l1 12.5v-23l1 3.5v21.5h1v-21l1-3v19.5l1-2v-20.5l1 4.5v18.5l1 2v-19l1-.5v19.5h1v-19.5h1v20.5l1 .5v-21h1v21l1-1.5v-20h1v19l1-.5v-27.5l1 8v18.5l1-3.5v-19l1 2v16l1 1v-20l1-.5v19.5l1 4v-18.5l1 .5v19.5l1 1v-20h1v20l1-3.5v-24.5l1 3.5v17.5l1 4v-20.5l1 2.5v20l1 .5v-20l1-.5v19.5l1-1v-19.5l1-6.5v17.5l1-1.5v-20l1 .5v29l1 1.5v-19l1-3v21l1 1v-19l1-.5v19.5l1-2.5v-21.5l1 1v21.5l1-5.5v-23.5l1 10v19.5l1-.5v-20l1-.5v18.5h1v-28l1-1v28l1 2.5v-18h1v17l1-1v-16h1v16l1-1v-23.5l1 1v20.5l1-.5v-14l1-6v18l1-2v-17l1 20.5l1 3v-2.5l1 3v1.5l1 .5v-.5l1 .5l1-1.5v1l1-1v-2.5l1-4.5v4.5l1-5v-14.5l1-6l2-.5h3v16.5l1 6v-5.5l1 7.5h1l1-.5l1-8.5v6l1-6.5v-16l4-.5l5-1.5v9.5l1 12.5v-10.5l1 14.5l1 1v-1l1-.5v1.5l1-1.5l1-23.5v19.5l1-19.5l1 .5l1 17v-17l1 23.5l1 3v-3l1 3.5l2-.5l1-7v5h1v-4.5l1 6l2-.5l1-10.5v7.5l1-8v-14l3-.5l4 2l1-1v.5l1-.5v-1l1-.5v.5l1-1l1 15.5v-15.5l1 20l1 2v-2l1 2v1l1 .5l2-.5v-1.5l1-3.5v3l1-3.5v-7.5l1-11v10l1-10.5h1l4 2l4-1h2v14.5l1 5.5v-5l1 5v2.5l1 1.5v-1l1 2h1l2-.5v-1l1-2.5v2l1-2l1-12v8l1-9.5v-8.5l1 1v1l1 1v-1l1 1v1l4 .5l5-1v-.5l1-1v1l1-1v-1l1-.5v.5l1-1l4 .5l4-.5l1 1v-1l1 1v1l1 .5v-.5l1 1l5-1.5l4-.5v1l1 1v-1l2 3v-1l1 .5v.5l1-.5v-1l2-.5v-.5l5-1.5l4 .5l4 1.5l8-2.5l7-.5" stroke="#A668A6" stroke-width="2.6" stroke-dasharray="7 7 5 8 8 6 6 9"/>
<path d="M188.5 1358.5l3 1l8-2h1v1l1 1.5v-1l1 1v1l1 1v-1l1-1v1.5l1-1.5v-1.5l1-1.5v1.5l1-1.5v-1.5h1v1l1 1v-1l1 1v1l1 1v-1l1 1l7 1l1-.5v.5l1-.5v-1l1-1v1l1-1v-.5h5l4-1l9 1.5l8-1v1l1 .5v-.5l2 2.5v-1l1 .5l7-2l5 1l4-1.5l2 .5v11l1 6.5v-6l1 8.5l1 1.5v-1.5l1 1.5l1 .5l1-1v.5l1-.5v-1.5l1-2.5v2.5l1-3v-6.5l1-9.5v9l1-9l3-.5l1 1v-1l2 2.5v-.5l1 1l3-1v9l1 7v-6l1 8.5l1 1v-1l1 1.5l1-.5l1-1.5v1.5l1-1.5l1-10.5v7.5l1-8.5v-8.5l3 .5v8l1 10v-9l1 12l1 2v-1.5l1 1.5v1h1h2v-1l1-2v2l1-2l1-13.5v9.5l1-11.5v-6h1v13.5l1 5.5v-5l1 7h2l1-6v4.5l1-5v-13.5l1-1v1l1-1v-.5l1-.5v14.5l1 6v-5.5l1 6v2.5l1 1v-1l1 .5l1-1.5v1.5l1-2v-3l1 1.5v3.5l1 2.5v-2.5l1 2.5v1.5l1 1v-1l1 1l1 .5l2-.5l1-1v.5l1-1v-1.5l1-.5v1.5l1 1v-1l1 1.5l1-.5l1-2v2l1-2v-3l1-4v3.5l1 3v-3.5l1 4.5h1l1-4.5v3.5l1-3.5v-15.5l1-2.5v12l1 4v-12l1 2v14.5l1 2.5v-15h1v16l1-11v-12l1-2v26.5l1 1.5v-17.5h1v18.5l1-1v-18l1-1v17.5l1 4v-19.5l1 1v21l1-1v-20.5l1-9.5v28l1-2.5v-18.5l1-3v13l1 5v-18l1 4v20.5l1-10.5v-20.5l1 2.5v20.5l1-2.5v-15.5l1-5v30l1 4.5v-21.5l1 .5v21.5h1v-21.5h1v21.5l1 .5v-22l1-.5v22.5l1-9.5v-25l1 1v33.5h1v-21.5h1v22l1-2v-25l1-2v19.5l1 5.5v-23l1 4v21h1v-20.5l1-.5v21l1-6v-20.5l1-6.5v29l1-.5v-19.5l1-1.5v15l1-1.5v-13.5l1 2.5v19l1-10v-20l1 3.5v28l1-6v-18l1 5v20l1 .5v-20l1-10.5v31l1 .5v-27.5l1 7.5v22.5l1 1v-22.5l1-6.5v29.5h1v-22.5h1v23l1-.5v-22.5h1v23l1-9v-22.5l1 7.5v21l1 2v-22.5l1 .5v22.5l1-.5v-22.5l1-3v20.5l1-4v-19.5l1-1v20.5l1 6.5v-22.5l1-4v18l1-3v-14l1 .5v16.5l1 3v-20l1-3.5v30l1 2v-22.5h1v21.5l1-2.5v-20.5l1-2.5v23l1 3.5v-28.5l1 6.5v22.5h1v-35.5l1 3v32.5h1v-23l1-.5v23l1-.5v-24l1-6.5v21l1-2v-18.5l1-2.5v16.5l1 10v-24.5l1-5v24.5l1 6v-33.5l1 1.5v32.5l1 3.5v-22l1-6v23l1 2.5v-21l1 .5v21l1-17v-18l1 4v30h1v-20.5l1-.5v21l1 2v-21.5l1-11v33.5l1-11.5v-16h1v16l1-1v-22l1 8.5v25.5l1-6v-28l1 13.5v23l1-8v-27.5l1 1v29.5l1 2v-34.5l1-1v38l1 .5v-23h1v23l1-4v-32l1 9.5v26.5h1v-23l1-1v24l1-3v-22.5l1 .5v22.5l1 2v-23.5l1-.5v24.5l1-10.5v-28l1 2.5v30l1 3v-22.5h1v23l1-1.5v-22l1-.5v21.5l1 2.5v-22.5l1 .5v23l1-1v-22.5l1-.5v22l1 .5v-22l1-6v28.5l1 1v-33.5l1-3v34.5l1 1.5v-37l1 14v22.5l1-1.5v-21.5l1 1v22.5l1 1v-22.5l1-.5v22l1-1.5v-21l1 .5v20.5h1v-20.5l1-.5v21l1-1v-28l1-3v29l1-1v-19l1-1v18h1v-18h1v19.5l1-2v-20l1 6.5v22.5l1 .5v-23l1 .5v23l1-1v-22.5l1-5.5v27.5l1 .5v-26.5l1-5.5v33l1-2.5v-27.5l1 6.5v23.5l1-.5v-23h1v23.5h1v-23.5l1-1.5v23.5l1-3.5v-26l1-4.5v17.5l1 5v-25l1 7.5v30.5l1-.5v-25l1-2.5v28l1-.5v-22.5l1-13v30l1 4.5v-28.5l1 4v25l1-8v-28.5l1 4.5v30.5l1 .5v-22.5l1 .5v22l1-.5v-27l1 .5v23l1 1.5v-20.5h1v21.5l1 .5v-22l1-9.5v29.5l1-.5v-28l1 7.5v21.5l1 1v-22.5l1 .5v22.5l1 1.5v-23l1 1v23l1-13.5v-22l1-.5v35.5h1v-22.5l1-3v24l1-2v-29l1 9.5v23l1-.5v-23l1-.5v22l1-.5v-24h1v21.5l1 .5v-26l1-4v29.5l1 4.5v-30l1 7.5v23l1 .5v-23l1-.5v23l1-2v-29.5l1-4.5v28.5l1 6v-34l1 2.5v30l1 2v-23l1-.5v22l1-1v-21.5l1 .5v23l1 1.5v-23.5l1 .5v24l1-.5v-23h1v23l1 .5v-24l1-.5v21h1v-21h1v22l1 1.5v-23l1 .5v23.5l1-1v-23l1-12.5v25l1 8.5v-22.5l1-4.5v27h1v-22l1-8.5v26l1 2.5v-22l1-6v30.5l1 2.5v-28.5l1 5.5v23h1v-24l1-7.5v26.5l1 3.5v-22.5h1v23.5h1v-23h1v23.5h1v-23.5l1-1v24.5l1-3.5v-25.5l1-2.5v17.5l1 13.5v-25l1 1.5v23.5l1-9v-26.5l1 9.5v22l1 2.5v-23l1 1v24l1-.5v-23h1v23.5h1v-24h1v22.5l1-.5v-22.5l1 .5v21.5h1v-21.5h1v21.5h1v-29l1-1v11l1 17.5v-26l1 6v21.5l1-.5v-21.5l1-.5v21.5l1-1v-21l1-.5v21l1-8v-26.5l1 13v22h1v-21l1-6v23l1 2v-24l1 3.5v20.5l1-1.5v-19l1-.5v19.5l1-1v-19.5l1-1v16.5l1-1v-15.5h1v15.5l1-.5v-23l1 7.5v15.5l1-.5v-15l1-1v15l1-1.5v-13.5l1-1v13l1-3.5v-12l1 1.5v10h1v-10l1-1v10l1-1.5v-9.5l1-1v9l1-3v-7l1-1v5l1-.5v-4.5l1-2v5l1-.5v-4l1-.5v3l1-1.5v-2l1-.5v1.5l1-.5v-1l1-.5v1l1-1l6-.5l5 .5l7-.5l48 .5l12 2.5l1 2v-2l1 1v2.5l1 2v-3l1 1v3.5h1v-5l1 2v8.5h1v-9l1 4.5v7l1 2.5v-11l1-1v10l1 3.5v-8.5l1-1v12l1-5.5v-9.5l1 8v13l1 1v-13.5l1-.5v14.5l1-1.5v-13.5l1-4.5v15.5l1 3v-22l1 1v25.5l1-3v-23l1 10.5v17.5l1-2v-17.5l1-7v27l1-27.5l1 7.5v21l1 .5v-18l1-.5v18.5l1-7v-20.5l1 6.5v20.5l1 .5v-20l1-1v19.5l1-1v-17h1v16l1-.5v-16l1 .5v16l1 .5v-16.5h1v17h1v-17h1v17.5l1 2v-24.5l1-1v26l1-2.5v-23.5l1 5.5v16l1 .5v-16.5l1 .5v16.5h1v-16h1v16l1 2.5v-18.5l1 1.5v18h1v-18h1v18h1v-18h1v18l1-1v-9l1 2.5v6.5l1 .5v-5l1-4v8.5l1-8.5v-20.5l1 16.5v10.5l1 1.5v-16l1 .5v15l1 1v-10.5l1-5.5v17h1v-16.5h1v17h1v-5.5l1-11.5v17.5l1-.5v-16.5h1v17l1 .5v-8.5l1-8.5v17.5h1v-14.5l1 2v12.5l1 .5v-13l1 1.5v12h1v-10l1 4v6l1 .5v-9.5l1 1.5v8l1 .5v-7.5l1 3.5v4l1 .5v-6.5l1 1.5v4.5l1 1v-4.5l1 .5v4l1 .5v-4l1 1v3l1 .5v-2.5l1-.5v3l1 .5v-2.5l1 1v1.5l1 .5v-1l1-.5v2h1v-1l1 1v.5l1 .5v-1l1 .5v1h1l2 1v-3.5l1 1v2.5l1 .5v-7.5l1 8h1l1-6.5v7h1v-9l1 9h3l1-6.5v6.5h4v-5.5l1 5.5h1v-1l1 1h2l1-3.5v3.5h7v-5.5l1-3v8.5h1v-10l1 10.5h1v-9.5l1-3.5v13h1v-1l1 1l1-6v6h1v-13.5l1 13.5l1-13v13h1v-12.5l1 12.5h1v-14l1 9v5h1v-1.5l1 1.5h3l1-1v1h2v-.5l1 .5h1l1-7.5v7.5h1v-5l1-9v13l1 1v-5l1 5l1-11v11h1v-.5l1-1v1.5h2l1-6.5v6.5l1-1v-6l1 7h3v-13l1 13h1v-.5l1 .5l1-.5v.5l1 .5v-1.5l1-2v2.5l3 1v-10.5l1-2v12.5h1v-5l1 5h3l1-1.5v1.5h1v-3l1-3.5v6.5h6v-1l1 1h1l1-1v1h1v-2l1 2h1l1-7v7h1v-4l1-6v10h1v-8.5l1 8.5h1l1-3.5v3.5l8 .5l1-10.5v10.5l7 .5v-3l1 2.5l4 .5l1-.5v1h6v-5.5l1 5.5l20 1.5l1-6v6h1v-8l1 8.5l1-2.5v2.5h1v-1l1 1l7 .5l1-3v3l10 .5v-8.5l1-1.5v10.5l9 .5v-4l1-2.5v6l1 .5v-1l1 1h2l1-2v2.5h1v-2.5l1 2.5h3l1-1v1l1 .5v-1.5l1 1.5h2l1-6.5v6.5h1v-5.5l1 5.5l3 .5l1-.5l1-.5v1l10 .5v-14l1 6v8.5h3v-2l1 1.5h13l1-6.5v7h1l1-4.5v4.5h5v-5.5l1 5l5 .5l1-1v1h4v-7.5l1-7.5v15h14v-4.5l1 4.5h1v-2l1 1.5h12l1-.5v1h11v-3.5l1 3.5l1-4.5v4.5h5v-3l1 3l16-1l2-1v1l12-.5v-6l1 5.5h1v-.5l1 .5l1-15v15h1v-5.5l1-3.5v8.5h1v-.5h1v.5h1v-.5l1 .5l1-1v1h2v-1h1v.5h1v-.5l1 .5l1-1v1h1v-.5l1-.5v1h1v-1h1v1l1-.5v-.5h1v.5h1v-1h1v1h1l1-4v4l1-.5v-3l1 3l2-.5v.5h1v-3l1 3h1v-1l1-.5v1h1v-2.5l1 1.5v1h1v-1h1v1h1v-1l1-.5v1.5h1v-1.5l1 .5v1h1v-1h1v1h1v-.5h1v.5h3v-.5l1 .5l1-.5v.5h1v-10l1 6.5v4h1v-1h1v1h1v-1l1 .5v.5h1v-.5h1v.5h1v-.5l1-.5v1h1v-1h1v1h1l1-7.5v7.5h1v-11.5l1 11.5l1 .5v-1l1 .5l1-11.5v11.5l1 .5v-1.5l1 .5v1h1v-1.5l1 .5v1h1v-.5h1v.5h1v-1l1 1l2-.5v.5h3v-8l1 8l16 .5l1-14v14l1 .5v-6l1-4.5v10.5l1-.5v-12l1 12h3l1-1.5v1.5h3v-11l1-4v15h3v-5l1 5h6v-18l1 18l2-.5v-11.5l1 11.5h5l1-1v1h1v-1l1 1l18-.5l1-9.5v9.5h1v-3.5l1 3.5l13-.5l1-21v21h1v-19.5l1 19.5h4l1-1v1h8v-6.5l1-15v21.5h1v-7.5l1 7.5l1-2.5v2.5l1-.5v-13.5l1 13.5h17l1-1v1l1-.5v-23l1 8.5v15l12-.5v-3l1 3h3l1-14v14h1v-4.5l1 4l1-8v8.5h1v-9.5l1 5v4l1 .5v-1.5l1 1h3l1-8.5v8.5h3v-1l1-.5v1.5h3v-3h1v3l5-.5v-5l1 2.5v2h1v-16.5l1-13v29.5h1v-14l1 14l1-1v1h1l1-30.5v30l1 .5v-7l1 6.5h1l1-9.5v9.5h1v-6.5l1 6.5l4-.5v-.5l1-.5v1h1v-12.5l1 .5v12h1l1-12.5v12h1v-8l1-7v15l1-3v-23.5l1 26.5h1v-15l1-15v29.5h1v-23l1 23l1-1.5v-1.5l1-1v3l1 1v-4h1v4l1-2v-3l1-1v3l1 2v-6l1-13v18.5l1-4v-25h1v29l1-.5v-23l1 7.5v10l1 4.5v-14.5l1 2v14.5l1-.5l1-36v31l1 1.5v-34l1 20v17.5l1 .5v-18.5l1-12.5v28l1-2.5v-31.5l1 25v11l1-6.5v-31l1 1.5v36l1 .5v-19l1-19v26.5l1 11.5v-18.5l1 .5v18l1-.5v-18l1 4.5v14l1-2v-39l1 22.5v18l1 .5v-33l1-7.5v39.5l1 .5v-18h1v18h1l1-37v30.5l1 5v-35.5l1 17v20l1-7v-26.5l1 16v16.5l1 .5v-11l1-7.5v18.5l1-4v-22l1 5.5v19.5l1 1v-30.5l1 13.5v17l1-2v-14.5l1-2.5v19l1 .5v-22.5l1-2.5v24l1 .5v-24.5h1v24.5h1v-25h1v25h1v-25l1-.5v25.5l1-2v-24l1-.5v24l1 .5v-24.5h1v25l1-1.5v-24h1v23l1 2.5v-25l1-12.5v35.5h1v-32l1 8.5v23l1-4v-26.5l1 8.5v22l1 1.5v-23h1v23.5l1 .5v-23.5l1-.5v23.5l1-1v-23h1v23l1 .5v-23.5l1-1v23.5l1-5v-21l1-2v17.5l1-3.5v-14.5h1v25.5l1 5v-25.5l1 1.5v24.5l1-1v-25l1-.5v23h1v-23h1v23.5l1 .5v-23.5l1 .5v23l1 1v-26l1 1v25h1v-24h1v24.5h1v-24h1v24h1v-24l1-.5v23.5l1-2v-22l1 .5v21.5l1 1v-22.5l1-8.5v30l1-1.5v-25l1 3.5v23.5l1-10.5v-18l1 3v20l1 4.5v-23l1 1.5v22h1v-22.5l1-.5v22.5l1-1v-22.5l1-10v29.5l1-6.5v-19.5l1 2v14.5l1 7.5v-20l1-.5v22.5l1-4.5v-21.5l1-1.5v23.5l1 5v-27.5l1-3v31l1 .5v-30l1 3.5v27.5l1 2.5v-23.5l1-2.5v26l1-3v-26l1-.5v24.5l1-15.5v-18.5l1 12.5v21.5l1-.5v-21h1v19.5l1 1v-25l1 1.5v26.5l1 1.5v-22h1v21.5h1v-21.5l1-.5v22l1-1.5v-21.5l1-1v21l1-.5v-20.5l1-4.5v26l1-3.5v-27l1 10.5v21.5h1v-21l1-3v21.5l1-8v-17l1 2.5v17.5l1 2v-18l1-5.5v19l1-6v-13.5l1 3.5v22l1 2.5v-21l1 .5v20.5l1-4.5v-19l1-2.5v19.5l1 2v-17.5l1 1v19l1-.5v-18.5h1v19l1 .5v-19.5h1v20l1-.5v-19.5l1-.5v19l1-1v-18.5l1-8.5v26.5l1-1v-17.5l1-4v18l1-1v-15l1-3v19l1-1v-18.5l1 5v17.5l1 1.5v-19l1 .5v19h1v-19l1-7.5v23.5l1-3.5v-16.5l1 .5v20l1 1.5v-19l1 .5v19l1-1v-18.5l1-1v18.5l1-8v-16.5l1-3.5v18.5l1 8.5v-26.5l1 10.5v17.5l1-1v-19.5l1 3v17.5h1v-18l1-4v19.5l1 1v-20l1-6.5v21.5l1 5.5v-18.5l1-.5v18.5l1-2v-17l1-8.5v25.5l1-1v-25.5l1 11v16.5l1-.5v-15.5h1v14.5h1v-14.5l1-8v21.5l1-2v-18.5l1 5.5v12.5l1-2v-16l1-1v15.5l1 3v-5l1 5.5v2.5l1 1v-1l1 1.5h1l1-1v1l1-1v-2l1-4v4l1-4.5v-13.5l1-5l3-1l2 .5v14.5l1 5.5v-5l1 6.5h2l1-7.5v5.5l1-6v-14.5l4-.5l4-1.5h1v8.5l1 11.5v-10l1 13.5l1 .5v-.5l1-.5v1l1-1l1-21v17.5l1-17.5l1 .5l1 15v-15l1 21l1 2.5v-2.5l1 3.5l2-.5l1-6.5v4.5h1v-4l1 5.5l2-.5l1-9.5v7l1-7.5v-12.5l3-.5l4 2l1-1v.5l1-.5v-1l1-.5v.5l1-1l1 14v-14.5l1 18.5l1 2v-2l1 2v1h1l2-.5l1-4.5v3l1-3v-7l1-10.5v9.5l1-9.5l1-.5l4 2.5l4-1h2v13l1 5v-4.5l1 4.5v2.5l1 1v-1l1 1.5l1 .5l1-.5l1-1v1l1-1v-2l1-3.5v3.5l1-3.5v-7.5l1-9v8l1-7l2 2.5v-.5l1 1h4l3-.5l1-.5v.5l1-.5v-1l1-1v1l1-1v-1h1l4 .5l3-.5h2v1l1 .5v-.5l1 .5v1l1 .5l8-2.5l1 1.5v-1l1 1v1l1 1v-1l1 1v1h1v-1l1-.5v.5l2-2v1l1-1l4-1h4l4 1.5l8-2.5h7" stroke="#922A94" stroke-width="2.6"/>
</g>
<path d="M188.2 640.0h16.5M1830.0 640.0h-16.5M188.2 576.8h16.5M1830.0 576.8h-16.5M188.2 513.5h16.5M1830.0 513.5h-16.5M188.2 450.3h16.5M1830.0 450.3h-16.5M188.2 387.0h16.5M1830.0 387.0h-16.5M188.2 323.7h16.5M1830.0 323.7h-16.5M188.2 260.5h16.5M1830.0 260.5h-16.5M188.2 197.2h16.5M1830.0 197.2h-16.5M188.2 134.0h16.5M1830.0 134.0h-16.5M461.8 70.7v16.5M461.8 703.3v-16.5M735.5 70.7v16.5M735.5 703.3v-16.5M1009.1 70.7v16.5M1009.1 703.3v-16.5M1282.7 70.7v16.5M1282.7 703.3v-16.5M1556.4 70.7v16.5M1556.4 703.3v-16.5M188.2 1272.5h16.5M1830.0 1272.5h-16.5M188.2 1209.3h16.5M1830.0 1209.3h-16.5M188.2 1146.0h16.5M1830.0 1146.0h-16.5M188.2 1082.8h16.5M1830.0 1082.8h-16.5M188.2 1019.5h16.5M1830.0 1019.5h-16.5M188.2 956.3h16.5M1830.0 956.3h-16.5M188.2 893.0h16.5M1830.0 893.0h-16.5M188.2 829.8h16.5M1830.0 829.8h-16.5M188.2 766.5h16.5M1830.0 766.5h-16.5M461.8 703.3v16.5M461.8 1335.8v-16.5M735.5 703.3v16.5M735.5 1335.8v-16.5M1009.1 703.3v16.5M1009.1 1335.8v-16.5M1282.7 703.3v16.5M1282.7 1335.8v-16.5M1556.4 703.3v16.5M1556.4 1335.8v-16.5M188.2 1906.4h16.5M1830.0 1906.4h-16.5M188.2 1843.0h16.5M1830.0 1843.0h-16.5M188.2 1779.6h16.5M1830.0 1779.6h-16.5M188.2 1716.2h16.5M1830.0 1716.2h-16.5M188.2 1652.8h16.5M1830.0 1652.8h-16.5M188.2 1589.4h16.5M1830.0 1589.4h-16.5M188.2 1526.0h16.5M1830.0 1526.0h-16.5M188.2 1462.6h16.5M1830.0 1462.6h-16.5M188.2 1399.2h16.5M1830.0 1399.2h-16.5M461.8 1335.8v16.5M461.8 1969.8v-16.5M735.5 1335.8v16.5M735.5 1969.8v-16.5M1009.1 1335.8v16.5M1009.1 1969.8v-16.5M1282.7 1335.8v16.5M1282.7 1969.8v-16.5M1556.4 1335.8v16.5M1556.4 1969.8v-16.5" stroke="#1f1f1f" stroke-width="3.7" fill="none"/>
<path d="M188.2 70.7H1830.0V703.3H188.2ZM188.2 703.3H1830.0V1335.8H188.2ZM188.2 1335.8H1830.0V1969.8H188.2Z" stroke="#1f1f1f" stroke-width="3.7" fill="none" stroke-linejoin="miter" stroke-linecap="square"/>
<text x="171.5" y="721.9" font-family="Liberation Serif, Times New Roman, serif" font-weight="bold" font-size="51" fill="#222" text-anchor="end">170</text>
<text x="171.5" y="595.4" font-family="Liberation Serif, Times New Roman, serif" font-weight="bold" font-size="51" fill="#222" text-anchor="end">190</text>
<text x="171.5" y="468.9" font-family="Liberation Serif, Times New Roman, serif" font-weight="bold" font-size="51" fill="#222" text-anchor="end">210</text>
<text x="171.5" y="342.3" font-family="Liberation Serif, Times New Roman, serif" font-weight="bold" font-size="51" fill="#222" text-anchor="end">230</text>
<text x="171.5" y="215.8" font-family="Liberation Serif, Times New Roman, serif" font-weight="bold" font-size="51" fill="#222" text-anchor="end">250</text>
<text x="171.5" y="89.3" font-family="Liberation Serif, Times New Roman, serif" font-weight="bold" font-size="51" fill="#222" text-anchor="end">270</text>
<text x="171.5" y="1354.4" font-family="Liberation Serif, Times New Roman, serif" font-weight="bold" font-size="51" fill="#222" text-anchor="end">170</text>
<text x="171.5" y="1227.9" font-family="Liberation Serif, Times New Roman, serif" font-weight="bold" font-size="51" fill="#222" text-anchor="end">190</text>
<text x="171.5" y="1101.4" font-family="Liberation Serif, Times New Roman, serif" font-weight="bold" font-size="51" fill="#222" text-anchor="end">210</text>
<text x="171.5" y="974.9" font-family="Liberation Serif, Times New Roman, serif" font-weight="bold" font-size="51" fill="#222" text-anchor="end">230</text>
<text x="171.5" y="848.4" font-family="Liberation Serif, Times New Roman, serif" font-weight="bold" font-size="51" fill="#222" text-anchor="end">250</text>
<text x="171.5" y="1988.4" font-family="Liberation Serif, Times New Roman, serif" font-weight="bold" font-size="51" fill="#222" text-anchor="end">170</text>
<text x="171.5" y="1861.6" font-family="Liberation Serif, Times New Roman, serif" font-weight="bold" font-size="51" fill="#222" text-anchor="end">190</text>
<text x="171.5" y="1734.8" font-family="Liberation Serif, Times New Roman, serif" font-weight="bold" font-size="51" fill="#222" text-anchor="end">210</text>
<text x="171.5" y="1608.0" font-family="Liberation Serif, Times New Roman, serif" font-weight="bold" font-size="51" fill="#222" text-anchor="end">230</text>
<text x="171.5" y="1481.2" font-family="Liberation Serif, Times New Roman, serif" font-weight="bold" font-size="51" fill="#222" text-anchor="end">250</text>
<text x="188.2" y="2035" font-family="Liberation Serif, Times New Roman, serif" font-weight="bold" font-size="51" fill="#222" text-anchor="middle">300</text>
<text x="461.8" y="2035" font-family="Liberation Serif, Times New Roman, serif" font-weight="bold" font-size="51" fill="#222" text-anchor="middle">500</text>
<text x="735.5" y="2035" font-family="Liberation Serif, Times New Roman, serif" font-weight="bold" font-size="51" fill="#222" text-anchor="middle">700</text>
<text x="1009.1" y="2035" font-family="Liberation Serif, Times New Roman, serif" font-weight="bold" font-size="51" fill="#222" text-anchor="middle">900</text>
<text x="1282.7" y="2035" font-family="Liberation Serif, Times New Roman, serif" font-weight="bold" font-size="51" fill="#222" text-anchor="middle">1100</text>
<text x="1556.4" y="2035" font-family="Liberation Serif, Times New Roman, serif" font-weight="bold" font-size="51" fill="#222" text-anchor="middle">1300</text>
<text x="1830.0" y="2035" font-family="Liberation Serif, Times New Roman, serif" font-weight="bold" font-size="51" fill="#222" text-anchor="middle">1500</text>
<text x="243.0" y="660.7" font-family="Liberation Serif, Times New Roman, serif" font-weight="bold" font-size="50" fill="#000">(a)</text>
<text x="246.5" y="1293.3" font-family="Liberation Serif, Times New Roman, serif" font-weight="bold" font-size="50" fill="#000">(b)</text>
<text x="246.5" y="1925.8" font-family="Liberation Serif, Times New Roman, serif" font-weight="bold" font-size="50" fill="#000">(c)</text>
<text x="1007" y="2107.7" font-family="Liberation Serif, Times New Roman, serif" font-weight="bold" font-size="50" fill="#222" text-anchor="middle">Wavenumber (cm<tspan font-size="38" dy="-24">−1</tspan><tspan dy="24">)</tspan></text>
<text transform="translate(48.5,1024.5) rotate(-90)" font-family="Liberation Serif, Times New Roman, serif" font-weight="bold" font-size="50" fill="#222" text-anchor="middle">Brightness Temperature (K)</text>
<path d="M1037.8 21.1H1162.2" stroke="#0174BF" stroke-width="3.6"/>
<text x="1173" y="38.5" font-family="Liberation Serif, Times New Roman, serif" font-weight="bold" font-size="48" fill="#000"><tspan font-style="italic" font-weight="normal">τ</tspan>=0.2</text>
<path d="M1300.5 22.4H1424.4" stroke="#5BAE1F" stroke-width="3.6"/>
<text x="1436" y="38.5" font-family="Liberation Serif, Times New Roman, serif" font-weight="bold" font-size="48" fill="#000"><tspan font-style="italic" font-weight="normal">τ</tspan>=1.0</text>
<path d="M1565.4 22.4H1690.6" stroke="#922A94" stroke-width="3.6"/>
<text x="1702" y="38.5" font-family="Liberation Serif, Times New Roman, serif" font-weight="bold" font-size="48" fill="#000"><tspan font-style="italic" font-weight="normal">τ</tspan>=8.0</text>
</svg></body></html>
